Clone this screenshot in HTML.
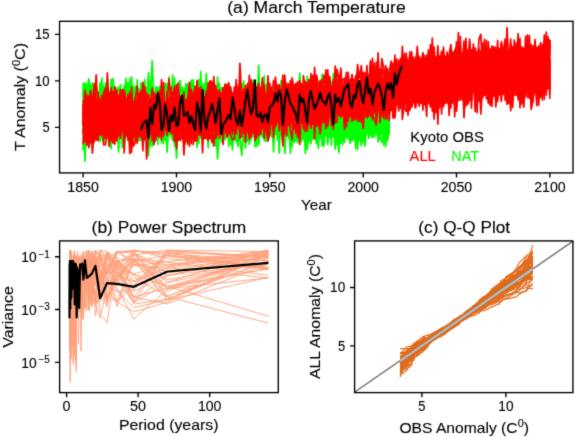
<!DOCTYPE html>
<html><head><meta charset="utf-8"><title>March Temperature</title><style>html,body{margin:0;padding:0;background:#fff;}svg{display:block;font-family:"Liberation Sans",sans-serif;}</style></head><body>
<svg width="575" height="437" viewBox="0 0 575 437">
<defs>
<filter id="bl" x="0" y="0" width="575" height="437" filterUnits="userSpaceOnUse" color-interpolation-filters="sRGB"><feConvolveMatrix order="3" kernelMatrix="0.01440 0.09120 0.01440 0.09120 0.57760 0.09120 0.01440 0.09120 0.01440" divisor="1" edgeMode="duplicate"/></filter>
<clipPath id="ca"><rect x="59.55" y="21.3" width="513.45" height="151.6"/></clipPath>
<clipPath id="cb"><rect x="59.6" y="240.9" width="218.70000000000002" height="151.70000000000002"/></clipPath>
<clipPath id="cc"><rect x="354.6" y="240.9" width="218.29999999999995" height="151.70000000000002"/></clipPath>
</defs>
<rect width="575" height="437" fill="#fff"/>
<g filter="url(#bl)">
<g clip-path="url(#ca)" fill="none" stroke-linejoin="round" stroke-linecap="butt">
<g stroke="#00ff00" stroke-width="1.7">
<polyline points="83.1,113.4 85,109.5 86.8,117 88.7,125 90.6,119.4 92.4,126.4 94.3,112.7 96.2,96 98,119.8 99.9,121.5 101.8,107.1 103.6,108.8 105.5,112.1 107.4,125.5 109.2,113.8 111.1,104.4 113,130.9 114.8,119.4 116.7,138.1 118.6,130.2 120.4,137.4 122.3,116.5 124.2,129.9 126,109.9 127.9,111.4 129.8,115.9 131.6,146.1 133.5,120.4 135.4,114.1 137.2,112 139.1,133.3 141,119.6 142.9,126.1 144.7,123.9 146.6,99.7 148.5,123.9 150.3,113.9 152.2,102 154.1,121 155.9,114.9 157.8,112 159.7,112.6 161.5,129.3 163.4,112.5 165.3,95.8 167.1,133.5 169,102.3 170.9,111.9 172.7,121.7 174.6,87.6 176.5,103.6 178.3,129 180.2,112.5 182.1,106 183.9,115.9 185.8,104.6 187.7,114.3 189.5,104.8 191.4,94.9 193.3,122.2 195.1,110.8 197,119.4 198.9,111.8 200.7,128.8 202.6,120.9 204.5,116 206.3,101.8 208.2,98.7 210.1,130.5 211.9,123.7 213.8,105.1 215.7,139.1 217.5,119.4 219.4,114.7 221.3,97.2 223.1,104.6 225,117.7 226.9,118.2 228.7,116.7 230.6,93.8 232.5,119 234.3,117.4 236.2,108.9 238.1,115 239.9,116 241.8,127.8 243.7,113.6 245.5,119.1 247.4,98.4 249.3,105 251.1,113.8 253,104.8 254.9,117.8 256.7,99.9 258.6,113.5 260.5,105.9 262.4,130 264.2,109 266.1,135.1 268,139.6 269.8,117.4 271.7,125 273.6,111.4 275.4,84.7 277.3,124.2 279.2,121.5 281,110.9 282.9,107.3 284.8,115.9 286.6,116.3 288.5,104.7 290.4,107 292.2,126.9 294.1,114.7 296,113.3 297.8,127.2 299.7,110.5 301.6,124.7 303.4,101.5 305.3,111.4 307.2,112.7 309,121.4 310.9,115.4 312.8,139.3 314.6,128.3 316.5,109.4 318.4,140.9 320.2,103.3 322.1,136.1 324,104.5 325.8,124.8 327.7,104.3 329.6,112.5 331.4,133.5 333.3,98.4 335.2,96.1 337,115.1 338.9,117.7 340.8,116.3 342.6,126.5 344.5,100.5 346.4,121.1 348.2,115 350.1,124.3 352,122.2 353.8,130.4 355.7,98.7 357.6,116.4 359.4,102.4 361.3,114.3 363.2,123.2 365,118.6 366.9,121.6 368.8,114.5 370.6,119.3 372.5,118.4 374.4,131.8 376.3,124.7 378.1,94.2 380,123.1 381.9,127.8 383.7,110.6 385.6,97.4 387.5,132.8 389.3,117.4"/>
<polyline points="83.1,121.7 85,136.4 86.8,103.9 88.7,113.7 90.6,112.5 92.4,123.2 94.3,107.5 96.2,120.5 98,115.3 99.9,127.9 101.8,129.3 103.6,96.1 105.5,120 107.4,109.6 109.2,113.9 111.1,119.2 113,120 114.8,105.3 116.7,117.4 118.6,115.4 120.4,113.2 122.3,98.2 124.2,104.6 126,108.5 127.9,120.8 129.8,131.4 131.6,101.1 133.5,100.9 135.4,115.3 137.2,106.4 139.1,103.3 141,102.7 142.9,101.5 144.7,119.3 146.6,93.8 148.5,129.6 150.3,102.3 152.2,107 154.1,102.1 155.9,89.1 157.8,94.2 159.7,128.3 161.5,135.3 163.4,102.9 165.3,126.6 167.1,113.6 169,102.6 170.9,134.7 172.7,140.7 174.6,110.1 176.5,112.9 178.3,116.6 180.2,112.9 182.1,124.6 183.9,133 185.8,115.6 187.7,126 189.5,134.7 191.4,106.9 193.3,114.2 195.1,108.2 197,126.2 198.9,121.9 200.7,126.3 202.6,124.9 204.5,110.9 206.3,123.5 208.2,108.8 210.1,109.1 211.9,87.3 213.8,131.4 215.7,102 217.5,114.6 219.4,113.6 221.3,132.1 223.1,119.4 225,103.9 226.9,114.5 228.7,112.4 230.6,117.2 232.5,98.6 234.3,113.7 236.2,141.8 238.1,122.4 239.9,138.8 241.8,155.3 243.7,120.3 245.5,96.3 247.4,112.8 249.3,128.5 251.1,125.5 253,98.9 254.9,111.4 256.7,112.8 258.6,114.1 260.5,112.9 262.4,103.1 264.2,106.3 266.1,110.7 268,126.8 269.8,106.9 271.7,122.2 273.6,99.5 275.4,129.8 277.3,115.3 279.2,113.6 281,130.5 282.9,91.6 284.8,94.9 286.6,119.6 288.5,103.8 290.4,108.8 292.2,147 294.1,110.5 296,114.5 297.8,112.7 299.7,127.5 301.6,117.2 303.4,116.1 305.3,98.8 307.2,109.6 309,114 310.9,94.5 312.8,121 314.6,118.9 316.5,137 318.4,94.2 320.2,101.8 322.1,102.5 324,105.6 325.8,112.7 327.7,111.4 329.6,117.3 331.4,116.7 333.3,113.5 335.2,95.2 337,107.2 338.9,115 340.8,121.6 342.6,122.3 344.5,94.2 346.4,108 348.2,113.5 350.1,118.7 352,128.3 353.8,115.3 355.7,103.5 357.6,119.4 359.4,117.3 361.3,117.3 363.2,113.2 365,134.4 366.9,117.5 368.8,125.2 370.6,103.6 372.5,124.2 374.4,107.5 376.3,95.7 378.1,118.6 380,122.2 381.9,112.4 383.7,114.8 385.6,127.1 387.5,109.1 389.3,89.9"/>
<polyline points="83.1,116.8 85,116.1 86.8,127.1 88.7,109.3 90.6,129.7 92.4,127.9 94.3,96.8 96.2,125.2 98,99.4 99.9,93.6 101.8,110.1 103.6,106.2 105.5,88 107.4,116 109.2,121.2 111.1,131 113,112.9 114.8,94.2 116.7,101 118.6,125.7 120.4,124.6 122.3,120 124.2,109.6 126,116.1 127.9,110.7 129.8,109.6 131.6,117.3 133.5,114 135.4,110.8 137.2,114.5 139.1,106.9 141,89.2 142.9,105.8 144.7,112.7 146.6,135.3 148.5,108.4 150.3,138.7 152.2,131.7 154.1,102.4 155.9,104.3 157.8,115.4 159.7,135.6 161.5,118.3 163.4,122.2 165.3,105.2 167.1,84.2 169,110.6 170.9,123.5 172.7,128.6 174.6,114.2 176.5,115.7 178.3,128.3 180.2,111.9 182.1,128.3 183.9,99.1 185.8,99.7 187.7,99.4 189.5,119.6 191.4,106.8 193.3,115.1 195.1,118.5 197,117.8 198.9,130.2 200.7,132.1 202.6,103.2 204.5,115.9 206.3,110.6 208.2,100.5 210.1,135.8 211.9,123.6 213.8,111.2 215.7,108.4 217.5,118.3 219.4,100.2 221.3,110.7 223.1,129.1 225,125.4 226.9,103.1 228.7,107.5 230.6,137.9 232.5,96.1 234.3,105.7 236.2,96.1 238.1,118.4 239.9,117.2 241.8,127.9 243.7,80.8 245.5,115.7 247.4,93 249.3,121.8 251.1,111.3 253,134.9 254.9,118.4 256.7,100.8 258.6,129.5 260.5,99.7 262.4,109.1 264.2,126.9 266.1,119.9 268,119.3 269.8,114.1 271.7,120.3 273.6,124.1 275.4,117.4 277.3,126.7 279.2,130.1 281,114.2 282.9,102.3 284.8,133.2 286.6,113.6 288.5,122 290.4,126.2 292.2,102.8 294.1,120.3 296,94.7 297.8,123.7 299.7,108.9 301.6,116.7 303.4,123.4 305.3,106.4 307.2,115.8 309,106.2 310.9,114.5 312.8,127.7 314.6,115.3 316.5,113.3 318.4,101.9 320.2,125.5 322.1,114.5 324,135.8 325.8,105.9 327.7,127.8 329.6,136.9 331.4,114.9 333.3,100.3 335.2,133.4 337,127.9 338.9,123.6 340.8,128.5 342.6,109.5 344.5,124.4 346.4,123.4 348.2,107 350.1,123.8 352,109 353.8,126.6 355.7,129.6 357.6,137.4 359.4,91.2 361.3,118.5 363.2,111.5 365,114.9 366.9,112.6 368.8,114 370.6,90.9 372.5,127.6 374.4,134 376.3,127.3 378.1,131.3 380,105.5 381.9,104.6 383.7,126.7 385.6,132 387.5,119.2 389.3,97.6"/>
<polyline points="83.1,150.2 85,106.6 86.8,127.5 88.7,99.9 90.6,127.5 92.4,117.2 94.3,133 96.2,126.2 98,95.4 99.9,102.8 101.8,118.7 103.6,124.8 105.5,138.1 107.4,118.6 109.2,113.8 111.1,114.5 113,114.7 114.8,128 116.7,114.3 118.6,113.9 120.4,96.7 122.3,89.2 124.2,115.2 126,123.4 127.9,114.3 129.8,121.3 131.6,123.1 133.5,114.2 135.4,127 137.2,105.6 139.1,114.8 141,110.2 142.9,115.8 144.7,122.9 146.6,125.7 148.5,116.5 150.3,120.6 152.2,110.4 154.1,113.5 155.9,131.1 157.8,112.6 159.7,130.8 161.5,121.4 163.4,117.3 165.3,140.3 167.1,112.3 169,111.5 170.9,115.5 172.7,118.9 174.6,118.3 176.5,126.1 178.3,116.9 180.2,120.6 182.1,112.3 183.9,129 185.8,110.4 187.7,111.6 189.5,115.3 191.4,119.1 193.3,106.3 195.1,134.9 197,107.5 198.9,110.3 200.7,109.8 202.6,108.5 204.5,121.9 206.3,116.8 208.2,105.2 210.1,107.9 211.9,110.8 213.8,133 215.7,106.5 217.5,98.4 219.4,100.4 221.3,110.4 223.1,133.5 225,101.3 226.9,115.3 228.7,146.1 230.6,108.6 232.5,132.7 234.3,130.1 236.2,121.6 238.1,97.1 239.9,118.2 241.8,110 243.7,90.9 245.5,92.9 247.4,114.8 249.3,116.5 251.1,129.7 253,122.4 254.9,108 256.7,108.4 258.6,112 260.5,100.7 262.4,123.4 264.2,114.2 266.1,104 268,105.9 269.8,99.7 271.7,108.4 273.6,117.5 275.4,108.9 277.3,126.4 279.2,134.5 281,106.1 282.9,114.3 284.8,109.7 286.6,135.3 288.5,118.3 290.4,121.3 292.2,124.7 294.1,142.5 296,118 297.8,102.3 299.7,108.9 301.6,121.5 303.4,114 305.3,104.2 307.2,148.9 309,115.5 310.9,107 312.8,105.3 314.6,92.4 316.5,99.6 318.4,110.1 320.2,110.2 322.1,104.1 324,120.9 325.8,114.6 327.7,102.7 329.6,89.5 331.4,116.2 333.3,114.8 335.2,111.7 337,97.3 338.9,114.6 340.8,95.8 342.6,126.4 344.5,116.6 346.4,116.8 348.2,104.5 350.1,101.3 352,133.3 353.8,125.9 355.7,110.2 357.6,122.7 359.4,133.5 361.3,101.5 363.2,108.4 365,108.4 366.9,120.5 368.8,101.8 370.6,117.6 372.5,101 374.4,126 376.3,125.3 378.1,112.2 380,123.4 381.9,106.4 383.7,111.5 385.6,126.2 387.5,113.9 389.3,119.2"/>
<polyline points="83.1,101.5 85,121.7 86.8,119.2 88.7,97.7 90.6,84.3 92.4,87.4 94.3,112.6 96.2,110.6 98,93.5 99.9,115.1 101.8,126.1 103.6,111.9 105.5,107.6 107.4,124.2 109.2,134.8 111.1,132.1 113,104.8 114.8,123.3 116.7,115.3 118.6,110.7 120.4,105.4 122.3,117.8 124.2,107 126,125 127.9,118.1 129.8,126.7 131.6,98.8 133.5,113.8 135.4,123 137.2,118 139.1,116.3 141,104.4 142.9,134.1 144.7,126.9 146.6,118.3 148.5,80.6 150.3,101.1 152.2,114.9 154.1,104.2 155.9,86.8 157.8,116.5 159.7,118.2 161.5,97.7 163.4,107 165.3,104.7 167.1,120 169,88.5 170.9,91.3 172.7,106.1 174.6,104.6 176.5,139.7 178.3,105.2 180.2,116 182.1,107.8 183.9,104.6 185.8,117.9 187.7,135.3 189.5,108.7 191.4,123 193.3,117.7 195.1,121.2 197,117.9 198.9,143.3 200.7,97.7 202.6,110.2 204.5,99.1 206.3,87.9 208.2,113.1 210.1,136.7 211.9,125 213.8,129 215.7,119.9 217.5,112.4 219.4,139.3 221.3,109 223.1,132.9 225,109.6 226.9,114.9 228.7,117.5 230.6,114.4 232.5,120.4 234.3,121.3 236.2,135.1 238.1,113.8 239.9,89.7 241.8,88 243.7,96.4 245.5,104.4 247.4,122.1 249.3,94.9 251.1,114.2 253,114.3 254.9,117.2 256.7,112.3 258.6,119 260.5,114.5 262.4,127.4 264.2,118.2 266.1,84.1 268,114.3 269.8,116.5 271.7,106.6 273.6,104.4 275.4,127.8 277.3,116.2 279.2,101.8 281,110.1 282.9,112 284.8,93.7 286.6,122.3 288.5,112.6 290.4,120.3 292.2,94.7 294.1,138.6 296,122.3 297.8,120.5 299.7,105.3 301.6,106.1 303.4,96.1 305.3,133.9 307.2,104.3 309,117.6 310.9,122.4 312.8,107.1 314.6,125.6 316.5,140.3 318.4,118.7 320.2,133 322.1,122.3 324,109.4 325.8,110.2 327.7,94.1 329.6,116.7 331.4,133.5 333.3,123.7 335.2,125.8 337,129.5 338.9,108.8 340.8,122.4 342.6,139.1 344.5,105.6 346.4,115.7 348.2,109.9 350.1,113.1 352,106.5 353.8,113.9 355.7,99 357.6,109.2 359.4,109.6 361.3,109.4 363.2,132.7 365,116.6 366.9,117.8 368.8,112 370.6,131.5 372.5,94.3 374.4,113.4 376.3,129.7 378.1,135.9 380,118.2 381.9,115.9 383.7,123.7 385.6,113.7 387.5,122.8 389.3,108"/>
<polyline points="83.1,122.9 85,113.9 86.8,100.7 88.7,80 90.6,126.6 92.4,119.5 94.3,124.4 96.2,103.2 98,128.4 99.9,119.7 101.8,113.8 103.6,126.2 105.5,125.9 107.4,119.6 109.2,140.8 111.1,132.2 113,118.8 114.8,111.5 116.7,115.9 118.6,136.5 120.4,119.5 122.3,103.1 124.2,106.2 126,114.5 127.9,125 129.8,105.2 131.6,121 133.5,128.6 135.4,123.9 137.2,94.6 139.1,110.6 141,98.4 142.9,119.7 144.7,101.3 146.6,121.2 148.5,115.5 150.3,81.2 152.2,103.5 154.1,119.9 155.9,114.5 157.8,109.2 159.7,97.8 161.5,119.8 163.4,136 165.3,117.1 167.1,113.2 169,112 170.9,96.4 172.7,109.3 174.6,102.9 176.5,127.7 178.3,102.2 180.2,86.3 182.1,103.4 183.9,110.2 185.8,111.5 187.7,90.3 189.5,125.4 191.4,114.9 193.3,107.5 195.1,103.8 197,119.1 198.9,109.5 200.7,117 202.6,111.9 204.5,115.1 206.3,128.2 208.2,113.7 210.1,102.1 211.9,125.9 213.8,116.6 215.7,104.9 217.5,127.2 219.4,111.1 221.3,127.1 223.1,98.8 225,83.6 226.9,87.4 228.7,116.3 230.6,103.9 232.5,111.9 234.3,112.1 236.2,93.5 238.1,130.4 239.9,99.9 241.8,114.1 243.7,95.3 245.5,111 247.4,122.1 249.3,109.9 251.1,104 253,113 254.9,107.2 256.7,120.1 258.6,140.9 260.5,101.9 262.4,104.5 264.2,111.5 266.1,112.6 268,100.1 269.8,119.3 271.7,122.5 273.6,115.9 275.4,98.3 277.3,131.3 279.2,98.3 281,121.8 282.9,127.7 284.8,97.5 286.6,114.9 288.5,130.3 290.4,118.3 292.2,101.8 294.1,98.5 296,119.2 297.8,108.6 299.7,104.7 301.6,122 303.4,109.3 305.3,114.3 307.2,120.7 309,120.1 310.9,113.1 312.8,113.6 314.6,121.1 316.5,119.4 318.4,99.9 320.2,111.3 322.1,102.9 324,98.9 325.8,106.7 327.7,85.5 329.6,124.5 331.4,104 333.3,118.2 335.2,90.8 337,92.8 338.9,138.8 340.8,126.4 342.6,105.9 344.5,104.4 346.4,105.1 348.2,115.2 350.1,108.7 352,106.2 353.8,115.4 355.7,101.6 357.6,142.7 359.4,106.6 361.3,127.4 363.2,102.6 365,117.4 366.9,125.7 368.8,109.9 370.6,126 372.5,126 374.4,134.2 376.3,115 378.1,108.5 380,102 381.9,116.5 383.7,101.8 385.6,114.6 387.5,116 389.3,107.7"/>
<polyline points="83.1,99.7 85,117.9 86.8,116.6 88.7,115.5 90.6,112.4 92.4,125.2 94.3,100.1 96.2,118.7 98,107.4 99.9,124.2 101.8,108.8 103.6,108.3 105.5,118.9 107.4,87.2 109.2,108.6 111.1,90.3 113,101 114.8,122 116.7,118.4 118.6,107.8 120.4,112.6 122.3,112.8 124.2,117.2 126,136.9 127.9,116.4 129.8,142.2 131.6,108.6 133.5,122.9 135.4,122.7 137.2,116.3 139.1,109.9 141,132 142.9,136.1 144.7,127.3 146.6,139.9 148.5,126 150.3,92.8 152.2,127.1 154.1,105 155.9,131.2 157.8,109.6 159.7,117.6 161.5,114.2 163.4,106.1 165.3,90.7 167.1,110.9 169,111.8 170.9,126 172.7,105.9 174.6,116.6 176.5,102.7 178.3,114 180.2,90.9 182.1,139.1 183.9,117.3 185.8,102 187.7,118 189.5,123.7 191.4,116.9 193.3,131.3 195.1,111.9 197,81.9 198.9,98.7 200.7,127.8 202.6,124.7 204.5,118.7 206.3,100.5 208.2,124 210.1,122.3 211.9,102 213.8,102.3 215.7,118.3 217.5,127.9 219.4,133.4 221.3,122.5 223.1,142.2 225,103.8 226.9,121.6 228.7,107.2 230.6,89.4 232.5,98.3 234.3,128.3 236.2,102.2 238.1,98.5 239.9,123 241.8,125.7 243.7,114.9 245.5,134 247.4,94.5 249.3,144.4 251.1,127.7 253,116.9 254.9,116.4 256.7,111.3 258.6,110 260.5,116.2 262.4,98.8 264.2,140.9 266.1,113.4 268,122.6 269.8,111.7 271.7,110.6 273.6,125.2 275.4,121.7 277.3,103.4 279.2,109.1 281,122.3 282.9,87.5 284.8,84.1 286.6,132.3 288.5,109.8 290.4,81.7 292.2,103.7 294.1,110.9 296,116.4 297.8,120.7 299.7,116.5 301.6,120.8 303.4,104.4 305.3,118.9 307.2,119.5 309,129.2 310.9,114.5 312.8,125.3 314.6,116.3 316.5,100.8 318.4,109.4 320.2,107.6 322.1,109.6 324,113.3 325.8,115.7 327.7,118 329.6,104.6 331.4,127.8 333.3,97.3 335.2,113.8 337,123.6 338.9,120.4 340.8,122.8 342.6,112.3 344.5,123.3 346.4,100 348.2,124.2 350.1,142.9 352,123.6 353.8,139.6 355.7,114.9 357.6,101.2 359.4,106.4 361.3,131.2 363.2,124 365,92.4 366.9,110.6 368.8,114.5 370.6,101.5 372.5,84.1 374.4,98.5 376.3,113 378.1,110.3 380,107.1 381.9,122.4 383.7,127.9 385.6,114.1 387.5,126.5 389.3,115.6"/>
<polyline points="83.1,112.2 85,82.9 86.8,124.5 88.7,115 90.6,115.6 92.4,107.7 94.3,99.8 96.2,119.8 98,124.1 99.9,134.8 101.8,125.5 103.6,106.5 105.5,112.8 107.4,126.6 109.2,118.3 111.1,113 113,106.9 114.8,121.2 116.7,116.7 118.6,137.1 120.4,128.4 122.3,92.4 124.2,141.9 126,117.8 127.9,110.6 129.8,118.3 131.6,123.9 133.5,114.2 135.4,113.5 137.2,114.5 139.1,137.8 141,115.4 142.9,124.5 144.7,120.5 146.6,110.5 148.5,105.1 150.3,101.8 152.2,119.9 154.1,101.5 155.9,98.2 157.8,98.7 159.7,95.4 161.5,115.3 163.4,115.7 165.3,102.8 167.1,131.1 169,110.7 170.9,120.3 172.7,118.2 174.6,136 176.5,125 178.3,113.7 180.2,102 182.1,100.6 183.9,114.5 185.8,115.9 187.7,124.2 189.5,108.2 191.4,116.6 193.3,105.6 195.1,90.8 197,113.9 198.9,132.8 200.7,124.6 202.6,132.3 204.5,128.9 206.3,96.6 208.2,110.5 210.1,133.1 211.9,105 213.8,97.2 215.7,118.1 217.5,122.2 219.4,117.8 221.3,109.8 223.1,105.2 225,98.2 226.9,97.8 228.7,98.2 230.6,95.9 232.5,104.9 234.3,133.2 236.2,115.1 238.1,109.4 239.9,118.4 241.8,101.7 243.7,118.1 245.5,125.4 247.4,94.9 249.3,104.9 251.1,110.6 253,101.5 254.9,99.8 256.7,109.1 258.6,145 260.5,122.1 262.4,119.3 264.2,126.1 266.1,110.9 268,98.1 269.8,119.7 271.7,128 273.6,87.5 275.4,119.3 277.3,129.3 279.2,110.5 281,108.1 282.9,122.6 284.8,103.5 286.6,119.9 288.5,125.4 290.4,111.4 292.2,103.9 294.1,121.8 296,109.5 297.8,115 299.7,77.8 301.6,122.8 303.4,96.2 305.3,114.5 307.2,115.5 309,104.7 310.9,102.6 312.8,97.9 314.6,109.8 316.5,121.6 318.4,120.8 320.2,107.6 322.1,106.7 324,96.4 325.8,108.8 327.7,100.7 329.6,95 331.4,112.1 333.3,132.9 335.2,129 337,132.3 338.9,94.2 340.8,124.9 342.6,98.8 344.5,107 346.4,92.8 348.2,101.8 350.1,115.7 352,116.9 353.8,113.4 355.7,112.3 357.6,121.1 359.4,114.9 361.3,94.4 363.2,135.8 365,111.3 366.9,125.9 368.8,112.3 370.6,104.2 372.5,115.4 374.4,105.1 376.3,134.4 378.1,101 380,122.2 381.9,107 383.7,112.5 385.6,146.8 387.5,124.2 389.3,112.1"/>
<polyline points="83.1,93.2 85,109.7 86.8,110.1 88.7,131.8 90.6,94.8 92.4,89.9 94.3,113.1 96.2,116.3 98,134.5 99.9,101.9 101.8,78.3 103.6,104.1 105.5,97 107.4,106.4 109.2,126.2 111.1,96.1 113,129.5 114.8,116.2 116.7,109.8 118.6,102 120.4,108 122.3,108.4 124.2,123.3 126,130.2 127.9,112.6 129.8,122.7 131.6,130.4 133.5,129.9 135.4,119.8 137.2,137.5 139.1,130.9 141,134.6 142.9,111.1 144.7,108.2 146.6,87.4 148.5,132.9 150.3,122.2 152.2,101.6 154.1,116.2 155.9,117.7 157.8,91.3 159.7,117.8 161.5,128.4 163.4,130.5 165.3,109.1 167.1,109.5 169,131.2 170.9,126.2 172.7,106.5 174.6,106 176.5,121.8 178.3,105.4 180.2,106 182.1,136.5 183.9,117.5 185.8,108.1 187.7,120.8 189.5,141.1 191.4,117.1 193.3,103.7 195.1,93 197,141.7 198.9,79.7 200.7,128 202.6,101.1 204.5,97.5 206.3,100.8 208.2,111.5 210.1,128.4 211.9,105.4 213.8,122.7 215.7,146 217.5,77 219.4,104.3 221.3,90 223.1,125.2 225,94.5 226.9,93 228.7,93.4 230.6,113.7 232.5,128.9 234.3,115.7 236.2,141.8 238.1,135.4 239.9,112.3 241.8,126.2 243.7,115.6 245.5,114.8 247.4,88.6 249.3,96.7 251.1,114 253,97.9 254.9,123.5 256.7,117.8 258.6,101.7 260.5,129.4 262.4,117 264.2,130.4 266.1,111.9 268,92.5 269.8,123.1 271.7,110.6 273.6,125 275.4,128.2 277.3,129.4 279.2,94.9 281,83.3 282.9,107.4 284.8,122.8 286.6,104.6 288.5,117.9 290.4,103.5 292.2,110 294.1,110.2 296,106 297.8,121.1 299.7,118.9 301.6,135.7 303.4,119.5 305.3,131.9 307.2,115.7 309,126.1 310.9,112.6 312.8,108.2 314.6,132 316.5,124.3 318.4,125.9 320.2,104.6 322.1,92.5 324,103.3 325.8,118.5 327.7,95.6 329.6,133.2 331.4,95.3 333.3,122.4 335.2,149.2 337,80.9 338.9,94.4 340.8,127.2 342.6,112.2 344.5,117 346.4,113.1 348.2,133 350.1,122.9 352,108.5 353.8,111.6 355.7,99.4 357.6,113.5 359.4,85.1 361.3,123.4 363.2,111.3 365,138.5 366.9,130.2 368.8,98 370.6,126.4 372.5,108 374.4,115.4 376.3,127.7 378.1,119 380,121.1 381.9,120.8 383.7,105.4 385.6,106.7 387.5,122 389.3,126.1"/>
<polyline points="83.1,109.8 85,114.7 86.8,100 88.7,78.9 90.6,102.5 92.4,113.9 94.3,115.7 96.2,124.6 98,125.2 99.9,126.5 101.8,118.6 103.6,119 105.5,103.8 107.4,118.6 109.2,116 111.1,129.3 113,92.1 114.8,106.9 116.7,90.2 118.6,103.1 120.4,94.1 122.3,116.7 124.2,104.1 126,78.3 127.9,129.3 129.8,98.2 131.6,91.4 133.5,108 135.4,103.5 137.2,96.8 139.1,122.1 141,108 142.9,125 144.7,122.4 146.6,121.6 148.5,115.3 150.3,111.5 152.2,107.4 154.1,132.2 155.9,87.2 157.8,98.1 159.7,103.8 161.5,118.2 163.4,114.6 165.3,106.2 167.1,108 169,135.7 170.9,103.6 172.7,74.8 174.6,137.9 176.5,100.3 178.3,108.5 180.2,114.9 182.1,95.2 183.9,129.1 185.8,111.3 187.7,94 189.5,116.1 191.4,119 193.3,111.9 195.1,119.3 197,92.9 198.9,125.5 200.7,101.9 202.6,130.1 204.5,104.6 206.3,114.8 208.2,147.7 210.1,113.5 211.9,127.6 213.8,119.3 215.7,93 217.5,128.3 219.4,127.5 221.3,94.4 223.1,111.9 225,93 226.9,109.2 228.7,125.1 230.6,114.3 232.5,97.2 234.3,101 236.2,113.4 238.1,112.8 239.9,114.9 241.8,121.1 243.7,87.9 245.5,113.3 247.4,128.4 249.3,119.7 251.1,103.8 253,105 254.9,115.3 256.7,122.3 258.6,113.1 260.5,135.6 262.4,130.6 264.2,102.9 266.1,119.8 268,108.5 269.8,97.4 271.7,104.9 273.6,113.2 275.4,85.5 277.3,104.7 279.2,118.2 281,103.9 282.9,108.2 284.8,124.9 286.6,112.7 288.5,115.8 290.4,139.5 292.2,116 294.1,117.4 296,119.5 297.8,135.3 299.7,118.4 301.6,114.3 303.4,112.5 305.3,128.7 307.2,105.6 309,129.8 310.9,116.8 312.8,96.9 314.6,123 316.5,120.6 318.4,100 320.2,119 322.1,117.9 324,111.2 325.8,100.5 327.7,142.7 329.6,124.9 331.4,127.2 333.3,128.2 335.2,125.3 337,125.1 338.9,110.4 340.8,125.7 342.6,112.7 344.5,109.1 346.4,123.7 348.2,112.7 350.1,93.4 352,110.3 353.8,122.6 355.7,115.3 357.6,126.2 359.4,111 361.3,103.5 363.2,125 365,117.2 366.9,100.4 368.8,120.9 370.6,112.2 372.5,127.7 374.4,125.1 376.3,121.2 378.1,87.7 380,119.8 381.9,121.3 383.7,121.8 385.6,116.8 387.5,106.7 389.3,112.5"/>
<polyline points="83.1,86.6 85,110.7 86.8,94.6 88.7,109.8 90.6,105.6 92.4,132.2 94.3,115.1 96.2,114.3 98,116.6 99.9,141.5 101.8,102 103.6,118.5 105.5,119.1 107.4,116.8 109.2,116.4 111.1,108.1 113,130 114.8,125.5 116.7,109.7 118.6,111.5 120.4,118.3 122.3,120.9 124.2,124.3 126,114.2 127.9,98.1 129.8,127.2 131.6,93.7 133.5,102.5 135.4,119.3 137.2,103.3 139.1,132.5 141,135.9 142.9,130.2 144.7,118.8 146.6,117.7 148.5,120.1 150.3,112.2 152.2,141.1 154.1,107 155.9,131.8 157.8,122 159.7,118.8 161.5,128.4 163.4,131.2 165.3,126.5 167.1,113.6 169,105.8 170.9,106.1 172.7,126.3 174.6,123.7 176.5,125.3 178.3,107.6 180.2,139.8 182.1,97.4 183.9,119.7 185.8,123.6 187.7,109.1 189.5,100.1 191.4,109 193.3,99.8 195.1,111.7 197,97.6 198.9,97.4 200.7,114.7 202.6,94.9 204.5,111.3 206.3,112.3 208.2,125.3 210.1,117.2 211.9,103.4 213.8,130.4 215.7,105.1 217.5,108.9 219.4,109.9 221.3,141.9 223.1,114.8 225,105.1 226.9,123.3 228.7,112.3 230.6,144.1 232.5,104.8 234.3,122 236.2,102.2 238.1,137.2 239.9,104.5 241.8,116.5 243.7,103 245.5,125.4 247.4,121.4 249.3,84.6 251.1,124.1 253,122.5 254.9,117 256.7,126.6 258.6,98.1 260.5,91.3 262.4,122.5 264.2,135.6 266.1,98.4 268,99.2 269.8,102.9 271.7,98.6 273.6,124.6 275.4,115.7 277.3,131.3 279.2,131.7 281,101 282.9,122.2 284.8,84.5 286.6,112.7 288.5,121.8 290.4,103.5 292.2,90.7 294.1,107.5 296,129.3 297.8,109 299.7,96.3 301.6,120.1 303.4,123.7 305.3,100.9 307.2,112.1 309,127.9 310.9,118.7 312.8,123.5 314.6,110.2 316.5,112.6 318.4,99.5 320.2,105.1 322.1,133.8 324,108.9 325.8,102.8 327.7,108.4 329.6,101.2 331.4,121.1 333.3,126.2 335.2,102.5 337,127.6 338.9,141.4 340.8,101.4 342.6,123.4 344.5,118.2 346.4,131.9 348.2,131 350.1,128.9 352,118.9 353.8,109.8 355.7,143.2 357.6,105.1 359.4,129.3 361.3,127.8 363.2,106.1 365,115.5 366.9,133.7 368.8,91.6 370.6,125.3 372.5,111.6 374.4,112.2 376.3,97.1 378.1,120.4 380,102.2 381.9,124 383.7,100.9 385.6,124.2 387.5,119.3 389.3,91.4"/>
<polyline points="83.1,109.3 85,112 86.8,84.2 88.7,108.7 90.6,124.1 92.4,103.9 94.3,128.8 96.2,98.8 98,97.7 99.9,120.9 101.8,121.6 103.6,111.1 105.5,113.3 107.4,126.2 109.2,106.1 111.1,140 113,119.1 114.8,118.7 116.7,117 118.6,109.4 120.4,129.4 122.3,105.8 124.2,115.8 126,121.9 127.9,131.2 129.8,128.8 131.6,108.8 133.5,125.9 135.4,112.6 137.2,99.7 139.1,100 141,93.2 142.9,117.3 144.7,127.5 146.6,100.2 148.5,109.4 150.3,98.9 152.2,113.3 154.1,97.9 155.9,102.5 157.8,104.2 159.7,106.9 161.5,108.3 163.4,110.4 165.3,110.5 167.1,100.6 169,120.1 170.9,91 172.7,114.8 174.6,100.7 176.5,114.6 178.3,116.6 180.2,87.2 182.1,117.4 183.9,130 185.8,122.7 187.7,117.5 189.5,85.6 191.4,110.8 193.3,101.4 195.1,126.4 197,108.9 198.9,104.8 200.7,90.2 202.6,122.4 204.5,105.7 206.3,109.5 208.2,126.6 210.1,113.7 211.9,116.8 213.8,143.4 215.7,105.7 217.5,106.5 219.4,119.1 221.3,130.7 223.1,94.4 225,110 226.9,100.3 228.7,95.3 230.6,120.2 232.5,103 234.3,116.5 236.2,114.2 238.1,114.5 239.9,113.5 241.8,99.1 243.7,111.8 245.5,115.4 247.4,117 249.3,109.1 251.1,124.9 253,119.9 254.9,114.1 256.7,120.7 258.6,115 260.5,121.3 262.4,87.7 264.2,96.4 266.1,107.7 268,114.1 269.8,85.3 271.7,109.3 273.6,114.6 275.4,109.6 277.3,109.6 279.2,95.5 281,113.8 282.9,86.7 284.8,124.9 286.6,104.8 288.5,126.5 290.4,90.5 292.2,117.9 294.1,114.5 296,102 297.8,97.8 299.7,127.9 301.6,118.2 303.4,131.6 305.3,112.1 307.2,115.2 309,118.3 310.9,122.6 312.8,118.8 314.6,123.4 316.5,107.3 318.4,94.8 320.2,138.4 322.1,115.5 324,119.4 325.8,107.9 327.7,126.1 329.6,116 331.4,127.3 333.3,105.4 335.2,113 337,116.3 338.9,109.6 340.8,117.4 342.6,133.8 344.5,106.8 346.4,110.7 348.2,116.3 350.1,102 352,99.1 353.8,128.1 355.7,124.2 357.6,95.1 359.4,96.8 361.3,123.7 363.2,129.3 365,122.5 366.9,120.8 368.8,134.3 370.6,114.2 372.5,130.6 374.4,129.7 376.3,103.3 378.1,123.2 380,115.6 381.9,106.9 383.7,104.7 385.6,119 387.5,114.3 389.3,125.1"/>
<polyline points="83.1,90.7 85,105 86.8,127.8 88.7,113.4 90.6,104.1 92.4,107.2 94.3,89.6 96.2,95.6 98,120.5 99.9,114.6 101.8,130.1 103.6,110.2 105.5,111.5 107.4,78.3 109.2,112.2 111.1,140.7 113,122.2 114.8,112 116.7,129.8 118.6,124.7 120.4,118.2 122.3,109 124.2,115.6 126,125 127.9,103.2 129.8,120.4 131.6,119.9 133.5,131.3 135.4,123.6 137.2,105 139.1,134.4 141,114.4 142.9,104.1 144.7,118.3 146.6,110.3 148.5,127.9 150.3,96.5 152.2,99.2 154.1,110.4 155.9,136.2 157.8,127 159.7,100.8 161.5,91.3 163.4,109.6 165.3,97.3 167.1,121.3 169,115.9 170.9,113.4 172.7,108 174.6,133.2 176.5,101.3 178.3,96.3 180.2,128.3 182.1,131 183.9,108.9 185.8,121.9 187.7,144.1 189.5,103 191.4,111.4 193.3,119.6 195.1,86.1 197,111.6 198.9,123.2 200.7,112.1 202.6,126.9 204.5,123.3 206.3,108.5 208.2,120.6 210.1,119.3 211.9,91.9 213.8,102.4 215.7,103.1 217.5,106.6 219.4,107.2 221.3,94.7 223.1,113.7 225,89.5 226.9,125.7 228.7,116.7 230.6,131.2 232.5,117.9 234.3,106.8 236.2,94.8 238.1,122 239.9,113.4 241.8,118.1 243.7,122.9 245.5,128.7 247.4,112.7 249.3,135.7 251.1,112 253,113.2 254.9,121.9 256.7,126.4 258.6,131.2 260.5,89.4 262.4,130.7 264.2,93.4 266.1,105.7 268,118.1 269.8,128.3 271.7,100.1 273.6,91.3 275.4,125.5 277.3,117.4 279.2,100.1 281,109.3 282.9,88 284.8,120.9 286.6,106.7 288.5,129.6 290.4,86.9 292.2,123 294.1,141.9 296,115.3 297.8,115.5 299.7,89.4 301.6,118.1 303.4,114 305.3,106.3 307.2,93.7 309,114.7 310.9,100.7 312.8,107.4 314.6,117.7 316.5,113 318.4,113.6 320.2,125.6 322.1,98.7 324,131.6 325.8,99.3 327.7,102.1 329.6,115.3 331.4,123.8 333.3,117 335.2,108.3 337,104.9 338.9,110.6 340.8,101.8 342.6,121.3 344.5,111.4 346.4,134 348.2,104.8 350.1,112.5 352,119.6 353.8,99.9 355.7,105.8 357.6,149.7 359.4,114 361.3,132.7 363.2,101.2 365,83.5 366.9,121 368.8,113.7 370.6,117.7 372.5,110.3 374.4,106.6 376.3,98.7 378.1,127 380,95.2 381.9,126.3 383.7,111.3 385.6,100.4 387.5,106 389.3,126.5"/>
<polyline points="83.1,122.6 85,119.5 86.8,114.1 88.7,98.5 90.6,130.3 92.4,107.4 94.3,105.5 96.2,106.2 98,107.4 99.9,93.7 101.8,107.1 103.6,102.3 105.5,106.1 107.4,90.1 109.2,138.1 111.1,96.8 113,116.8 114.8,117.1 116.7,126 118.6,137.7 120.4,118.4 122.3,122.4 124.2,107 126,132.6 127.9,94.9 129.8,109.9 131.6,116.7 133.5,122.6 135.4,123.7 137.2,128.1 139.1,120.5 141,113.4 142.9,115.7 144.7,131.8 146.6,116.9 148.5,125 150.3,111.4 152.2,89.3 154.1,105.3 155.9,117.5 157.8,134.5 159.7,131.8 161.5,135.3 163.4,104 165.3,123.3 167.1,112.6 169,121.5 170.9,112.3 172.7,95.3 174.6,122.3 176.5,117.9 178.3,123.9 180.2,102.1 182.1,126.7 183.9,128.1 185.8,131.4 187.7,131.6 189.5,107.4 191.4,80.2 193.3,126.3 195.1,101.2 197,110.2 198.9,127.7 200.7,117 202.6,116.4 204.5,122.4 206.3,88.5 208.2,138 210.1,108.5 211.9,109.2 213.8,120.9 215.7,111.5 217.5,102.1 219.4,111.5 221.3,108.1 223.1,104.5 225,139.6 226.9,94.4 228.7,84.1 230.6,100.8 232.5,100.4 234.3,131.6 236.2,115 238.1,123.9 239.9,121 241.8,101 243.7,123.8 245.5,115.1 247.4,138 249.3,115.5 251.1,112.3 253,122.5 254.9,122.7 256.7,89.2 258.6,129 260.5,126.9 262.4,123.8 264.2,98 266.1,86.4 268,109.2 269.8,122.7 271.7,119 273.6,99.8 275.4,125.2 277.3,94.9 279.2,95.4 281,112.7 282.9,105.3 284.8,104 286.6,93.8 288.5,127.1 290.4,98.6 292.2,118.5 294.1,123.5 296,112.4 297.8,116.5 299.7,126.4 301.6,134.1 303.4,125.8 305.3,95.4 307.2,89 309,105.6 310.9,98.9 312.8,120.5 314.6,114.9 316.5,110.4 318.4,127.7 320.2,126.5 322.1,112.8 324,118.1 325.8,127.5 327.7,109.2 329.6,117.5 331.4,101.3 333.3,114.2 335.2,118 337,112.6 338.9,116.4 340.8,122.7 342.6,119.3 344.5,104.9 346.4,106.2 348.2,98.2 350.1,135.6 352,119.3 353.8,119.6 355.7,112.3 357.6,120.1 359.4,120.9 361.3,104.7 363.2,112.3 365,129.1 366.9,97.9 368.8,102.2 370.6,121.8 372.5,104.3 374.4,123.8 376.3,100.7 378.1,117.4 380,124.7 381.9,119.4 383.7,124.3 385.6,112.4 387.5,112.6 389.3,114.4"/>
<polyline points="83.1,120.7 85,161.1 86.8,112.2 88.7,138.1 90.6,110.3 92.4,98.7 94.3,109.9 96.2,118.5 98,115.8 99.9,115.2 101.8,120.6 103.6,121 105.5,125.5 107.4,98 109.2,113.6 111.1,101 113,116.7 114.8,112.5 116.7,115.7 118.6,107.4 120.4,102.7 122.3,110.3 124.2,122.2 126,123.6 127.9,91.9 129.8,117.1 131.6,117.2 133.5,94.4 135.4,99.3 137.2,106.5 139.1,118.6 141,82.9 142.9,108.3 144.7,106.3 146.6,115.7 148.5,131.8 150.3,130.7 152.2,108.2 154.1,108.4 155.9,116.6 157.8,128.6 159.7,132.1 161.5,117.7 163.4,132.3 165.3,101.8 167.1,98.5 169,76.8 170.9,102.1 172.7,121.1 174.6,124.7 176.5,158.1 178.3,121.1 180.2,115.7 182.1,100.9 183.9,105.5 185.8,105.8 187.7,110.7 189.5,104.9 191.4,94.7 193.3,127.2 195.1,119.3 197,131.4 198.9,92.5 200.7,96.7 202.6,103.7 204.5,128.9 206.3,111.2 208.2,116.5 210.1,112.4 211.9,115.9 213.8,106.7 215.7,118.5 217.5,102.4 219.4,110.3 221.3,117.2 223.1,114.9 225,119.1 226.9,103 228.7,116.9 230.6,109.6 232.5,118.5 234.3,132.6 236.2,101.8 238.1,127.1 239.9,104.7 241.8,108 243.7,134.8 245.5,125.6 247.4,120.1 249.3,124 251.1,128.6 253,103.9 254.9,116.5 256.7,108.5 258.6,119 260.5,109.5 262.4,123.1 264.2,113.8 266.1,106 268,112.9 269.8,119.3 271.7,127.4 273.6,111.3 275.4,109.1 277.3,116.8 279.2,123.4 281,106.6 282.9,81.8 284.8,117.5 286.6,109.3 288.5,108.8 290.4,146.4 292.2,112.1 294.1,122.7 296,96.1 297.8,117 299.7,123.7 301.6,116.6 303.4,111.7 305.3,121 307.2,114.5 309,131.1 310.9,116.8 312.8,104.1 314.6,89 316.5,105 318.4,110.6 320.2,99.1 322.1,101.2 324,93.1 325.8,100.4 327.7,115.6 329.6,110.9 331.4,111.9 333.3,110.4 335.2,111.7 337,124.1 338.9,140.7 340.8,122.7 342.6,139.7 344.5,113.5 346.4,114.3 348.2,135.4 350.1,105.8 352,103.5 353.8,113.2 355.7,93.6 357.6,91.1 359.4,129.6 361.3,101.6 363.2,109 365,109.3 366.9,102.9 368.8,123.6 370.6,122 372.5,124.9 374.4,124 376.3,115.9 378.1,132.7 380,127.7 381.9,107.6 383.7,115.7 385.6,110 387.5,138.2 389.3,124.5"/>
<polyline points="83.1,120.7 85,113 86.8,121.1 88.7,101.3 90.6,114.2 92.4,113.2 94.3,113.3 96.2,104.2 98,119.6 99.9,98.8 101.8,107.5 103.6,111.4 105.5,112.9 107.4,106.7 109.2,100.2 111.1,101.1 113,108.6 114.8,102 116.7,111.9 118.6,97.2 120.4,113.8 122.3,140.4 124.2,96.1 126,112 127.9,128.6 129.8,116 131.6,124.9 133.5,86.2 135.4,107 137.2,133.8 139.1,106.4 141,118.6 142.9,88.6 144.7,127.1 146.6,142.6 148.5,112.6 150.3,118 152.2,118.8 154.1,141.2 155.9,107.9 157.8,91.8 159.7,138.2 161.5,98.3 163.4,120.8 165.3,83 167.1,107.8 169,115.9 170.9,99.1 172.7,106.6 174.6,121.1 176.5,104.3 178.3,120 180.2,136.6 182.1,87.2 183.9,118 185.8,121.3 187.7,109.1 189.5,133.6 191.4,130.9 193.3,119.9 195.1,120.2 197,112.5 198.9,98.9 200.7,119.6 202.6,107.1 204.5,105.7 206.3,127.4 208.2,110.5 210.1,125.6 211.9,99.7 213.8,107.6 215.7,113.2 217.5,130.7 219.4,111.9 221.3,123.3 223.1,104.3 225,115 226.9,123.9 228.7,101.5 230.6,104.1 232.5,121.1 234.3,98.5 236.2,117.3 238.1,117.4 239.9,111.8 241.8,123.1 243.7,119.1 245.5,115.5 247.4,93.8 249.3,94.2 251.1,116.8 253,92.7 254.9,114 256.7,108.5 258.6,102.1 260.5,109.7 262.4,82.4 264.2,110.3 266.1,128.8 268,96.7 269.8,118.7 271.7,117.4 273.6,151.9 275.4,100.7 277.3,103 279.2,103.3 281,101 282.9,92 284.8,114.2 286.6,101.7 288.5,123.2 290.4,118.2 292.2,100.2 294.1,108.7 296,130.7 297.8,109.2 299.7,116.1 301.6,124.2 303.4,108.3 305.3,119 307.2,133.8 309,128 310.9,91.5 312.8,133.1 314.6,111.1 316.5,106.3 318.4,105.9 320.2,129.5 322.1,118.1 324,112.3 325.8,104 327.7,122.3 329.6,128.8 331.4,101.5 333.3,100.3 335.2,109.5 337,121.9 338.9,109.1 340.8,112.9 342.6,103.8 344.5,130 346.4,112.9 348.2,116.4 350.1,128.3 352,111.7 353.8,114 355.7,119.6 357.6,109.5 359.4,132.2 361.3,115.2 363.2,109.1 365,111 366.9,101.2 368.8,129.6 370.6,133.4 372.5,111.7 374.4,109 376.3,88.3 378.1,107 380,125.6 381.9,104.8 383.7,125.3 385.6,133.2 387.5,82.5 389.3,110.8"/>
<polyline points="83.1,104.1 85,106.1 86.8,89.8 88.7,109.7 90.6,97.6 92.4,126.8 94.3,131.6 96.2,94.9 98,94.2 99.9,106.8 101.8,110.5 103.6,111.3 105.5,122.4 107.4,93.4 109.2,104.9 111.1,106.9 113,108.6 114.8,99.8 116.7,106.9 118.6,103.8 120.4,128.6 122.3,106.8 124.2,85 126,120.2 127.9,115.1 129.8,101.9 131.6,101 133.5,105.3 135.4,134.4 137.2,106.9 139.1,128.8 141,124.1 142.9,106.3 144.7,117.3 146.6,102.9 148.5,72.6 150.3,103.4 152.2,104.1 154.1,125 155.9,121.8 157.8,127.2 159.7,120.3 161.5,127.6 163.4,122 165.3,116.1 167.1,126.4 169,131.8 170.9,131.1 172.7,107.6 174.6,112.7 176.5,100.2 178.3,99.9 180.2,117.8 182.1,104.8 183.9,132.1 185.8,83.9 187.7,98 189.5,116.2 191.4,128.5 193.3,108.5 195.1,137.6 197,123.5 198.9,103.8 200.7,112.5 202.6,119.8 204.5,101.2 206.3,126.8 208.2,109.8 210.1,119.9 211.9,124.4 213.8,107.5 215.7,126.2 217.5,88.9 219.4,121 221.3,87.8 223.1,127.5 225,105.6 226.9,128.9 228.7,130.7 230.6,111.4 232.5,104.7 234.3,129.9 236.2,98.2 238.1,123.7 239.9,111.8 241.8,108.6 243.7,105.8 245.5,136.6 247.4,92.6 249.3,106.2 251.1,118.9 253,126.6 254.9,135.2 256.7,130.9 258.6,106.4 260.5,117.8 262.4,128 264.2,120.2 266.1,93.3 268,117.7 269.8,120.9 271.7,96.1 273.6,107.6 275.4,112.9 277.3,121.3 279.2,133.4 281,128.6 282.9,119.7 284.8,116.4 286.6,109.1 288.5,106.6 290.4,110.8 292.2,110.9 294.1,126.6 296,141.2 297.8,120.4 299.7,125.9 301.6,122.1 303.4,117.3 305.3,129.7 307.2,128 309,115.2 310.9,112.5 312.8,122.3 314.6,107.7 316.5,116.8 318.4,126.9 320.2,113.5 322.1,90.3 324,122.6 325.8,99.4 327.7,96.7 329.6,95.2 331.4,124.5 333.3,88.8 335.2,112.7 337,117.4 338.9,117.1 340.8,106.7 342.6,113.6 344.5,116.5 346.4,98.2 348.2,123.4 350.1,127.4 352,104.5 353.8,105.6 355.7,100.8 357.6,127.9 359.4,101 361.3,108.5 363.2,92.5 365,130.1 366.9,111.9 368.8,118.1 370.6,134.4 372.5,123.5 374.4,100.6 376.3,120.5 378.1,123.7 380,103.9 381.9,102.5 383.7,102.5 385.6,124.6 387.5,115.5 389.3,102.1"/>
<polyline points="83.1,122 85,123.2 86.8,102.7 88.7,93.1 90.6,128.4 92.4,147.3 94.3,132.3 96.2,126.6 98,115.2 99.9,105.4 101.8,115.3 103.6,122.6 105.5,111.4 107.4,125.9 109.2,114.1 111.1,121.8 113,78.6 114.8,102.8 116.7,124.3 118.6,126.4 120.4,119.1 122.3,134.8 124.2,122.9 126,123 127.9,102 129.8,119 131.6,123.7 133.5,130.8 135.4,128.7 137.2,114.3 139.1,116.2 141,98.7 142.9,121.6 144.7,99.7 146.6,110.1 148.5,113.5 150.3,139.5 152.2,130.2 154.1,103.8 155.9,95.3 157.8,110.8 159.7,103.6 161.5,118.7 163.4,118.2 165.3,122 167.1,100.8 169,109 170.9,116.5 172.7,117.7 174.6,106.2 176.5,109.3 178.3,124.2 180.2,91.3 182.1,110.1 183.9,113.3 185.8,94.3 187.7,100.2 189.5,114.6 191.4,106.5 193.3,127.3 195.1,121.7 197,142.6 198.9,97.7 200.7,138 202.6,104.6 204.5,124.2 206.3,126.1 208.2,116 210.1,110 211.9,105.5 213.8,90.6 215.7,108.8 217.5,102.1 219.4,121.2 221.3,104.2 223.1,111.5 225,119.4 226.9,114.7 228.7,114.2 230.6,111 232.5,108.3 234.3,120 236.2,123 238.1,103.8 239.9,135.3 241.8,121.4 243.7,93.5 245.5,148.3 247.4,122.4 249.3,104.6 251.1,134.7 253,80 254.9,146.7 256.7,95 258.6,93.4 260.5,101.7 262.4,116.3 264.2,108.9 266.1,125 268,103 269.8,127.8 271.7,117 273.6,100.7 275.4,127.8 277.3,118.2 279.2,111.4 281,130.7 282.9,98.7 284.8,109.3 286.6,133 288.5,114.3 290.4,123.6 292.2,122.1 294.1,112.7 296,122.8 297.8,101.5 299.7,122.8 301.6,101.3 303.4,114.4 305.3,103 307.2,120.8 309,120.3 310.9,128.5 312.8,106.6 314.6,102.1 316.5,87.2 318.4,97.7 320.2,110.9 322.1,116.7 324,109.2 325.8,114.4 327.7,95.7 329.6,102.2 331.4,124.7 333.3,122.8 335.2,97 337,110.4 338.9,117.2 340.8,99.4 342.6,119.2 344.5,117.8 346.4,120.1 348.2,139 350.1,103.6 352,129.5 353.8,121.5 355.7,123.7 357.6,105.4 359.4,115.3 361.3,114.3 363.2,135.5 365,115.6 366.9,133 368.8,110.8 370.6,110.1 372.5,114.9 374.4,89.3 376.3,108.1 378.1,107.3 380,113 381.9,117.1 383.7,102.8 385.6,101.1 387.5,130.9 389.3,101.8"/>
<polyline points="83.1,106.7 85,100.9 86.8,107.4 88.7,129.6 90.6,128.7 92.4,89.7 94.3,110.2 96.2,131.9 98,108.9 99.9,118.2 101.8,137.4 103.6,143.2 105.5,134.3 107.4,109.9 109.2,114.1 111.1,116.7 113,109.7 114.8,105.6 116.7,140.8 118.6,117.4 120.4,124.2 122.3,129.5 124.2,120.5 126,115 127.9,116.9 129.8,132.3 131.6,119.7 133.5,87.3 135.4,127.1 137.2,135.3 139.1,109.9 141,105.7 142.9,107.4 144.7,128 146.6,100.5 148.5,123.6 150.3,128.2 152.2,121.3 154.1,114.8 155.9,104.2 157.8,105.4 159.7,113.7 161.5,101.4 163.4,112.4 165.3,101.8 167.1,131.6 169,133.8 170.9,103.4 172.7,131.4 174.6,117.3 176.5,114.7 178.3,119.8 180.2,119.3 182.1,95.4 183.9,146.1 185.8,102 187.7,83.8 189.5,113.1 191.4,113.7 193.3,104.1 195.1,89.8 197,128.8 198.9,112.3 200.7,115.8 202.6,106.2 204.5,111.4 206.3,104.9 208.2,118.9 210.1,112.8 211.9,122.1 213.8,122 215.7,115.3 217.5,115.3 219.4,128.6 221.3,93.2 223.1,115.2 225,131.3 226.9,99.2 228.7,123.1 230.6,106.9 232.5,113.7 234.3,110.2 236.2,111.2 238.1,120.8 239.9,112.9 241.8,87.3 243.7,142.2 245.5,112.6 247.4,107.8 249.3,127 251.1,131.1 253,85.7 254.9,118.2 256.7,86.7 258.6,106.6 260.5,112.5 262.4,107.3 264.2,105.3 266.1,98.3 268,107.8 269.8,111.6 271.7,111.2 273.6,96.1 275.4,103 277.3,126.4 279.2,121.7 281,109.3 282.9,121.6 284.8,118.4 286.6,125.9 288.5,117 290.4,108.3 292.2,101 294.1,113.6 296,87.3 297.8,114.7 299.7,73.2 301.6,101.1 303.4,107.5 305.3,120.2 307.2,149.7 309,115.9 310.9,111.7 312.8,89.6 314.6,131.4 316.5,89.9 318.4,117.2 320.2,104.9 322.1,146.2 324,112.3 325.8,118.4 327.7,105.5 329.6,113 331.4,128.6 333.3,102.3 335.2,105.5 337,106.7 338.9,101.6 340.8,100.4 342.6,114.6 344.5,131.4 346.4,131.7 348.2,97.4 350.1,105.5 352,113.1 353.8,119.9 355.7,114 357.6,114.2 359.4,118.7 361.3,123.2 363.2,87.5 365,111.7 366.9,122.1 368.8,130.8 370.6,123.7 372.5,105.7 374.4,105.2 376.3,117.4 378.1,114.1 380,118.5 381.9,128.5 383.7,98.6 385.6,110.2 387.5,84.1 389.3,124.2"/>
<polyline points="83.1,115.2 85,101.9 86.8,116.6 88.7,131.5 90.6,125.8 92.4,112.1 94.3,109 96.2,114.7 98,100.4 99.9,100.5 101.8,109.2 103.6,113.1 105.5,116.7 107.4,106.3 109.2,101.5 111.1,112.7 113,107.6 114.8,117.7 116.7,131.8 118.6,126.4 120.4,103.5 122.3,107.6 124.2,92.8 126,112.7 127.9,102.2 129.8,96.3 131.6,100.5 133.5,121.3 135.4,115.8 137.2,111.8 139.1,126.2 141,107.3 142.9,100.2 144.7,119.7 146.6,87.9 148.5,117.2 150.3,116.1 152.2,116.5 154.1,122.6 155.9,108 157.8,113.2 159.7,91.9 161.5,105.6 163.4,106.5 165.3,116.3 167.1,131.7 169,114.6 170.9,124.4 172.7,101.1 174.6,113.8 176.5,91.9 178.3,103.9 180.2,102.6 182.1,110.5 183.9,110.7 185.8,105 187.7,101.5 189.5,122.6 191.4,107.1 193.3,79.6 195.1,114.6 197,116.7 198.9,122.4 200.7,132.1 202.6,98.1 204.5,112.7 206.3,109.6 208.2,89.6 210.1,81.1 211.9,124.9 213.8,99.8 215.7,105.4 217.5,108.3 219.4,107.3 221.3,113.7 223.1,92.9 225,105.5 226.9,109 228.7,97.3 230.6,101.9 232.5,107.5 234.3,109.2 236.2,90.8 238.1,106.8 239.9,114.6 241.8,124.4 243.7,117.8 245.5,126.9 247.4,112 249.3,110.1 251.1,139.8 253,113.2 254.9,105.1 256.7,111.3 258.6,125.7 260.5,97.1 262.4,122.4 264.2,129.2 266.1,127.3 268,113.6 269.8,100.8 271.7,98.5 273.6,110.8 275.4,128.8 277.3,121.9 279.2,125 281,115.8 282.9,136.3 284.8,112.2 286.6,105.4 288.5,115.5 290.4,107.8 292.2,125.7 294.1,132.3 296,121.8 297.8,99 299.7,100.7 301.6,119.6 303.4,98.5 305.3,118 307.2,94.7 309,107.8 310.9,119.6 312.8,103.9 314.6,123.8 316.5,125.8 318.4,132.4 320.2,110.8 322.1,114.7 324,115 325.8,119.3 327.7,96 329.6,119.5 331.4,123.3 333.3,98.5 335.2,96.3 337,110 338.9,136.1 340.8,121.8 342.6,106.6 344.5,114.1 346.4,94.8 348.2,131.5 350.1,105.9 352,122.3 353.8,97.9 355.7,115.4 357.6,101.6 359.4,122.6 361.3,132.1 363.2,128.4 365,122.1 366.9,127.3 368.8,99.6 370.6,97.9 372.5,111.2 374.4,127.5 376.3,116.2 378.1,123.2 380,96.7 381.9,110.8 383.7,108.7 385.6,119.7 387.5,139.7 389.3,124.4"/>
<polyline points="83.1,128 85,108.6 86.8,112.2 88.7,123.9 90.6,118.5 92.4,93 94.3,125.9 96.2,125.4 98,116.4 99.9,122.5 101.8,119 103.6,106.5 105.5,90.9 107.4,136.6 109.2,113.7 111.1,112.9 113,114.5 114.8,115.9 116.7,117.9 118.6,100.4 120.4,119.5 122.3,115.1 124.2,113.4 126,112 127.9,115.7 129.8,100.5 131.6,113.6 133.5,111.2 135.4,114.1 137.2,126.5 139.1,124.2 141,127.1 142.9,110.9 144.7,122.7 146.6,127.2 148.5,110.4 150.3,106.6 152.2,136.3 154.1,91.5 155.9,113 157.8,114.8 159.7,99.6 161.5,112.5 163.4,121.3 165.3,85 167.1,127.3 169,114.7 170.9,102.5 172.7,127.3 174.6,114.8 176.5,108.4 178.3,82.4 180.2,125 182.1,114.1 183.9,104.9 185.8,112.4 187.7,129 189.5,108.2 191.4,112.1 193.3,107.7 195.1,98.8 197,100.4 198.9,108.2 200.7,109.4 202.6,127.6 204.5,115.2 206.3,110.6 208.2,118.6 210.1,112.2 211.9,124.1 213.8,93.7 215.7,85.7 217.5,118.5 219.4,108.3 221.3,116.5 223.1,97.2 225,107.8 226.9,112.4 228.7,116.3 230.6,111.8 232.5,126.3 234.3,104.7 236.2,122.6 238.1,106.6 239.9,111.8 241.8,99.3 243.7,113.7 245.5,100.3 247.4,125.3 249.3,105.6 251.1,116.3 253,110.9 254.9,112.5 256.7,101.4 258.6,139.4 260.5,109.3 262.4,132.6 264.2,97.9 266.1,138.8 268,126.3 269.8,134.9 271.7,92.4 273.6,130 275.4,112 277.3,120.4 279.2,136.6 281,117.9 282.9,105.1 284.8,116 286.6,101.6 288.5,118.3 290.4,113.6 292.2,118.6 294.1,109.3 296,89.6 297.8,109.2 299.7,111.3 301.6,121.7 303.4,123.4 305.3,95.3 307.2,128 309,125.5 310.9,115.2 312.8,119.3 314.6,89.2 316.5,143.9 318.4,109.4 320.2,105 322.1,128.2 324,122.2 325.8,108.6 327.7,93.6 329.6,125.7 331.4,134.1 333.3,101.9 335.2,95 337,118.4 338.9,142.1 340.8,96 342.6,116.8 344.5,100.2 346.4,114.9 348.2,119.1 350.1,120 352,95.9 353.8,96.5 355.7,141.2 357.6,126.2 359.4,92.3 361.3,119.1 363.2,131.5 365,114.5 366.9,115.9 368.8,115.8 370.6,120.6 372.5,118.5 374.4,120.3 376.3,110.5 378.1,124.8 380,118.3 381.9,116.5 383.7,98.6 385.6,110.2 387.5,116.2 389.3,108.2"/>
<polyline points="83.1,108.1 85,99.3 86.8,106.8 88.7,90.1 90.6,95.9 92.4,114 94.3,118.8 96.2,102 98,106.7 99.9,114.7 101.8,132.7 103.6,137.3 105.5,108.9 107.4,103.4 109.2,103 111.1,130.2 113,100 114.8,120.4 116.7,108.4 118.6,108 120.4,123.9 122.3,121.1 124.2,140.4 126,125.3 127.9,136.8 129.8,107.8 131.6,112.6 133.5,101.6 135.4,108.8 137.2,121.7 139.1,108.9 141,118.5 142.9,105.5 144.7,109.4 146.6,126.3 148.5,113.4 150.3,112.7 152.2,117.4 154.1,101.8 155.9,91.2 157.8,118.2 159.7,118 161.5,142.6 163.4,115.1 165.3,119.1 167.1,141.4 169,109.7 170.9,105.8 172.7,122.9 174.6,118.3 176.5,125.9 178.3,103.6 180.2,133.1 182.1,117.5 183.9,88.2 185.8,112.8 187.7,107.4 189.5,115.3 191.4,128.6 193.3,113.9 195.1,108.2 197,126.6 198.9,109 200.7,97.4 202.6,99.6 204.5,133.9 206.3,126 208.2,134.3 210.1,99.6 211.9,105.6 213.8,104.4 215.7,124.8 217.5,128.5 219.4,112.4 221.3,112.1 223.1,124.5 225,111.6 226.9,105.1 228.7,110.5 230.6,126.8 232.5,140.7 234.3,116.8 236.2,111.3 238.1,116.8 239.9,119 241.8,122.3 243.7,104.2 245.5,114.1 247.4,111.9 249.3,125.9 251.1,121.4 253,111.3 254.9,126.4 256.7,129.6 258.6,117.7 260.5,98 262.4,111 264.2,94.7 266.1,115.1 268,117.4 269.8,131.3 271.7,120.9 273.6,95.1 275.4,109.3 277.3,104.1 279.2,104.5 281,113.7 282.9,116.2 284.8,112.1 286.6,105.1 288.5,107.8 290.4,107.4 292.2,111.7 294.1,123.5 296,117.1 297.8,125.8 299.7,101 301.6,140.5 303.4,116.6 305.3,83.5 307.2,118.2 309,128.3 310.9,114.1 312.8,97.6 314.6,116 316.5,106.2 318.4,112.7 320.2,118.7 322.1,74.2 324,113.2 325.8,120.9 327.7,120.3 329.6,109.3 331.4,109 333.3,104.5 335.2,112.4 337,132.2 338.9,107.6 340.8,118.2 342.6,117.9 344.5,132.9 346.4,121.5 348.2,123.5 350.1,114.8 352,132.6 353.8,113.8 355.7,112.9 357.6,128.5 359.4,122.3 361.3,125.2 363.2,103.2 365,146.1 366.9,118.9 368.8,135.3 370.6,120 372.5,104.1 374.4,122.5 376.3,113 378.1,125.2 380,90.7 381.9,103.4 383.7,100.8 385.6,131.3 387.5,128.5 389.3,101.5"/>
<polyline points="83.1,116 85,116.8 86.8,109.1 88.7,129.8 90.6,103.4 92.4,113.2 94.3,107.2 96.2,122.2 98,106.8 99.9,122.6 101.8,101 103.6,98.7 105.5,101.6 107.4,106.7 109.2,105.2 111.1,148.6 113,102.6 114.8,117 116.7,112.2 118.6,117.1 120.4,131.5 122.3,120.4 124.2,104.9 126,95 127.9,121.5 129.8,125.2 131.6,94.6 133.5,124.9 135.4,86.5 137.2,112.8 139.1,124.9 141,100.7 142.9,91.5 144.7,132 146.6,93.2 148.5,117.1 150.3,94.2 152.2,118.4 154.1,133.9 155.9,106.9 157.8,101.4 159.7,86.3 161.5,91.1 163.4,104.4 165.3,116.5 167.1,120.2 169,117.3 170.9,124.2 172.7,117 174.6,146.4 176.5,111.1 178.3,113.8 180.2,80.3 182.1,103.6 183.9,119.6 185.8,106.1 187.7,129.3 189.5,121.2 191.4,137.6 193.3,94.9 195.1,105.8 197,128.6 198.9,114.2 200.7,101.2 202.6,107 204.5,108.5 206.3,124.5 208.2,121.7 210.1,112.2 211.9,101.6 213.8,124.1 215.7,127.9 217.5,98.7 219.4,125.4 221.3,99.6 223.1,110.3 225,102.1 226.9,91 228.7,104.6 230.6,103.4 232.5,125.3 234.3,122.4 236.2,105.1 238.1,93.7 239.9,95.5 241.8,83.6 243.7,109.4 245.5,110.8 247.4,100.5 249.3,113.2 251.1,114.2 253,126.9 254.9,100.7 256.7,127.2 258.6,106.9 260.5,131.7 262.4,99.4 264.2,126.7 266.1,102.6 268,133.9 269.8,119.1 271.7,98.3 273.6,123.8 275.4,112.6 277.3,119.7 279.2,143.1 281,109.6 282.9,108.1 284.8,127.8 286.6,106.3 288.5,123.8 290.4,126.5 292.2,113.6 294.1,122.4 296,84.5 297.8,133.6 299.7,104.4 301.6,101.2 303.4,139 305.3,135.9 307.2,106.7 309,120 310.9,109.1 312.8,99.5 314.6,118.7 316.5,127.5 318.4,148.5 320.2,111.4 322.1,125.8 324,110.1 325.8,111.2 327.7,131.6 329.6,92.4 331.4,100.5 333.3,103.5 335.2,129.1 337,119.4 338.9,121.1 340.8,119.5 342.6,128.4 344.5,108.9 346.4,111.5 348.2,109.8 350.1,120.7 352,98.2 353.8,112.1 355.7,148.7 357.6,122.5 359.4,115.2 361.3,102.5 363.2,118.3 365,117.7 366.9,122.8 368.8,106.3 370.6,120.2 372.5,122.1 374.4,123.9 376.3,107.8 378.1,121.3 380,135.5 381.9,107 383.7,123.5 385.6,110.4 387.5,110.2 389.3,99.9"/>
<polyline points="83.1,99.8 85,120.9 86.8,115.6 88.7,130.2 90.6,91.6 92.4,107.7 94.3,95.3 96.2,117.6 98,140.1 99.9,93.5 101.8,112.2 103.6,111.7 105.5,112.7 107.4,105.1 109.2,106.5 111.1,134.1 113,99.3 114.8,120.3 116.7,119.5 118.6,91 120.4,101.5 122.3,117.8 124.2,137.6 126,111.3 127.9,106.4 129.8,114.5 131.6,129.6 133.5,123.7 135.4,129.7 137.2,110.6 139.1,102.8 141,100.1 142.9,122.9 144.7,110.4 146.6,106.3 148.5,120.1 150.3,115.4 152.2,85.9 154.1,110.8 155.9,102 157.8,119.1 159.7,112.9 161.5,135.6 163.4,113.8 165.3,98 167.1,86.3 169,98 170.9,104.6 172.7,112.8 174.6,121.2 176.5,115.5 178.3,105.5 180.2,123.6 182.1,101.4 183.9,126.2 185.8,136.4 187.7,126.5 189.5,135 191.4,131.2 193.3,98.8 195.1,116 197,110.6 198.9,98.5 200.7,97.2 202.6,120 204.5,96.3 206.3,108.5 208.2,113.4 210.1,107.7 211.9,131.8 213.8,123.6 215.7,114.8 217.5,105.6 219.4,118.2 221.3,115.1 223.1,100.9 225,95.2 226.9,103.6 228.7,97.1 230.6,118.6 232.5,117.4 234.3,109.3 236.2,117.3 238.1,120 239.9,92.2 241.8,116 243.7,125.9 245.5,107.2 247.4,89.8 249.3,112.4 251.1,97.6 253,119.1 254.9,119.8 256.7,122.3 258.6,115.3 260.5,89.8 262.4,128.3 264.2,92.4 266.1,126.4 268,116.4 269.8,102.7 271.7,105.4 273.6,109.9 275.4,134.7 277.3,108.9 279.2,126.6 281,80.7 282.9,116.3 284.8,111.2 286.6,128.3 288.5,119.8 290.4,130.2 292.2,101.2 294.1,117.1 296,106.6 297.8,122.5 299.7,120.2 301.6,97.4 303.4,126.2 305.3,136.7 307.2,108.7 309,128.4 310.9,119.5 312.8,102.4 314.6,124.3 316.5,102.9 318.4,122.6 320.2,95.2 322.1,97.3 324,120 325.8,116.8 327.7,124.6 329.6,111.6 331.4,99.7 333.3,132.4 335.2,102.7 337,130.9 338.9,125.1 340.8,136.7 342.6,87.9 344.5,113.6 346.4,111.3 348.2,122.8 350.1,101 352,140.7 353.8,114.1 355.7,86.8 357.6,119.2 359.4,114.3 361.3,106.1 363.2,124.7 365,114.3 366.9,102.6 368.8,112.2 370.6,110 372.5,119 374.4,110.7 376.3,114 378.1,96.6 380,105.7 381.9,117.8 383.7,145.1 385.6,105.9 387.5,105.5 389.3,126.2"/>
<polyline points="83.1,139.5 85,128.3 86.8,101.4 88.7,127.3 90.6,119.4 92.4,110.6 94.3,97.5 96.2,113.7 98,114.7 99.9,120.6 101.8,92.2 103.6,99.6 105.5,114.7 107.4,131.6 109.2,123.7 111.1,105.9 113,122.8 114.8,101.8 116.7,108.7 118.6,109.6 120.4,105 122.3,107 124.2,124.5 126,117.7 127.9,83.1 129.8,129.1 131.6,119.6 133.5,99.6 135.4,115.5 137.2,124 139.1,130.6 141,106.5 142.9,100.2 144.7,95.3 146.6,112.7 148.5,99.9 150.3,126.8 152.2,111.3 154.1,122.2 155.9,111.2 157.8,103.7 159.7,99.6 161.5,126.3 163.4,97 165.3,119.6 167.1,126.7 169,115.6 170.9,132.4 172.7,113.4 174.6,109.7 176.5,116 178.3,106.5 180.2,117.5 182.1,113.4 183.9,132.1 185.8,112.9 187.7,124.4 189.5,119.3 191.4,114.7 193.3,111 195.1,134.7 197,133.6 198.9,117.3 200.7,107.3 202.6,108.8 204.5,101.9 206.3,96.6 208.2,107 210.1,113.7 211.9,126.7 213.8,125.6 215.7,119.5 217.5,110 219.4,110.6 221.3,113.4 223.1,115.4 225,105.3 226.9,110.8 228.7,109.6 230.6,109.5 232.5,120.5 234.3,126.7 236.2,107.1 238.1,108.1 239.9,116.3 241.8,118.8 243.7,84.1 245.5,123.2 247.4,116.2 249.3,110 251.1,128.3 253,111.9 254.9,90.3 256.7,101.4 258.6,105.3 260.5,105.8 262.4,112 264.2,101.1 266.1,115.4 268,118.9 269.8,112.1 271.7,101.8 273.6,109.2 275.4,104.9 277.3,139.5 279.2,98.3 281,83.6 282.9,96.5 284.8,117.7 286.6,124.5 288.5,110.1 290.4,126.3 292.2,104.4 294.1,120.4 296,101.5 297.8,96.4 299.7,139.7 301.6,110.1 303.4,122.7 305.3,131.8 307.2,121.7 309,116.7 310.9,100.8 312.8,133.2 314.6,100.7 316.5,88.4 318.4,106.4 320.2,107.1 322.1,114.2 324,128.9 325.8,107.3 327.7,109.3 329.6,104.9 331.4,81.8 333.3,105 335.2,108.8 337,94.6 338.9,131.2 340.8,128.6 342.6,119 344.5,122.5 346.4,105.6 348.2,118.3 350.1,92.6 352,95.4 353.8,104.8 355.7,119.3 357.6,106.8 359.4,104.4 361.3,127.8 363.2,110.2 365,105.7 366.9,111.9 368.8,95 370.6,99.5 372.5,124.9 374.4,113.1 376.3,125.1 378.1,107.5 380,125.5 381.9,103.3 383.7,110 385.6,102.8 387.5,116.6 389.3,132.9"/>
<polyline points="83.1,90.4 85,115.7 86.8,95.5 88.7,107.8 90.6,104.7 92.4,89.6 94.3,109 96.2,95.2 98,132.8 99.9,102.1 101.8,116.6 103.6,115.2 105.5,113.3 107.4,108.9 109.2,91.9 111.1,137.5 113,112.9 114.8,122.8 116.7,98.3 118.6,118.9 120.4,107.5 122.3,118.6 124.2,104.8 126,100.3 127.9,118.6 129.8,112.8 131.6,131.9 133.5,109.5 135.4,102.3 137.2,120.6 139.1,98.9 141,140.3 142.9,137.5 144.7,131.4 146.6,119.7 148.5,113.2 150.3,114.5 152.2,114.3 154.1,104.1 155.9,119.6 157.8,129.8 159.7,129.6 161.5,86.1 163.4,143.9 165.3,115.7 167.1,94.6 169,107.2 170.9,124.2 172.7,113.4 174.6,102.3 176.5,97.8 178.3,125.1 180.2,103.6 182.1,110.2 183.9,99.2 185.8,95.5 187.7,117.9 189.5,132.2 191.4,108.3 193.3,90.5 195.1,104.6 197,110.5 198.9,82.4 200.7,126.9 202.6,101.8 204.5,120.8 206.3,112.8 208.2,112.3 210.1,93.9 211.9,125.5 213.8,120.3 215.7,134 217.5,107.2 219.4,119.3 221.3,108 223.1,127.3 225,118.1 226.9,100.1 228.7,115.7 230.6,105.4 232.5,106.6 234.3,118 236.2,133.5 238.1,100.8 239.9,111.2 241.8,100.8 243.7,139.3 245.5,134.7 247.4,141 249.3,124.7 251.1,100 253,106.2 254.9,113.9 256.7,111.8 258.6,103.7 260.5,117.3 262.4,108.4 264.2,111.6 266.1,141.5 268,118.4 269.8,96 271.7,118.5 273.6,115.3 275.4,121.3 277.3,119.7 279.2,99.2 281,117 282.9,126.7 284.8,153.4 286.6,121 288.5,138.8 290.4,137 292.2,103.6 294.1,104.7 296,138.2 297.8,102.9 299.7,107.9 301.6,123.8 303.4,104.5 305.3,134.5 307.2,129.2 309,132.2 310.9,128 312.8,102.8 314.6,130.9 316.5,128.6 318.4,126.1 320.2,111.6 322.1,118.3 324,103.2 325.8,123.1 327.7,130.4 329.6,120.5 331.4,113.7 333.3,125.9 335.2,110.8 337,91.4 338.9,121.6 340.8,113.8 342.6,97.4 344.5,122.6 346.4,125.1 348.2,128.2 350.1,109.6 352,108.1 353.8,116.5 355.7,114.1 357.6,98.8 359.4,103.9 361.3,132.2 363.2,114.9 365,113.5 366.9,105.9 368.8,117.7 370.6,123 372.5,120.7 374.4,137.1 376.3,115.3 378.1,122.5 380,109.3 381.9,127.8 383.7,120.5 385.6,127.3 387.5,128.4 389.3,106.6"/>
<polyline points="83.1,119.9 85,108.1 86.8,128.5 88.7,112.6 90.6,135.9 92.4,120.2 94.3,120.5 96.2,106.4 98,111.6 99.9,116.2 101.8,103.1 103.6,111.5 105.5,107 107.4,104 109.2,114.9 111.1,117.8 113,109.8 114.8,119.4 116.7,109 118.6,99.6 120.4,102.9 122.3,119 124.2,130.7 126,114.8 127.9,115.7 129.8,99.7 131.6,119 133.5,116.7 135.4,104.5 137.2,120.2 139.1,116.1 141,91.9 142.9,94.8 144.7,105.9 146.6,110.6 148.5,126.6 150.3,106.8 152.2,113.3 154.1,111.2 155.9,120.8 157.8,114.2 159.7,116.4 161.5,110 163.4,95.6 165.3,109.4 167.1,135.5 169,126.6 170.9,134.5 172.7,124.3 174.6,106.8 176.5,108.9 178.3,121.8 180.2,110.6 182.1,123.8 183.9,132.4 185.8,132.2 187.7,125.1 189.5,95.7 191.4,131.4 193.3,98 195.1,97 197,116.4 198.9,114.7 200.7,122 202.6,114.4 204.5,105.6 206.3,114 208.2,101.2 210.1,98.8 211.9,109.7 213.8,109.9 215.7,114.9 217.5,109.6 219.4,128.4 221.3,108.9 223.1,111.5 225,125.2 226.9,86.4 228.7,126.6 230.6,125.3 232.5,110.5 234.3,139 236.2,124.3 238.1,133.7 239.9,126.5 241.8,115.8 243.7,110 245.5,99.9 247.4,103.8 249.3,98.9 251.1,106.6 253,120.1 254.9,99.8 256.7,120.4 258.6,122 260.5,94.5 262.4,104 264.2,111.3 266.1,104.5 268,102.9 269.8,131.6 271.7,115.4 273.6,129.3 275.4,112.6 277.3,122.8 279.2,96.9 281,107.6 282.9,124.7 284.8,114.6 286.6,129.8 288.5,113.8 290.4,107.4 292.2,111.1 294.1,139 296,118.7 297.8,108 299.7,110.6 301.6,99.8 303.4,130.9 305.3,107.9 307.2,122.9 309,112.1 310.9,109.5 312.8,106 314.6,122 316.5,112.4 318.4,129.5 320.2,132.6 322.1,107.8 324,115.5 325.8,135.2 327.7,125.6 329.6,114.6 331.4,95.3 333.3,101.8 335.2,104.9 337,137.4 338.9,116.2 340.8,109 342.6,110.1 344.5,109.8 346.4,118 348.2,93.1 350.1,96.6 352,116.3 353.8,127.4 355.7,89.5 357.6,122.1 359.4,100.3 361.3,91.4 363.2,127 365,111.7 366.9,119.6 368.8,108.9 370.6,111.4 372.5,91.2 374.4,108.1 376.3,115.5 378.1,101.5 380,118.8 381.9,120 383.7,87.7 385.6,125.7 387.5,121.6 389.3,115"/>
<polyline points="83.1,128 85,141.7 86.8,100.5 88.7,124.4 90.6,121.3 92.4,119.1 94.3,127 96.2,128.2 98,112.1 99.9,83 101.8,104.6 103.6,104.5 105.5,133.8 107.4,114.5 109.2,129.6 111.1,104.2 113,117.2 114.8,113.7 116.7,115.4 118.6,121.8 120.4,134 122.3,106.7 124.2,132.2 126,129.5 127.9,118.1 129.8,123.4 131.6,110.8 133.5,101.1 135.4,111 137.2,111.6 139.1,113.9 141,103.1 142.9,138.1 144.7,109.4 146.6,126.3 148.5,130.2 150.3,114.1 152.2,119.2 154.1,106.6 155.9,99.9 157.8,144.3 159.7,115.1 161.5,88.8 163.4,103 165.3,95.5 167.1,112.9 169,132.8 170.9,128.8 172.7,105 174.6,101.8 176.5,123.7 178.3,117.7 180.2,110.8 182.1,136.8 183.9,118.7 185.8,93.3 187.7,86 189.5,115.6 191.4,90.5 193.3,121 195.1,124.7 197,143.1 198.9,101.8 200.7,119 202.6,84 204.5,109.9 206.3,111.8 208.2,137.5 210.1,94.8 211.9,118.9 213.8,116.3 215.7,142.6 217.5,102.2 219.4,101.4 221.3,122 223.1,113 225,109.1 226.9,101.8 228.7,112.8 230.6,92 232.5,117.3 234.3,122 236.2,120.2 238.1,146.8 239.9,124.6 241.8,101.2 243.7,110.8 245.5,124.7 247.4,109.7 249.3,140.1 251.1,117.8 253,107.4 254.9,105.2 256.7,124.1 258.6,102.4 260.5,90.1 262.4,119.6 264.2,104.6 266.1,134.1 268,139.3 269.8,106.3 271.7,113.6 273.6,111.6 275.4,121.7 277.3,118 279.2,103.8 281,92.3 282.9,117 284.8,135.4 286.6,98 288.5,106.6 290.4,105.6 292.2,112 294.1,84.8 296,113.4 297.8,107.9 299.7,138 301.6,121.8 303.4,123.2 305.3,114.9 307.2,110.1 309,124.1 310.9,92.6 312.8,128.1 314.6,120.3 316.5,111.6 318.4,130.5 320.2,107.5 322.1,106.7 324,118.4 325.8,90.6 327.7,113.7 329.6,111.2 331.4,126.9 333.3,135.9 335.2,122.8 337,118.9 338.9,120.6 340.8,105.2 342.6,144.9 344.5,129.2 346.4,137.9 348.2,98.2 350.1,122.1 352,121.5 353.8,128.9 355.7,103.8 357.6,120.3 359.4,112.3 361.3,140.6 363.2,100.5 365,110.3 366.9,108.3 368.8,99.8 370.6,117.7 372.5,117.3 374.4,106.3 376.3,110 378.1,118.4 380,114.8 381.9,121.6 383.7,106.5 385.6,103.8 387.5,115.4 389.3,92.2"/>
<polyline points="83.1,134.1 85,117.1 86.8,91.8 88.7,119.6 90.6,134.9 92.4,95.9 94.3,107 96.2,129.6 98,104 99.9,127.4 101.8,131.5 103.6,116 105.5,120.3 107.4,128.4 109.2,118.8 111.1,127.2 113,113.3 114.8,114.4 116.7,104.4 118.6,120 120.4,131.4 122.3,131.2 124.2,117.3 126,94.1 127.9,103 129.8,122.4 131.6,101.8 133.5,129.1 135.4,100.9 137.2,119 139.1,104.1 141,106 142.9,117.7 144.7,109.8 146.6,127.9 148.5,115 150.3,100 152.2,60.8 154.1,104.9 155.9,112.9 157.8,127.2 159.7,100.3 161.5,135.6 163.4,124.5 165.3,109.4 167.1,129.7 169,94 170.9,99.9 172.7,121.4 174.6,121.2 176.5,131.1 178.3,132.2 180.2,108.3 182.1,106 183.9,109.5 185.8,110.6 187.7,121.3 189.5,109.4 191.4,133.1 193.3,113.9 195.1,94.9 197,96.9 198.9,120 200.7,118.4 202.6,96.2 204.5,90.9 206.3,133.4 208.2,119.6 210.1,111 211.9,98.3 213.8,124.9 215.7,105.7 217.5,117.9 219.4,83.3 221.3,108.5 223.1,115.8 225,118.4 226.9,100.4 228.7,105.2 230.6,128 232.5,111.2 234.3,131.3 236.2,123.8 238.1,130.8 239.9,131.2 241.8,122.9 243.7,126.7 245.5,107.2 247.4,103.7 249.3,117.1 251.1,128.5 253,103.6 254.9,140.1 256.7,138.9 258.6,104.6 260.5,105.6 262.4,101.4 264.2,116.8 266.1,130.3 268,120.6 269.8,106.7 271.7,123.9 273.6,123.1 275.4,132 277.3,129.1 279.2,103.3 281,108.3 282.9,129.1 284.8,128.1 286.6,121.4 288.5,107.2 290.4,129.2 292.2,116.4 294.1,141.8 296,130.4 297.8,109 299.7,102.9 301.6,129.2 303.4,124.3 305.3,104.2 307.2,119.4 309,121.4 310.9,107.9 312.8,112 314.6,100.4 316.5,104.5 318.4,121.9 320.2,116.1 322.1,115.4 324,131.8 325.8,127 327.7,102.4 329.6,134.8 331.4,102.1 333.3,111.1 335.2,116.5 337,108 338.9,108.8 340.8,99.6 342.6,119.9 344.5,117.7 346.4,118 348.2,91.2 350.1,103 352,126.5 353.8,119.1 355.7,123.8 357.6,114.8 359.4,112.3 361.3,86.3 363.2,137.9 365,102.2 366.9,109.6 368.8,123.9 370.6,117 372.5,121.3 374.4,114.5 376.3,102.6 378.1,134.1 380,98.9 381.9,119.9 383.7,96.6 385.6,110.1 387.5,100 389.3,108.3"/>
<polyline points="83.1,99.7 85,113.2 86.8,124.8 88.7,105.1 90.6,104.6 92.4,86.5 94.3,140.1 96.2,116.5 98,100 99.9,130.2 101.8,116.9 103.6,86.3 105.5,95.4 107.4,125.3 109.2,95.3 111.1,98.4 113,103.7 114.8,108.9 116.7,110.8 118.6,125.2 120.4,120.6 122.3,104.3 124.2,112 126,89.8 127.9,118.2 129.8,145.1 131.6,118.2 133.5,110.2 135.4,108.9 137.2,112.9 139.1,124.5 141,94.4 142.9,122.4 144.7,104.6 146.6,117.5 148.5,129.3 150.3,95.5 152.2,146.4 154.1,124.8 155.9,108.2 157.8,118.4 159.7,104 161.5,115.1 163.4,119.6 165.3,85.8 167.1,116.6 169,115.8 170.9,127.8 172.7,123.4 174.6,105.3 176.5,106.4 178.3,113.7 180.2,122.8 182.1,104.8 183.9,135.7 185.8,118.1 187.7,117 189.5,124.6 191.4,111.7 193.3,122.3 195.1,124.1 197,90.4 198.9,104.1 200.7,98.2 202.6,113 204.5,101.2 206.3,103.5 208.2,98 210.1,83 211.9,116.5 213.8,110.3 215.7,114.2 217.5,158.9 219.4,131.6 221.3,113.3 223.1,105.4 225,121 226.9,98.9 228.7,97 230.6,118.9 232.5,95.2 234.3,91 236.2,107.5 238.1,126.1 239.9,94.6 241.8,115.6 243.7,118.3 245.5,112 247.4,120.4 249.3,99.7 251.1,103.5 253,97.8 254.9,106 256.7,123.7 258.6,115.5 260.5,102.2 262.4,118.7 264.2,75.9 266.1,116.6 268,121 269.8,98.7 271.7,103.9 273.6,113.8 275.4,116.5 277.3,108.1 279.2,102.9 281,103.8 282.9,117.5 284.8,108.1 286.6,102.9 288.5,103.9 290.4,153.1 292.2,125.1 294.1,123.6 296,116.7 297.8,111.5 299.7,102.1 301.6,106 303.4,115.4 305.3,113.6 307.2,91.5 309,121.7 310.9,110.1 312.8,94.1 314.6,109.6 316.5,139.9 318.4,109.3 320.2,118.9 322.1,115.5 324,100.8 325.8,108.2 327.7,117.4 329.6,102.9 331.4,108.7 333.3,112.9 335.2,110.4 337,111 338.9,118.5 340.8,120 342.6,114 344.5,126.3 346.4,130.1 348.2,98 350.1,117.4 352,114.7 353.8,116.1 355.7,114.2 357.6,114.2 359.4,113.7 361.3,124.6 363.2,102.9 365,123.2 366.9,101.7 368.8,138.5 370.6,127.8 372.5,102.3 374.4,116.5 376.3,123 378.1,110 380,127.7 381.9,113.8 383.7,142.2 385.6,120.4 387.5,122.9 389.3,108.2"/>
<polyline points="83.1,102 85,124.6 86.8,92.5 88.7,121.2 90.6,140.2 92.4,144.4 94.3,93.4 96.2,114.6 98,121.9 99.9,123.2 101.8,127.7 103.6,95.9 105.5,114.5 107.4,90.2 109.2,116 111.1,144 113,102.5 114.8,118.2 116.7,116.5 118.6,93.1 120.4,116.9 122.3,98.3 124.2,113.5 126,123.2 127.9,106.9 129.8,121.2 131.6,97.5 133.5,101 135.4,112.6 137.2,105.5 139.1,106.1 141,117 142.9,101.8 144.7,116.4 146.6,105.5 148.5,125.8 150.3,112.1 152.2,108 154.1,123.7 155.9,118.8 157.8,120.3 159.7,104 161.5,122.7 163.4,107.7 165.3,93.6 167.1,108.8 169,134.2 170.9,111.7 172.7,99.9 174.6,117.1 176.5,99 178.3,105.4 180.2,107.9 182.1,116.7 183.9,120 185.8,116.6 187.7,112.5 189.5,106.6 191.4,107.9 193.3,117.2 195.1,112.5 197,108.3 198.9,134.3 200.7,123.2 202.6,123.6 204.5,115.9 206.3,116.8 208.2,116.6 210.1,124.5 211.9,104.6 213.8,109.7 215.7,134.4 217.5,113.1 219.4,127.8 221.3,91.3 223.1,119.1 225,118.3 226.9,112.2 228.7,115.8 230.6,114 232.5,93.3 234.3,110.3 236.2,102.5 238.1,98.7 239.9,125.8 241.8,91.5 243.7,104.4 245.5,100.9 247.4,124.3 249.3,102.7 251.1,107.9 253,120.1 254.9,83.9 256.7,105.9 258.6,116.3 260.5,110.7 262.4,101.5 264.2,98.7 266.1,105.7 268,97.6 269.8,94.3 271.7,129.1 273.6,119.5 275.4,125.3 277.3,112 279.2,94.8 281,105 282.9,126.7 284.8,117.1 286.6,100.2 288.5,120.2 290.4,114.7 292.2,109.6 294.1,136.7 296,103.6 297.8,109.2 299.7,106.3 301.6,126 303.4,123.3 305.3,121.2 307.2,110.4 309,112.8 310.9,112 312.8,91 314.6,97.2 316.5,122.8 318.4,122 320.2,92.1 322.1,117.8 324,96.4 325.8,93.7 327.7,120.7 329.6,117.3 331.4,112.9 333.3,124.8 335.2,126.3 337,119 338.9,103.3 340.8,119.6 342.6,116.6 344.5,119.9 346.4,131.2 348.2,95.5 350.1,143.5 352,122.3 353.8,107.2 355.7,131.7 357.6,106.7 359.4,98.6 361.3,125 363.2,111.7 365,128.2 366.9,108 368.8,113.3 370.6,111.7 372.5,97.4 374.4,108.6 376.3,97.7 378.1,106.6 380,129.4 381.9,111.3 383.7,108.5 385.6,132.5 387.5,98.1 389.3,113.8"/>
<polyline points="83.1,108.4 85,124.9 86.8,112.2 88.7,109.3 90.6,117.4 92.4,112.1 94.3,140.8 96.2,95.5 98,127.7 99.9,141.6 101.8,125.7 103.6,124.1 105.5,106.1 107.4,125.1 109.2,109.5 111.1,125.7 113,84.5 114.8,106.1 116.7,87.8 118.6,126.4 120.4,104.6 122.3,125.6 124.2,105.7 126,104.4 127.9,133.9 129.8,128 131.6,128.4 133.5,132.7 135.4,122.7 137.2,125.7 139.1,132 141,112 142.9,106.2 144.7,130.3 146.6,120.5 148.5,113.2 150.3,116.3 152.2,122.3 154.1,102.8 155.9,102.3 157.8,104.5 159.7,116 161.5,87.6 163.4,90.7 165.3,118.5 167.1,114.8 169,97.9 170.9,123.6 172.7,108.1 174.6,112.7 176.5,122.4 178.3,116.3 180.2,133.6 182.1,120.3 183.9,139.1 185.8,83.8 187.7,93.9 189.5,97.4 191.4,109.4 193.3,100.4 195.1,96.9 197,100.2 198.9,101.5 200.7,125.1 202.6,107.8 204.5,120.3 206.3,128.6 208.2,128.1 210.1,107.8 211.9,99.8 213.8,131 215.7,90.9 217.5,94.4 219.4,118.3 221.3,119.4 223.1,114.3 225,100.7 226.9,118.3 228.7,127.7 230.6,109 232.5,140 234.3,111.6 236.2,98.5 238.1,109.5 239.9,103.4 241.8,107.1 243.7,104.1 245.5,111.6 247.4,124.1 249.3,116.3 251.1,114.4 253,97.3 254.9,92.5 256.7,108 258.6,123.1 260.5,122.8 262.4,115.9 264.2,95.6 266.1,109.1 268,114.2 269.8,123.3 271.7,102.1 273.6,109.8 275.4,114.2 277.3,112.2 279.2,92 281,115.6 282.9,92 284.8,97.7 286.6,113 288.5,102.4 290.4,115.3 292.2,124.3 294.1,117.1 296,125.3 297.8,107.3 299.7,113.6 301.6,106.6 303.4,103.3 305.3,153.5 307.2,109.9 309,136.8 310.9,111.8 312.8,125.1 314.6,112.6 316.5,96.7 318.4,135.6 320.2,111.6 322.1,115 324,138 325.8,105.9 327.7,113.7 329.6,120.6 331.4,123.3 333.3,73.7 335.2,119.2 337,136.9 338.9,126 340.8,118.9 342.6,119.1 344.5,115.3 346.4,127.5 348.2,107.6 350.1,120.4 352,131.4 353.8,124.6 355.7,119.3 357.6,103.9 359.4,108.4 361.3,118.7 363.2,114.3 365,111.9 366.9,89.2 368.8,122.3 370.6,108.8 372.5,105.6 374.4,126.5 376.3,112.3 378.1,112.7 380,120.6 381.9,107.7 383.7,102 385.6,100.8 387.5,117.2 389.3,112.5"/>
<polyline points="83.1,82.8 85,127.8 86.8,110.6 88.7,101.9 90.6,111.5 92.4,104.9 94.3,111.2 96.2,103.6 98,96.8 99.9,116.3 101.8,110.9 103.6,114.2 105.5,118.7 107.4,113.7 109.2,128.2 111.1,103.8 113,91.3 114.8,91.3 116.7,96.9 118.6,126 120.4,93.7 122.3,122.7 124.2,114.1 126,89.5 127.9,127.4 129.8,102.5 131.6,109.8 133.5,115.4 135.4,124.8 137.2,108 139.1,119.5 141,99.9 142.9,97.6 144.7,131.3 146.6,120 148.5,117.6 150.3,128.8 152.2,127.9 154.1,112.3 155.9,116.1 157.8,134.8 159.7,120.4 161.5,106.7 163.4,129.1 165.3,125.4 167.1,92.9 169,96.4 170.9,134.4 172.7,130.9 174.6,108.6 176.5,128.9 178.3,116.7 180.2,119.3 182.1,106.2 183.9,146.1 185.8,141.9 187.7,129.3 189.5,100.3 191.4,115.4 193.3,135.5 195.1,107.1 197,104.3 198.9,116.6 200.7,117.7 202.6,107.8 204.5,97.8 206.3,111.5 208.2,106.6 210.1,114.1 211.9,118.4 213.8,125.3 215.7,110.1 217.5,117.3 219.4,116.6 221.3,101.5 223.1,107.2 225,102.2 226.9,133.7 228.7,106.2 230.6,121 232.5,123.9 234.3,124.4 236.2,97.8 238.1,102.8 239.9,122.7 241.8,128.1 243.7,113.3 245.5,119.4 247.4,92.1 249.3,132.2 251.1,137 253,116.7 254.9,113.3 256.7,111.7 258.6,103.8 260.5,86.8 262.4,117.8 264.2,120.4 266.1,136 268,110.3 269.8,102.5 271.7,116.8 273.6,98.3 275.4,113.1 277.3,94.1 279.2,109.3 281,127.1 282.9,121.7 284.8,133.2 286.6,135.8 288.5,110.3 290.4,102.6 292.2,88.8 294.1,114.4 296,116.8 297.8,127.9 299.7,101.2 301.6,108.9 303.4,121.4 305.3,105.1 307.2,106.7 309,137.6 310.9,104.5 312.8,112.2 314.6,118.9 316.5,119.3 318.4,91.9 320.2,94.6 322.1,91 324,128.6 325.8,122.4 327.7,102.7 329.6,129.4 331.4,123.2 333.3,136.9 335.2,90.9 337,100.9 338.9,108.5 340.8,111.5 342.6,119.5 344.5,119.3 346.4,106.6 348.2,123.3 350.1,99 352,120.6 353.8,125.4 355.7,98.2 357.6,116.3 359.4,107.6 361.3,119.7 363.2,142.6 365,107.7 366.9,131.4 368.8,101.1 370.6,133.9 372.5,137.8 374.4,110.8 376.3,109.4 378.1,113.4 380,129.8 381.9,103.7 383.7,132.9 385.6,120.5 387.5,124.6 389.3,119.5"/>
<polyline points="83.1,102.3 85,121.7 86.8,106.1 88.7,104.4 90.6,135.7 92.4,128.6 94.3,118.4 96.2,121.1 98,109.4 99.9,138.6 101.8,104.1 103.6,103.8 105.5,115.6 107.4,131.4 109.2,113.4 111.1,120.4 113,106.1 114.8,114.6 116.7,104 118.6,119.1 120.4,94.7 122.3,143.4 124.2,126.6 126,107.1 127.9,133.1 129.8,103.9 131.6,129.2 133.5,112.2 135.4,125.3 137.2,119.2 139.1,111.2 141,114.8 142.9,118.4 144.7,85.5 146.6,113.3 148.5,126 150.3,101.4 152.2,102.8 154.1,97.6 155.9,90.3 157.8,125.6 159.7,99.7 161.5,98.7 163.4,113.4 165.3,110.3 167.1,152.3 169,120.9 170.9,90.3 172.7,136.6 174.6,120.4 176.5,109.7 178.3,106 180.2,92.3 182.1,136.2 183.9,112.9 185.8,102.3 187.7,130.4 189.5,114 191.4,89.1 193.3,96.4 195.1,106.5 197,147.2 198.9,115.1 200.7,108.5 202.6,117.4 204.5,114.3 206.3,73.6 208.2,116.2 210.1,126 211.9,110.3 213.8,117.5 215.7,117.4 217.5,114.6 219.4,103.5 221.3,110.4 223.1,128.9 225,115.2 226.9,107.3 228.7,119.5 230.6,98.6 232.5,103.4 234.3,126.2 236.2,109.3 238.1,87.9 239.9,93.4 241.8,114.2 243.7,101.9 245.5,122.1 247.4,132.1 249.3,106.3 251.1,110.3 253,106.8 254.9,113.8 256.7,109.3 258.6,120 260.5,107.4 262.4,102.7 264.2,114.2 266.1,103 268,136.2 269.8,123.5 271.7,94.9 273.6,90.9 275.4,110.3 277.3,114.9 279.2,129.8 281,108.9 282.9,103.6 284.8,132.6 286.6,106.5 288.5,107.4 290.4,108.1 292.2,128.1 294.1,106.8 296,132.8 297.8,94.8 299.7,112.1 301.6,128.6 303.4,96.7 305.3,99.2 307.2,122.1 309,85.9 310.9,126.7 312.8,110 314.6,99 316.5,142.7 318.4,101.3 320.2,114.8 322.1,114.3 324,127.7 325.8,109.9 327.7,128.1 329.6,126.4 331.4,119.8 333.3,129.6 335.2,94.4 337,130.9 338.9,123.7 340.8,118.2 342.6,114.2 344.5,104.4 346.4,104.1 348.2,118.2 350.1,119.2 352,114 353.8,104.1 355.7,105.7 357.6,120.9 359.4,140.2 361.3,87.8 363.2,102.7 365,111.3 366.9,110.3 368.8,121.1 370.6,127.1 372.5,118.8 374.4,117.4 376.3,122.5 378.1,132.8 380,118.6 381.9,107.6 383.7,120.9 385.6,114.5 387.5,140.5 389.3,117.4"/>
<polyline points="83.1,115 85,129.4 86.8,136 88.7,108.1 90.6,124 92.4,107.1 94.3,118.9 96.2,105.3 98,117.8 99.9,133 101.8,114.6 103.6,117.7 105.5,104.9 107.4,119.3 109.2,118.6 111.1,102.3 113,98.3 114.8,103.6 116.7,100 118.6,107.5 120.4,103.4 122.3,102 124.2,108.2 126,112.6 127.9,111.6 129.8,82.2 131.6,113.3 133.5,116.5 135.4,118.2 137.2,113.9 139.1,110.3 141,128.1 142.9,139.1 144.7,109.6 146.6,134.3 148.5,110.1 150.3,111.6 152.2,98.5 154.1,91.8 155.9,108.7 157.8,120.6 159.7,128.7 161.5,123.7 163.4,112.9 165.3,140.2 167.1,112.5 169,113.6 170.9,105.1 172.7,117.8 174.6,112.1 176.5,123 178.3,119.4 180.2,136.4 182.1,111.8 183.9,93.4 185.8,111.3 187.7,108.7 189.5,126.1 191.4,94.9 193.3,123.3 195.1,103.1 197,112.1 198.9,125.8 200.7,100.2 202.6,113.2 204.5,111.1 206.3,107.6 208.2,113.7 210.1,118.3 211.9,107.4 213.8,118.7 215.7,112.6 217.5,122.1 219.4,132.7 221.3,122.1 223.1,119.8 225,113.3 226.9,98.2 228.7,135.2 230.6,111.8 232.5,141.9 234.3,126.9 236.2,120 238.1,142.4 239.9,137.4 241.8,111.5 243.7,112.4 245.5,114.9 247.4,123.8 249.3,85.7 251.1,115.5 253,124.5 254.9,91.9 256.7,105.5 258.6,118.2 260.5,98.1 262.4,111.4 264.2,105.2 266.1,110.4 268,126.7 269.8,101 271.7,111.4 273.6,126.4 275.4,123.3 277.3,101.3 279.2,118.3 281,113 282.9,105.2 284.8,112 286.6,133.1 288.5,105.5 290.4,101.7 292.2,102.6 294.1,93.1 296,109.1 297.8,103.9 299.7,93.6 301.6,117.5 303.4,91.8 305.3,91.8 307.2,103.9 309,90.6 310.9,103.1 312.8,125.1 314.6,99.6 316.5,109.9 318.4,108.8 320.2,112.1 322.1,96.9 324,107.1 325.8,122.9 327.7,108 329.6,104.9 331.4,123.3 333.3,119.7 335.2,119 337,121.9 338.9,109.9 340.8,101.5 342.6,90.5 344.5,99.3 346.4,101.5 348.2,100 350.1,97.6 352,119.1 353.8,105.7 355.7,110.4 357.6,116.1 359.4,120.2 361.3,120.8 363.2,117.9 365,130 366.9,108.1 368.8,114.9 370.6,113.3 372.5,110.4 374.4,105.6 376.3,122 378.1,116 380,134.7 381.9,142.3 383.7,138.8 385.6,95.7 387.5,137.4 389.3,109"/>
<polyline points="83.1,94.2 85,119.4 86.8,92.2 88.7,89.4 90.6,101.1 92.4,82.6 94.3,105.3 96.2,122.9 98,106.6 99.9,119.2 101.8,130.4 103.6,130 105.5,83.3 107.4,120.4 109.2,113.7 111.1,122 113,111.6 114.8,116.4 116.7,118.7 118.6,129.1 120.4,131.7 122.3,123 124.2,109.5 126,86.3 127.9,99.6 129.8,89.6 131.6,107 133.5,114.4 135.4,130.4 137.2,113.2 139.1,141 141,117.1 142.9,92.1 144.7,108.9 146.6,98.6 148.5,118.1 150.3,131 152.2,119.4 154.1,118.3 155.9,97.6 157.8,87.6 159.7,122.8 161.5,117.8 163.4,115 165.3,117.7 167.1,129.2 169,111.9 170.9,108.4 172.7,108.1 174.6,128.7 176.5,114.6 178.3,135.6 180.2,101.3 182.1,126.3 183.9,116.6 185.8,118.9 187.7,120.6 189.5,126.8 191.4,135.9 193.3,90.7 195.1,109.8 197,109.6 198.9,86 200.7,114.4 202.6,105.9 204.5,112.8 206.3,97.7 208.2,106.6 210.1,109 211.9,116.3 213.8,109.4 215.7,98 217.5,139.8 219.4,114.7 221.3,118.4 223.1,116.9 225,138.5 226.9,103.6 228.7,123.9 230.6,115.9 232.5,119.5 234.3,134.5 236.2,118.8 238.1,136.7 239.9,125.2 241.8,117.1 243.7,113.1 245.5,112.3 247.4,114.8 249.3,85.5 251.1,107.4 253,128.7 254.9,120.9 256.7,121.5 258.6,115.3 260.5,120.8 262.4,124 264.2,91.8 266.1,112.4 268,117.3 269.8,116.3 271.7,115.8 273.6,95.2 275.4,106.9 277.3,98.7 279.2,153 281,109 282.9,99.6 284.8,87.9 286.6,112.8 288.5,135.1 290.4,105.7 292.2,120.9 294.1,136.1 296,121.2 297.8,99.9 299.7,98 301.6,104.2 303.4,126.7 305.3,81.4 307.2,128.3 309,114.4 310.9,131.8 312.8,96.8 314.6,107.8 316.5,102.3 318.4,112.4 320.2,114.4 322.1,111.4 324,137.4 325.8,101.1 327.7,102.1 329.6,118.6 331.4,113.8 333.3,109.9 335.2,93.9 337,108.3 338.9,113.2 340.8,120.1 342.6,132.7 344.5,121.3 346.4,112.9 348.2,117 350.1,112.9 352,104.5 353.8,108.4 355.7,110.4 357.6,105.7 359.4,111.6 361.3,114.3 363.2,108.1 365,135.5 366.9,98.4 368.8,130.1 370.6,103.6 372.5,113.9 374.4,100.3 376.3,113.7 378.1,125.8 380,100.8 381.9,111.9 383.7,112.7 385.6,113.2 387.5,101.8 389.3,104.1"/>
<polyline points="83.1,109.8 85,133 86.8,118 88.7,111.4 90.6,89.4 92.4,107.8 94.3,114 96.2,97.2 98,114.2 99.9,113.1 101.8,110.7 103.6,132.2 105.5,100.3 107.4,107.2 109.2,116.4 111.1,127.6 113,110 114.8,94.5 116.7,121.1 118.6,126.5 120.4,107.3 122.3,133.5 124.2,141.6 126,118.5 127.9,121.7 129.8,116.3 131.6,119.9 133.5,108.4 135.4,115.6 137.2,120.5 139.1,118.6 141,104.5 142.9,100.3 144.7,101 146.6,103.7 148.5,155.4 150.3,125.7 152.2,116.8 154.1,110 155.9,133.6 157.8,94.3 159.7,108.7 161.5,120.7 163.4,110.6 165.3,117.2 167.1,122.5 169,106.1 170.9,118.5 172.7,130.9 174.6,120.9 176.5,114.1 178.3,126.6 180.2,96.3 182.1,126.7 183.9,89.9 185.8,101.1 187.7,124.8 189.5,111 191.4,97.4 193.3,115.1 195.1,128 197,111.2 198.9,86.9 200.7,131.9 202.6,105.5 204.5,112.5 206.3,114.1 208.2,117.6 210.1,116.7 211.9,99.2 213.8,104.9 215.7,125.4 217.5,92.5 219.4,129.3 221.3,104 223.1,110.2 225,97.1 226.9,108 228.7,98.9 230.6,112.9 232.5,100 234.3,108.1 236.2,84.9 238.1,121.5 239.9,97.2 241.8,106.5 243.7,110.2 245.5,119.8 247.4,106.8 249.3,131.5 251.1,130.1 253,103.4 254.9,132.5 256.7,94 258.6,116 260.5,109.3 262.4,111.5 264.2,107.1 266.1,116.1 268,117.2 269.8,114.1 271.7,99 273.6,98 275.4,96.2 277.3,107.9 279.2,115.2 281,134.1 282.9,104.4 284.8,101.9 286.6,117.8 288.5,102.4 290.4,96.3 292.2,111.5 294.1,99.3 296,108.9 297.8,134.9 299.7,118.8 301.6,118.1 303.4,106.1 305.3,123.9 307.2,118.5 309,125.1 310.9,113.4 312.8,112.1 314.6,100.6 316.5,102.9 318.4,111 320.2,110 322.1,111.7 324,111.7 325.8,93.6 327.7,144.5 329.6,115.4 331.4,109.2 333.3,99 335.2,127 337,108.9 338.9,102.4 340.8,118.9 342.6,137.3 344.5,117.9 346.4,128.4 348.2,105.2 350.1,124.1 352,91.1 353.8,111.7 355.7,123.6 357.6,119.8 359.4,127.2 361.3,108.7 363.2,95 365,116.3 366.9,102.1 368.8,125.4 370.6,109.8 372.5,85 374.4,131.2 376.3,98.4 378.1,99.2 380,137.1 381.9,131.6 383.7,125.9 385.6,101.8 387.5,119.2 389.3,116"/>
<polyline points="83.1,103.2 85,110.9 86.8,109.5 88.7,116.6 90.6,97.8 92.4,122.6 94.3,90.6 96.2,116.8 98,122.8 99.9,104 101.8,106.6 103.6,138.2 105.5,109.6 107.4,130 109.2,123.3 111.1,102.2 113,123.7 114.8,107.9 116.7,117.4 118.6,87.4 120.4,113.7 122.3,127.8 124.2,126.8 126,124.3 127.9,110.9 129.8,112.6 131.6,99.9 133.5,110.4 135.4,110.9 137.2,108.3 139.1,114.2 141,108.8 142.9,102.4 144.7,102.4 146.6,119.6 148.5,135.5 150.3,123.1 152.2,108.9 154.1,144.8 155.9,118.8 157.8,106.8 159.7,119.9 161.5,127.1 163.4,89.9 165.3,94.7 167.1,116 169,95.5 170.9,95.8 172.7,127.3 174.6,78 176.5,124.8 178.3,116.1 180.2,126.8 182.1,111.7 183.9,129.7 185.8,112.8 187.7,98.7 189.5,110 191.4,116.1 193.3,92.8 195.1,124.3 197,100.2 198.9,116.6 200.7,110 202.6,112.4 204.5,111.1 206.3,113.5 208.2,122.9 210.1,120.1 211.9,107.1 213.8,114.2 215.7,127.8 217.5,121.9 219.4,121.8 221.3,113.5 223.1,110.6 225,111.7 226.9,121.3 228.7,112.7 230.6,130.5 232.5,150 234.3,113.6 236.2,134.2 238.1,125.1 239.9,128.5 241.8,104.9 243.7,128.5 245.5,109.4 247.4,119.3 249.3,128.9 251.1,133.3 253,107.1 254.9,108.1 256.7,103.1 258.6,89.6 260.5,109.6 262.4,109.5 264.2,114.7 266.1,111.8 268,117.7 269.8,124.7 271.7,87.6 273.6,137.1 275.4,110 277.3,107.6 279.2,111.4 281,125.7 282.9,115.9 284.8,119.3 286.6,127.2 288.5,114.1 290.4,118.8 292.2,120.6 294.1,104.9 296,127.2 297.8,108.1 299.7,121.5 301.6,108.3 303.4,112.9 305.3,110.8 307.2,126.3 309,123.7 310.9,124.8 312.8,111.8 314.6,104.5 316.5,100.4 318.4,120.4 320.2,113 322.1,134.5 324,142.1 325.8,125.1 327.7,122.6 329.6,133.8 331.4,136.6 333.3,107.6 335.2,124.4 337,135.5 338.9,85.3 340.8,112.3 342.6,118.4 344.5,106 346.4,124 348.2,94.7 350.1,133.8 352,131 353.8,116.4 355.7,124.2 357.6,97.1 359.4,134.7 361.3,123.9 363.2,111.9 365,107.9 366.9,102.4 368.8,110.7 370.6,87.6 372.5,120.9 374.4,112.9 376.3,104.4 378.1,119 380,118.7 381.9,120.9 383.7,123.1 385.6,129.2 387.5,122.1 389.3,134.4"/>
<polyline points="83.1,109 85,134.6 86.8,87.1 88.7,91.9 90.6,99.6 92.4,116.7 94.3,121.6 96.2,98.1 98,111.6 99.9,106.7 101.8,123.3 103.6,100.2 105.5,124.4 107.4,112.6 109.2,136.5 111.1,122.5 113,107.6 114.8,119.9 116.7,119.8 118.6,103.9 120.4,115 122.3,98 124.2,145.3 126,106.7 127.9,107.5 129.8,134.1 131.6,130.9 133.5,102.7 135.4,127.9 137.2,122.3 139.1,106.4 141,118.4 142.9,108 144.7,125.3 146.6,110.3 148.5,100.1 150.3,109.9 152.2,142.4 154.1,105.7 155.9,113.4 157.8,125.8 159.7,96.2 161.5,136.6 163.4,90 165.3,122.3 167.1,93.8 169,114.7 170.9,131.3 172.7,112.9 174.6,109.9 176.5,107.2 178.3,100.5 180.2,125.7 182.1,107.8 183.9,104.7 185.8,117.6 187.7,126.2 189.5,126.4 191.4,104.5 193.3,103.9 195.1,124.8 197,131.4 198.9,98.2 200.7,134.1 202.6,112.1 204.5,124.5 206.3,136.7 208.2,112.6 210.1,116.6 211.9,95.7 213.8,85 215.7,116.6 217.5,101 219.4,100.7 221.3,120.9 223.1,125.3 225,93.5 226.9,118.8 228.7,114.5 230.6,117.9 232.5,115.9 234.3,121.9 236.2,104.6 238.1,98.1 239.9,118.9 241.8,131.8 243.7,113.5 245.5,133.2 247.4,122.3 249.3,98.4 251.1,84.5 253,109.3 254.9,127.8 256.7,104.2 258.6,142.9 260.5,123 262.4,94.7 264.2,104.6 266.1,131.8 268,135.4 269.8,103.2 271.7,114.8 273.6,121.8 275.4,109 277.3,121.6 279.2,138.8 281,104 282.9,122.6 284.8,127.1 286.6,131.3 288.5,111.2 290.4,124.6 292.2,106.5 294.1,117.8 296,100.8 297.8,119.4 299.7,122.8 301.6,139.4 303.4,128.4 305.3,105.5 307.2,76 309,130.4 310.9,127.7 312.8,110.4 314.6,108.7 316.5,123.2 318.4,113.7 320.2,135 322.1,118.5 324,103.5 325.8,94.3 327.7,116.9 329.6,118.1 331.4,109.2 333.3,101 335.2,108.8 337,124.3 338.9,110.5 340.8,102.9 342.6,123.9 344.5,131.7 346.4,108.7 348.2,110.5 350.1,103 352,114 353.8,123.1 355.7,120.6 357.6,127.9 359.4,126.9 361.3,122.1 363.2,121.2 365,101.4 366.9,130.4 368.8,115.8 370.6,122.6 372.5,96.9 374.4,112.1 376.3,119.9 378.1,105.3 380,114.5 381.9,121.2 383.7,96.5 385.6,106.6 387.5,94.1 389.3,101.2"/>
<polyline points="83.1,104 85,112.4 86.8,128.1 88.7,104.9 90.6,113.1 92.4,105.3 94.3,114.1 96.2,123 98,127.1 99.9,105 101.8,97.3 103.6,117.7 105.5,108.1 107.4,96.1 109.2,124.8 111.1,118.4 113,128.5 114.8,98.8 116.7,110.6 118.6,120 120.4,135.4 122.3,116.3 124.2,101.1 126,117.8 127.9,119.5 129.8,105.7 131.6,129.9 133.5,113.3 135.4,106.3 137.2,124 139.1,124.6 141,110.8 142.9,115.2 144.7,117 146.6,111.3 148.5,111.1 150.3,125.9 152.2,122.5 154.1,108.2 155.9,99.5 157.8,96.5 159.7,124.8 161.5,99.9 163.4,104.2 165.3,114.3 167.1,107.6 169,103.3 170.9,90.9 172.7,127.4 174.6,106.2 176.5,115.7 178.3,116.5 180.2,99.2 182.1,103.4 183.9,126.9 185.8,117.5 187.7,111 189.5,132 191.4,102.8 193.3,114.8 195.1,111.8 197,109.6 198.9,90.7 200.7,113.4 202.6,118.4 204.5,91.6 206.3,120.3 208.2,120.6 210.1,131.6 211.9,100 213.8,110.4 215.7,107.8 217.5,111.7 219.4,115.6 221.3,123.8 223.1,123.8 225,108.3 226.9,112.2 228.7,93 230.6,123.5 232.5,120 234.3,126.8 236.2,96.3 238.1,129.5 239.9,104 241.8,95.5 243.7,115.6 245.5,104.6 247.4,140.9 249.3,118.7 251.1,134.9 253,111.6 254.9,113.7 256.7,123.6 258.6,101.8 260.5,109.3 262.4,120.4 264.2,120.3 266.1,132.5 268,116.1 269.8,86.9 271.7,122.8 273.6,108.5 275.4,120.8 277.3,103.7 279.2,108.3 281,116.9 282.9,136.5 284.8,120.4 286.6,98.8 288.5,117.1 290.4,106.1 292.2,120.1 294.1,137.6 296,108.7 297.8,110.1 299.7,121.4 301.6,118.8 303.4,110.5 305.3,121.6 307.2,109.8 309,116.8 310.9,143.8 312.8,116.1 314.6,121.7 316.5,124.8 318.4,109.3 320.2,120.4 322.1,107.6 324,100.7 325.8,112.6 327.7,133.7 329.6,123.5 331.4,103.1 333.3,117.7 335.2,124.5 337,115.6 338.9,108.3 340.8,111.3 342.6,106.5 344.5,124.8 346.4,118 348.2,117.7 350.1,114.9 352,140.6 353.8,117.6 355.7,131.3 357.6,97.5 359.4,95.5 361.3,94 363.2,104.8 365,120.8 366.9,103 368.8,117.3 370.6,107.3 372.5,126 374.4,122.1 376.3,109.2 378.1,93.2 380,115.3 381.9,87.3 383.7,81.2 385.6,130.7 387.5,115.4 389.3,126.7"/>
<polyline points="83.1,115.5 85,120.5 86.8,114.5 88.7,101.2 90.6,101.6 92.4,110.3 94.3,113.6 96.2,112.1 98,112 99.9,106.3 101.8,113.6 103.6,107.2 105.5,130.5 107.4,103.4 109.2,91.2 111.1,111.3 113,131.8 114.8,96.3 116.7,117.9 118.6,152 120.4,116.4 122.3,105.8 124.2,108.7 126,97.7 127.9,105.6 129.8,112 131.6,139 133.5,127.9 135.4,111.3 137.2,104.9 139.1,126.8 141,121.5 142.9,107.6 144.7,138.1 146.6,138.6 148.5,116.6 150.3,110.4 152.2,119.7 154.1,143 155.9,113.3 157.8,130.6 159.7,105.2 161.5,114.9 163.4,110.2 165.3,105.4 167.1,120.3 169,103 170.9,97.7 172.7,108.5 174.6,96.6 176.5,121.6 178.3,101.9 180.2,110.2 182.1,126.2 183.9,114.6 185.8,120.4 187.7,120.7 189.5,112.5 191.4,100 193.3,117.7 195.1,112 197,132.4 198.9,112.2 200.7,98.8 202.6,103.2 204.5,107.5 206.3,120.3 208.2,126 210.1,114.8 211.9,130.7 213.8,129.3 215.7,101.6 217.5,125.3 219.4,90.7 221.3,131.8 223.1,108.1 225,128.5 226.9,111.4 228.7,126.9 230.6,113.1 232.5,115.6 234.3,119.3 236.2,107.1 238.1,94.3 239.9,121.1 241.8,102.3 243.7,112.5 245.5,114 247.4,85.6 249.3,141.2 251.1,122.3 253,136.6 254.9,117.6 256.7,116.5 258.6,65.1 260.5,109.2 262.4,90.7 264.2,97.1 266.1,119.2 268,107.5 269.8,92.4 271.7,111.4 273.6,111 275.4,107.3 277.3,132.8 279.2,124 281,109.5 282.9,106.8 284.8,125.4 286.6,117.9 288.5,115.4 290.4,115.8 292.2,105.1 294.1,112.5 296,111.8 297.8,131.8 299.7,127.2 301.6,109.9 303.4,134.1 305.3,110.6 307.2,122.4 309,124.3 310.9,106 312.8,122.6 314.6,124.9 316.5,122.7 318.4,113.5 320.2,79.8 322.1,140.8 324,114.5 325.8,117.3 327.7,102.4 329.6,119 331.4,145.3 333.3,97.8 335.2,128.1 337,115.2 338.9,131.6 340.8,128.2 342.6,120.7 344.5,103.9 346.4,104.1 348.2,122.1 350.1,108.4 352,119.3 353.8,113.3 355.7,112.8 357.6,107.1 359.4,122.4 361.3,116.5 363.2,112.1 365,113.8 366.9,124.8 368.8,93.6 370.6,120.6 372.5,105.6 374.4,112.5 376.3,99.9 378.1,142 380,89.8 381.9,117.7 383.7,130.3 385.6,113.6 387.5,87.4 389.3,109"/>
<polyline points="83.1,129.8 85,119.8 86.8,96.5 88.7,132 90.6,116.2 92.4,117.6 94.3,85.8 96.2,117.6 98,96.8 99.9,122.6 101.8,124.2 103.6,100.9 105.5,105.8 107.4,136.2 109.2,105.6 111.1,105.5 113,121.8 114.8,111 116.7,110.4 118.6,120.1 120.4,121.4 122.3,122.5 124.2,117.4 126,131 127.9,114.4 129.8,133.1 131.6,112.9 133.5,115 135.4,127.2 137.2,102.9 139.1,88.9 141,96.8 142.9,131.5 144.7,97.5 146.6,111.1 148.5,114.5 150.3,121.5 152.2,114 154.1,96 155.9,106.9 157.8,119.2 159.7,122.5 161.5,119.2 163.4,106.3 165.3,89.9 167.1,127.5 169,113.9 170.9,118.8 172.7,123.5 174.6,108.8 176.5,106.8 178.3,132.1 180.2,127.2 182.1,98.6 183.9,109.8 185.8,107.2 187.7,120.3 189.5,118.8 191.4,108 193.3,120.3 195.1,128.1 197,113.9 198.9,102.3 200.7,127.1 202.6,100.4 204.5,104.9 206.3,124.9 208.2,113.8 210.1,114.4 211.9,105.8 213.8,105.4 215.7,130.5 217.5,131.1 219.4,100.7 221.3,112.4 223.1,108.6 225,109.6 226.9,94.3 228.7,129.3 230.6,100 232.5,124.3 234.3,104.6 236.2,96.8 238.1,131.5 239.9,108.7 241.8,117.4 243.7,117.6 245.5,113.3 247.4,127.3 249.3,126.1 251.1,105.5 253,103.1 254.9,121.1 256.7,132.4 258.6,84.4 260.5,99.9 262.4,109.3 264.2,127 266.1,121.3 268,110.8 269.8,126.1 271.7,93.6 273.6,112.2 275.4,109 277.3,127 279.2,125.5 281,124 282.9,110.5 284.8,117.4 286.6,117.7 288.5,110.1 290.4,111.3 292.2,95.5 294.1,116.6 296,126.9 297.8,114.3 299.7,95.9 301.6,121.2 303.4,113.7 305.3,118.8 307.2,109.2 309,111.1 310.9,124.5 312.8,117.2 314.6,102.6 316.5,100.8 318.4,102.9 320.2,103.7 322.1,118.6 324,119 325.8,103 327.7,129.1 329.6,115.3 331.4,137.6 333.3,119.3 335.2,123.4 337,129.5 338.9,107.5 340.8,123.8 342.6,119.2 344.5,117.9 346.4,123.8 348.2,97.2 350.1,120.9 352,112.4 353.8,130.9 355.7,120.7 357.6,118.8 359.4,118.7 361.3,122.1 363.2,113.2 365,95.9 366.9,116.6 368.8,116.7 370.6,119.8 372.5,84 374.4,95.4 376.3,108.3 378.1,106.5 380,123.8 381.9,117 383.7,112.6 385.6,113.7 387.5,125.6 389.3,124.7"/>
<polyline points="83.1,107.3 85,109.9 86.8,140.8 88.7,112.7 90.6,97.6 92.4,122.1 94.3,110.8 96.2,132.4 98,103.2 99.9,128.1 101.8,129.8 103.6,117.9 105.5,83.6 107.4,121.6 109.2,129.9 111.1,108 113,110.9 114.8,92.7 116.7,130 118.6,134.1 120.4,117.9 122.3,109 124.2,109.3 126,100 127.9,132.9 129.8,124.3 131.6,115.5 133.5,103.2 135.4,107.8 137.2,119.2 139.1,126.8 141,102.6 142.9,101.8 144.7,79.3 146.6,116.1 148.5,93.2 150.3,129.2 152.2,120.7 154.1,122.4 155.9,119.7 157.8,125 159.7,120.7 161.5,114.5 163.4,119.5 165.3,105.5 167.1,114.9 169,113.8 170.9,95.1 172.7,109.8 174.6,111.9 176.5,114.1 178.3,113 180.2,106.6 182.1,124 183.9,99.3 185.8,93.9 187.7,99.2 189.5,120 191.4,134 193.3,119.4 195.1,111.9 197,103.3 198.9,116.1 200.7,117.7 202.6,94.6 204.5,122.3 206.3,100.3 208.2,102.4 210.1,130.6 211.9,110.3 213.8,120.9 215.7,125.8 217.5,137.2 219.4,133.6 221.3,108.6 223.1,118.7 225,110.4 226.9,127.2 228.7,117.9 230.6,117.2 232.5,133.3 234.3,134.8 236.2,108.3 238.1,112 239.9,125.6 241.8,115.1 243.7,105.5 245.5,90.7 247.4,125 249.3,106 251.1,87.1 253,113 254.9,95.3 256.7,146.4 258.6,95.6 260.5,113.9 262.4,137.4 264.2,104 266.1,100.6 268,98.6 269.8,98.7 271.7,114.2 273.6,123.3 275.4,119.7 277.3,114.3 279.2,108.8 281,120 282.9,113.4 284.8,103 286.6,109.9 288.5,85.3 290.4,87.1 292.2,128.4 294.1,121.2 296,130.5 297.8,128.7 299.7,107.3 301.6,126.6 303.4,127.3 305.3,117.6 307.2,104.3 309,118.7 310.9,118.7 312.8,102.9 314.6,108.5 316.5,108.7 318.4,102.6 320.2,127 322.1,111.7 324,122.3 325.8,101.7 327.7,104.4 329.6,127.4 331.4,98 333.3,129 335.2,100.1 337,112.1 338.9,125.4 340.8,128.5 342.6,118.4 344.5,115 346.4,123.5 348.2,107.8 350.1,132 352,114.9 353.8,114.8 355.7,137.8 357.6,111 359.4,130.4 361.3,145.6 363.2,122.4 365,117.7 366.9,103.9 368.8,120.9 370.6,96.9 372.5,97.4 374.4,101.7 376.3,98.9 378.1,110.8 380,121.9 381.9,107.2 383.7,103.3 385.6,112.2 387.5,118.2 389.3,134.3"/>
<polyline points="83.1,105.2 85,109.3 86.8,130.5 88.7,112.6 90.6,104.6 92.4,115.2 94.3,103.8 96.2,104.2 98,132.8 99.9,117.7 101.8,107.6 103.6,102.1 105.5,95.7 107.4,138.4 109.2,114.7 111.1,104.7 113,98.1 114.8,92.2 116.7,125.8 118.6,118.6 120.4,127.3 122.3,103.3 124.2,130.8 126,98.7 127.9,101.8 129.8,107.6 131.6,141.7 133.5,122.5 135.4,104.2 137.2,132 139.1,116.9 141,115.2 142.9,102.4 144.7,110.2 146.6,110.3 148.5,119.5 150.3,113.8 152.2,115.6 154.1,104.5 155.9,116.1 157.8,100.6 159.7,135.6 161.5,98.5 163.4,116 165.3,99.4 167.1,112.8 169,102.9 170.9,94.7 172.7,120.9 174.6,112.8 176.5,116 178.3,111.2 180.2,134.5 182.1,116 183.9,117 185.8,123.9 187.7,116.3 189.5,133.5 191.4,96 193.3,108.2 195.1,89.8 197,125 198.9,128.7 200.7,110.3 202.6,135.1 204.5,111 206.3,122.8 208.2,118.1 210.1,110.6 211.9,113.3 213.8,90.1 215.7,105.8 217.5,130.3 219.4,101.4 221.3,130.9 223.1,112.8 225,129.8 226.9,124.4 228.7,97.2 230.6,121 232.5,122.1 234.3,121.1 236.2,117.9 238.1,95.6 239.9,128.9 241.8,129.6 243.7,106.5 245.5,134.2 247.4,118.6 249.3,99.5 251.1,113.9 253,120 254.9,123 256.7,125.6 258.6,121.5 260.5,112.2 262.4,98.2 264.2,101.7 266.1,121.2 268,123.3 269.8,105.2 271.7,137 273.6,119.6 275.4,118.2 277.3,128.2 279.2,126.7 281,109.8 282.9,135.1 284.8,125.8 286.6,122.5 288.5,113.3 290.4,131.6 292.2,100.7 294.1,118.3 296,117.7 297.8,119 299.7,123 301.6,126.9 303.4,100.2 305.3,112.1 307.2,116 309,102.2 310.9,123.6 312.8,106.9 314.6,114.5 316.5,125.9 318.4,105.3 320.2,133.5 322.1,106.8 324,125.9 325.8,109.9 327.7,97.8 329.6,107.9 331.4,122.5 333.3,115.4 335.2,119.7 337,129.7 338.9,128.9 340.8,114.7 342.6,108.6 344.5,137.1 346.4,116.2 348.2,109.1 350.1,114 352,127.7 353.8,102.7 355.7,130.4 357.6,107.5 359.4,95.8 361.3,140.6 363.2,112.4 365,111.8 366.9,112.9 368.8,125.1 370.6,119.5 372.5,132.8 374.4,114.1 376.3,109.2 378.1,123.9 380,127.1 381.9,121.6 383.7,116 385.6,115.2 387.5,117.2 389.3,115.1"/>
<polyline points="83.1,131.4 85,149.6 86.8,106.8 88.7,96.5 90.6,132.8 92.4,123.2 94.3,110.8 96.2,102.5 98,106.4 99.9,98.4 101.8,115.4 103.6,109.4 105.5,109.4 107.4,120.2 109.2,99.4 111.1,106.7 113,102.2 114.8,119.7 116.7,101.6 118.6,128.1 120.4,109.7 122.3,148 124.2,127.6 126,105.3 127.9,120.4 129.8,112.5 131.6,135.3 133.5,95 135.4,107.1 137.2,115.1 139.1,109.4 141,110.6 142.9,96.8 144.7,112 146.6,133.4 148.5,118 150.3,98.4 152.2,107.5 154.1,120.1 155.9,107 157.8,113.3 159.7,107 161.5,134.8 163.4,126.1 165.3,106.3 167.1,117.6 169,110.3 170.9,89.9 172.7,118.7 174.6,111.7 176.5,121.8 178.3,122.6 180.2,115.7 182.1,133.1 183.9,141.3 185.8,97.5 187.7,116 189.5,100.5 191.4,113.2 193.3,112.8 195.1,106.3 197,105.7 198.9,129.9 200.7,99.5 202.6,127 204.5,112.2 206.3,82.5 208.2,113.7 210.1,93.7 211.9,119.1 213.8,107 215.7,114.1 217.5,109.5 219.4,125.5 221.3,126.3 223.1,110.5 225,134.4 226.9,125.3 228.7,106.6 230.6,122.5 232.5,125.9 234.3,128.6 236.2,112.9 238.1,119.3 239.9,112.8 241.8,117.1 243.7,91.4 245.5,120.2 247.4,139.3 249.3,113.2 251.1,114.7 253,112.7 254.9,134.8 256.7,100.5 258.6,115.1 260.5,115.2 262.4,134.5 264.2,108.8 266.1,115.5 268,97.8 269.8,119.9 271.7,130.2 273.6,113.1 275.4,126.2 277.3,109.6 279.2,128.3 281,116.4 282.9,117.7 284.8,115.3 286.6,121.3 288.5,125 290.4,115.7 292.2,122.1 294.1,113.1 296,118.4 297.8,142.8 299.7,115.8 301.6,97.9 303.4,111.3 305.3,107.7 307.2,109.5 309,120.9 310.9,131.6 312.8,105.2 314.6,102.2 316.5,108.3 318.4,110 320.2,110.4 322.1,115.6 324,112 325.8,115.2 327.7,111.4 329.6,126.9 331.4,123.1 333.3,108.5 335.2,119.6 337,144.9 338.9,114 340.8,143.2 342.6,92.3 344.5,106.8 346.4,107.4 348.2,123.6 350.1,129.2 352,118.2 353.8,115.4 355.7,124.9 357.6,113.7 359.4,107.4 361.3,108.5 363.2,128.2 365,141.7 366.9,115.7 368.8,123.6 370.6,110.4 372.5,96.2 374.4,96.2 376.3,112.4 378.1,102.6 380,96.3 381.9,115.3 383.7,112.6 385.6,105.8 387.5,116.3 389.3,121.8"/>
<polyline points="83.1,123.9 85,114.5 86.8,122.3 88.7,104.6 90.6,118.7 92.4,96.3 94.3,99.4 96.2,130 98,101.1 99.9,119.5 101.8,97.5 103.6,108.1 105.5,115.1 107.4,106.1 109.2,121.4 111.1,110.4 113,109.7 114.8,116.3 116.7,109.6 118.6,126.8 120.4,107.5 122.3,129.4 124.2,106.7 126,108.5 127.9,105.6 129.8,121.3 131.6,76.8 133.5,117.1 135.4,112.5 137.2,123.6 139.1,96.6 141,120.1 142.9,102 144.7,125.9 146.6,110.4 148.5,118.8 150.3,102.8 152.2,117.8 154.1,124.8 155.9,108.6 157.8,128.9 159.7,126 161.5,104.7 163.4,137.2 165.3,104.8 167.1,119.1 169,125.4 170.9,111.1 172.7,106.4 174.6,121.3 176.5,116.2 178.3,104.3 180.2,104.8 182.1,114.7 183.9,123.5 185.8,125.6 187.7,121.3 189.5,105.7 191.4,106.9 193.3,110.3 195.1,97 197,117.6 198.9,118.6 200.7,118.6 202.6,90.6 204.5,139 206.3,110.4 208.2,108.5 210.1,113.1 211.9,85.4 213.8,99.6 215.7,104.5 217.5,124.8 219.4,107.8 221.3,118.4 223.1,113.3 225,111.4 226.9,119.7 228.7,106.1 230.6,94 232.5,101.2 234.3,111.1 236.2,137.2 238.1,100.5 239.9,100.7 241.8,116.1 243.7,119.5 245.5,105.7 247.4,123.5 249.3,104 251.1,126.7 253,124.8 254.9,113.5 256.7,131.3 258.6,113.6 260.5,107.2 262.4,129.5 264.2,102.4 266.1,120.4 268,107 269.8,111 271.7,119.1 273.6,119.9 275.4,134.2 277.3,122 279.2,123 281,93.9 282.9,101.5 284.8,130.2 286.6,104.1 288.5,111.1 290.4,118.3 292.2,108.3 294.1,104.4 296,120.6 297.8,117.1 299.7,111.9 301.6,125.6 303.4,111.7 305.3,114.9 307.2,122 309,124 310.9,110.4 312.8,103.6 314.6,110.1 316.5,124.2 318.4,105.2 320.2,112.1 322.1,107.1 324,100.4 325.8,124.8 327.7,115.8 329.6,121.2 331.4,124.5 333.3,90.6 335.2,103.2 337,135.1 338.9,109.3 340.8,120.8 342.6,100.8 344.5,113.4 346.4,116.4 348.2,112.7 350.1,109.9 352,114.1 353.8,117 355.7,116.1 357.6,108.5 359.4,127.7 361.3,114.6 363.2,115.9 365,120.2 366.9,106 368.8,129.6 370.6,118.9 372.5,124.6 374.4,108.3 376.3,120.1 378.1,114.2 380,110.3 381.9,133.3 383.7,109.5 385.6,123.5 387.5,117.8 389.3,116.1"/>
<polyline points="83.1,103.6 85,104.5 86.8,92 88.7,111.3 90.6,119.2 92.4,119.6 94.3,105.5 96.2,94 98,109.3 99.9,120.4 101.8,110.1 103.6,110.3 105.5,113 107.4,122.5 109.2,144.3 111.1,120 113,100.7 114.8,110.9 116.7,140.2 118.6,113.4 120.4,135.9 122.3,89.3 124.2,111.1 126,128 127.9,103.8 129.8,122.9 131.6,106.6 133.5,113.2 135.4,127.7 137.2,105.4 139.1,129.7 141,97.2 142.9,112.7 144.7,125.9 146.6,135.4 148.5,93.9 150.3,95.9 152.2,128.7 154.1,93.5 155.9,111.4 157.8,116.1 159.7,114.5 161.5,116.7 163.4,96.1 165.3,111.6 167.1,135.7 169,88.1 170.9,102.8 172.7,126.6 174.6,117.7 176.5,124.4 178.3,112.9 180.2,108.7 182.1,110.6 183.9,120.7 185.8,123.1 187.7,103.2 189.5,114.7 191.4,86.3 193.3,123.2 195.1,103.9 197,112.9 198.9,122.6 200.7,97 202.6,112 204.5,124.2 206.3,117.3 208.2,101.2 210.1,128.2 211.9,96.8 213.8,105.2 215.7,116.8 217.5,97.1 219.4,92.4 221.3,106.2 223.1,111.4 225,91.2 226.9,95.4 228.7,124.6 230.6,115.9 232.5,116 234.3,118.4 236.2,131.5 238.1,102.6 239.9,112.4 241.8,112.3 243.7,96.5 245.5,120.3 247.4,114.1 249.3,110.1 251.1,118.7 253,114.8 254.9,104.2 256.7,113.5 258.6,97.4 260.5,122.5 262.4,111 264.2,130.6 266.1,114.9 268,121.9 269.8,97 271.7,104.5 273.6,107.4 275.4,91.3 277.3,96.2 279.2,104.9 281,121.9 282.9,131 284.8,114 286.6,117.9 288.5,121.4 290.4,117.2 292.2,133.6 294.1,95.8 296,127.4 297.8,121.8 299.7,107 301.6,133.3 303.4,102.8 305.3,102.6 307.2,117.6 309,126.8 310.9,119.6 312.8,136.1 314.6,97.4 316.5,113.3 318.4,122.8 320.2,124.9 322.1,107.2 324,96.1 325.8,129.3 327.7,121 329.6,135.1 331.4,106.1 333.3,112.3 335.2,87.3 337,115.7 338.9,119.4 340.8,122.7 342.6,104.2 344.5,133.6 346.4,105.4 348.2,111.4 350.1,120.4 352,125.1 353.8,101.9 355.7,92.4 357.6,119.7 359.4,108.2 361.3,93.9 363.2,121.9 365,117.5 366.9,129 368.8,116.3 370.6,115.6 372.5,119.6 374.4,123.4 376.3,133.3 378.1,130.6 380,126.2 381.9,107.2 383.7,120.8 385.6,124.8 387.5,107.1 389.3,108.2"/>
<polyline points="83.1,122.8 85,121.2 86.8,105.3 88.7,108.9 90.6,123.8 92.4,110.5 94.3,113.8 96.2,99.6 98,124.2 99.9,102.5 101.8,108.1 103.6,125.9 105.5,100.4 107.4,102.2 109.2,129.8 111.1,88.9 113,127.6 114.8,124.8 116.7,117.4 118.6,103.9 120.4,106.2 122.3,114.6 124.2,96.5 126,108.4 127.9,96.1 129.8,78.5 131.6,111 133.5,145.4 135.4,119.1 137.2,126.8 139.1,112.3 141,112.2 142.9,128.7 144.7,127.8 146.6,116.7 148.5,115.9 150.3,145.9 152.2,101.3 154.1,113.1 155.9,113.6 157.8,109.7 159.7,126.2 161.5,114.1 163.4,100.5 165.3,100 167.1,107.7 169,116.9 170.9,123.7 172.7,96.9 174.6,106.9 176.5,118.7 178.3,140.6 180.2,124.3 182.1,137.6 183.9,97.8 185.8,111.1 187.7,122.8 189.5,116.9 191.4,80.8 193.3,98.2 195.1,130.3 197,115.1 198.9,128.9 200.7,135.2 202.6,111.2 204.5,83 206.3,93.8 208.2,112.9 210.1,118.2 211.9,110.9 213.8,100.4 215.7,131.9 217.5,137.1 219.4,89.7 221.3,109.9 223.1,93.1 225,110.4 226.9,94.7 228.7,121.2 230.6,107.1 232.5,93.8 234.3,100.5 236.2,119.3 238.1,102.1 239.9,121.9 241.8,131.5 243.7,106.8 245.5,95.7 247.4,102.7 249.3,129.4 251.1,102.4 253,104.8 254.9,119.3 256.7,145 258.6,100.5 260.5,102.2 262.4,107.1 264.2,135.5 266.1,132.4 268,100.6 269.8,103.2 271.7,107.2 273.6,116.6 275.4,108.5 277.3,120.4 279.2,117.5 281,124.6 282.9,110.3 284.8,118.9 286.6,101.6 288.5,104.5 290.4,124 292.2,90.4 294.1,128 296,108 297.8,100 299.7,97.6 301.6,141.8 303.4,101.2 305.3,98.4 307.2,95.7 309,142 310.9,122.5 312.8,115.2 314.6,119.6 316.5,97.1 318.4,122.6 320.2,98.5 322.1,107 324,132.4 325.8,126.6 327.7,120 329.6,112.9 331.4,101.7 333.3,116.5 335.2,102.8 337,134 338.9,152.6 340.8,118.5 342.6,108.5 344.5,118.8 346.4,127 348.2,109.1 350.1,90.2 352,115.7 353.8,123.5 355.7,125 357.6,89.9 359.4,115 361.3,106.9 363.2,99.3 365,101.1 366.9,126.1 368.8,102.7 370.6,104.1 372.5,108.6 374.4,102.1 376.3,121.7 378.1,115.6 380,121.2 381.9,105.3 383.7,122.9 385.6,109.9 387.5,128.4 389.3,116.3"/>
<polyline points="83.1,118.2 85,114.9 86.8,111.7 88.7,115.8 90.6,116.3 92.4,140.4 94.3,99.1 96.2,121.6 98,116.6 99.9,124.2 101.8,100.4 103.6,125.2 105.5,106.9 107.4,98.1 109.2,92 111.1,98 113,105.4 114.8,129 116.7,96.7 118.6,98 120.4,102.5 122.3,103 124.2,112.4 126,120.1 127.9,99.4 129.8,96.9 131.6,126.8 133.5,101.5 135.4,110.2 137.2,101.9 139.1,109.8 141,99 142.9,100.1 144.7,101.8 146.6,131.1 148.5,102.7 150.3,112.6 152.2,127.8 154.1,104.1 155.9,130.9 157.8,101.7 159.7,91.4 161.5,119.7 163.4,101.4 165.3,107.4 167.1,104.8 169,130.6 170.9,105.4 172.7,111.5 174.6,103.7 176.5,113.1 178.3,99.1 180.2,109.6 182.1,104.4 183.9,95.6 185.8,110.8 187.7,100.4 189.5,110.2 191.4,106.4 193.3,119.8 195.1,103.2 197,97.4 198.9,114.1 200.7,102.9 202.6,107.6 204.5,127.2 206.3,108.6 208.2,96.2 210.1,119.2 211.9,135.7 213.8,110.4 215.7,121.2 217.5,88.9 219.4,113.5 221.3,113.1 223.1,121 225,109.8 226.9,120.2 228.7,124.5 230.6,113.8 232.5,123.3 234.3,96.3 236.2,127.8 238.1,113.9 239.9,121.7 241.8,130.5 243.7,92 245.5,139.6 247.4,94.6 249.3,130.8 251.1,111.9 253,84.4 254.9,139.8 256.7,130.3 258.6,96.4 260.5,110.8 262.4,119.9 264.2,113.4 266.1,125.1 268,111.4 269.8,94.2 271.7,117.8 273.6,111.3 275.4,97.9 277.3,88.1 279.2,120.5 281,109.3 282.9,120.2 284.8,121.2 286.6,118.2 288.5,121.1 290.4,134.9 292.2,138.1 294.1,122.4 296,111.6 297.8,98.2 299.7,120 301.6,115.4 303.4,105.2 305.3,104.2 307.2,114.9 309,114.1 310.9,90.2 312.8,117.6 314.6,119.6 316.5,133.7 318.4,108.2 320.2,116.8 322.1,90 324,117.8 325.8,103.6 327.7,102.1 329.6,93.3 331.4,129.9 333.3,94.4 335.2,113.6 337,115.1 338.9,117.6 340.8,118.7 342.6,118.1 344.5,142.5 346.4,107.6 348.2,113.1 350.1,125.6 352,114.7 353.8,85.8 355.7,109.4 357.6,118.8 359.4,93.2 361.3,123.8 363.2,116 365,120.9 366.9,117 368.8,105.3 370.6,107.1 372.5,123.1 374.4,115.8 376.3,113.2 378.1,119.2 380,114.7 381.9,123.1 383.7,123.3 385.6,113.8 387.5,126.9 389.3,109.4"/>
<polyline points="83.1,115.5 85,124.7 86.8,120.8 88.7,119.1 90.6,115.1 92.4,111.6 94.3,115.7 96.2,124 98,94.9 99.9,101.6 101.8,111.6 103.6,101 105.5,108.9 107.4,116.3 109.2,112 111.1,79.4 113,100.5 114.8,99.9 116.7,118 118.6,105.5 120.4,84.5 122.3,107.7 124.2,99.5 126,97.2 127.9,104.9 129.8,93.2 131.6,110.2 133.5,106.8 135.4,121 137.2,79.8 139.1,109.2 141,111.7 142.9,95.6 144.7,119.2 146.6,113.1 148.5,122.9 150.3,112.8 152.2,117.9 154.1,106.3 155.9,114.7 157.8,120.6 159.7,116.8 161.5,114.6 163.4,119.5 165.3,101.3 167.1,104.7 169,111.3 170.9,128 172.7,106.6 174.6,129.1 176.5,110.8 178.3,112.5 180.2,120.5 182.1,123.5 183.9,121.8 185.8,87.4 187.7,116.4 189.5,115.7 191.4,101.1 193.3,107.9 195.1,99.9 197,128.4 198.9,126.7 200.7,71.6 202.6,113.6 204.5,116.7 206.3,111.1 208.2,100.7 210.1,127.9 211.9,109.6 213.8,113.5 215.7,104.7 217.5,110.9 219.4,119.7 221.3,123.9 223.1,143.4 225,100.9 226.9,131.4 228.7,118.1 230.6,92.5 232.5,118.3 234.3,105.5 236.2,115.7 238.1,104.4 239.9,112.7 241.8,119.4 243.7,96.4 245.5,116.4 247.4,129.7 249.3,117.2 251.1,106.4 253,126.9 254.9,103.4 256.7,103.6 258.6,86.9 260.5,121 262.4,104.9 264.2,133.7 266.1,118.3 268,111.8 269.8,108.1 271.7,113.8 273.6,114.3 275.4,120.7 277.3,118.7 279.2,109.5 281,106.4 282.9,105.4 284.8,101.1 286.6,98.7 288.5,135.4 290.4,119.8 292.2,115.4 294.1,121.3 296,100.6 297.8,104.3 299.7,114.8 301.6,112 303.4,98.1 305.3,117.8 307.2,117.4 309,102.5 310.9,107.9 312.8,96.4 314.6,109.1 316.5,104.6 318.4,120.3 320.2,125.1 322.1,113.8 324,145.9 325.8,108.8 327.7,102.1 329.6,112.9 331.4,116.5 333.3,100.7 335.2,114.4 337,102.1 338.9,87.5 340.8,105.2 342.6,102.7 344.5,108.1 346.4,111 348.2,110.7 350.1,113.2 352,101.1 353.8,133.4 355.7,117.3 357.6,106.3 359.4,124.2 361.3,115.4 363.2,122.5 365,109 366.9,103.9 368.8,96.9 370.6,108.3 372.5,122.9 374.4,111.3 376.3,107.6 378.1,97.6 380,139.9 381.9,110 383.7,136.1 385.6,106 387.5,109.2 389.3,108.6"/>
</g><g stroke="#ff0000" stroke-width="1.7">
<polyline points="83.1,107.3 85,113.2 86.8,125.3 88.7,113.5 90.6,103.4 92.4,118.9 94.3,117.2 96.2,131.8 98,103.7 99.9,123.3 101.8,126.1 103.6,122.5 105.5,127.4 107.4,120.1 109.2,102.1 111.1,107.7 113,100.2 114.8,99.5 116.7,127.5 118.6,111.2 120.4,99.2 122.3,89.8 124.2,133.4 126,133.4 127.9,111.2 129.8,120.6 131.6,128.2 133.5,112 135.4,125.7 137.2,143.1 139.1,116.7 141,114.8 142.9,108.7 144.7,105 146.6,113.8 148.5,118.6 150.3,123.5 152.2,134.9 154.1,120.6 155.9,103.7 157.8,107.6 159.7,91.1 161.5,116.8 163.4,135.8 165.3,105.1 167.1,102.5 169,128.2 170.9,133.3 172.7,112.6 174.6,105.9 176.5,127.2 178.3,118 180.2,123 182.1,127.6 183.9,129 185.8,111.9 187.7,117.8 189.5,121.2 191.4,143.7 193.3,92.8 195.1,124 197,114.5 198.9,126.1 200.7,108.3 202.6,130.2 204.5,111.4 206.3,114.6 208.2,101.6 210.1,124.9 211.9,119.6 213.8,114.7 215.7,87.5 217.5,128.9 219.4,108.2 221.3,119.1 223.1,107.8 225,103.7 226.9,109.6 228.7,108 230.6,107.7 232.5,117.7 234.3,113.3 236.2,129.9 238.1,114.7 239.9,119.4 241.8,113.3 243.7,101.7 245.5,105.7 247.4,104.6 249.3,97.1 251.1,137.4 253,104.7 254.9,109.9 256.7,110.6 258.6,124.5 260.5,102.9 262.4,95.9 264.2,97.2 266.1,109.9 268,101.4 269.8,98.1 271.7,87.4 273.6,94 275.4,106.2 277.3,106.5 279.2,105.4 281,104.4 282.9,112.4 284.8,97.6 286.6,114 288.5,115 290.4,101.5 292.2,111.8 294.1,107.8 296,128.2 297.8,95.4 299.7,104.2 301.6,105.3 303.4,98.4 305.3,100.9 307.2,110.8 309,80.3 310.9,107.5 312.8,91.3 314.6,81.5 316.5,108.6 318.4,100.4 320.2,110.2 322.1,89.3 324,104.3 325.8,112.5 327.7,85.6 329.6,89.7 331.4,109.4 333.3,86.3 335.2,96.9 337,69.1 338.9,79.8 340.8,104.4 342.6,101 344.5,107.3 346.4,96.1 348.2,96.8 350.1,89 352,95.8 353.8,112.4 355.7,105 357.6,80.8 359.4,83.3 361.3,97.2 363.2,96.7 365,96.7 366.9,94.4 368.8,112.3 370.6,84.6 372.5,100.9 374.4,92.1 376.3,120.2 378.1,90.6 380,78.7 381.9,116.2 383.7,76.3 385.6,87.1 387.5,99.5 389.3,108.2"/>
<polyline points="83.1,104.4 85,115 86.8,111 88.7,121.2 90.6,127.3 92.4,107.6 94.3,129.1 96.2,107.1 98,137.4 99.9,128.6 101.8,134.8 103.6,102.1 105.5,138.2 107.4,130.9 109.2,109.7 111.1,114.7 113,91.5 114.8,95.6 116.7,110 118.6,109.1 120.4,138.7 122.3,127.5 124.2,120.9 126,119.1 127.9,133.2 129.8,127.9 131.6,126.9 133.5,104.3 135.4,111.8 137.2,120.7 139.1,119.9 141,113.2 142.9,124.7 144.7,119.4 146.6,136.5 148.5,108.3 150.3,104.7 152.2,111.6 154.1,110.2 155.9,111.4 157.8,91.6 159.7,113 161.5,130.8 163.4,127.5 165.3,106.7 167.1,102.5 169,105.8 170.9,104.9 172.7,112.4 174.6,131.9 176.5,122.7 178.3,135.5 180.2,118.7 182.1,130 183.9,112.8 185.8,115.8 187.7,136.5 189.5,105 191.4,104.6 193.3,129.7 195.1,111.6 197,104.8 198.9,116.5 200.7,103 202.6,110.7 204.5,100.2 206.3,110.5 208.2,114.5 210.1,106.5 211.9,103.2 213.8,109.3 215.7,117.4 217.5,121.3 219.4,116.3 221.3,118.5 223.1,109.3 225,109.6 226.9,112.5 228.7,111.4 230.6,109.3 232.5,92.9 234.3,97 236.2,117.7 238.1,105.9 239.9,114.6 241.8,111.8 243.7,113.4 245.5,117.7 247.4,126.2 249.3,138.9 251.1,107.7 253,96.2 254.9,120.4 256.7,103.9 258.6,114.2 260.5,106.3 262.4,118.8 264.2,112 266.1,110.5 268,136.9 269.8,106.5 271.7,110.3 273.6,137.3 275.4,100.6 277.3,108.3 279.2,105.2 281,103.1 282.9,111.8 284.8,119.1 286.6,111.6 288.5,111.1 290.4,80.3 292.2,84.4 294.1,110.9 296,109.8 297.8,101.1 299.7,98 301.6,112.1 303.4,115.3 305.3,81.6 307.2,91.3 309,120.7 310.9,122.8 312.8,111.9 314.6,99.8 316.5,95.8 318.4,105.6 320.2,119.7 322.1,98.8 324,94.2 325.8,100.7 327.7,106 329.6,93.8 331.4,100.6 333.3,112.2 335.2,98.4 337,113.6 338.9,88.2 340.8,93.5 342.6,109.4 344.5,95.8 346.4,84 348.2,121.3 350.1,98.9 352,79 353.8,113.9 355.7,98.4 357.6,112 359.4,96.8 361.3,122.1 363.2,113.3 365,101.2 366.9,93.5 368.8,90.6 370.6,89.9 372.5,81.8 374.4,86.4 376.3,85.7 378.1,104.1 380,94.9 381.9,58.6 383.7,68.2 385.6,83.5 387.5,84.2 389.3,81.3"/>
<polyline points="83.1,123.4 85,94.7 86.8,122.9 88.7,119.3 90.6,91.9 92.4,143.4 94.3,113.8 96.2,139 98,126 99.9,119.2 101.8,122.3 103.6,115.8 105.5,127.2 107.4,119.1 109.2,132.2 111.1,122.5 113,134.5 114.8,109.7 116.7,133.3 118.6,109.2 120.4,122.6 122.3,121.2 124.2,103.1 126,116.1 127.9,140.3 129.8,111.2 131.6,152.4 133.5,114 135.4,122 137.2,134.1 139.1,116.1 141,120.7 142.9,92.5 144.7,122 146.6,93 148.5,99.7 150.3,123.8 152.2,126.2 154.1,100.1 155.9,117.7 157.8,114 159.7,118.9 161.5,130.4 163.4,120.1 165.3,127.1 167.1,133.9 169,118.8 170.9,93.4 172.7,95.3 174.6,115.6 176.5,113.1 178.3,108.4 180.2,98 182.1,110.5 183.9,120.1 185.8,118.9 187.7,100.3 189.5,82.4 191.4,121.4 193.3,138.6 195.1,103.8 197,114.4 198.9,111.7 200.7,98.3 202.6,112.3 204.5,129.1 206.3,136.8 208.2,113.4 210.1,126.8 211.9,109.1 213.8,127.9 215.7,116.7 217.5,130.1 219.4,116.6 221.3,117.5 223.1,104.7 225,95.5 226.9,113.9 228.7,122 230.6,87.8 232.5,107 234.3,103.8 236.2,103.8 238.1,93.4 239.9,98.7 241.8,102.6 243.7,101.4 245.5,121 247.4,117.8 249.3,111.6 251.1,109.1 253,109.9 254.9,106.3 256.7,109.6 258.6,114.9 260.5,129.3 262.4,99.5 264.2,102.3 266.1,119.9 268,103.2 269.8,104.3 271.7,107.9 273.6,130.7 275.4,122.7 277.3,115.2 279.2,88.3 281,117.6 282.9,111.2 284.8,120 286.6,112.4 288.5,102.1 290.4,130.6 292.2,139.3 294.1,97.5 296,104.6 297.8,111.9 299.7,93.1 301.6,92.8 303.4,128.6 305.3,105.6 307.2,90.3 309,110.9 310.9,106.5 312.8,91.4 314.6,105.4 316.5,115.9 318.4,109.7 320.2,116.9 322.1,94.8 324,120.9 325.8,89.1 327.7,119.4 329.6,99.7 331.4,116.8 333.3,103.3 335.2,87.7 337,86.3 338.9,84 340.8,99.6 342.6,97.1 344.5,95.5 346.4,90.8 348.2,102.1 350.1,84.8 352,93.4 353.8,83.9 355.7,91.2 357.6,88.6 359.4,104.2 361.3,100.4 363.2,110 365,98.6 366.9,97 368.8,85.4 370.6,108.5 372.5,58.2 374.4,95.3 376.3,79.7 378.1,81.9 380,121.1 381.9,95.8 383.7,76.4 385.6,119.1 387.5,83.7 389.3,101.9"/>
<polyline points="83.1,124.2 85,115.6 86.8,141.4 88.7,115.9 90.6,126.2 92.4,127.5 94.3,109.5 96.2,74.8 98,113.8 99.9,111.2 101.8,118.6 103.6,126.9 105.5,114.7 107.4,99.1 109.2,115.5 111.1,106.8 113,120.5 114.8,86.6 116.7,137.9 118.6,110.4 120.4,110.8 122.3,114.2 124.2,131.2 126,131.4 127.9,120.3 129.8,116.1 131.6,132.2 133.5,130.3 135.4,110.3 137.2,104.5 139.1,124 141,125.6 142.9,125.8 144.7,86.3 146.6,110.6 148.5,117.3 150.3,104.1 152.2,88.1 154.1,101.8 155.9,133.6 157.8,117 159.7,120.8 161.5,120 163.4,130.6 165.3,120.3 167.1,128.7 169,111.1 170.9,114.6 172.7,132.4 174.6,135.9 176.5,120.7 178.3,106.8 180.2,108.6 182.1,115.3 183.9,154.9 185.8,120.4 187.7,123.2 189.5,118.2 191.4,128.9 193.3,119.1 195.1,121.9 197,80.4 198.9,104.9 200.7,115.8 202.6,113.9 204.5,114.6 206.3,110.8 208.2,117.9 210.1,113.1 211.9,100.2 213.8,102.5 215.7,108.7 217.5,96.1 219.4,109.6 221.3,124.2 223.1,133.4 225,120.4 226.9,112.6 228.7,106.9 230.6,98.5 232.5,118.5 234.3,121.2 236.2,101.9 238.1,96.8 239.9,116.9 241.8,106.8 243.7,94.1 245.5,106.8 247.4,111.3 249.3,135.8 251.1,94.3 253,102.4 254.9,108.6 256.7,115.7 258.6,125.1 260.5,111 262.4,111 264.2,96.3 266.1,124.2 268,91.9 269.8,108.8 271.7,94.6 273.6,120.4 275.4,104.2 277.3,93.4 279.2,106.4 281,125.2 282.9,111.2 284.8,100.5 286.6,123.4 288.5,123.7 290.4,103.3 292.2,117.1 294.1,97.4 296,119.2 297.8,126.7 299.7,113.8 301.6,86.7 303.4,114.3 305.3,103.8 307.2,100.6 309,114.4 310.9,90.1 312.8,100.6 314.6,97.2 316.5,121.8 318.4,122.3 320.2,133.7 322.1,103.6 324,103.8 325.8,92.5 327.7,83.4 329.6,103.3 331.4,103.2 333.3,94.6 335.2,81.9 337,108.7 338.9,91.8 340.8,101.6 342.6,102.3 344.5,88.9 346.4,107 348.2,109.9 350.1,89.9 352,97.5 353.8,99.9 355.7,98.2 357.6,90.8 359.4,100.3 361.3,87.3 363.2,91 365,78.7 366.9,80.9 368.8,85.2 370.6,96.8 372.5,93 374.4,100.6 376.3,62.1 378.1,96 380,87.1 381.9,78 383.7,107.8 385.6,101.6 387.5,96.6 389.3,102.9"/>
<polyline points="83.1,134.2 85,124.9 86.8,102.4 88.7,109.4 90.6,117.9 92.4,117.9 94.3,138.8 96.2,109.6 98,112.9 99.9,131.4 101.8,115.5 103.6,120.4 105.5,124.3 107.4,130.1 109.2,126.2 111.1,129.4 113,112 114.8,113.2 116.7,113.7 118.6,119.8 120.4,122.6 122.3,92.3 124.2,140.4 126,102.7 127.9,113 129.8,116.5 131.6,123.5 133.5,119.9 135.4,131.8 137.2,134.2 139.1,118.4 141,137.3 142.9,106.5 144.7,103 146.6,158.9 148.5,135.5 150.3,113 152.2,113.6 154.1,114.8 155.9,110.8 157.8,106.7 159.7,105.1 161.5,93.7 163.4,115.2 165.3,104.8 167.1,135.2 169,116.8 170.9,130 172.7,97.9 174.6,86.2 176.5,108.1 178.3,130.5 180.2,115.8 182.1,114 183.9,111.8 185.8,100.8 187.7,102.4 189.5,146.3 191.4,97.1 193.3,119.7 195.1,120.4 197,96.1 198.9,116.6 200.7,129.9 202.6,129.3 204.5,112.3 206.3,101.8 208.2,94.5 210.1,114.7 211.9,118.2 213.8,92.7 215.7,117.9 217.5,94.4 219.4,109.2 221.3,109.1 223.1,114.7 225,108.1 226.9,117.3 228.7,119.8 230.6,113.1 232.5,119.2 234.3,107.5 236.2,110 238.1,114.1 239.9,113.3 241.8,113.5 243.7,89.5 245.5,110.6 247.4,117.6 249.3,113.9 251.1,102.2 253,112.5 254.9,111.8 256.7,113 258.6,107.7 260.5,104.9 262.4,104.1 264.2,129.2 266.1,122.2 268,141 269.8,99.4 271.7,95.4 273.6,92.8 275.4,106.5 277.3,94.1 279.2,108.1 281,108.8 282.9,125.5 284.8,116.1 286.6,113.5 288.5,95.3 290.4,86.2 292.2,111.2 294.1,100.9 296,101.8 297.8,113.9 299.7,124.8 301.6,113.1 303.4,120.8 305.3,107.3 307.2,105 309,105.2 310.9,104.7 312.8,96.9 314.6,113.1 316.5,91.7 318.4,121.2 320.2,100.8 322.1,96.7 324,110.1 325.8,119.1 327.7,93.1 329.6,108 331.4,90.9 333.3,90.8 335.2,99.5 337,99.2 338.9,87.6 340.8,94.3 342.6,109 344.5,96.2 346.4,91.6 348.2,95.3 350.1,95.2 352,98.7 353.8,98.2 355.7,107.1 357.6,112.4 359.4,83.4 361.3,102.9 363.2,93 365,112 366.9,93.2 368.8,103.9 370.6,61.5 372.5,105.5 374.4,104.6 376.3,83.3 378.1,80.9 380,116.4 381.9,90.1 383.7,83 385.6,105.8 387.5,84.7 389.3,97.6"/>
<polyline points="83.1,130.7 85,122.7 86.8,124 88.7,135.4 90.6,90.7 92.4,123.8 94.3,127.3 96.2,107.6 98,119 99.9,101.7 101.8,121.3 103.6,113.6 105.5,116.7 107.4,115.8 109.2,120.4 111.1,119 113,97.2 114.8,126 116.7,124.3 118.6,121.8 120.4,110.5 122.3,112.6 124.2,106 126,133.8 127.9,114.2 129.8,119.4 131.6,120.7 133.5,115.2 135.4,141.2 137.2,113.8 139.1,115.3 141,134.4 142.9,118 144.7,97.8 146.6,121.3 148.5,109.3 150.3,119.1 152.2,126.1 154.1,127.3 155.9,120.8 157.8,100.1 159.7,105.9 161.5,124.2 163.4,103.4 165.3,117 167.1,123.7 169,110 170.9,126.1 172.7,134 174.6,99.1 176.5,136.9 178.3,108 180.2,133 182.1,114.7 183.9,116.7 185.8,119.5 187.7,140.5 189.5,115.2 191.4,114.3 193.3,124.6 195.1,114.4 197,101.5 198.9,122 200.7,110.1 202.6,127 204.5,108.4 206.3,105.2 208.2,82.9 210.1,101.8 211.9,107.4 213.8,95.5 215.7,124.3 217.5,99.3 219.4,118.7 221.3,119.4 223.1,98.7 225,109 226.9,95.7 228.7,128.9 230.6,108.2 232.5,117.6 234.3,114.4 236.2,133.9 238.1,99.7 239.9,108.3 241.8,122.5 243.7,126.7 245.5,120.9 247.4,93.7 249.3,111.5 251.1,114.1 253,104.1 254.9,109.8 256.7,107 258.6,100.8 260.5,105.6 262.4,99 264.2,123.5 266.1,108.5 268,113.3 269.8,107.7 271.7,109.1 273.6,115.9 275.4,112.2 277.3,96.6 279.2,114 281,121.9 282.9,99.9 284.8,95.2 286.6,109.5 288.5,104.5 290.4,115.5 292.2,107.8 294.1,92.2 296,95.5 297.8,102.8 299.7,107.4 301.6,122.8 303.4,100 305.3,98.1 307.2,90.9 309,79.6 310.9,98.2 312.8,91.3 314.6,114.8 316.5,88 318.4,91.6 320.2,85.7 322.1,93.3 324,95.5 325.8,83.7 327.7,107.6 329.6,92.6 331.4,87.4 333.3,108.2 335.2,112 337,93.9 338.9,97.2 340.8,91.5 342.6,90.8 344.5,106.3 346.4,93.7 348.2,84.7 350.1,100.9 352,99.8 353.8,108.9 355.7,87.1 357.6,74.4 359.4,110.7 361.3,87 363.2,85.2 365,100.9 366.9,98.6 368.8,105.7 370.6,102.5 372.5,92 374.4,86.4 376.3,92 378.1,83.7 380,90.5 381.9,105 383.7,76.6 385.6,79.2 387.5,99.3 389.3,72.4"/>
<polyline points="83.1,112.2 85,116.2 86.8,94.7 88.7,147.8 90.6,137 92.4,109.1 94.3,120.5 96.2,128.9 98,99.3 99.9,111.5 101.8,132.7 103.6,125.3 105.5,107.1 107.4,95.7 109.2,141.2 111.1,114.1 113,121.6 114.8,138 116.7,118.9 118.6,136.1 120.4,123.3 122.3,97.3 124.2,110.6 126,107.3 127.9,109.4 129.8,112.3 131.6,104.9 133.5,130.5 135.4,120.7 137.2,106.1 139.1,125 141,121.4 142.9,101.6 144.7,97.6 146.6,123.1 148.5,125.5 150.3,108.6 152.2,112.2 154.1,123.4 155.9,108.1 157.8,108.5 159.7,114 161.5,79.7 163.4,98.5 165.3,104.9 167.1,102.2 169,79 170.9,101.1 172.7,122.7 174.6,110.2 176.5,113 178.3,120.6 180.2,110.6 182.1,110.5 183.9,114.1 185.8,119.1 187.7,103.3 189.5,132.1 191.4,103.1 193.3,112.7 195.1,109.5 197,141 198.9,92.5 200.7,133 202.6,122.6 204.5,104.5 206.3,119.3 208.2,116.8 210.1,138.5 211.9,116.9 213.8,109.1 215.7,103.4 217.5,114.8 219.4,108.7 221.3,105.9 223.1,119.1 225,119.9 226.9,87.5 228.7,120.8 230.6,95.9 232.5,109.6 234.3,92.9 236.2,117.9 238.1,104 239.9,106.1 241.8,112.6 243.7,106.1 245.5,118.8 247.4,110.5 249.3,114.2 251.1,100.3 253,110.3 254.9,125.7 256.7,113.4 258.6,110.1 260.5,119.5 262.4,92.9 264.2,103.8 266.1,98.5 268,117.4 269.8,113 271.7,96 273.6,124.6 275.4,103 277.3,106 279.2,112.7 281,105.5 282.9,118.9 284.8,103.3 286.6,119.9 288.5,120.3 290.4,88.7 292.2,113 294.1,129.1 296,92.9 297.8,112.9 299.7,144.5 301.6,104 303.4,92.3 305.3,98.7 307.2,82.7 309,103.6 310.9,95.1 312.8,113.3 314.6,99.6 316.5,83.6 318.4,95.1 320.2,98.8 322.1,122.9 324,104.4 325.8,114.5 327.7,90.8 329.6,107.7 331.4,95 333.3,110.2 335.2,77.3 337,111.5 338.9,96.5 340.8,68.2 342.6,95.1 344.5,107.1 346.4,90.1 348.2,85.7 350.1,86.8 352,118.2 353.8,93.6 355.7,119.4 357.6,74.4 359.4,94.4 361.3,100 363.2,87.2 365,89 366.9,107.2 368.8,76 370.6,96.3 372.5,112.7 374.4,77.8 376.3,76.1 378.1,78.9 380,86.3 381.9,101.8 383.7,81.6 385.6,71.3 387.5,82.4 389.3,73.7"/>
<polyline points="83.1,127 85,105 86.8,105.9 88.7,135.6 90.6,137.2 92.4,126 94.3,116.2 96.2,111.6 98,119.9 99.9,117.8 101.8,118.4 103.6,115.9 105.5,109.8 107.4,110.8 109.2,117.5 111.1,113.6 113,122.2 114.8,106.9 116.7,122.8 118.6,96.5 120.4,116.8 122.3,113.1 124.2,125.7 126,120.6 127.9,114.3 129.8,116 131.6,123.8 133.5,130.4 135.4,115.6 137.2,114.2 139.1,109.3 141,100.7 142.9,119.6 144.7,140 146.6,117.3 148.5,138 150.3,131 152.2,102.7 154.1,108.2 155.9,122.8 157.8,122.6 159.7,115.8 161.5,136 163.4,108.7 165.3,118.7 167.1,91.9 169,127.1 170.9,101.8 172.7,122.2 174.6,101.4 176.5,125.6 178.3,104.7 180.2,118.8 182.1,123.4 183.9,115.1 185.8,107.3 187.7,108.1 189.5,93.7 191.4,102.8 193.3,144.7 195.1,117.4 197,136.7 198.9,117 200.7,104.7 202.6,128.4 204.5,126.3 206.3,110.1 208.2,115.3 210.1,92.5 211.9,107.6 213.8,105 215.7,90.1 217.5,117.3 219.4,111.1 221.3,123 223.1,107.8 225,98.2 226.9,94.1 228.7,111 230.6,119 232.5,119.6 234.3,127.1 236.2,108.6 238.1,93.5 239.9,138.6 241.8,136.1 243.7,92.7 245.5,129 247.4,105.4 249.3,124.5 251.1,99.7 253,99.6 254.9,106.9 256.7,98.8 258.6,108.1 260.5,101.8 262.4,86.4 264.2,95.1 266.1,116.2 268,117.8 269.8,110.9 271.7,110.5 273.6,106.6 275.4,114.4 277.3,99 279.2,106.1 281,101.9 282.9,105.9 284.8,98.3 286.6,119.7 288.5,86.3 290.4,100.7 292.2,99.2 294.1,97 296,91.1 297.8,94.9 299.7,100.5 301.6,105.2 303.4,122.1 305.3,100 307.2,105.8 309,105.6 310.9,73.5 312.8,123.1 314.6,100.4 316.5,86.7 318.4,89.4 320.2,85.9 322.1,114.8 324,110.9 325.8,92.4 327.7,102.7 329.6,79.3 331.4,96.1 333.3,96.2 335.2,93.1 337,101.1 338.9,96.3 340.8,105.1 342.6,97.6 344.5,102.4 346.4,93.7 348.2,112.5 350.1,113 352,90.6 353.8,93 355.7,106.2 357.6,97.6 359.4,106.6 361.3,71.6 363.2,111.8 365,74.8 366.9,102.9 368.8,88.8 370.6,96.1 372.5,97.2 374.4,82.3 376.3,83.4 378.1,95.4 380,102 381.9,68.7 383.7,75.9 385.6,89.6 387.5,94.1 389.3,87.4"/>
<polyline points="83.1,116 85,102.2 86.8,128.8 88.7,116.6 90.6,126.5 92.4,100.6 94.3,94.4 96.2,117.8 98,110 99.9,99.2 101.8,120.2 103.6,128 105.5,103.6 107.4,110.1 109.2,118.9 111.1,98.3 113,113.3 114.8,138.1 116.7,111.9 118.6,116.8 120.4,92.9 122.3,116.2 124.2,118.5 126,110.5 127.9,112.8 129.8,133.1 131.6,114.3 133.5,119.7 135.4,98.4 137.2,86.1 139.1,129.3 141,127.3 142.9,125.7 144.7,123.3 146.6,123.6 148.5,114.3 150.3,101.5 152.2,130.7 154.1,133.5 155.9,137.1 157.8,100.8 159.7,98 161.5,133 163.4,134 165.3,112.3 167.1,100.4 169,101.3 170.9,111.2 172.7,105.1 174.6,109.3 176.5,120 178.3,89.8 180.2,113 182.1,126.5 183.9,118.5 185.8,131.5 187.7,112.3 189.5,99 191.4,127.8 193.3,98.4 195.1,86.5 197,107.4 198.9,126 200.7,122.2 202.6,115.7 204.5,127.2 206.3,126.7 208.2,114.5 210.1,113.4 211.9,103.7 213.8,125.6 215.7,88.1 217.5,97.8 219.4,99.8 221.3,118.5 223.1,89.3 225,114.5 226.9,88.1 228.7,97.1 230.6,120.9 232.5,115.4 234.3,87 236.2,97.5 238.1,111.4 239.9,106.9 241.8,106.9 243.7,118.6 245.5,111.5 247.4,117 249.3,114.1 251.1,103.1 253,120.3 254.9,99.7 256.7,107.1 258.6,99.1 260.5,97.4 262.4,93 264.2,100.4 266.1,99.3 268,109.9 269.8,100.7 271.7,118.2 273.6,110 275.4,97.7 277.3,107.1 279.2,100.8 281,118.6 282.9,89.2 284.8,112.3 286.6,100.3 288.5,105 290.4,93.4 292.2,108.8 294.1,115.8 296,126.2 297.8,107 299.7,117.2 301.6,96.4 303.4,85.5 305.3,128.4 307.2,117.1 309,98 310.9,86.9 312.8,97.5 314.6,97.1 316.5,94.7 318.4,93.6 320.2,80.9 322.1,92.7 324,114 325.8,104.8 327.7,96.6 329.6,108.2 331.4,101.5 333.3,104.3 335.2,106.1 337,89.8 338.9,102 340.8,109.8 342.6,105.2 344.5,96.3 346.4,72.3 348.2,93.3 350.1,79 352,90.1 353.8,119.9 355.7,90.9 357.6,104.6 359.4,110 361.3,106.6 363.2,74 365,111.7 366.9,100.6 368.8,80.4 370.6,85.7 372.5,112 374.4,93.9 376.3,98.1 378.1,94.3 380,83.5 381.9,98 383.7,94.9 385.6,74.9 387.5,111.2 389.3,94.7"/>
<polyline points="83.1,111.1 85,132.4 86.8,124.7 88.7,133.2 90.6,114.8 92.4,124.5 94.3,106.9 96.2,103.9 98,116 99.9,121.3 101.8,113.3 103.6,115.7 105.5,131.5 107.4,103 109.2,113.5 111.1,106.5 113,133.1 114.8,105.3 116.7,90 118.6,108.4 120.4,134.1 122.3,115.5 124.2,116.7 126,113.2 127.9,118.8 129.8,109.7 131.6,121.5 133.5,112.9 135.4,124.2 137.2,114.4 139.1,103.3 141,121.6 142.9,107.1 144.7,126.3 146.6,119.8 148.5,118 150.3,99.5 152.2,124.3 154.1,99.6 155.9,132.7 157.8,116.4 159.7,103.1 161.5,105.6 163.4,126.6 165.3,129.1 167.1,103 169,129.4 170.9,106.5 172.7,120 174.6,113.6 176.5,84.7 178.3,94.1 180.2,102.7 182.1,130 183.9,108.9 185.8,112.1 187.7,113.9 189.5,96.1 191.4,133.7 193.3,108.4 195.1,110.7 197,121.4 198.9,90.7 200.7,127.5 202.6,111.5 204.5,110.7 206.3,138.6 208.2,129.1 210.1,123.3 211.9,101.5 213.8,99.5 215.7,103.7 217.5,108 219.4,137.9 221.3,108 223.1,116.9 225,96.1 226.9,93.8 228.7,82.7 230.6,101.4 232.5,100 234.3,122.6 236.2,108.9 238.1,124.9 239.9,98.6 241.8,124.2 243.7,112 245.5,119.4 247.4,114.9 249.3,103.5 251.1,115.9 253,106.1 254.9,121.1 256.7,91.5 258.6,116.4 260.5,96 262.4,82.1 264.2,138.1 266.1,120.3 268,110.5 269.8,93.5 271.7,113.5 273.6,102.7 275.4,115.9 277.3,99.9 279.2,121.2 281,96 282.9,142.2 284.8,128.5 286.6,83.2 288.5,102.9 290.4,115.6 292.2,77.8 294.1,91.5 296,90.3 297.8,108.7 299.7,95.8 301.6,96.9 303.4,122.6 305.3,95.4 307.2,104.4 309,86.5 310.9,86.1 312.8,109 314.6,108.3 316.5,98.6 318.4,92.8 320.2,105.2 322.1,101.5 324,92.6 325.8,94.6 327.7,85.6 329.6,96.3 331.4,109.2 333.3,119.3 335.2,88.8 337,102 338.9,101.9 340.8,100.9 342.6,115.6 344.5,101.6 346.4,127 348.2,101.2 350.1,106.6 352,74.7 353.8,90.6 355.7,97.9 357.6,93.3 359.4,86.6 361.3,103.4 363.2,97.1 365,98.3 366.9,65.5 368.8,92.8 370.6,115.9 372.5,84.1 374.4,63.4 376.3,103.5 378.1,52.9 380,92.9 381.9,80.5 383.7,98 385.6,94.4 387.5,105 389.3,102.8"/>
<polyline points="83.1,144.5 85,102.7 86.8,131.8 88.7,112.5 90.6,112.9 92.4,125.3 94.3,116.4 96.2,118.2 98,123.2 99.9,116.3 101.8,116.2 103.6,129.8 105.5,133.2 107.4,127.5 109.2,115.1 111.1,99.1 113,97.9 114.8,112.6 116.7,104.5 118.6,114.9 120.4,102.4 122.3,114.7 124.2,111.3 126,119.9 127.9,116.3 129.8,92.1 131.6,131.4 133.5,116.1 135.4,123.6 137.2,103.8 139.1,92.9 141,119.8 142.9,150.9 144.7,107.8 146.6,107.7 148.5,136.8 150.3,118.4 152.2,116 154.1,144.4 155.9,106.4 157.8,109.3 159.7,111.7 161.5,128.1 163.4,123.5 165.3,122.4 167.1,108.2 169,126.6 170.9,95.5 172.7,109.1 174.6,141.4 176.5,92.4 178.3,111.6 180.2,120.5 182.1,112.1 183.9,136.4 185.8,110.8 187.7,144.2 189.5,125.9 191.4,95.7 193.3,96.8 195.1,117 197,124.8 198.9,100.6 200.7,113 202.6,109.5 204.5,104.2 206.3,125.6 208.2,101.8 210.1,138.6 211.9,93.1 213.8,131.4 215.7,119.4 217.5,119.8 219.4,102 221.3,101.7 223.1,106.5 225,104.1 226.9,104.9 228.7,111.6 230.6,134.8 232.5,139.7 234.3,139.5 236.2,110.9 238.1,113.1 239.9,111.8 241.8,107.1 243.7,112.8 245.5,122.4 247.4,128.6 249.3,133.5 251.1,94.1 253,97.9 254.9,126.3 256.7,112.6 258.6,103.4 260.5,88.8 262.4,116.4 264.2,106.5 266.1,94 268,130.4 269.8,117.6 271.7,108.6 273.6,116.9 275.4,80.9 277.3,96.3 279.2,104.5 281,118.7 282.9,95.5 284.8,98.2 286.6,112.2 288.5,110.9 290.4,123.4 292.2,105.9 294.1,93.9 296,92 297.8,96.9 299.7,93.6 301.6,110.8 303.4,109 305.3,88.2 307.2,97.1 309,112.1 310.9,96 312.8,91.7 314.6,93 316.5,100.1 318.4,107.4 320.2,96 322.1,80.1 324,98.6 325.8,108.2 327.7,95.7 329.6,114.4 331.4,96.6 333.3,102.6 335.2,87.3 337,97.3 338.9,85.7 340.8,70.6 342.6,100.4 344.5,107.4 346.4,91.8 348.2,98 350.1,95.1 352,103.6 353.8,89.7 355.7,95.2 357.6,121.1 359.4,98.2 361.3,91.3 363.2,81.2 365,101.4 366.9,103.8 368.8,80.8 370.6,101 372.5,92.4 374.4,87.9 376.3,84.6 378.1,92.8 380,105.4 381.9,80.7 383.7,97.1 385.6,97.8 387.5,68.6 389.3,81.3"/>
<polyline points="83.1,131.5 85,124 86.8,120.9 88.7,127.3 90.6,142.3 92.4,107.3 94.3,107.6 96.2,114.4 98,122.6 99.9,114.7 101.8,109.2 103.6,130.7 105.5,121.5 107.4,124.4 109.2,108.3 111.1,113.8 113,133.7 114.8,125 116.7,94.4 118.6,129.4 120.4,115 122.3,124.9 124.2,100.9 126,117.6 127.9,122.3 129.8,131.7 131.6,119.8 133.5,106.1 135.4,108 137.2,133.4 139.1,96.6 141,119.5 142.9,129.7 144.7,114.5 146.6,124 148.5,123.3 150.3,123.9 152.2,116.9 154.1,121.9 155.9,137.2 157.8,108.7 159.7,121.9 161.5,100 163.4,108.2 165.3,107.1 167.1,112.5 169,98.3 170.9,118.7 172.7,127 174.6,110 176.5,148.7 178.3,118.8 180.2,111.3 182.1,119.2 183.9,97.9 185.8,104.8 187.7,112.1 189.5,118.5 191.4,99.5 193.3,121.8 195.1,118.4 197,103.6 198.9,105.4 200.7,87.1 202.6,115.4 204.5,136.3 206.3,104.2 208.2,96.5 210.1,114.3 211.9,92.5 213.8,89.6 215.7,120.3 217.5,117.9 219.4,127.5 221.3,104.8 223.1,102.5 225,103.8 226.9,126.8 228.7,120.8 230.6,129 232.5,131.2 234.3,127.7 236.2,130.6 238.1,112.9 239.9,105.2 241.8,102.6 243.7,110.6 245.5,118.6 247.4,110.2 249.3,102.8 251.1,113.6 253,109.1 254.9,113.5 256.7,116.1 258.6,109 260.5,123.3 262.4,96.1 264.2,128.6 266.1,103.2 268,125.9 269.8,89.9 271.7,97.7 273.6,118.3 275.4,113.5 277.3,121.6 279.2,108.1 281,102 282.9,75.2 284.8,123.3 286.6,90.9 288.5,113.1 290.4,102.2 292.2,94.6 294.1,98.4 296,99.6 297.8,106.9 299.7,104.3 301.6,102 303.4,89.1 305.3,121.1 307.2,109 309,117.8 310.9,114.1 312.8,111.8 314.6,88.8 316.5,76 318.4,85.2 320.2,115.4 322.1,100 324,114.2 325.8,95.1 327.7,85 329.6,92.9 331.4,89.3 333.3,101.1 335.2,122.4 337,122.2 338.9,99.7 340.8,91.6 342.6,83.2 344.5,101.9 346.4,96.7 348.2,94.3 350.1,84.6 352,97.6 353.8,109.2 355.7,83.7 357.6,91.2 359.4,91.3 361.3,110.2 363.2,95.3 365,114.7 366.9,117.8 368.8,97.2 370.6,99.2 372.5,87.4 374.4,77.2 376.3,93.8 378.1,72.8 380,99.6 381.9,84 383.7,106.7 385.6,90.7 387.5,95.4 389.3,93.9"/>
<polyline points="83.1,110.6 85,142 86.8,116.5 88.7,128.3 90.6,116.4 92.4,112.9 94.3,122.5 96.2,122.5 98,132.3 99.9,110.7 101.8,126.2 103.6,112 105.5,135.6 107.4,100.2 109.2,130.4 111.1,102.8 113,123 114.8,110.4 116.7,119.1 118.6,108.6 120.4,117.1 122.3,101.1 124.2,108.6 126,108.4 127.9,95.9 129.8,125.7 131.6,100.5 133.5,115.9 135.4,135.5 137.2,110.7 139.1,119.3 141,95.3 142.9,122.7 144.7,115.7 146.6,113.3 148.5,140.1 150.3,109.6 152.2,128.4 154.1,98.1 155.9,94.7 157.8,115.6 159.7,135.4 161.5,113 163.4,113 165.3,106 167.1,118.7 169,129.8 170.9,116.5 172.7,126.2 174.6,92.2 176.5,123.2 178.3,122.4 180.2,114.7 182.1,129.6 183.9,119.5 185.8,115.5 187.7,119.8 189.5,116.7 191.4,97.9 193.3,107.9 195.1,130 197,118.5 198.9,103.7 200.7,121.1 202.6,111.8 204.5,113.1 206.3,106 208.2,114.7 210.1,114.1 211.9,123 213.8,107.6 215.7,123.6 217.5,90.3 219.4,112.1 221.3,114.5 223.1,101.8 225,112.5 226.9,110.3 228.7,111.9 230.6,120.2 232.5,122.5 234.3,119.6 236.2,96.7 238.1,118.5 239.9,115.6 241.8,116.1 243.7,101.7 245.5,85.6 247.4,121.6 249.3,103.2 251.1,108.4 253,113.6 254.9,103.4 256.7,125.3 258.6,99.1 260.5,106.6 262.4,121.6 264.2,89.4 266.1,98.5 268,94.5 269.8,126.8 271.7,111.9 273.6,114.7 275.4,100.2 277.3,91 279.2,130.8 281,106.8 282.9,108.3 284.8,94.3 286.6,106.7 288.5,121.4 290.4,108 292.2,117.9 294.1,114.5 296,104.2 297.8,110.3 299.7,100.8 301.6,122.2 303.4,75.6 305.3,88.1 307.2,94.4 309,118.3 310.9,128.3 312.8,112.5 314.6,104.7 316.5,75.1 318.4,85.9 320.2,107.4 322.1,86.6 324,86.2 325.8,100.2 327.7,85.8 329.6,96 331.4,107.3 333.3,113.2 335.2,100.5 337,87.1 338.9,114.5 340.8,117.2 342.6,91.6 344.5,129.5 346.4,76.3 348.2,102.4 350.1,88.5 352,75.2 353.8,113.3 355.7,108.4 357.6,70.1 359.4,99 361.3,96.9 363.2,92.6 365,82.8 366.9,79.5 368.8,93.2 370.6,98 372.5,94.3 374.4,90.2 376.3,78.5 378.1,91.6 380,72.3 381.9,102.3 383.7,86.4 385.6,72.3 387.5,77.3 389.3,87.8"/>
<polyline points="83.1,129.3 85,127.1 86.8,120 88.7,114 90.6,121.1 92.4,136.3 94.3,127.1 96.2,111.2 98,107.2 99.9,135.3 101.8,122.2 103.6,138.7 105.5,124.7 107.4,72.8 109.2,116.6 111.1,121.8 113,124.8 114.8,132.6 116.7,140.7 118.6,117.7 120.4,120.6 122.3,98.5 124.2,137.7 126,111.5 127.9,100.1 129.8,141.6 131.6,108.6 133.5,137.1 135.4,110.2 137.2,98.2 139.1,116.7 141,113 142.9,125.2 144.7,112.7 146.6,102 148.5,118.4 150.3,117.7 152.2,111 154.1,105.4 155.9,136.2 157.8,114.8 159.7,124 161.5,109.1 163.4,102.2 165.3,111.2 167.1,98.8 169,127.2 170.9,119.8 172.7,127 174.6,113.7 176.5,113.2 178.3,116.7 180.2,129.3 182.1,115 183.9,119.4 185.8,106.2 187.7,117.1 189.5,99 191.4,110.6 193.3,136.6 195.1,115.4 197,131 198.9,100.9 200.7,95 202.6,113.1 204.5,107.2 206.3,130.6 208.2,140.5 210.1,119.3 211.9,115.4 213.8,131 215.7,110.9 217.5,108 219.4,103.8 221.3,92.4 223.1,101.5 225,116 226.9,110 228.7,103.7 230.6,124.1 232.5,94.5 234.3,99.7 236.2,113.6 238.1,118.6 239.9,63.3 241.8,100 243.7,98.6 245.5,87.9 247.4,97.9 249.3,107.4 251.1,101.1 253,121.1 254.9,100.8 256.7,128.6 258.6,104.2 260.5,102.4 262.4,128.5 264.2,85.3 266.1,123.2 268,95.9 269.8,115.2 271.7,104.6 273.6,116.2 275.4,77.1 277.3,94.8 279.2,85 281,97.3 282.9,98.1 284.8,104.5 286.6,108.9 288.5,98.3 290.4,103.5 292.2,107 294.1,121.6 296,108.3 297.8,96.9 299.7,109.7 301.6,99.5 303.4,105.1 305.3,115.5 307.2,113.7 309,111.4 310.9,105.7 312.8,105.1 314.6,88.3 316.5,114.4 318.4,125.6 320.2,92.7 322.1,106.1 324,101.8 325.8,69.9 327.7,82.5 329.6,92.6 331.4,88.2 333.3,97.7 335.2,87.5 337,105.7 338.9,106.6 340.8,103.5 342.6,79.3 344.5,79.3 346.4,104.3 348.2,83.4 350.1,98.6 352,83.9 353.8,99.9 355.7,84.8 357.6,96.9 359.4,98.7 361.3,95.4 363.2,93 365,101.3 366.9,110 368.8,74.6 370.6,98.3 372.5,114.3 374.4,119.2 376.3,125 378.1,99.7 380,77 381.9,110.7 383.7,95.6 385.6,112.5 387.5,79 389.3,87.1"/>
<polyline points="83.1,113.5 85,100.4 86.8,96.6 88.7,104.4 90.6,124.8 92.4,134.2 94.3,130.6 96.2,139.6 98,94.3 99.9,119.6 101.8,115.5 103.6,114.6 105.5,91.4 107.4,124.1 109.2,101.9 111.1,113 113,118.8 114.8,141.1 116.7,105.1 118.6,126.1 120.4,122.5 122.3,113.7 124.2,115.4 126,102.3 127.9,125 129.8,114.3 131.6,112.8 133.5,116 135.4,107.7 137.2,119.4 139.1,100.9 141,125 142.9,134.1 144.7,116.3 146.6,100.8 148.5,122.1 150.3,123.4 152.2,119.7 154.1,113.2 155.9,117.3 157.8,111.1 159.7,136.6 161.5,95.9 163.4,107.3 165.3,125.4 167.1,97.1 169,108.6 170.9,95.6 172.7,128.9 174.6,93.1 176.5,113.3 178.3,139.6 180.2,104.1 182.1,117.3 183.9,126.2 185.8,116 187.7,137.6 189.5,105.7 191.4,115.7 193.3,116.2 195.1,95 197,112.2 198.9,120.8 200.7,124.3 202.6,113.1 204.5,98.8 206.3,119.4 208.2,125 210.1,100.3 211.9,111 213.8,111.9 215.7,85.4 217.5,126.6 219.4,108.8 221.3,133.4 223.1,114.8 225,103.6 226.9,96.7 228.7,126.6 230.6,100.2 232.5,100.7 234.3,111.9 236.2,79.5 238.1,110.2 239.9,121.1 241.8,104.6 243.7,133.1 245.5,90.2 247.4,97.3 249.3,114.5 251.1,101.7 253,102.6 254.9,85 256.7,116.7 258.6,125.1 260.5,134.2 262.4,112.4 264.2,128.2 266.1,110.7 268,103.3 269.8,113.8 271.7,119.7 273.6,92.9 275.4,109.9 277.3,104.3 279.2,95.1 281,122.7 282.9,117.6 284.8,75.2 286.6,107.6 288.5,118.2 290.4,108.3 292.2,111.9 294.1,119.6 296,109.3 297.8,104.2 299.7,103.9 301.6,96.9 303.4,124.1 305.3,121 307.2,93 309,107.6 310.9,87.3 312.8,98.1 314.6,118.4 316.5,94.8 318.4,113.1 320.2,97.6 322.1,85.8 324,75 325.8,100.8 327.7,91.4 329.6,95.8 331.4,89.8 333.3,129.1 335.2,103.2 337,94.9 338.9,92.6 340.8,106.7 342.6,87.9 344.5,84.4 346.4,96.3 348.2,99.5 350.1,100.7 352,94.7 353.8,82.3 355.7,78.4 357.6,101 359.4,106 361.3,104.2 363.2,83.4 365,91.9 366.9,90.8 368.8,88.4 370.6,89.4 372.5,94.8 374.4,105.1 376.3,100 378.1,91.3 380,87.9 381.9,96.3 383.7,96.6 385.6,76.2 387.5,96.6 389.3,88.6"/>
<polyline points="83.1,121.6 85,128.4 86.8,136.7 88.7,124.3 90.6,127.8 92.4,106.6 94.3,131.9 96.2,122.5 98,108.9 99.9,118.6 101.8,110.9 103.6,106.5 105.5,138 107.4,122.2 109.2,129.1 111.1,99.9 113,118.3 114.8,110.5 116.7,95.3 118.6,121.2 120.4,115.7 122.3,111.5 124.2,119.9 126,100.7 127.9,106.2 129.8,103.8 131.6,115.8 133.5,120.6 135.4,120.7 137.2,120.8 139.1,136.8 141,111.5 142.9,105.8 144.7,116 146.6,121.9 148.5,115.2 150.3,112.7 152.2,111.3 154.1,92.8 155.9,125.9 157.8,110.5 159.7,106.3 161.5,113.8 163.4,117.6 165.3,127.4 167.1,121.9 169,105.6 170.9,96.2 172.7,122.3 174.6,108.1 176.5,107.4 178.3,101.3 180.2,110.6 182.1,108.1 183.9,102.3 185.8,127.8 187.7,112.6 189.5,135 191.4,137.4 193.3,123.1 195.1,131.8 197,106.4 198.9,100.3 200.7,116.2 202.6,114.1 204.5,115.1 206.3,115.4 208.2,110.3 210.1,107.6 211.9,117.5 213.8,121.4 215.7,118 217.5,101.6 219.4,116.5 221.3,93.4 223.1,114.1 225,94.2 226.9,125.6 228.7,119.3 230.6,104.8 232.5,104.6 234.3,112.4 236.2,85.4 238.1,109.4 239.9,106.6 241.8,117 243.7,89.7 245.5,99.3 247.4,104.7 249.3,129.6 251.1,105 253,115.1 254.9,104.5 256.7,98 258.6,118.2 260.5,106.3 262.4,98.1 264.2,106.7 266.1,112.6 268,121.4 269.8,116.5 271.7,123.5 273.6,95.8 275.4,106.3 277.3,121.9 279.2,107 281,122.2 282.9,145.9 284.8,91.6 286.6,91.8 288.5,123.2 290.4,113.8 292.2,102.5 294.1,109.2 296,114.6 297.8,110.2 299.7,106.7 301.6,110.1 303.4,100.7 305.3,105.7 307.2,111.6 309,102.1 310.9,121.6 312.8,84.9 314.6,122 316.5,102.3 318.4,97.1 320.2,96 322.1,97.5 324,85.6 325.8,113.1 327.7,100.6 329.6,97.9 331.4,105 333.3,105.9 335.2,84 337,106.7 338.9,103.7 340.8,101.2 342.6,100.2 344.5,95.6 346.4,99.6 348.2,92.7 350.1,95.2 352,91 353.8,80.7 355.7,105.5 357.6,77.1 359.4,100.5 361.3,87.7 363.2,93.1 365,98 366.9,116.3 368.8,76.2 370.6,102.3 372.5,102.4 374.4,81.6 376.3,92.3 378.1,71.8 380,74 381.9,84.5 383.7,89.3 385.6,83.5 387.5,106 389.3,89.4"/>
<polyline points="83.1,116 85,123.6 86.8,114.6 88.7,135.7 90.6,106.5 92.4,101.7 94.3,133.5 96.2,115.7 98,98.4 99.9,112.2 101.8,130 103.6,129.5 105.5,106.8 107.4,94.7 109.2,130.5 111.1,116.7 113,126.6 114.8,120.5 116.7,113.2 118.6,117.5 120.4,125.3 122.3,91.1 124.2,118.8 126,119 127.9,103.2 129.8,116.5 131.6,119.1 133.5,105 135.4,129.2 137.2,107.4 139.1,103.9 141,108.3 142.9,118.4 144.7,116.2 146.6,136.9 148.5,117.5 150.3,112.2 152.2,105.1 154.1,113.8 155.9,120.1 157.8,125.5 159.7,115.7 161.5,113.4 163.4,100.3 165.3,114.7 167.1,120.8 169,115.9 170.9,120.3 172.7,117.2 174.6,141 176.5,133.4 178.3,128.5 180.2,108.3 182.1,114.8 183.9,111.9 185.8,99.5 187.7,126.1 189.5,99.5 191.4,108.6 193.3,121.8 195.1,95 197,130.1 198.9,126.4 200.7,115.2 202.6,107.7 204.5,114.8 206.3,138.1 208.2,115.9 210.1,113.2 211.9,81.4 213.8,95.4 215.7,110.3 217.5,124.8 219.4,107.5 221.3,125.5 223.1,108.9 225,106.9 226.9,116 228.7,108 230.6,114.9 232.5,117.7 234.3,92.3 236.2,103.6 238.1,114.2 239.9,119.6 241.8,108.1 243.7,103.4 245.5,99.8 247.4,92.3 249.3,104.3 251.1,123.1 253,85.3 254.9,95.6 256.7,99.4 258.6,93.3 260.5,127 262.4,113.5 264.2,115.1 266.1,94.6 268,122.8 269.8,112.5 271.7,90.2 273.6,100.3 275.4,112.3 277.3,85.1 279.2,122.9 281,101.5 282.9,109.3 284.8,100.3 286.6,109.3 288.5,115.6 290.4,103 292.2,120.6 294.1,98.7 296,108.3 297.8,93.5 299.7,109.2 301.6,111.6 303.4,98.8 305.3,88.8 307.2,126.9 309,101.2 310.9,95.1 312.8,118.5 314.6,112 316.5,94.2 318.4,110.8 320.2,108.4 322.1,81.1 324,111.3 325.8,110.1 327.7,126.4 329.6,112.2 331.4,113.5 333.3,79.8 335.2,85.2 337,113 338.9,76.3 340.8,89.5 342.6,100 344.5,88.6 346.4,93.2 348.2,105.7 350.1,116.6 352,106.8 353.8,96.5 355.7,100.1 357.6,104.1 359.4,84.8 361.3,107.2 363.2,85.2 365,100.2 366.9,93.4 368.8,106.7 370.6,94.2 372.5,102.4 374.4,112.7 376.3,93.5 378.1,93.6 380,83.7 381.9,89.4 383.7,103.3 385.6,98.7 387.5,118.7 389.3,103.6"/>
<polyline points="83.1,102.2 85,99.5 86.8,108.6 88.7,114.2 90.6,110.7 92.4,111.8 94.3,138.9 96.2,128.3 98,103.2 99.9,103.2 101.8,114.6 103.6,121.3 105.5,122.1 107.4,124 109.2,128.6 111.1,140.8 113,115.5 114.8,122.7 116.7,119.8 118.6,96.3 120.4,109.9 122.3,125.6 124.2,109.9 126,135.2 127.9,104.1 129.8,113.7 131.6,119.2 133.5,109.8 135.4,99 137.2,122.3 139.1,128.6 141,90.8 142.9,116.2 144.7,98.1 146.6,124.4 148.5,111.5 150.3,123.7 152.2,108.1 154.1,119.1 155.9,123.7 157.8,96.7 159.7,111.2 161.5,139.9 163.4,118 165.3,126.1 167.1,129.7 169,121.9 170.9,120.5 172.7,114.2 174.6,124.1 176.5,136.9 178.3,120.7 180.2,103.4 182.1,130.5 183.9,106.4 185.8,108.2 187.7,119.1 189.5,109.8 191.4,122.5 193.3,118.2 195.1,125.6 197,107.5 198.9,96.4 200.7,121.1 202.6,98.3 204.5,138.5 206.3,123.3 208.2,124.7 210.1,91.5 211.9,119.4 213.8,102.7 215.7,136.8 217.5,110.5 219.4,104.9 221.3,112.1 223.1,144.5 225,109.3 226.9,101.5 228.7,95.3 230.6,106.3 232.5,131.4 234.3,113.4 236.2,99.9 238.1,120.6 239.9,103.7 241.8,116.2 243.7,109.2 245.5,101.1 247.4,118.7 249.3,75.4 251.1,108.1 253,105.6 254.9,118.6 256.7,108.8 258.6,112.7 260.5,127 262.4,127.7 264.2,105.7 266.1,110.1 268,140.7 269.8,134.7 271.7,112.2 273.6,109 275.4,100.6 277.3,122.5 279.2,100.2 281,110.7 282.9,112.8 284.8,108.2 286.6,94.4 288.5,99.3 290.4,95 292.2,113.5 294.1,108.4 296,118.5 297.8,111 299.7,108.9 301.6,109.4 303.4,95.2 305.3,98.3 307.2,94.1 309,101.2 310.9,89.9 312.8,100.9 314.6,90.7 316.5,95.8 318.4,92.9 320.2,102 322.1,115.3 324,117.4 325.8,77.7 327.7,95.7 329.6,94.8 331.4,101.5 333.3,104.6 335.2,66.1 337,111.7 338.9,99.3 340.8,98.9 342.6,111 344.5,112.3 346.4,105.5 348.2,101.2 350.1,102.5 352,87.6 353.8,109.8 355.7,91.7 357.6,79.4 359.4,85.7 361.3,108.3 363.2,128.4 365,85.5 366.9,89.1 368.8,101 370.6,79.9 372.5,98.4 374.4,92.4 376.3,104.9 378.1,89.6 380,97.6 381.9,98.2 383.7,80.4 385.6,89.7 387.5,108.3 389.3,84"/>
<polyline points="83.1,107.7 85,128.3 86.8,122.9 88.7,117.3 90.6,121 92.4,116.3 94.3,109.8 96.2,123.8 98,92 99.9,126.5 101.8,124.3 103.6,93.3 105.5,88.1 107.4,117 109.2,119.8 111.1,130.6 113,103.3 114.8,115.2 116.7,127.7 118.6,112.2 120.4,100.3 122.3,108.7 124.2,89.9 126,102.7 127.9,111.6 129.8,117.3 131.6,110.1 133.5,101.9 135.4,106.2 137.2,103.8 139.1,114 141,107.2 142.9,101.5 144.7,118.4 146.6,132.2 148.5,94.9 150.3,108.8 152.2,121.3 154.1,112.9 155.9,118.7 157.8,136.4 159.7,117.7 161.5,132.8 163.4,112.7 165.3,116.4 167.1,101.1 169,116.3 170.9,110.1 172.7,118.3 174.6,119.1 176.5,131.5 178.3,102.1 180.2,112.1 182.1,121.2 183.9,111.4 185.8,118.9 187.7,122.6 189.5,110.5 191.4,98.6 193.3,116.7 195.1,130.6 197,120.6 198.9,91.1 200.7,122.8 202.6,98.3 204.5,115.6 206.3,103.6 208.2,113.8 210.1,131.6 211.9,117.3 213.8,86.4 215.7,113.6 217.5,105 219.4,115.9 221.3,113.3 223.1,107.7 225,105.7 226.9,84.4 228.7,111.4 230.6,113.3 232.5,119.1 234.3,126.9 236.2,130.3 238.1,102.6 239.9,133.2 241.8,93.4 243.7,99.9 245.5,113.8 247.4,124.1 249.3,109.7 251.1,109.6 253,96.1 254.9,118.6 256.7,114.1 258.6,110.1 260.5,112.7 262.4,116.8 264.2,129.8 266.1,128.8 268,117 269.8,111.5 271.7,96.4 273.6,80.3 275.4,87.2 277.3,102.8 279.2,84.7 281,108.4 282.9,113 284.8,78.8 286.6,118.9 288.5,110.8 290.4,108.7 292.2,87.9 294.1,112.1 296,95.5 297.8,109.2 299.7,118.6 301.6,101.1 303.4,101.6 305.3,116.9 307.2,113.1 309,112 310.9,91.1 312.8,96.8 314.6,99.1 316.5,95.9 318.4,106.9 320.2,95.6 322.1,107.9 324,116 325.8,108.5 327.7,97.6 329.6,98.8 331.4,87.4 333.3,118.7 335.2,101.6 337,94.3 338.9,109.5 340.8,95.4 342.6,102.7 344.5,110.6 346.4,84.7 348.2,113 350.1,85.6 352,101.4 353.8,107.1 355.7,106.2 357.6,104.2 359.4,105.2 361.3,92.4 363.2,116.1 365,81 366.9,85.3 368.8,78.8 370.6,105 372.5,119.6 374.4,100.5 376.3,95.2 378.1,89.7 380,98.5 381.9,93.4 383.7,90.6 385.6,109.1 387.5,71.9 389.3,103.8"/>
<polyline points="83.1,114.7 85,104.6 86.8,127.6 88.7,117.8 90.6,97.6 92.4,121.2 94.3,104.8 96.2,114 98,114.8 99.9,108.7 101.8,120.3 103.6,120 105.5,105.5 107.4,114.1 109.2,111.2 111.1,132 113,117 114.8,102.2 116.7,106 118.6,112.8 120.4,123.4 122.3,124.5 124.2,111.5 126,99.4 127.9,116.3 129.8,100.7 131.6,120.4 133.5,101.9 135.4,128.9 137.2,114.3 139.1,129.6 141,108.3 142.9,109.2 144.7,127.8 146.6,125.2 148.5,121.4 150.3,134.1 152.2,127.1 154.1,126.2 155.9,105.9 157.8,98.4 159.7,120.7 161.5,118.6 163.4,112.4 165.3,121.3 167.1,118.2 169,104.4 170.9,111.7 172.7,115.5 174.6,121.3 176.5,96.2 178.3,121.6 180.2,112.5 182.1,126.5 183.9,121 185.8,112.5 187.7,118.3 189.5,106.9 191.4,112.5 193.3,130.1 195.1,141.2 197,100.8 198.9,120 200.7,94.7 202.6,112.5 204.5,121.8 206.3,105.6 208.2,115.6 210.1,112 211.9,123.4 213.8,104.2 215.7,98.5 217.5,118.1 219.4,89.9 221.3,118.4 223.1,108.4 225,131.2 226.9,134.5 228.7,85.6 230.6,93.7 232.5,96.9 234.3,131.3 236.2,107.9 238.1,105.4 239.9,109.4 241.8,106.7 243.7,121.3 245.5,112 247.4,123.8 249.3,114.1 251.1,105.2 253,119.1 254.9,112.9 256.7,114.6 258.6,109.1 260.5,98.1 262.4,106.2 264.2,104.2 266.1,126.3 268,113.1 269.8,98.8 271.7,118.7 273.6,113.3 275.4,119.4 277.3,91.5 279.2,112.6 281,115.7 282.9,99.3 284.8,93.2 286.6,100.2 288.5,94.1 290.4,103 292.2,106.7 294.1,110.2 296,110.7 297.8,111.4 299.7,99.7 301.6,105.1 303.4,102.5 305.3,96.1 307.2,103.6 309,118.7 310.9,111.6 312.8,115.2 314.6,124.1 316.5,100.4 318.4,115.3 320.2,116 322.1,113.3 324,90.5 325.8,103.9 327.7,88.5 329.6,100.8 331.4,104.6 333.3,92.8 335.2,92.2 337,97.5 338.9,110.4 340.8,103.5 342.6,111.5 344.5,100.7 346.4,96.4 348.2,80.4 350.1,81 352,89 353.8,85.7 355.7,93.6 357.6,64.7 359.4,78.5 361.3,65.7 363.2,90.9 365,90.3 366.9,82.9 368.8,92.3 370.6,90.7 372.5,104.9 374.4,83.2 376.3,91.9 378.1,84.1 380,95.3 381.9,112.2 383.7,86.8 385.6,79.2 387.5,105.9 389.3,102.2"/>
<polyline points="83.1,121.8 85,121.1 86.8,139 88.7,96.2 90.6,105.4 92.4,125.5 94.3,140.2 96.2,113.3 98,93.2 99.9,107.4 101.8,103.4 103.6,129.2 105.5,114.7 107.4,136 109.2,93 111.1,110.4 113,143.3 114.8,140.1 116.7,111.3 118.6,115.5 120.4,121 122.3,109.5 124.2,92.4 126,112.5 127.9,139.2 129.8,118.9 131.6,133 133.5,126.7 135.4,112.8 137.2,118.9 139.1,129.8 141,117 142.9,126.5 144.7,109.9 146.6,119.3 148.5,111.4 150.3,119.4 152.2,106.8 154.1,117.5 155.9,115.9 157.8,122.6 159.7,113.8 161.5,137.1 163.4,82.6 165.3,123.5 167.1,113.9 169,120.8 170.9,120.8 172.7,109.8 174.6,120.9 176.5,119.7 178.3,131.3 180.2,125.6 182.1,128.5 183.9,92 185.8,130.3 187.7,127 189.5,111.4 191.4,96.2 193.3,134.2 195.1,132.3 197,111.8 198.9,109.1 200.7,130.4 202.6,135 204.5,124.6 206.3,103.7 208.2,113.2 210.1,103.5 211.9,113.8 213.8,112.7 215.7,104.8 217.5,113.6 219.4,109.1 221.3,123 223.1,119.1 225,106 226.9,114.5 228.7,120.6 230.6,103.4 232.5,104.6 234.3,111.2 236.2,120.3 238.1,100 239.9,80.5 241.8,120.7 243.7,129.3 245.5,120 247.4,121.7 249.3,125.6 251.1,124.5 253,99.8 254.9,99.5 256.7,91.9 258.6,100.7 260.5,115.4 262.4,96.4 264.2,116.8 266.1,113.5 268,123.4 269.8,94.2 271.7,96.6 273.6,114.1 275.4,112 277.3,107.5 279.2,105.2 281,97.2 282.9,106.3 284.8,102 286.6,124.4 288.5,109.8 290.4,127.3 292.2,84.5 294.1,88.8 296,96.6 297.8,91.6 299.7,80.8 301.6,93.1 303.4,122.7 305.3,106.1 307.2,131 309,112.6 310.9,117.4 312.8,102.7 314.6,97.8 316.5,112.9 318.4,105.1 320.2,98.3 322.1,103.1 324,103.1 325.8,128.6 327.7,105.6 329.6,91.1 331.4,97 333.3,116.8 335.2,102.6 337,96.2 338.9,110.1 340.8,91 342.6,107.6 344.5,102 346.4,99.2 348.2,72.4 350.1,101.1 352,103.6 353.8,88.8 355.7,102 357.6,94.2 359.4,121.5 361.3,92.5 363.2,95.8 365,109.8 366.9,79.9 368.8,97.5 370.6,96.8 372.5,109 374.4,112.1 376.3,100.1 378.1,110.4 380,87.9 381.9,83.4 383.7,99.8 385.6,110.2 387.5,96.6 389.3,103.6"/>
<polyline points="83.1,116.5 85,116.3 86.8,123.8 88.7,117.5 90.6,105.5 92.4,97.3 94.3,124.8 96.2,109.3 98,121.1 99.9,131.2 101.8,102.3 103.6,113.2 105.5,116.3 107.4,113.6 109.2,119.9 111.1,130.9 113,96 114.8,106.7 116.7,114.5 118.6,105.8 120.4,101.8 122.3,120.1 124.2,110.3 126,121.5 127.9,109.6 129.8,120.6 131.6,87.4 133.5,121.7 135.4,111 137.2,111.6 139.1,121.3 141,105.6 142.9,118 144.7,121.9 146.6,116.7 148.5,125.8 150.3,101.8 152.2,108.7 154.1,104.2 155.9,132.7 157.8,112.7 159.7,125.4 161.5,114.8 163.4,100.1 165.3,112.4 167.1,117.6 169,101.6 170.9,102.9 172.7,92.5 174.6,137.8 176.5,110.9 178.3,119.9 180.2,125.4 182.1,113.1 183.9,128.6 185.8,141.6 187.7,125.2 189.5,117.3 191.4,91.2 193.3,122.7 195.1,128 197,137.8 198.9,117.8 200.7,116.4 202.6,111.5 204.5,130.8 206.3,122.4 208.2,140.6 210.1,110.8 211.9,131.9 213.8,146.1 215.7,98.4 217.5,106.3 219.4,108 221.3,107.9 223.1,124.7 225,98.9 226.9,124.6 228.7,88.5 230.6,108.9 232.5,133.9 234.3,100.8 236.2,87.3 238.1,114.3 239.9,98.1 241.8,113.5 243.7,118.5 245.5,142.1 247.4,95.6 249.3,115.9 251.1,105.8 253,124 254.9,121.2 256.7,96.5 258.6,114.6 260.5,114.7 262.4,125 264.2,107.1 266.1,100.1 268,114.9 269.8,111.5 271.7,123.7 273.6,91.7 275.4,115.8 277.3,110 279.2,87.6 281,110.2 282.9,125.8 284.8,118 286.6,110.9 288.5,85 290.4,103.4 292.2,108.4 294.1,95.6 296,89.7 297.8,113.9 299.7,87.6 301.6,94.1 303.4,98.7 305.3,131.6 307.2,101.1 309,86.7 310.9,106.1 312.8,75.4 314.6,101.5 316.5,114 318.4,94.8 320.2,98.1 322.1,91.5 324,103.6 325.8,85.6 327.7,106.9 329.6,98.7 331.4,114.4 333.3,108.9 335.2,97.1 337,106.7 338.9,104.1 340.8,101 342.6,95.4 344.5,89.3 346.4,89 348.2,85.8 350.1,95 352,103.3 353.8,114.9 355.7,100.5 357.6,105.3 359.4,116.6 361.3,77 363.2,116.3 365,91.2 366.9,88.7 368.8,97.3 370.6,65.3 372.5,93.9 374.4,102.5 376.3,73.9 378.1,102.3 380,109.2 381.9,104.1 383.7,99.8 385.6,91.8 387.5,88.3 389.3,108.7"/>
<polyline points="83.1,114 85,90.3 86.8,127.2 88.7,119.9 90.6,109.5 92.4,103 94.3,126.5 96.2,130.1 98,130.6 99.9,104.2 101.8,106.6 103.6,145 105.5,144.6 107.4,133.2 109.2,136.5 111.1,112.6 113,114.9 114.8,93.1 116.7,107.6 118.6,116 120.4,102.7 122.3,128.5 124.2,134.8 126,116.9 127.9,105.5 129.8,137.4 131.6,106 133.5,106.4 135.4,123.3 137.2,114.9 139.1,120.4 141,115.8 142.9,106.7 144.7,126.6 146.6,103.5 148.5,105.5 150.3,105 152.2,140.7 154.1,139.2 155.9,107.3 157.8,123.1 159.7,124.3 161.5,125.1 163.4,132.2 165.3,118.9 167.1,124.2 169,123.3 170.9,109 172.7,129.6 174.6,100.8 176.5,142.3 178.3,83.4 180.2,131.3 182.1,107.1 183.9,102.9 185.8,114.1 187.7,104.7 189.5,115.2 191.4,135.6 193.3,109.4 195.1,99.3 197,120.3 198.9,134.4 200.7,120.7 202.6,109.1 204.5,109.2 206.3,99.2 208.2,105.8 210.1,106.4 211.9,137.4 213.8,84.8 215.7,111.7 217.5,101.5 219.4,116.4 221.3,113.8 223.1,111.1 225,92.2 226.9,92.8 228.7,103.8 230.6,86.8 232.5,116.2 234.3,104.7 236.2,116.7 238.1,94.9 239.9,110.4 241.8,98.6 243.7,89.2 245.5,136.1 247.4,83.5 249.3,106.3 251.1,114 253,133.7 254.9,113.6 256.7,138.2 258.6,108.6 260.5,111.6 262.4,86.9 264.2,113.3 266.1,95.9 268,94.6 269.8,83.4 271.7,111.7 273.6,99 275.4,126.8 277.3,121.4 279.2,110.8 281,107.5 282.9,121.8 284.8,111.7 286.6,97.8 288.5,111.6 290.4,107.6 292.2,116.3 294.1,88.4 296,83.3 297.8,102.1 299.7,105.7 301.6,83.9 303.4,97.9 305.3,111.5 307.2,119.4 309,109.9 310.9,76.2 312.8,109.4 314.6,67.4 316.5,101.8 318.4,104.1 320.2,85.5 322.1,103.9 324,96.2 325.8,112.8 327.7,115 329.6,108.7 331.4,97 333.3,107.3 335.2,122.3 337,93.3 338.9,100.6 340.8,101.7 342.6,105.3 344.5,124.2 346.4,79 348.2,102.9 350.1,90.9 352,80.6 353.8,83.4 355.7,93.9 357.6,95.9 359.4,92.2 361.3,85 363.2,88.6 365,100.1 366.9,89.5 368.8,90.1 370.6,86.2 372.5,91.6 374.4,78 376.3,91.1 378.1,83 380,92.4 381.9,99.1 383.7,103.1 385.6,93.9 387.5,85.8 389.3,77.3"/>
<polyline points="83.1,119.3 85,124.7 86.8,124.5 88.7,101.6 90.6,116.6 92.4,124.2 94.3,108.4 96.2,134.5 98,116.3 99.9,118.2 101.8,119.3 103.6,132.2 105.5,105.1 107.4,96.2 109.2,134.2 111.1,115.9 113,109.2 114.8,88.8 116.7,122.5 118.6,129.2 120.4,117.2 122.3,91.7 124.2,116.2 126,113.7 127.9,94.6 129.8,143.9 131.6,144.2 133.5,105.4 135.4,107 137.2,134.2 139.1,110.2 141,116.1 142.9,113.7 144.7,126.5 146.6,121.9 148.5,127.2 150.3,115.4 152.2,118.8 154.1,94.6 155.9,107.8 157.8,135.3 159.7,110.2 161.5,97.3 163.4,111.6 165.3,101.4 167.1,115.4 169,106 170.9,126.5 172.7,104.7 174.6,131.8 176.5,98.2 178.3,133.2 180.2,140.7 182.1,107.4 183.9,116.1 185.8,112.4 187.7,108.3 189.5,113.9 191.4,124.6 193.3,110.7 195.1,108.9 197,107 198.9,88.2 200.7,122.1 202.6,112 204.5,105.7 206.3,118.2 208.2,127.5 210.1,119.5 211.9,99 213.8,115.5 215.7,104.4 217.5,121.1 219.4,106.2 221.3,120.1 223.1,122.1 225,110.1 226.9,110.7 228.7,92.9 230.6,131.4 232.5,104.7 234.3,90.8 236.2,93.8 238.1,115.5 239.9,119.1 241.8,116.6 243.7,106.6 245.5,107.9 247.4,105.8 249.3,102.6 251.1,123.2 253,123.8 254.9,124.9 256.7,126.3 258.6,110.7 260.5,105.5 262.4,77.8 264.2,102.5 266.1,108.8 268,91.3 269.8,117.9 271.7,104.3 273.6,96.2 275.4,98.2 277.3,102.7 279.2,111.6 281,122.3 282.9,108.7 284.8,113.8 286.6,97.8 288.5,107.6 290.4,98.8 292.2,125 294.1,93.2 296,115.1 297.8,123.4 299.7,120.9 301.6,111.5 303.4,90 305.3,94.7 307.2,117.2 309,101.7 310.9,103.7 312.8,121 314.6,113.8 316.5,126.1 318.4,111.8 320.2,132.8 322.1,110.4 324,111.8 325.8,109.9 327.7,109.9 329.6,86.2 331.4,103.7 333.3,96.5 335.2,90.2 337,88.3 338.9,90.6 340.8,104.8 342.6,110.9 344.5,106.9 346.4,103.1 348.2,97.2 350.1,98 352,84 353.8,97.7 355.7,75.5 357.6,84.1 359.4,101.3 361.3,85.6 363.2,128.2 365,79.1 366.9,90 368.8,89.9 370.6,113.4 372.5,65.2 374.4,96.5 376.3,95 378.1,80.4 380,95.1 381.9,102.2 383.7,84.9 385.6,103.5 387.5,83.5 389.3,90"/>
<polyline points="83.1,103.8 85,133.4 86.8,102.2 88.7,114.2 90.6,92.9 92.4,126.1 94.3,94.3 96.2,108.9 98,107.8 99.9,126.9 101.8,110.6 103.6,109.1 105.5,128 107.4,132.1 109.2,127.2 111.1,98.9 113,115.4 114.8,105.5 116.7,113.6 118.6,115.7 120.4,114.4 122.3,122.3 124.2,101.7 126,114.8 127.9,114.1 129.8,134.4 131.6,113 133.5,125.3 135.4,123.1 137.2,103.7 139.1,130.4 141,119.1 142.9,108.6 144.7,101.9 146.6,122.7 148.5,112.1 150.3,112.4 152.2,130.1 154.1,142.6 155.9,139.8 157.8,108 159.7,114.1 161.5,132.1 163.4,123.2 165.3,120.1 167.1,119.4 169,115.2 170.9,87.1 172.7,124.4 174.6,112.7 176.5,124 178.3,122.1 180.2,125.2 182.1,116.9 183.9,120.8 185.8,109.5 187.7,111.1 189.5,124.8 191.4,89.6 193.3,128 195.1,108.8 197,86.1 198.9,121.9 200.7,96.4 202.6,95.1 204.5,108.5 206.3,135.6 208.2,94.8 210.1,111.2 211.9,119.1 213.8,96.3 215.7,121.1 217.5,98.7 219.4,118.6 221.3,105 223.1,125 225,116.4 226.9,122.7 228.7,120.1 230.6,108.8 232.5,113.2 234.3,108.6 236.2,94.9 238.1,112.1 239.9,133.7 241.8,114 243.7,109.4 245.5,97.6 247.4,97.3 249.3,98.3 251.1,112.7 253,101.8 254.9,127.5 256.7,93.6 258.6,104 260.5,103.1 262.4,113.9 264.2,108.4 266.1,117.3 268,101.9 269.8,125.2 271.7,96.5 273.6,101.5 275.4,83 277.3,108.1 279.2,108.5 281,104.7 282.9,106.3 284.8,107.8 286.6,119.7 288.5,119.4 290.4,112.5 292.2,108.9 294.1,119.4 296,118.8 297.8,107.9 299.7,95.2 301.6,106.2 303.4,95.4 305.3,91.6 307.2,93.8 309,107.8 310.9,107.3 312.8,124.5 314.6,110.1 316.5,96.1 318.4,114.4 320.2,85.1 322.1,83.9 324,105 325.8,89.5 327.7,116.9 329.6,112.2 331.4,104 333.3,99.3 335.2,101.3 337,108.9 338.9,75.6 340.8,94.9 342.6,94.7 344.5,89.9 346.4,95.5 348.2,100 350.1,103.5 352,115.7 353.8,79.2 355.7,106.9 357.6,115.1 359.4,105 361.3,113.9 363.2,72.4 365,90.8 366.9,78.6 368.8,77.8 370.6,87.7 372.5,87.4 374.4,101.9 376.3,94.3 378.1,100 380,92.4 381.9,100.5 383.7,78.1 385.6,83.5 387.5,93 389.3,110.3"/>
<polyline points="83.1,109.4 85,106.9 86.8,118.9 88.7,133.9 90.6,112.4 92.4,104.6 94.3,142 96.2,110.6 98,140.6 99.9,116.7 101.8,95.6 103.6,116.4 105.5,111.5 107.4,121.5 109.2,117.5 111.1,87.8 113,100.6 114.8,121.3 116.7,122 118.6,117 120.4,89.6 122.3,114.5 124.2,103.1 126,121.6 127.9,133 129.8,100.3 131.6,117.8 133.5,126.7 135.4,125.5 137.2,125.2 139.1,124.3 141,135.9 142.9,101.4 144.7,111.6 146.6,104 148.5,120.4 150.3,111.7 152.2,113.8 154.1,101.1 155.9,105.5 157.8,111.1 159.7,123.5 161.5,130.3 163.4,125.2 165.3,123 167.1,121.7 169,130.3 170.9,94 172.7,111.2 174.6,139.6 176.5,128 178.3,130.9 180.2,111.2 182.1,100.8 183.9,126.2 185.8,106.1 187.7,117.1 189.5,99.3 191.4,96.5 193.3,109.5 195.1,104.3 197,113.2 198.9,117.7 200.7,127.3 202.6,108.8 204.5,113.6 206.3,117.3 208.2,113.4 210.1,114.7 211.9,125.1 213.8,118.7 215.7,97.9 217.5,114.8 219.4,94.6 221.3,125.9 223.1,128.3 225,109.9 226.9,101.8 228.7,119.3 230.6,103.4 232.5,99.5 234.3,97.7 236.2,112.2 238.1,111.3 239.9,130.9 241.8,110.2 243.7,106.9 245.5,92.9 247.4,125.8 249.3,120.4 251.1,122.2 253,98.8 254.9,140.7 256.7,122.9 258.6,84.2 260.5,101.3 262.4,125.5 264.2,109.9 266.1,98.6 268,102.2 269.8,111.5 271.7,118.2 273.6,98.1 275.4,108 277.3,97.8 279.2,102.5 281,112.7 282.9,89.3 284.8,112.5 286.6,101 288.5,113.5 290.4,108.4 292.2,108.3 294.1,113 296,101.9 297.8,88.8 299.7,82 301.6,86.8 303.4,105.7 305.3,86 307.2,98.1 309,81.5 310.9,117.4 312.8,84.7 314.6,109 316.5,88.1 318.4,106.9 320.2,90.5 322.1,104.2 324,122.6 325.8,111.7 327.7,102.9 329.6,99.6 331.4,125.6 333.3,113.3 335.2,107.6 337,101.3 338.9,96 340.8,107.8 342.6,115.5 344.5,94.3 346.4,101.4 348.2,87.1 350.1,103 352,89.4 353.8,106.7 355.7,93.2 357.6,95 359.4,90.6 361.3,106 363.2,96.6 365,104.5 366.9,96.5 368.8,87.4 370.6,60.6 372.5,93.5 374.4,85.6 376.3,92.1 378.1,80.5 380,87.7 381.9,81 383.7,88.4 385.6,65.5 387.5,76.6 389.3,110.4"/>
<polyline points="83.1,114.3 85,117.1 86.8,145.4 88.7,128.6 90.6,123.6 92.4,127 94.3,116.2 96.2,140 98,108.4 99.9,108 101.8,113.2 103.6,121.6 105.5,117.4 107.4,123.2 109.2,103.2 111.1,111.1 113,92.6 114.8,121.8 116.7,99.2 118.6,124.3 120.4,119.2 122.3,130 124.2,110.5 126,117.7 127.9,109.2 129.8,98.4 131.6,117.5 133.5,112.1 135.4,105.6 137.2,117.4 139.1,123.4 141,112.1 142.9,110.2 144.7,106.7 146.6,105.9 148.5,124.3 150.3,110.4 152.2,100.6 154.1,121.4 155.9,111.1 157.8,123.1 159.7,113.3 161.5,93.9 163.4,113 165.3,126.9 167.1,110.6 169,112.1 170.9,100.9 172.7,131.4 174.6,125.6 176.5,115.2 178.3,133.2 180.2,100.1 182.1,138.8 183.9,124 185.8,131.8 187.7,121.6 189.5,103.7 191.4,106 193.3,101.9 195.1,105.8 197,137.9 198.9,109.2 200.7,135.4 202.6,118.9 204.5,117.4 206.3,119.1 208.2,106.4 210.1,122.2 211.9,91 213.8,104.7 215.7,97.5 217.5,102.6 219.4,100.8 221.3,112.1 223.1,87.5 225,124.2 226.9,105.6 228.7,111.1 230.6,113.8 232.5,107 234.3,119.9 236.2,100.1 238.1,101 239.9,109.3 241.8,101.4 243.7,122.9 245.5,132.1 247.4,117.1 249.3,112.8 251.1,79.5 253,112.5 254.9,97 256.7,99.2 258.6,83.7 260.5,107.8 262.4,101.2 264.2,111.4 266.1,119.4 268,121 269.8,118.2 271.7,91.1 273.6,104.7 275.4,109.7 277.3,107.3 279.2,114 281,107.4 282.9,107.1 284.8,98.6 286.6,95.2 288.5,125.3 290.4,102.7 292.2,88.8 294.1,117.1 296,107.6 297.8,102.4 299.7,91 301.6,96.7 303.4,106.1 305.3,97.3 307.2,90.7 309,98 310.9,80.6 312.8,97.1 314.6,114.1 316.5,110.7 318.4,102.9 320.2,103.5 322.1,93.6 324,96.4 325.8,80.4 327.7,90.6 329.6,82.6 331.4,108.3 333.3,104.1 335.2,91.1 337,97.6 338.9,91.2 340.8,95.3 342.6,105 344.5,78.2 346.4,84.4 348.2,114.8 350.1,103.9 352,96.3 353.8,88.6 355.7,96.9 357.6,111.2 359.4,86.2 361.3,97.6 363.2,81.5 365,91.4 366.9,83.3 368.8,84.9 370.6,84.1 372.5,99.4 374.4,82 376.3,90.9 378.1,106.8 380,97 381.9,96.1 383.7,87 385.6,84.3 387.5,103.9 389.3,83.4"/>
<polyline points="83.1,118.6 85,130.8 86.8,107.4 88.7,127.1 90.6,132.4 92.4,108.2 94.3,106.4 96.2,125.6 98,104.4 99.9,105 101.8,123.7 103.6,92.7 105.5,118 107.4,114.4 109.2,146.5 111.1,109.3 113,124.7 114.8,111.6 116.7,138 118.6,102.7 120.4,98.9 122.3,93.6 124.2,153 126,109.5 127.9,112.4 129.8,153.7 131.6,125.5 133.5,117.5 135.4,99 137.2,126.6 139.1,113.8 141,116.9 142.9,111.6 144.7,120.8 146.6,104.9 148.5,103.8 150.3,132.2 152.2,101.7 154.1,124.5 155.9,118.6 157.8,101.3 159.7,113.7 161.5,107.8 163.4,105 165.3,107.2 167.1,121 169,126 170.9,105.9 172.7,104.8 174.6,109.6 176.5,116.1 178.3,103.2 180.2,113.9 182.1,130.2 183.9,109.9 185.8,107.1 187.7,103.7 189.5,123.9 191.4,122 193.3,108.7 195.1,118.1 197,113.3 198.9,101 200.7,107.5 202.6,89.9 204.5,108.5 206.3,91.1 208.2,98.8 210.1,80.7 211.9,111.3 213.8,112.4 215.7,95.4 217.5,117.4 219.4,116.6 221.3,107.8 223.1,106.2 225,127.6 226.9,107.4 228.7,114.1 230.6,110.5 232.5,107.9 234.3,112.3 236.2,96.9 238.1,103.8 239.9,111.8 241.8,108.5 243.7,96.8 245.5,99.7 247.4,93.8 249.3,110.6 251.1,107.1 253,84.4 254.9,109 256.7,88.2 258.6,98.1 260.5,113.3 262.4,124.9 264.2,100.3 266.1,116.3 268,116.2 269.8,128.4 271.7,93.1 273.6,105.8 275.4,106.4 277.3,101.7 279.2,103.2 281,104.7 282.9,99.4 284.8,108.5 286.6,135.6 288.5,95.9 290.4,99.4 292.2,103.8 294.1,85.1 296,120 297.8,137.3 299.7,85.5 301.6,97.8 303.4,121.6 305.3,106.8 307.2,94.6 309,115.6 310.9,94.8 312.8,76.4 314.6,84.6 316.5,100.8 318.4,96.5 320.2,110.9 322.1,98.2 324,103.3 325.8,110.6 327.7,114.3 329.6,76.6 331.4,97.4 333.3,109.8 335.2,102.7 337,80.7 338.9,79 340.8,104.1 342.6,94.7 344.5,86.5 346.4,100.3 348.2,109.4 350.1,106.8 352,95.5 353.8,104 355.7,109.6 357.6,97.5 359.4,84.1 361.3,86.7 363.2,96.6 365,72.6 366.9,102.3 368.8,94.1 370.6,108.1 372.5,84.2 374.4,93.9 376.3,110.8 378.1,101.1 380,72 381.9,83.6 383.7,90 385.6,81.5 387.5,108.2 389.3,99.5"/>
<polyline points="83.1,133.2 85,127 86.8,121.5 88.7,110.2 90.6,104.3 92.4,104.6 94.3,83.7 96.2,122.6 98,116.8 99.9,110.2 101.8,126.6 103.6,119.9 105.5,111.3 107.4,127.1 109.2,110.5 111.1,101.2 113,129.8 114.8,144.1 116.7,115.1 118.6,128.8 120.4,113.9 122.3,121.5 124.2,112.2 126,102.1 127.9,105.9 129.8,120.2 131.6,130.1 133.5,146.1 135.4,142.2 137.2,125.4 139.1,114.5 141,123.8 142.9,122.8 144.7,134.9 146.6,135.4 148.5,136.2 150.3,107.6 152.2,139.2 154.1,106.8 155.9,125.9 157.8,108.3 159.7,111.9 161.5,105.5 163.4,100.2 165.3,124.1 167.1,126.3 169,119.7 170.9,123.7 172.7,106.2 174.6,115.5 176.5,114 178.3,108.9 180.2,119.7 182.1,100.5 183.9,136.1 185.8,110.8 187.7,107.5 189.5,122.8 191.4,121.8 193.3,102.3 195.1,117 197,136.4 198.9,129.3 200.7,100.6 202.6,123.4 204.5,96.8 206.3,95.9 208.2,114.9 210.1,105.7 211.9,122.2 213.8,117 215.7,120.5 217.5,104.8 219.4,127.3 221.3,113.3 223.1,111 225,105.2 226.9,137.1 228.7,132.9 230.6,121.8 232.5,113.8 234.3,109.3 236.2,108.5 238.1,86.4 239.9,102.8 241.8,103.5 243.7,116.3 245.5,100.9 247.4,101.9 249.3,102 251.1,111.4 253,102.4 254.9,91.4 256.7,119.3 258.6,135.6 260.5,99.6 262.4,100.6 264.2,112.1 266.1,114.5 268,75.9 269.8,114.5 271.7,123.3 273.6,114.1 275.4,102.1 277.3,115.1 279.2,112.2 281,103.6 282.9,112.1 284.8,105.2 286.6,106.9 288.5,118.7 290.4,105 292.2,119.2 294.1,94.2 296,115.9 297.8,107.5 299.7,125.7 301.6,109.3 303.4,118.4 305.3,86.1 307.2,104.7 309,96.9 310.9,123 312.8,116.8 314.6,104.2 316.5,117.6 318.4,88.5 320.2,106.1 322.1,99.4 324,97.4 325.8,102.4 327.7,91.5 329.6,107.8 331.4,95.7 333.3,86 335.2,96.9 337,97.7 338.9,102.6 340.8,97.9 342.6,90.7 344.5,100.8 346.4,116.7 348.2,95.7 350.1,99 352,91.8 353.8,96.3 355.7,79 357.6,109.7 359.4,106.8 361.3,88.5 363.2,106.9 365,91.6 366.9,95.2 368.8,116.4 370.6,87.1 372.5,79.2 374.4,91.7 376.3,109 378.1,84.8 380,104.5 381.9,94.2 383.7,88.2 385.6,100.8 387.5,110.5 389.3,93.4"/>
<polyline points="83.1,119 85,128.8 86.8,127.8 88.7,109.3 90.6,119.4 92.4,123.9 94.3,125.4 96.2,116.1 98,117 99.9,120.1 101.8,134.8 103.6,122.5 105.5,125.5 107.4,117.1 109.2,103.9 111.1,106.3 113,110 114.8,116.4 116.7,121.6 118.6,113.6 120.4,123.3 122.3,121.6 124.2,127.6 126,118.1 127.9,118.3 129.8,95.2 131.6,110.7 133.5,121.8 135.4,107.9 137.2,122.8 139.1,105 141,107.7 142.9,82.3 144.7,129.7 146.6,117.5 148.5,117.9 150.3,112.9 152.2,107.8 154.1,127.8 155.9,124.7 157.8,112.4 159.7,104.3 161.5,129.1 163.4,134.1 165.3,101.9 167.1,105.4 169,102.4 170.9,126.7 172.7,117.4 174.6,112.2 176.5,109.6 178.3,116.1 180.2,115.2 182.1,102.5 183.9,119.5 185.8,120.7 187.7,119.2 189.5,120 191.4,112.3 193.3,116.2 195.1,118.8 197,96.8 198.9,109.9 200.7,117.3 202.6,98.4 204.5,119.6 206.3,113 208.2,114 210.1,119.5 211.9,117.2 213.8,111.6 215.7,129.2 217.5,116.9 219.4,109.3 221.3,108.9 223.1,108.5 225,84.6 226.9,104 228.7,113.3 230.6,113 232.5,111.5 234.3,106.3 236.2,114.7 238.1,93.6 239.9,123.8 241.8,103.6 243.7,104.9 245.5,123.9 247.4,103.3 249.3,104 251.1,117.7 253,83.4 254.9,101.9 256.7,113.8 258.6,115.4 260.5,118.4 262.4,106.7 264.2,108.8 266.1,125.7 268,121.3 269.8,117.5 271.7,113.6 273.6,112.8 275.4,116 277.3,100.7 279.2,96.9 281,106.7 282.9,132.2 284.8,108.7 286.6,100.3 288.5,107.3 290.4,103 292.2,104.6 294.1,122.3 296,133.7 297.8,97.9 299.7,110.5 301.6,99.7 303.4,107.5 305.3,105.7 307.2,88.2 309,116.5 310.9,103 312.8,114.8 314.6,101.6 316.5,96.9 318.4,94.7 320.2,100 322.1,116.6 324,98.4 325.8,91 327.7,89.7 329.6,76.9 331.4,93.9 333.3,110.9 335.2,105.2 337,98.4 338.9,87.6 340.8,111.2 342.6,88.6 344.5,91.2 346.4,107.4 348.2,91.2 350.1,105.7 352,97.2 353.8,100.2 355.7,94.1 357.6,109.1 359.4,90.5 361.3,119.1 363.2,100 365,101.4 366.9,78.4 368.8,89.2 370.6,99.8 372.5,103.8 374.4,93.7 376.3,100.4 378.1,70 380,122.4 381.9,92.4 383.7,118.5 385.6,81.7 387.5,100.6 389.3,75.3"/>
<polyline points="83.1,125 85,105.8 86.8,116.1 88.7,104.5 90.6,118.1 92.4,153.2 94.3,126.8 96.2,136.5 98,107.1 99.9,111.8 101.8,118 103.6,112.7 105.5,115.7 107.4,124.6 109.2,95 111.1,115.1 113,120.1 114.8,134.9 116.7,125 118.6,117.5 120.4,119.7 122.3,123.2 124.2,118.1 126,130.6 127.9,117.3 129.8,135.5 131.6,127.4 133.5,125.9 135.4,107.1 137.2,111.5 139.1,116.3 141,130.5 142.9,121.6 144.7,107.5 146.6,102.1 148.5,133.8 150.3,121.5 152.2,115.1 154.1,112.1 155.9,116 157.8,108.2 159.7,132.7 161.5,97.6 163.4,129 165.3,114.8 167.1,109.3 169,101.7 170.9,104.6 172.7,104.9 174.6,100 176.5,116.5 178.3,105.9 180.2,96.6 182.1,123.2 183.9,130.6 185.8,125.9 187.7,97.6 189.5,99.5 191.4,118 193.3,110.9 195.1,108.1 197,101.3 198.9,135.2 200.7,119.7 202.6,116.2 204.5,109.3 206.3,112 208.2,116.5 210.1,109.3 211.9,142.4 213.8,76.7 215.7,102.8 217.5,101.9 219.4,119.7 221.3,107.1 223.1,88 225,90.6 226.9,110.7 228.7,125.9 230.6,109.5 232.5,114.7 234.3,101.3 236.2,125.9 238.1,113.1 239.9,107.7 241.8,116.1 243.7,98.3 245.5,123.6 247.4,124.7 249.3,114.3 251.1,100.5 253,113.5 254.9,116.8 256.7,100.4 258.6,107.1 260.5,115.7 262.4,108 264.2,112.1 266.1,102.2 268,107.5 269.8,118.2 271.7,114.2 273.6,113.2 275.4,103.9 277.3,103.5 279.2,117.1 281,109.4 282.9,103.4 284.8,94.1 286.6,103.5 288.5,83.8 290.4,105.5 292.2,97.2 294.1,109 296,116.3 297.8,103.5 299.7,98.9 301.6,100.4 303.4,102.2 305.3,107.3 307.2,112.5 309,106.3 310.9,97.4 312.8,91.7 314.6,139 316.5,95.1 318.4,89.6 320.2,87.3 322.1,96.9 324,93.4 325.8,105.5 327.7,101.3 329.6,94.3 331.4,111.9 333.3,108.3 335.2,97.1 337,113.7 338.9,98.2 340.8,114.8 342.6,96.1 344.5,97.7 346.4,103.9 348.2,107.8 350.1,102.8 352,121.3 353.8,101 355.7,95.2 357.6,83.2 359.4,101.4 361.3,97.6 363.2,80.5 365,76.5 366.9,100.1 368.8,83.4 370.6,81.8 372.5,88.6 374.4,104.4 376.3,103.6 378.1,87.2 380,68.3 381.9,94.7 383.7,76 385.6,72.3 387.5,105.2 389.3,98.1"/>
<polyline points="83.1,100.4 85,106.7 86.8,111.7 88.7,118.3 90.6,110.7 92.4,125.6 94.3,88.4 96.2,131.7 98,139.3 99.9,116.1 101.8,100.7 103.6,123.6 105.5,118.4 107.4,129.8 109.2,118.6 111.1,129.7 113,129.5 114.8,135 116.7,124 118.6,95.4 120.4,118.1 122.3,115.1 124.2,90.9 126,124.8 127.9,129 129.8,111 131.6,131.7 133.5,113.1 135.4,103.4 137.2,129.7 139.1,123.1 141,96.8 142.9,129.2 144.7,124.6 146.6,113.7 148.5,120.1 150.3,126.3 152.2,97.2 154.1,122.9 155.9,112 157.8,120.6 159.7,118.4 161.5,131.7 163.4,104.5 165.3,120.4 167.1,100.2 169,128.8 170.9,120.7 172.7,109.2 174.6,113.4 176.5,122.3 178.3,116.1 180.2,129.7 182.1,113.6 183.9,145.3 185.8,112 187.7,98 189.5,103.3 191.4,103.7 193.3,118.5 195.1,107.7 197,118.1 198.9,114.3 200.7,114.3 202.6,152.6 204.5,102.1 206.3,107.5 208.2,102.8 210.1,123.8 211.9,104.4 213.8,106.7 215.7,138.4 217.5,132.8 219.4,111.4 221.3,119.7 223.1,112 225,119.2 226.9,94.1 228.7,133.7 230.6,127.3 232.5,122.7 234.3,127.1 236.2,117.8 238.1,111.3 239.9,126.5 241.8,106.4 243.7,95.2 245.5,97.7 247.4,86.9 249.3,97 251.1,110.5 253,89.2 254.9,101.7 256.7,87.9 258.6,111.9 260.5,134.1 262.4,123 264.2,107.2 266.1,102.8 268,111.5 269.8,97.3 271.7,122 273.6,116.5 275.4,96.6 277.3,107.2 279.2,106.4 281,90.9 282.9,94.3 284.8,115.7 286.6,104 288.5,125.6 290.4,105.9 292.2,100.9 294.1,124.9 296,87 297.8,81.8 299.7,98.6 301.6,93.4 303.4,86.6 305.3,105.3 307.2,91.3 309,98.4 310.9,119.8 312.8,112.4 314.6,108.3 316.5,89.7 318.4,100.3 320.2,90.1 322.1,106.2 324,114.9 325.8,77.4 327.7,69.8 329.6,95.6 331.4,101.8 333.3,86.2 335.2,111.3 337,101.1 338.9,114.4 340.8,93 342.6,95.3 344.5,102.2 346.4,104.7 348.2,113.9 350.1,106 352,83.3 353.8,100.3 355.7,82.5 357.6,105.4 359.4,96.6 361.3,100.4 363.2,98 365,86.6 366.9,116.8 368.8,86.4 370.6,86.7 372.5,93.9 374.4,92.8 376.3,95.7 378.1,85.7 380,92.2 381.9,101.6 383.7,90.7 385.6,82 387.5,87.9 389.3,91.2"/>
<polyline points="389.3,89.7 391.2,91.7 393.1,91 394.9,107.4 396.8,87.2 398.7,73.2 400.5,89 402.4,94.9 404.3,73.2 406.1,81.6 408,81.5 409.9,77.3 411.7,74.2 413.6,82.8 415.5,92.1 417.3,60.6 419.2,80.7 421.1,90.5 422.9,78.6 424.8,65.9 426.7,97.6 428.5,63.8 430.4,81.3 432.3,54.7 434.1,70.9 436,80.2 437.9,63 439.7,62.5 441.6,82.5 443.5,75 445.3,84.1 447.2,66 449.1,94.7 450.9,79.1 452.8,103.3 454.7,69.1 456.5,104 458.4,89.2 460.3,72.4 462.1,79.9 464,80.8 465.9,87.2 467.7,80.7 469.6,96.6 471.5,70.5 473.3,64.2 475.2,64.5 477.1,74.3 478.9,58.4 480.8,67.7 482.7,61.3 484.5,68.1 486.4,72.4 488.3,82.1 490.1,105.4 492,64.2 493.9,73.5 495.8,47.1 497.6,96.6 499.5,61.1 501.4,83.3 503.2,71.3 505.1,82.2 507,66.6 508.8,71.2 510.7,59.6 512.6,68.6 514.4,64.3 516.3,54.1 518.2,63.5 520,71.5 521.9,54.1 523.8,71 525.6,64.3 527.5,73.4 529.4,77.6 531.2,106.8 533.1,60.3 535,83.5 536.8,59.7 538.7,46.1 540.6,85.2 542.4,57.6 544.3,69.7 546.2,62.7 548,83.3 549.9,67.8"/>
<polyline points="389.3,71 391.2,61.2 393.1,82 394.9,89.5 396.8,59.2 398.7,85.9 400.5,85 402.4,82.9 404.3,78.3 406.1,75.1 408,89.9 409.9,84.1 411.7,60.2 413.6,63.1 415.5,76.6 417.3,78.3 419.2,84.1 421.1,68.6 422.9,86.9 424.8,78.9 426.7,85.6 428.5,87.4 430.4,79 432.3,79.2 434.1,86.1 436,79.6 437.9,77.7 439.7,84.1 441.6,86.1 443.5,79.5 445.3,68.8 447.2,63.5 449.1,74.7 450.9,80.1 452.8,76.9 454.7,52.6 456.5,64.7 458.4,87.6 460.3,76.2 462.1,81.9 464,79.7 465.9,95.9 467.7,74.4 469.6,91.4 471.5,81.6 473.3,55.2 475.2,61.5 477.1,84.5 478.9,86.4 480.8,84.6 482.7,96.6 484.5,85.1 486.4,76 488.3,85.5 490.1,62.8 492,72.7 493.9,78.6 495.8,49.9 497.6,62.8 499.5,70.6 501.4,48.2 503.2,54.7 505.1,79.8 507,66.7 508.8,76.1 510.7,88.4 512.6,46.5 514.4,51.3 516.3,85.9 518.2,63.6 520,90.2 521.9,56 523.8,70 525.6,72.9 527.5,53.4 529.4,69 531.2,72.3 533.1,57.4 535,72.6 536.8,57.7 538.7,68.6 540.6,58.1 542.4,60.5 544.3,58.4 546.2,81 548,44.4 549.9,70.1"/>
<polyline points="389.3,78.1 391.2,88.9 393.1,88.5 394.9,71.7 396.8,89.8 398.7,79.7 400.5,102.7 402.4,89.6 404.3,81 406.1,84.6 408,105.4 409.9,76.7 411.7,94 413.6,58.8 415.5,84.1 417.3,54.1 419.2,73.1 421.1,75.3 422.9,86.5 424.8,81.7 426.7,74.4 428.5,103.7 430.4,67.1 432.3,93.7 434.1,82.2 436,112.9 437.9,72.8 439.7,68.8 441.6,74.4 443.5,73.7 445.3,82.1 447.2,75.3 449.1,61.8 450.9,82.1 452.8,70.2 454.7,67.1 456.5,79 458.4,72.8 460.3,72.8 462.1,81.5 464,44.4 465.9,80.4 467.7,53.1 469.6,61 471.5,100 473.3,70.9 475.2,60.8 477.1,63.4 478.9,84.9 480.8,70 482.7,88.3 484.5,86 486.4,75.7 488.3,70.1 490.1,51.9 492,67.6 493.9,58.5 495.8,87 497.6,86.3 499.5,77.6 501.4,49 503.2,88.2 505.1,91.1 507,71.8 508.8,55.5 510.7,91.2 512.6,73.5 514.4,87.5 516.3,51.5 518.2,61 520,66.2 521.9,70.1 523.8,72.4 525.6,67.6 527.5,77.5 529.4,80.4 531.2,83.3 533.1,68.8 535,79.1 536.8,57.6 538.7,95.6 540.6,61.3 542.4,61.7 544.3,52.8 546.2,71.6 548,87.5 549.9,80"/>
<polyline points="389.3,76.5 391.2,90.7 393.1,92.4 394.9,86 396.8,87.6 398.7,103.2 400.5,91.5 402.4,72 404.3,66.3 406.1,84.9 408,89.4 409.9,66.4 411.7,84.7 413.6,96.6 415.5,83.5 417.3,73.1 419.2,62.1 421.1,87 422.9,74 424.8,84.5 426.7,65.9 428.5,76.6 430.4,76.3 432.3,91.7 434.1,83.1 436,82.9 437.9,124.2 439.7,67.5 441.6,78.2 443.5,80.5 445.3,82.2 447.2,77 449.1,74 450.9,93.5 452.8,75 454.7,74.9 456.5,75.8 458.4,94.8 460.3,77.4 462.1,91.7 464,70.8 465.9,58.3 467.7,63.7 469.6,78.9 471.5,81.3 473.3,81.4 475.2,69.6 477.1,82.3 478.9,80.4 480.8,105.4 482.7,84 484.5,83 486.4,79.7 488.3,57.1 490.1,89.7 492,89.2 493.9,64.4 495.8,84.4 497.6,73.8 499.5,69.4 501.4,71.2 503.2,81.2 505.1,59.4 507,51.8 508.8,83.6 510.7,74.1 512.6,58.4 514.4,72.9 516.3,82.9 518.2,75.5 520,59.1 521.9,82.4 523.8,66.3 525.6,64.5 527.5,77.7 529.4,62 531.2,60.6 533.1,56.3 535,57 536.8,88 538.7,57.3 540.6,61.2 542.4,56.1 544.3,79.4 546.2,56.8 548,63.5 549.9,83.1"/>
<polyline points="389.3,100.5 391.2,97.8 393.1,80.9 394.9,92.4 396.8,80.7 398.7,87.6 400.5,81 402.4,74.3 404.3,84.2 406.1,73 408,72.9 409.9,93 411.7,72.2 413.6,74.7 415.5,80.3 417.3,68 419.2,61 421.1,71.7 422.9,98.9 424.8,74.9 426.7,81.8 428.5,83.2 430.4,75.3 432.3,83.4 434.1,58.6 436,75.3 437.9,78.3 439.7,68.4 441.6,67.9 443.5,62.9 445.3,69.5 447.2,77.8 449.1,75.3 450.9,104.1 452.8,95.1 454.7,63.2 456.5,80.2 458.4,52.9 460.3,52.7 462.1,91.2 464,71.2 465.9,38.4 467.7,84.7 469.6,69.5 471.5,77.2 473.3,77.2 475.2,77.5 477.1,73.9 478.9,63.8 480.8,83.5 482.7,66.7 484.5,81.9 486.4,66 488.3,68.5 490.1,82.2 492,70.3 493.9,81.3 495.8,82.5 497.6,56.7 499.5,94.6 501.4,64.2 503.2,62.1 505.1,78.5 507,56.9 508.8,59 510.7,87 512.6,63.6 514.4,64.2 516.3,79.4 518.2,62.5 520,60.1 521.9,78.7 523.8,94.9 525.6,64.2 527.5,78.7 529.4,91.1 531.2,73.9 533.1,99.4 535,73.2 536.8,49.5 538.7,105.1 540.6,62.7 542.4,80.3 544.3,73.6 546.2,80 548,60 549.9,68.2"/>
<polyline points="389.3,109.1 391.2,90.8 393.1,71.9 394.9,99.5 396.8,79.9 398.7,80.5 400.5,108.1 402.4,70.7 404.3,84.1 406.1,56.5 408,62 409.9,85.8 411.7,84.3 413.6,94.4 415.5,98.7 417.3,71.8 419.2,84.3 421.1,85.9 422.9,82.7 424.8,71.9 426.7,68.3 428.5,79.7 430.4,81.9 432.3,77.9 434.1,52.8 436,105 437.9,93.2 439.7,72.2 441.6,76.1 443.5,62.1 445.3,60.8 447.2,52 449.1,87.2 450.9,68.9 452.8,79.5 454.7,63.8 456.5,73.6 458.4,64.4 460.3,85 462.1,73.2 464,81.6 465.9,78.2 467.7,80.5 469.6,87.6 471.5,59.9 473.3,70.2 475.2,59.8 477.1,86.4 478.9,98.5 480.8,81.5 482.7,74.9 484.5,62.7 486.4,59 488.3,56.7 490.1,52.4 492,62.6 493.9,70.4 495.8,81.5 497.6,62.7 499.5,77.8 501.4,81.5 503.2,63.5 505.1,68 507,59.7 508.8,79.8 510.7,55.3 512.6,65.6 514.4,72.2 516.3,79.6 518.2,83.6 520,87.2 521.9,51.3 523.8,87.6 525.6,61 527.5,72.3 529.4,76.4 531.2,75 533.1,70.1 535,57 536.8,61.3 538.7,68.5 540.6,86.2 542.4,91.4 544.3,44 546.2,81.2 548,88.4 549.9,53.4"/>
<polyline points="389.3,96.3 391.2,74.6 393.1,82.4 394.9,73.6 396.8,101.5 398.7,99.2 400.5,86.5 402.4,83.9 404.3,84.6 406.1,77.6 408,92 409.9,108.8 411.7,77.4 413.6,84.9 415.5,71.7 417.3,55.7 419.2,80.2 421.1,73.6 422.9,91.7 424.8,68.9 426.7,75.7 428.5,76.5 430.4,67.8 432.3,93.5 434.1,71.7 436,72.8 437.9,58.1 439.7,101.3 441.6,79.1 443.5,49.6 445.3,82.7 447.2,82.8 449.1,54.1 450.9,44.6 452.8,75 454.7,85.4 456.5,83.6 458.4,80.8 460.3,86.3 462.1,85.6 464,72.8 465.9,74.4 467.7,68.5 469.6,74.1 471.5,89.8 473.3,64.6 475.2,70.7 477.1,81.1 478.9,76.9 480.8,69.1 482.7,72 484.5,74.5 486.4,62.8 488.3,58.7 490.1,76.3 492,72.3 493.9,86.2 495.8,73.9 497.6,65.4 499.5,60.3 501.4,69.1 503.2,72.2 505.1,80.2 507,68 508.8,84.7 510.7,68.8 512.6,70 514.4,81.8 516.3,65.7 518.2,72.5 520,61.9 521.9,75.7 523.8,63.1 525.6,49.1 527.5,66.9 529.4,58.9 531.2,77.3 533.1,73.5 535,93.2 536.8,70.7 538.7,83.2 540.6,67.1 542.4,95.1 544.3,79.5 546.2,67.2 548,63.1 549.9,89.5"/>
<polyline points="389.3,96.2 391.2,76.4 393.1,83.6 394.9,118 396.8,95.9 398.7,78.3 400.5,81.5 402.4,78.5 404.3,72.1 406.1,82.2 408,72.7 409.9,104.7 411.7,51.8 413.6,85.8 415.5,89.8 417.3,63 419.2,73.8 421.1,68.9 422.9,88.4 424.8,76.8 426.7,71.2 428.5,94.1 430.4,82.3 432.3,82.4 434.1,82.7 436,87.7 437.9,94.6 439.7,72.8 441.6,74.9 443.5,63.1 445.3,78.4 447.2,85.9 449.1,95.6 450.9,75.7 452.8,80.6 454.7,50.6 456.5,46.8 458.4,55.7 460.3,87.2 462.1,93.3 464,78.2 465.9,86.4 467.7,56.6 469.6,73.1 471.5,79.6 473.3,74.4 475.2,57.9 477.1,85.9 478.9,67.3 480.8,90.3 482.7,75.8 484.5,81.5 486.4,68.7 488.3,70.6 490.1,57 492,63.4 493.9,79.8 495.8,88.9 497.6,82.2 499.5,77.1 501.4,74.3 503.2,81 505.1,57.2 507,58.9 508.8,74.2 510.7,77 512.6,73.5 514.4,70.8 516.3,70.4 518.2,90.8 520,75.3 521.9,93.8 523.8,69.1 525.6,60.7 527.5,83 529.4,67.1 531.2,77.1 533.1,78 535,43.6 536.8,57.4 538.7,62.5 540.6,74.3 542.4,63.3 544.3,71 546.2,62.5 548,79.9 549.9,69.2"/>
<polyline points="389.3,94.8 391.2,65.9 393.1,75.9 394.9,94.7 396.8,102.6 398.7,93.4 400.5,94.5 402.4,91.5 404.3,102.1 406.1,93.6 408,82.4 409.9,77.9 411.7,106.9 413.6,82.3 415.5,94.2 417.3,94.6 419.2,85.4 421.1,89.6 422.9,72.1 424.8,71.7 426.7,84 428.5,88 430.4,57 432.3,55.7 434.1,74.2 436,80.9 437.9,65.8 439.7,59.9 441.6,84.9 443.5,54.8 445.3,79.7 447.2,63.4 449.1,83.8 450.9,76.1 452.8,82.5 454.7,76.1 456.5,63.1 458.4,87.5 460.3,79.6 462.1,68.5 464,81.3 465.9,48.9 467.7,93.8 469.6,42 471.5,83 473.3,61.7 475.2,53.2 477.1,67 478.9,91.9 480.8,77.8 482.7,72.4 484.5,65.7 486.4,60.1 488.3,58.1 490.1,53.4 492,84.6 493.9,59.3 495.8,94.6 497.6,69.9 499.5,85.5 501.4,94.6 503.2,59.4 505.1,71.5 507,58.1 508.8,91.4 510.7,86.5 512.6,71.8 514.4,79 516.3,69.2 518.2,78.1 520,74.3 521.9,84.6 523.8,52.8 525.6,73.7 527.5,84.8 529.4,60.4 531.2,62.9 533.1,66.3 535,66.1 536.8,74.1 538.7,70.6 540.6,97.7 542.4,89.1 544.3,84.7 546.2,64.7 548,52.4 549.9,70.4"/>
<polyline points="389.3,72.7 391.2,90.3 393.1,77.8 394.9,80.2 396.8,101.2 398.7,80.9 400.5,82 402.4,98.2 404.3,96.6 406.1,99.2 408,66.3 409.9,56.8 411.7,73.9 413.6,62.8 415.5,98.9 417.3,64.1 419.2,56.6 421.1,60.7 422.9,92.7 424.8,66.7 426.7,81.7 428.5,66.2 430.4,87.9 432.3,79.3 434.1,86.5 436,72.8 437.9,80 439.7,64 441.6,67.5 443.5,72.5 445.3,78.2 447.2,81.4 449.1,77.1 450.9,67.2 452.8,75 454.7,72.7 456.5,76.7 458.4,76.9 460.3,84.4 462.1,99.9 464,67.9 465.9,67.8 467.7,87.5 469.6,49.8 471.5,89.7 473.3,61.3 475.2,70.8 477.1,69.8 478.9,58.8 480.8,61.4 482.7,72.9 484.5,86.9 486.4,88.8 488.3,70.2 490.1,51.8 492,60.8 493.9,72.5 495.8,67.6 497.6,62.8 499.5,49.1 501.4,81.4 503.2,61.8 505.1,67.5 507,80.9 508.8,84.1 510.7,54 512.6,66.1 514.4,73.1 516.3,68.8 518.2,57.1 520,68.6 521.9,48.6 523.8,73 525.6,79.8 527.5,70.8 529.4,81.6 531.2,73.8 533.1,53 535,46.5 536.8,60.6 538.7,66.2 540.6,80.7 542.4,81.8 544.3,63.6 546.2,66.2 548,76 549.9,74.1"/>
<polyline points="389.3,91.2 391.2,85.3 393.1,82.9 394.9,69.8 396.8,80.6 398.7,81.8 400.5,103.7 402.4,104.9 404.3,107.4 406.1,111.4 408,83.4 409.9,78.8 411.7,93.5 413.6,76.8 415.5,76.4 417.3,82.7 419.2,100 421.1,62.8 422.9,63.3 424.8,87.8 426.7,55.4 428.5,79.3 430.4,89.7 432.3,84.7 434.1,103.1 436,83.4 437.9,99.5 439.7,63.7 441.6,74 443.5,96 445.3,70.2 447.2,99.8 449.1,75.1 450.9,70.7 452.8,75.8 454.7,91.1 456.5,77.6 458.4,78.3 460.3,74.9 462.1,56.1 464,53.2 465.9,54.4 467.7,83.2 469.6,84.5 471.5,74.2 473.3,68.6 475.2,101 477.1,81.9 478.9,50.2 480.8,89.7 482.7,82.9 484.5,82.3 486.4,66.5 488.3,73.5 490.1,76.7 492,92.2 493.9,64.1 495.8,71.9 497.6,80.5 499.5,71.3 501.4,61.1 503.2,90.7 505.1,91.5 507,84.4 508.8,82.3 510.7,110.8 512.6,78.4 514.4,55.7 516.3,74.5 518.2,56.6 520,107.7 521.9,71.2 523.8,51.3 525.6,48.8 527.5,76 529.4,80.2 531.2,64.2 533.1,85.2 535,73.9 536.8,91 538.7,67.8 540.6,68.7 542.4,47.2 544.3,63.9 546.2,77.2 548,69.6 549.9,85.4"/>
<polyline points="389.3,81.7 391.2,80.9 393.1,74.3 394.9,109.8 396.8,81.1 398.7,75.7 400.5,99.2 402.4,60.7 404.3,92.8 406.1,53 408,73.5 409.9,70.9 411.7,79.3 413.6,69.7 415.5,95.1 417.3,91.9 419.2,106.3 421.1,74.2 422.9,89.9 424.8,70.9 426.7,72.6 428.5,97.2 430.4,70.6 432.3,76.1 434.1,76.6 436,73 437.9,79.1 439.7,78.3 441.6,64.4 443.5,91 445.3,93.4 447.2,87.4 449.1,63.7 450.9,81.2 452.8,51.7 454.7,116.8 456.5,85.6 458.4,81.8 460.3,72.2 462.1,58 464,77.8 465.9,88.5 467.7,64 469.6,54.4 471.5,108.1 473.3,66.7 475.2,70.2 477.1,84.9 478.9,80 480.8,69.7 482.7,72.9 484.5,76.4 486.4,88.2 488.3,69 490.1,81.2 492,71.2 493.9,79.9 495.8,69.4 497.6,62 499.5,68.6 501.4,62.9 503.2,89.6 505.1,65.1 507,67.2 508.8,79.1 510.7,72.9 512.6,107.4 514.4,69.3 516.3,75.6 518.2,100 520,63.2 521.9,78.2 523.8,66 525.6,72.7 527.5,63.1 529.4,68.2 531.2,73.1 533.1,62.7 535,58.1 536.8,99 538.7,68.6 540.6,76.7 542.4,83.4 544.3,51.4 546.2,55.9 548,82.2 549.9,83.2"/>
<polyline points="389.3,113.1 391.2,90 393.1,109.7 394.9,87.1 396.8,71.3 398.7,90.5 400.5,86 402.4,62.7 404.3,73.1 406.1,66 408,75.5 409.9,68.1 411.7,103.6 413.6,92.7 415.5,103 417.3,53.8 419.2,79.2 421.1,82.8 422.9,90.6 424.8,93.6 426.7,116.3 428.5,51.2 430.4,80.9 432.3,78.7 434.1,97.5 436,79.8 437.9,73.9 439.7,79.6 441.6,70.3 443.5,89 445.3,73.6 447.2,65.9 449.1,70 450.9,72.1 452.8,78.2 454.7,89.5 456.5,69.1 458.4,81.2 460.3,88.2 462.1,65.6 464,96.5 465.9,82.5 467.7,64.9 469.6,62.4 471.5,79.5 473.3,73.6 475.2,67.1 477.1,74.9 478.9,83.9 480.8,67.9 482.7,71.3 484.5,71.8 486.4,58.4 488.3,68.8 490.1,78.6 492,70.3 493.9,46.8 495.8,81.5 497.6,75.4 499.5,82.3 501.4,67 503.2,88 505.1,65.4 507,61.1 508.8,81.1 510.7,82 512.6,90.2 514.4,69.9 516.3,85 518.2,78.4 520,75.5 521.9,78.9 523.8,58.7 525.6,48.6 527.5,97.6 529.4,80.1 531.2,66 533.1,83.1 535,76.2 536.8,66.3 538.7,50.6 540.6,53.4 542.4,72.6 544.3,67 546.2,73.4 548,70.8 549.9,83.9"/>
<polyline points="389.3,93.2 391.2,74.2 393.1,76.5 394.9,108.2 396.8,87.5 398.7,92.5 400.5,81 402.4,97.8 404.3,72.7 406.1,86.2 408,76.2 409.9,72.1 411.7,107 413.6,85.2 415.5,63.1 417.3,81.6 419.2,68.3 421.1,75.9 422.9,87.3 424.8,77 426.7,66.8 428.5,63.4 430.4,61.1 432.3,93.8 434.1,68.5 436,96.9 437.9,80.5 439.7,81.2 441.6,70.1 443.5,73.9 445.3,61.5 447.2,85.5 449.1,66.3 450.9,71.9 452.8,76.8 454.7,92.2 456.5,68.9 458.4,71.9 460.3,65.5 462.1,76.1 464,78.7 465.9,70.1 467.7,68.9 469.6,65.8 471.5,49.8 473.3,82.4 475.2,48 477.1,112.7 478.9,61.2 480.8,84.3 482.7,47.1 484.5,84.8 486.4,59.1 488.3,85.7 490.1,87.4 492,61.9 493.9,60.8 495.8,81.2 497.6,40.4 499.5,75.9 501.4,51.1 503.2,84.7 505.1,83.8 507,69.9 508.8,84.2 510.7,64.7 512.6,98.7 514.4,68.1 516.3,77.6 518.2,82.7 520,67.1 521.9,72.7 523.8,75.6 525.6,58.9 527.5,65.6 529.4,64.4 531.2,51.8 533.1,70.1 535,58.1 536.8,74.5 538.7,60.9 540.6,61.9 542.4,75.9 544.3,88.6 546.2,85.4 548,80.8 549.9,61"/>
<polyline points="389.3,94.6 391.2,80.3 393.1,76.9 394.9,68.5 396.8,92.4 398.7,78.1 400.5,75.9 402.4,95.9 404.3,82.4 406.1,94.9 408,86.1 409.9,77.8 411.7,103.9 413.6,93.3 415.5,92.2 417.3,80.6 419.2,90.8 421.1,76.5 422.9,91.7 424.8,87.1 426.7,72.6 428.5,75.9 430.4,77.8 432.3,80 434.1,66.3 436,61.2 437.9,83.5 439.7,87.9 441.6,91.7 443.5,55.5 445.3,89.4 447.2,94.7 449.1,73.8 450.9,63.4 452.8,92.8 454.7,78.1 456.5,94.9 458.4,85.1 460.3,54.6 462.1,73.4 464,78.8 465.9,74.2 467.7,71.3 469.6,76.1 471.5,90 473.3,89.7 475.2,48 477.1,83.9 478.9,58.2 480.8,82.9 482.7,56.4 484.5,64.1 486.4,75.7 488.3,46.5 490.1,84.7 492,75.4 493.9,83.4 495.8,82.2 497.6,76.6 499.5,84.2 501.4,75.8 503.2,50.7 505.1,93.9 507,87.4 508.8,83.3 510.7,76.8 512.6,57.3 514.4,61 516.3,64 518.2,67.4 520,38.6 521.9,84.5 523.8,84.7 525.6,69.9 527.5,66.8 529.4,72.5 531.2,80.3 533.1,86.3 535,72.7 536.8,78.3 538.7,75.2 540.6,83 542.4,51.1 544.3,62.7 546.2,44.2 548,75.2 549.9,67.6"/>
<polyline points="389.3,96.6 391.2,89.1 393.1,87.7 394.9,109.2 396.8,88.4 398.7,76.4 400.5,108.3 402.4,88.5 404.3,76.9 406.1,68 408,84.3 409.9,77.3 411.7,60.9 413.6,66.2 415.5,87.7 417.3,89.3 419.2,68.7 421.1,78.4 422.9,87.7 424.8,83.5 426.7,76.2 428.5,82.5 430.4,83 432.3,82.5 434.1,98.4 436,56.6 437.9,62.9 439.7,58.9 441.6,80 443.5,76.4 445.3,70.3 447.2,66.9 449.1,100.9 450.9,72.4 452.8,89.7 454.7,77.4 456.5,84.8 458.4,53.9 460.3,68.8 462.1,75.9 464,57.3 465.9,76.1 467.7,84.4 469.6,77.2 471.5,79.3 473.3,73.7 475.2,63.2 477.1,75.5 478.9,74.6 480.8,60.4 482.7,69.6 484.5,60.8 486.4,71.2 488.3,89.7 490.1,87.1 492,93.9 493.9,57.4 495.8,66.6 497.6,78 499.5,84.6 501.4,66.8 503.2,73.1 505.1,67 507,82 508.8,85.3 510.7,50.2 512.6,83 514.4,70.7 516.3,52.8 518.2,94 520,60.7 521.9,68.8 523.8,71.5 525.6,66 527.5,84.9 529.4,98.4 531.2,44.6 533.1,72.9 535,57.4 536.8,54.5 538.7,65.1 540.6,62.8 542.4,59.4 544.3,48 546.2,62.1 548,51.9 549.9,72.1"/>
<polyline points="389.3,101.4 391.2,81.2 393.1,79.2 394.9,61.9 396.8,74.9 398.7,84 400.5,60.3 402.4,80.1 404.3,79.5 406.1,77.5 408,87.3 409.9,96.4 411.7,81 413.6,86.2 415.5,92.8 417.3,80.2 419.2,83.9 421.1,88.6 422.9,103.2 424.8,82.6 426.7,57.9 428.5,68.6 430.4,65.9 432.3,79.7 434.1,65.6 436,87.6 437.9,84.6 439.7,71.7 441.6,96.6 443.5,77.2 445.3,73.8 447.2,55.7 449.1,86.2 450.9,71.5 452.8,85.1 454.7,83.5 456.5,111.1 458.4,88.1 460.3,60.8 462.1,68.8 464,73.3 465.9,43.2 467.7,67.9 469.6,90.7 471.5,77.1 473.3,75 475.2,53.3 477.1,85.5 478.9,68.2 480.8,60.8 482.7,83.7 484.5,71.9 486.4,98.9 488.3,71.4 490.1,101 492,77.3 493.9,49.8 495.8,66.6 497.6,71.1 499.5,69.6 501.4,43.4 503.2,64.1 505.1,57.6 507,76.6 508.8,76.4 510.7,84.2 512.6,72.7 514.4,79.4 516.3,57.3 518.2,61.6 520,71.3 521.9,76.7 523.8,107.2 525.6,77.2 527.5,65.4 529.4,60.7 531.2,109.4 533.1,100.4 535,66.9 536.8,82.4 538.7,71.6 540.6,74.9 542.4,60.9 544.3,92.8 546.2,75.9 548,56 549.9,65.5"/>
<polyline points="389.3,102.8 391.2,82.5 393.1,96.3 394.9,77 396.8,76.9 398.7,86.3 400.5,73 402.4,98.4 404.3,74.5 406.1,85.9 408,94.7 409.9,90.2 411.7,68.2 413.6,89.2 415.5,86.3 417.3,89.9 419.2,91.3 421.1,69 422.9,52.9 424.8,63.6 426.7,73.8 428.5,70.3 430.4,84 432.3,85.7 434.1,94.2 436,60.4 437.9,83 439.7,87.6 441.6,86.3 443.5,75.4 445.3,84.7 447.2,77.2 449.1,75 450.9,59.6 452.8,92.7 454.7,72.6 456.5,85.1 458.4,81.4 460.3,54.8 462.1,67.4 464,80.3 465.9,68.7 467.7,75.1 469.6,60.3 471.5,80.7 473.3,67.9 475.2,76.7 477.1,73.7 478.9,75.6 480.8,81.4 482.7,71.8 484.5,60.3 486.4,80.6 488.3,77.6 490.1,67.6 492,82 493.9,60.8 495.8,62.7 497.6,101.5 499.5,80 501.4,85.4 503.2,60.5 505.1,58.9 507,86.4 508.8,79.6 510.7,71.6 512.6,75.2 514.4,60.9 516.3,57.4 518.2,62.2 520,55.6 521.9,57.4 523.8,70.4 525.6,75 527.5,78.9 529.4,58.5 531.2,57.5 533.1,55.8 535,73.2 536.8,73.9 538.7,65.3 540.6,52.3 542.4,63.9 544.3,65.5 546.2,79.1 548,62.5 549.9,61.1"/>
<polyline points="389.3,113.6 391.2,96.8 393.1,74.4 394.9,87.7 396.8,83 398.7,94.1 400.5,91.1 402.4,75.5 404.3,86.1 406.1,87.6 408,72.2 409.9,74 411.7,80.5 413.6,79.3 415.5,60.5 417.3,83.7 419.2,76.4 421.1,75.6 422.9,98.2 424.8,104.7 426.7,78.5 428.5,68.8 430.4,76.9 432.3,86 434.1,87.4 436,68.4 437.9,82.3 439.7,98.9 441.6,69.3 443.5,74.7 445.3,72.6 447.2,63.9 449.1,60 450.9,69.6 452.8,78.8 454.7,103.5 456.5,72.3 458.4,77.7 460.3,58.6 462.1,58.9 464,69 465.9,57.3 467.7,75.7 469.6,75.1 471.5,85.2 473.3,78.2 475.2,71.2 477.1,60.1 478.9,83 480.8,63 482.7,42.9 484.5,90.3 486.4,76.1 488.3,72.3 490.1,59.3 492,46.5 493.9,56.1 495.8,72.3 497.6,82.6 499.5,72.2 501.4,71.8 503.2,68 505.1,82.6 507,51.1 508.8,80 510.7,61.7 512.6,67.6 514.4,84.4 516.3,69.2 518.2,69.6 520,72.1 521.9,59.1 523.8,75.6 525.6,36.3 527.5,54.6 529.4,81.1 531.2,101.4 533.1,52.7 535,65.6 536.8,67.8 538.7,81.4 540.6,87.4 542.4,92.8 544.3,35 546.2,47.5 548,75.5 549.9,43.7"/>
<polyline points="389.3,101.4 391.2,77.4 393.1,95.9 394.9,90.8 396.8,97.6 398.7,84.2 400.5,68.4 402.4,72 404.3,78.7 406.1,69.8 408,105.1 409.9,57.9 411.7,83.2 413.6,98.6 415.5,86.7 417.3,89.8 419.2,80.2 421.1,77.1 422.9,110.2 424.8,64.5 426.7,58.2 428.5,93.1 430.4,60.8 432.3,63.3 434.1,66.1 436,57.9 437.9,96.6 439.7,69 441.6,91.3 443.5,47.2 445.3,90.3 447.2,93.3 449.1,62.6 450.9,68.9 452.8,76.3 454.7,74.7 456.5,68.2 458.4,53.5 460.3,85 462.1,82.8 464,82.8 465.9,76.1 467.7,74.7 469.6,91.5 471.5,70.5 473.3,90.8 475.2,78.1 477.1,77.1 478.9,76.9 480.8,54.1 482.7,51.9 484.5,59 486.4,52.2 488.3,76.4 490.1,54 492,73 493.9,69.2 495.8,68.4 497.6,89.3 499.5,79.6 501.4,73.6 503.2,66.5 505.1,72.8 507,82.2 508.8,86 510.7,70.5 512.6,86 514.4,85.8 516.3,71.5 518.2,67.7 520,80.8 521.9,93.1 523.8,65.8 525.6,58.7 527.5,74.8 529.4,74.3 531.2,99.8 533.1,57.2 535,83.5 536.8,59.5 538.7,76.6 540.6,70.6 542.4,71.2 544.3,92.3 546.2,32.2 548,89 549.9,66.9"/>
<polyline points="389.3,86 391.2,69.3 393.1,108.3 394.9,87.1 396.8,79.1 398.7,83.3 400.5,79.6 402.4,93.4 404.3,104.1 406.1,99.8 408,88.4 409.9,73.7 411.7,81.7 413.6,62.2 415.5,80.8 417.3,79.3 419.2,78.9 421.1,103.1 422.9,73.5 424.8,94.7 426.7,85.1 428.5,49.8 430.4,95.6 432.3,77.9 434.1,75.4 436,77.3 437.9,78.7 439.7,85.7 441.6,52.2 443.5,104.1 445.3,91.1 447.2,58.1 449.1,70.1 450.9,87 452.8,88.5 454.7,79.7 456.5,41.8 458.4,69.6 460.3,89.2 462.1,72.4 464,83.5 465.9,55.5 467.7,71.1 469.6,58.2 471.5,72.4 473.3,47.6 475.2,68.7 477.1,70.2 478.9,87.1 480.8,79 482.7,68.2 484.5,79.6 486.4,40.3 488.3,72.8 490.1,82.5 492,59.4 493.9,79.1 495.8,66.7 497.6,73.1 499.5,81.1 501.4,53.3 503.2,70.1 505.1,56.9 507,75.5 508.8,89.6 510.7,87 512.6,77.3 514.4,72.8 516.3,69.5 518.2,63.3 520,86.2 521.9,66.7 523.8,85.7 525.6,78.5 527.5,35.6 529.4,52.5 531.2,74 533.1,45.5 535,50.3 536.8,57.2 538.7,49.5 540.6,72 542.4,70.3 544.3,79.9 546.2,60.8 548,85 549.9,75"/>
<polyline points="389.3,72.2 391.2,81.8 393.1,63.5 394.9,97.4 396.8,67.9 398.7,93.1 400.5,96 402.4,81.4 404.3,71.2 406.1,92.4 408,92.3 409.9,88.4 411.7,91.7 413.6,80 415.5,91 417.3,85 419.2,77 421.1,86.4 422.9,66.2 424.8,89.2 426.7,90.1 428.5,53.8 430.4,60.3 432.3,78.5 434.1,68.4 436,74.5 437.9,85.4 439.7,69.7 441.6,74.2 443.5,61.3 445.3,101.8 447.2,67 449.1,75.1 450.9,85.9 452.8,82.3 454.7,81.8 456.5,93.5 458.4,83.5 460.3,65.5 462.1,95.4 464,80.3 465.9,106.1 467.7,82.5 469.6,69.6 471.5,75.2 473.3,73.7 475.2,88.8 477.1,66.5 478.9,85.5 480.8,61.6 482.7,70.5 484.5,78.1 486.4,53.4 488.3,77.9 490.1,59.1 492,71 493.9,72.2 495.8,58.9 497.6,66.1 499.5,71.8 501.4,73.1 503.2,68.6 505.1,70 507,75.3 508.8,84.5 510.7,104.7 512.6,72 514.4,73.5 516.3,54.2 518.2,64.1 520,54.8 521.9,46.8 523.8,71 525.6,80.6 527.5,58.6 529.4,77.2 531.2,72.6 533.1,50.2 535,61.7 536.8,54.5 538.7,86.6 540.6,68.3 542.4,53.9 544.3,85.5 546.2,65.8 548,63 549.9,98.7"/>
<polyline points="389.3,76.1 391.2,87.6 393.1,65.3 394.9,107.1 396.8,79.4 398.7,90.2 400.5,83.9 402.4,94.2 404.3,67 406.1,97.4 408,78.7 409.9,76.2 411.7,83.8 413.6,85.8 415.5,85.4 417.3,68.8 419.2,75.7 421.1,82.1 422.9,94.7 424.8,78.5 426.7,73.4 428.5,80.3 430.4,61.1 432.3,104.1 434.1,46.8 436,81.3 437.9,93.5 439.7,101.2 441.6,66.9 443.5,70.5 445.3,80.5 447.2,78.1 449.1,75 450.9,82.5 452.8,61.6 454.7,68.3 456.5,77.8 458.4,97.4 460.3,57.8 462.1,81.7 464,88.8 465.9,58.2 467.7,68.4 469.6,101 471.5,96.2 473.3,79.5 475.2,90.5 477.1,75.9 478.9,39.4 480.8,34.4 482.7,73.8 484.5,62.5 486.4,61.1 488.3,74.2 490.1,91.8 492,58.1 493.9,74.4 495.8,65.9 497.6,62.4 499.5,82.2 501.4,49.2 503.2,70.2 505.1,68.1 507,76.6 508.8,61.4 510.7,57.3 512.6,77.7 514.4,62.5 516.3,75.8 518.2,86.1 520,74.1 521.9,61.5 523.8,62.2 525.6,55.1 527.5,78.2 529.4,73.2 531.2,68.1 533.1,60.8 535,70.5 536.8,81.4 538.7,89.2 540.6,53 542.4,54.4 544.3,77.2 546.2,48.8 548,69.1 549.9,62.1"/>
<polyline points="389.3,87.9 391.2,95.2 393.1,106.7 394.9,81.5 396.8,79.4 398.7,74 400.5,76.9 402.4,82.7 404.3,69.5 406.1,96.1 408,78.2 409.9,76.4 411.7,84 413.6,60.4 415.5,76.3 417.3,64.5 419.2,69.9 421.1,83.2 422.9,55.9 424.8,66.1 426.7,79.8 428.5,81.3 430.4,92.9 432.3,81.2 434.1,82.1 436,76 437.9,84 439.7,70.8 441.6,79.1 443.5,98.4 445.3,84.1 447.2,89 449.1,93.7 450.9,80.1 452.8,64.5 454.7,90.9 456.5,102.3 458.4,77.9 460.3,36.3 462.1,83.1 464,71.5 465.9,80.3 467.7,63.4 469.6,55.6 471.5,76.4 473.3,58.5 475.2,88.1 477.1,70.9 478.9,90.2 480.8,70.8 482.7,81.1 484.5,69.7 486.4,87.4 488.3,69.4 490.1,70.7 492,79.6 493.9,82.5 495.8,87.4 497.6,76.8 499.5,66.1 501.4,73 503.2,69 505.1,54.2 507,75 508.8,66.7 510.7,59.4 512.6,63.4 514.4,64.9 516.3,68.8 518.2,44.2 520,70.6 521.9,74.5 523.8,61.5 525.6,47.6 527.5,50.4 529.4,68.6 531.2,57.9 533.1,62.2 535,67.7 536.8,60 538.7,60.3 540.6,66.6 542.4,45.5 544.3,73.2 546.2,49.7 548,40.2 549.9,39.9"/>
<polyline points="389.3,83.3 391.2,105.1 393.1,86.1 394.9,55.2 396.8,104 398.7,103.5 400.5,73.8 402.4,76.2 404.3,106.2 406.1,84 408,78.7 409.9,101.6 411.7,70.3 413.6,98.7 415.5,67.4 417.3,78.9 419.2,90 421.1,101.3 422.9,84.9 424.8,81.4 426.7,81.6 428.5,87.3 430.4,82.1 432.3,67.8 434.1,90.7 436,81.4 437.9,72.4 439.7,78.4 441.6,66.6 443.5,57.3 445.3,82 447.2,74.3 449.1,115.4 450.9,81.2 452.8,67.7 454.7,90.9 456.5,58.5 458.4,100.4 460.3,57.8 462.1,82 464,88.5 465.9,81.2 467.7,78.2 469.6,87.8 471.5,92.4 473.3,80.9 475.2,61.4 477.1,68.3 478.9,55.8 480.8,81.3 482.7,77.7 484.5,77.3 486.4,70.8 488.3,66.4 490.1,49.1 492,62.8 493.9,69.8 495.8,53.9 497.6,81.9 499.5,88.8 501.4,62.5 503.2,68.9 505.1,69.4 507,58.5 508.8,75.1 510.7,72 512.6,65.3 514.4,61.6 516.3,57 518.2,68.3 520,66.2 521.9,101.5 523.8,53.3 525.6,90.1 527.5,69.8 529.4,35.6 531.2,73.4 533.1,89.9 535,47.6 536.8,76.1 538.7,70.9 540.6,70.8 542.4,58.8 544.3,58.1 546.2,70 548,53.5 549.9,80.1"/>
<polyline points="389.3,84.1 391.2,77.4 393.1,93.7 394.9,90.6 396.8,66.9 398.7,98.4 400.5,98.8 402.4,77 404.3,87.1 406.1,88.8 408,84.9 409.9,56.4 411.7,95.5 413.6,85.7 415.5,79.9 417.3,93.5 419.2,81.8 421.1,74.9 422.9,92.4 424.8,66.2 426.7,94.8 428.5,81.7 430.4,75.3 432.3,38.2 434.1,101.8 436,75.2 437.9,45.8 439.7,86.2 441.6,63.9 443.5,75.1 445.3,96.3 447.2,72.3 449.1,88.8 450.9,75.8 452.8,96.3 454.7,66.9 456.5,107.8 458.4,78.2 460.3,58.9 462.1,68.8 464,79.9 465.9,78.2 467.7,80.5 469.6,39.1 471.5,75.2 473.3,74.5 475.2,83.7 477.1,80.1 478.9,65.7 480.8,81.5 482.7,83.9 484.5,80.3 486.4,77.5 488.3,70.4 490.1,78.8 492,74.8 493.9,82 495.8,55.8 497.6,70.6 499.5,75.8 501.4,67.7 503.2,71.9 505.1,91.8 507,73.4 508.8,49.1 510.7,64 512.6,55 514.4,79.2 516.3,89.8 518.2,79.2 520,52.1 521.9,82.9 523.8,80.1 525.6,55 527.5,72.7 529.4,71.9 531.2,64.2 533.1,68 535,73.1 536.8,65.6 538.7,78.3 540.6,69.3 542.4,60 544.3,82.6 546.2,71.3 548,83.5 549.9,58.5"/>
<polyline points="389.3,121.1 391.2,73.5 393.1,73.3 394.9,76.7 396.8,94.6 398.7,73.3 400.5,95.7 402.4,55.4 404.3,80.3 406.1,76.2 408,98.6 409.9,69.6 411.7,68 413.6,102.1 415.5,89.1 417.3,87.7 419.2,89.7 421.1,63.6 422.9,53.3 424.8,94.2 426.7,66.8 428.5,83.3 430.4,62 432.3,111.1 434.1,84.8 436,63.2 437.9,88.6 439.7,63 441.6,84.9 443.5,63.1 445.3,70.1 447.2,83 449.1,87.2 450.9,79.2 452.8,61.6 454.7,76.6 456.5,85 458.4,32.6 460.3,96.4 462.1,78.5 464,68.3 465.9,88.9 467.7,75.1 469.6,80.3 471.5,94 473.3,68.4 475.2,89.1 477.1,83.8 478.9,57.6 480.8,88.2 482.7,65.4 484.5,57.6 486.4,59.9 488.3,66.6 490.1,75.6 492,90.8 493.9,70.3 495.8,66.2 497.6,78.6 499.5,84.7 501.4,60.2 503.2,85.3 505.1,65.5 507,77.4 508.8,93.1 510.7,49.6 512.6,62.6 514.4,63.3 516.3,89 518.2,71.9 520,66.3 521.9,79.7 523.8,48 525.6,96.4 527.5,60.3 529.4,94.5 531.2,90.2 533.1,86.3 535,61.8 536.8,78.7 538.7,78.1 540.6,81.1 542.4,88.6 544.3,80.9 546.2,82 548,73.1 549.9,73.8"/>
<polyline points="389.3,108.8 391.2,71.8 393.1,92 394.9,86.9 396.8,94.6 398.7,93.9 400.5,86.1 402.4,101.6 404.3,86.8 406.1,105.1 408,80 409.9,103.5 411.7,75.4 413.6,70.6 415.5,103.5 417.3,74.2 419.2,87.7 421.1,67.5 422.9,88.7 424.8,85.3 426.7,85.1 428.5,64.9 430.4,105.8 432.3,70.8 434.1,79.2 436,86.6 437.9,83.1 439.7,67.6 441.6,68.7 443.5,57.1 445.3,87.4 447.2,103.5 449.1,85.8 450.9,80.8 452.8,83.8 454.7,61.9 456.5,47.8 458.4,72.4 460.3,100.4 462.1,63.3 464,85.1 465.9,75.9 467.7,65.3 469.6,71.3 471.5,76.8 473.3,71.9 475.2,65.6 477.1,67.1 478.9,48 480.8,114.1 482.7,85 484.5,82.2 486.4,63.5 488.3,71.2 490.1,62.7 492,92.5 493.9,76.4 495.8,64.9 497.6,73.9 499.5,78.3 501.4,69.3 503.2,51.1 505.1,100.3 507,51.6 508.8,68.6 510.7,83.4 512.6,63.3 514.4,71.2 516.3,55.7 518.2,82.1 520,58.6 521.9,83.1 523.8,66.8 525.6,61.8 527.5,71.9 529.4,62.3 531.2,78.5 533.1,56.6 535,77.1 536.8,79.7 538.7,71.8 540.6,70.9 542.4,81.2 544.3,59.5 546.2,71.5 548,61.8 549.9,89.5"/>
<polyline points="389.3,90.5 391.2,99.3 393.1,88.6 394.9,79.9 396.8,72.8 398.7,68.1 400.5,76.1 402.4,94.2 404.3,78.4 406.1,91.4 408,77.8 409.9,97.4 411.7,67.2 413.6,78.5 415.5,87 417.3,100.2 419.2,79.2 421.1,89.2 422.9,79 424.8,91 426.7,88.5 428.5,73.3 430.4,62 432.3,97.1 434.1,83.1 436,75.2 437.9,82.1 439.7,85.5 441.6,51.3 443.5,90.3 445.3,74.4 447.2,85.2 449.1,79.8 450.9,108.1 452.8,66.5 454.7,80.6 456.5,90.2 458.4,55.6 460.3,80.7 462.1,84.9 464,87.7 465.9,62.5 467.7,75.9 469.6,80.1 471.5,93.2 473.3,87.5 475.2,70.9 477.1,75.5 478.9,101.4 480.8,86.3 482.7,71.7 484.5,39.3 486.4,84.1 488.3,103.2 490.1,63.8 492,79.9 493.9,90.8 495.8,65.9 497.6,76.2 499.5,85.7 501.4,90.1 503.2,74.3 505.1,71.4 507,95.7 508.8,59.2 510.7,88.7 512.6,53.4 514.4,67.3 516.3,74 518.2,66.9 520,79 521.9,71.9 523.8,49.2 525.6,78.4 527.5,60 529.4,82.5 531.2,70.8 533.1,57.8 535,86.2 536.8,65.9 538.7,98.6 540.6,85.2 542.4,75.5 544.3,58.3 546.2,60.4 548,81.8 549.9,71.4"/>
<polyline points="389.3,109.1 391.2,82.1 393.1,70.5 394.9,71.5 396.8,93.5 398.7,91 400.5,97.2 402.4,91.5 404.3,88.2 406.1,76.4 408,83.5 409.9,95.8 411.7,73.7 413.6,72.6 415.5,91 417.3,86.1 419.2,84 421.1,103.3 422.9,80.4 424.8,73.2 426.7,56.6 428.5,78.8 430.4,84.6 432.3,82.6 434.1,72.6 436,69.9 437.9,91.2 439.7,77.2 441.6,71 443.5,105.4 445.3,61.1 447.2,81.5 449.1,67.1 450.9,78.9 452.8,81.2 454.7,78.7 456.5,73.7 458.4,65.9 460.3,80.5 462.1,91.4 464,85.7 465.9,89.1 467.7,66.2 469.6,88.5 471.5,55.9 473.3,73.8 475.2,76.5 477.1,58 478.9,79.7 480.8,78.6 482.7,64.3 484.5,64.6 486.4,87.2 488.3,41.6 490.1,66.2 492,90 493.9,75.6 495.8,61 497.6,70.1 499.5,61.6 501.4,41.6 503.2,60.2 505.1,45.9 507,63.2 508.8,80.7 510.7,51.9 512.6,80.8 514.4,58.8 516.3,62.6 518.2,82.2 520,80.1 521.9,73 523.8,65.3 525.6,52.9 527.5,69.3 529.4,45.1 531.2,58.6 533.1,78.4 535,78 536.8,68.6 538.7,76.5 540.6,70.7 542.4,59.1 544.3,65.8 546.2,56.3 548,78.1 549.9,80.3"/>
<polyline points="389.3,98.5 391.2,91.9 393.1,85.4 394.9,88.3 396.8,85.5 398.7,60.2 400.5,98.3 402.4,88 404.3,90.4 406.1,95.3 408,66.9 409.9,83.8 411.7,67.4 413.6,96.9 415.5,58.9 417.3,53.6 419.2,92.9 421.1,81.7 422.9,82.9 424.8,73.8 426.7,97.3 428.5,74.3 430.4,70.7 432.3,87.5 434.1,108.9 436,88.1 437.9,84.2 439.7,68.8 441.6,86.6 443.5,93.3 445.3,70 447.2,72.9 449.1,68 450.9,76.7 452.8,63.2 454.7,70.1 456.5,99.8 458.4,73.7 460.3,65.9 462.1,75.3 464,56.5 465.9,81.4 467.7,66.1 469.6,91.1 471.5,74.8 473.3,81.8 475.2,87.5 477.1,91.3 478.9,71 480.8,68.1 482.7,81.9 484.5,89.6 486.4,84.6 488.3,63 490.1,88.5 492,57.6 493.9,94.3 495.8,68.6 497.6,63.3 499.5,55.9 501.4,77.4 503.2,81.6 505.1,90.1 507,59.3 508.8,72.7 510.7,76.9 512.6,76.2 514.4,67.2 516.3,70 518.2,54.7 520,98.4 521.9,58.8 523.8,76.8 525.6,70.7 527.5,73.7 529.4,70.6 531.2,59.4 533.1,66.4 535,88.2 536.8,70 538.7,70.3 540.6,64 542.4,68.3 544.3,69.8 546.2,55.1 548,82.9 549.9,39.6"/>
<polyline points="389.3,71.1 391.2,76.6 393.1,72.7 394.9,70.2 396.8,67.4 398.7,79 400.5,83.8 402.4,79.6 404.3,84 406.1,90.4 408,63.4 409.9,60.4 411.7,82.6 413.6,85.3 415.5,88.3 417.3,103 419.2,90.1 421.1,87.7 422.9,81.1 424.8,93.3 426.7,104.6 428.5,71.6 430.4,57.5 432.3,106.9 434.1,81 436,67.8 437.9,93.9 439.7,97.2 441.6,77.8 443.5,81 445.3,86 447.2,56 449.1,57.6 450.9,68.4 452.8,77.5 454.7,80.7 456.5,64.6 458.4,78.9 460.3,56.2 462.1,59.1 464,83.1 465.9,65 467.7,54.2 469.6,65.9 471.5,86.6 473.3,77.6 475.2,78.3 477.1,72 478.9,73 480.8,77.8 482.7,61.7 484.5,55 486.4,79.9 488.3,91.6 490.1,67.1 492,71.7 493.9,66.1 495.8,80.4 497.6,67.4 499.5,83 501.4,56.6 503.2,48.6 505.1,82.7 507,104.5 508.8,76.6 510.7,76.9 512.6,67.2 514.4,69.3 516.3,62.9 518.2,33.5 520,76.4 521.9,73.8 523.8,63.1 525.6,93 527.5,58.2 529.4,76.6 531.2,87.3 533.1,79.4 535,61.5 536.8,56.9 538.7,51.4 540.6,62 542.4,77.2 544.3,60.2 546.2,68.5 548,36.5 549.9,94.5"/>
<polyline points="389.3,84.6 391.2,80.1 393.1,85.8 394.9,91.2 396.8,95.8 398.7,102.8 400.5,58.4 402.4,71.5 404.3,74.4 406.1,77.9 408,106 409.9,85.3 411.7,80 413.6,66.6 415.5,93.5 417.3,77.1 419.2,83.2 421.1,79.5 422.9,89.5 424.8,74.7 426.7,77.9 428.5,102.6 430.4,62.7 432.3,49.7 434.1,89.2 436,62.6 437.9,90.1 439.7,84 441.6,53.9 443.5,73.9 445.3,56.5 447.2,72.2 449.1,62.6 450.9,77.7 452.8,56.5 454.7,51.6 456.5,65.8 458.4,81.8 460.3,79 462.1,86.3 464,65.8 465.9,66.7 467.7,82.5 469.6,61.1 471.5,80.5 473.3,48.9 475.2,61.7 477.1,51.4 478.9,81.4 480.8,84.9 482.7,95.5 484.5,62.9 486.4,85.9 488.3,53.3 490.1,68.9 492,60.6 493.9,87.2 495.8,78 497.6,67.6 499.5,60.2 501.4,86.6 503.2,65 505.1,80.2 507,58.5 508.8,72 510.7,72.8 512.6,63 514.4,53.3 516.3,71.5 518.2,52.1 520,81.1 521.9,64.1 523.8,82.5 525.6,64.9 527.5,79.6 529.4,67 531.2,59.2 533.1,80 535,90.3 536.8,69.4 538.7,60.2 540.6,63.9 542.4,78.8 544.3,55.8 546.2,70.5 548,56.5 549.9,78.1"/>
<polyline points="389.3,105.5 391.2,92.3 393.1,87.6 394.9,76.2 396.8,77.1 398.7,78.8 400.5,84.4 402.4,101.7 404.3,82.3 406.1,97.9 408,80.6 409.9,110.4 411.7,63.2 413.6,57 415.5,74.9 417.3,90.8 419.2,83.7 421.1,68.4 422.9,70.9 424.8,87.8 426.7,63.4 428.5,69.1 430.4,71.2 432.3,82.4 434.1,77.6 436,86.5 437.9,74.7 439.7,85.4 441.6,61.5 443.5,75.9 445.3,73.4 447.2,71.6 449.1,71.5 450.9,93.8 452.8,58.6 454.7,73.7 456.5,81.8 458.4,87 460.3,83 462.1,81.9 464,73.6 465.9,84.7 467.7,72 469.6,71.3 471.5,82 473.3,44.1 475.2,74.1 477.1,68.1 478.9,70.8 480.8,74.1 482.7,63.1 484.5,53.7 486.4,72.4 488.3,82.4 490.1,64 492,98.9 493.9,68.7 495.8,73.1 497.6,66.2 499.5,89.9 501.4,75.8 503.2,83.4 505.1,76.9 507,62.1 508.8,72.2 510.7,77.2 512.6,53.9 514.4,69 516.3,95.4 518.2,82.5 520,63.4 521.9,62.9 523.8,65.7 525.6,65.1 527.5,80.1 529.4,69.6 531.2,83.8 533.1,79.1 535,80.1 536.8,79.1 538.7,72.5 540.6,71 542.4,78.4 544.3,53.8 546.2,73.7 548,47.7 549.9,54.6"/>
<polyline points="389.3,113.6 391.2,102.2 393.1,67.9 394.9,81 396.8,96.6 398.7,110.9 400.5,89 402.4,100.3 404.3,70.2 406.1,98.5 408,85.9 409.9,76.7 411.7,82.3 413.6,79 415.5,85 417.3,72.6 419.2,93 421.1,73.9 422.9,95.9 424.8,78.2 426.7,94.6 428.5,82.5 430.4,72.2 432.3,63.7 434.1,102.2 436,88.8 437.9,91.2 439.7,62.9 441.6,89.4 443.5,69 445.3,84.4 447.2,96.1 449.1,75.9 450.9,91.7 452.8,67.4 454.7,65.9 456.5,59.2 458.4,89.2 460.3,55.6 462.1,63.2 464,98.6 465.9,46.7 467.7,53.3 469.6,88.3 471.5,70.4 473.3,91.8 475.2,76 477.1,71.7 478.9,65.9 480.8,84.3 482.7,73.8 484.5,85.3 486.4,68.1 488.3,64.3 490.1,71.7 492,57.6 493.9,62.5 495.8,67.3 497.6,56.9 499.5,87.9 501.4,72.1 503.2,94.5 505.1,71.6 507,77.3 508.8,60.3 510.7,76.6 512.6,79 514.4,71.8 516.3,72.1 518.2,63.5 520,81.4 521.9,89.4 523.8,90.5 525.6,54.7 527.5,86 529.4,75.5 531.2,83.8 533.1,57.8 535,76.6 536.8,53.1 538.7,78.2 540.6,65 542.4,58.9 544.3,56.1 546.2,84.2 548,73.3 549.9,69.5"/>
<polyline points="389.3,93.6 391.2,81.4 393.1,79.7 394.9,102.3 396.8,83 398.7,79.6 400.5,72.1 402.4,90.6 404.3,75.7 406.1,59.6 408,88.7 409.9,88.1 411.7,86.8 413.6,101 415.5,86.7 417.3,61.5 419.2,93.2 421.1,83.6 422.9,65.8 424.8,73.5 426.7,77.4 428.5,84.2 430.4,81.2 432.3,79.3 434.1,70.4 436,78 437.9,66.6 439.7,102.5 441.6,67.7 443.5,84.8 445.3,77.6 447.2,83 449.1,69 450.9,78.5 452.8,68.7 454.7,86.9 456.5,73.8 458.4,60.2 460.3,61.4 462.1,80.2 464,73.5 465.9,79.9 467.7,76.5 469.6,74.5 471.5,58.9 473.3,66.8 475.2,55.2 477.1,54 478.9,90.1 480.8,69.5 482.7,79 484.5,94 486.4,86.8 488.3,79.2 490.1,50.8 492,71.2 493.9,74.5 495.8,72.3 497.6,81.5 499.5,69.4 501.4,72.6 503.2,92.4 505.1,78 507,27.5 508.8,62.6 510.7,71.9 512.6,61.8 514.4,82.9 516.3,69 518.2,58.6 520,90.6 521.9,79.1 523.8,74.7 525.6,73.1 527.5,76 529.4,65.7 531.2,56 533.1,64.6 535,55.7 536.8,55.3 538.7,76.5 540.6,65.2 542.4,73.4 544.3,60 546.2,72.9 548,70.7 549.9,46.2"/>
<polyline points="389.3,97.8 391.2,84.5 393.1,82.1 394.9,91.3 396.8,84.1 398.7,72.4 400.5,90.6 402.4,86.3 404.3,92.3 406.1,79.4 408,84.7 409.9,94.1 411.7,84.4 413.6,59.8 415.5,102.9 417.3,98.7 419.2,77.1 421.1,98.2 422.9,56.4 424.8,99 426.7,96.4 428.5,86.2 430.4,65.9 432.3,69.2 434.1,71.8 436,75 437.9,62 439.7,101.4 441.6,74.5 443.5,59.6 445.3,91.2 447.2,73.2 449.1,61.5 450.9,60.9 452.8,78.3 454.7,52.6 456.5,69.6 458.4,62.2 460.3,89.2 462.1,85 464,84.9 465.9,52.4 467.7,104.5 469.6,98 471.5,64.2 473.3,72.3 475.2,111.7 477.1,78.8 478.9,77.4 480.8,57.9 482.7,97.6 484.5,79.7 486.4,59.1 488.3,62.8 490.1,84 492,75.8 493.9,90.8 495.8,54.4 497.6,77.1 499.5,55.2 501.4,61.1 503.2,82.4 505.1,72.8 507,62.5 508.8,65 510.7,50.9 512.6,56 514.4,65.9 516.3,61.1 518.2,78.8 520,77.2 521.9,61.7 523.8,65 525.6,83.4 527.5,70.1 529.4,79.3 531.2,76 533.1,52.3 535,80.8 536.8,77 538.7,61.3 540.6,67.5 542.4,66.2 544.3,86.7 546.2,68.5 548,72.8 549.9,78.3"/>
<polyline points="389.3,83.5 391.2,75.8 393.1,63.2 394.9,83.7 396.8,67.2 398.7,83.1 400.5,101.8 402.4,83.1 404.3,68.1 406.1,66.4 408,93.5 409.9,55.6 411.7,91.2 413.6,90.8 415.5,88 417.3,63.6 419.2,76.1 421.1,69.5 422.9,107.8 424.8,80.7 426.7,81.2 428.5,70.8 430.4,85 432.3,64 434.1,87.3 436,96 437.9,98.9 439.7,62 441.6,68.1 443.5,87.3 445.3,63.3 447.2,79.1 449.1,78.2 450.9,94.9 452.8,83.1 454.7,74.6 456.5,73.1 458.4,82.5 460.3,62.6 462.1,56.8 464,85 465.9,69.5 467.7,93.6 469.6,68.9 471.5,86.1 473.3,75.7 475.2,71.3 477.1,76.4 478.9,59.9 480.8,82.7 482.7,78.6 484.5,68.4 486.4,72.7 488.3,68.8 490.1,74.5 492,81.9 493.9,63.1 495.8,70.4 497.6,59.8 499.5,54.1 501.4,75.3 503.2,80.1 505.1,76.3 507,78.6 508.8,95.4 510.7,49.2 512.6,64.6 514.4,40.1 516.3,76.6 518.2,61.8 520,65.7 521.9,69.9 523.8,56.4 525.6,68.8 527.5,69.7 529.4,66.6 531.2,96.9 533.1,77.5 535,77.7 536.8,47.3 538.7,60.7 540.6,58.1 542.4,59.9 544.3,70.3 546.2,46.7 548,70.3 549.9,85.6"/>
<polyline points="389.3,84.4 391.2,84.1 393.1,80.7 394.9,73.4 396.8,66.4 398.7,77.2 400.5,63.9 402.4,80 404.3,58.2 406.1,99.3 408,71.2 409.9,78.8 411.7,80.5 413.6,97.1 415.5,68.3 417.3,83.4 419.2,92.8 421.1,88.1 422.9,82.9 424.8,78.5 426.7,90.6 428.5,90.5 430.4,73.8 432.3,79.5 434.1,53.9 436,83.4 437.9,68.6 439.7,55.8 441.6,79.9 443.5,64.8 445.3,73.1 447.2,76 449.1,56.3 450.9,88.6 452.8,83.5 454.7,97.9 456.5,77 458.4,62.8 460.3,78.1 462.1,64.4 464,84.1 465.9,60 467.7,75.6 469.6,79.9 471.5,53.1 473.3,73.7 475.2,66.1 477.1,71.6 478.9,64.1 480.8,71.2 482.7,87.6 484.5,68.8 486.4,66.1 488.3,67 490.1,74.6 492,48.7 493.9,80.6 495.8,69.7 497.6,68.4 499.5,84.5 501.4,85.7 503.2,62.2 505.1,61.9 507,68.5 508.8,90.3 510.7,73.6 512.6,66.7 514.4,61.7 516.3,54.4 518.2,63.5 520,56.9 521.9,47.9 523.8,98.4 525.6,56.2 527.5,74.2 529.4,62.5 531.2,65.8 533.1,81.3 535,79.7 536.8,62.7 538.7,70.4 540.6,58.7 542.4,72.8 544.3,40.6 546.2,71 548,41.4 549.9,77.2"/>
<polyline points="389.3,83.2 391.2,100.5 393.1,96.3 394.9,80 396.8,71 398.7,68.1 400.5,77.3 402.4,71.1 404.3,97 406.1,87.9 408,65.4 409.9,88.9 411.7,84.9 413.6,102.6 415.5,83.7 417.3,100.3 419.2,76.4 421.1,62.6 422.9,76.4 424.8,77.8 426.7,84.5 428.5,72.5 430.4,92.7 432.3,84.5 434.1,51.7 436,94.5 437.9,85.1 439.7,95.2 441.6,62.2 443.5,80.3 445.3,93 447.2,92.5 449.1,62.8 450.9,68 452.8,66.2 454.7,76.7 456.5,64.4 458.4,59 460.3,66.9 462.1,95.1 464,99.5 465.9,92.9 467.7,71.1 469.6,93 471.5,87.6 473.3,73.4 475.2,84.7 477.1,89.6 478.9,61.3 480.8,66.9 482.7,63 484.5,61.2 486.4,54.4 488.3,72.9 490.1,74.5 492,94.2 493.9,75 495.8,79.3 497.6,58.4 499.5,63 501.4,52.7 503.2,57.4 505.1,56 507,64.2 508.8,68.9 510.7,75.4 512.6,70.6 514.4,82.3 516.3,65.1 518.2,71 520,95.4 521.9,103.8 523.8,78.7 525.6,75.4 527.5,73.2 529.4,52.9 531.2,77.2 533.1,85.2 535,64.2 536.8,56.3 538.7,48 540.6,81.6 542.4,71.9 544.3,74 546.2,49.4 548,59.6 549.9,68"/>
<polyline points="389.3,85.9 391.2,88.4 393.1,86.1 394.9,91.3 396.8,88.1 398.7,80.7 400.5,81.7 402.4,66.8 404.3,73.7 406.1,84.5 408,109.5 409.9,100.8 411.7,88.8 413.6,87.1 415.5,98 417.3,86.5 419.2,80.3 421.1,89 422.9,82.8 424.8,81.9 426.7,89.1 428.5,90.8 430.4,81.5 432.3,76.4 434.1,92.4 436,104.6 437.9,90.9 439.7,72.5 441.6,98.6 443.5,66.8 445.3,85.3 447.2,76.2 449.1,87.2 450.9,70.1 452.8,76.5 454.7,72.2 456.5,100.9 458.4,67.4 460.3,97.1 462.1,80.1 464,69.3 465.9,77.9 467.7,69.1 469.6,73.1 471.5,73.8 473.3,84.8 475.2,62 477.1,60.3 478.9,80.8 480.8,85.1 482.7,71.2 484.5,83 486.4,71.6 488.3,63 490.1,64.7 492,54.4 493.9,66.9 495.8,85.4 497.6,82.9 499.5,65.5 501.4,48.2 503.2,76.2 505.1,83 507,54.1 508.8,72.9 510.7,62.5 512.6,57.5 514.4,83.1 516.3,75.1 518.2,77.4 520,63.7 521.9,62 523.8,76.3 525.6,63 527.5,92.1 529.4,65.5 531.2,65.4 533.1,69.6 535,87.6 536.8,70.7 538.7,82.7 540.6,51.2 542.4,72.8 544.3,71.7 546.2,70.4 548,62.2 549.9,67.8"/>
<polyline points="389.3,83.9 391.2,73.9 393.1,91.8 394.9,77.2 396.8,82.8 398.7,72.9 400.5,85.8 402.4,101.7 404.3,97.7 406.1,86.7 408,67.5 409.9,88.4 411.7,82.5 413.6,68 415.5,89.2 417.3,78.6 419.2,78.6 421.1,88.8 422.9,78.6 424.8,68.5 426.7,68.1 428.5,84.5 430.4,44.9 432.3,75.7 434.1,83.1 436,88.3 437.9,91.2 439.7,68.9 441.6,114 443.5,80.3 445.3,95 447.2,80.1 449.1,78.1 450.9,93.5 452.8,89.3 454.7,61.4 456.5,83.5 458.4,76.6 460.3,80.1 462.1,65.9 464,60.9 465.9,64.4 467.7,68.7 469.6,68.3 471.5,89.6 473.3,58.7 475.2,81.5 477.1,85.3 478.9,78.8 480.8,83.8 482.7,68.7 484.5,64.7 486.4,57.6 488.3,74.4 490.1,80.3 492,76.3 493.9,87.1 495.8,81.6 497.6,47.7 499.5,81.7 501.4,77.7 503.2,64.1 505.1,68.5 507,62.1 508.8,82.1 510.7,84.4 512.6,54.7 514.4,79.2 516.3,71.9 518.2,67.9 520,93.2 521.9,72.6 523.8,78.2 525.6,63.5 527.5,73.8 529.4,97.7 531.2,60 533.1,101.3 535,74.6 536.8,78.1 538.7,77 540.6,69.4 542.4,57.4 544.3,79.9 546.2,76.6 548,59.7 549.9,62.5"/>
<polyline points="389.3,111.8 391.2,89.2 393.1,91.7 394.9,91.3 396.8,75.2 398.7,68.1 400.5,62.1 402.4,96.7 404.3,87.1 406.1,84 408,85.7 409.9,96.7 411.7,57.5 413.6,65 415.5,84.5 417.3,87.6 419.2,82 421.1,96.1 422.9,85.4 424.8,71.7 426.7,60.8 428.5,69.7 430.4,64.4 432.3,92.8 434.1,119.2 436,62.6 437.9,76.9 439.7,79.9 441.6,58.2 443.5,90.3 445.3,90 447.2,87.1 449.1,57.8 450.9,65.8 452.8,99.2 454.7,56.5 456.5,76.5 458.4,71.2 460.3,85.8 462.1,52.8 464,70.4 465.9,59.3 467.7,87.8 469.6,66.6 471.5,73.9 473.3,77.6 475.2,84.7 477.1,83.1 478.9,88.7 480.8,82.2 482.7,74.1 484.5,66.3 486.4,92.8 488.3,86.1 490.1,80.6 492,93.2 493.9,76.2 495.8,75.8 497.6,74.7 499.5,67 501.4,60.2 503.2,61.8 505.1,68.2 507,64.1 508.8,81.3 510.7,82.9 512.6,62.9 514.4,63.8 516.3,43.2 518.2,73.3 520,82.7 521.9,66.5 523.8,75.7 525.6,81.2 527.5,52.8 529.4,45.7 531.2,65.1 533.1,77.8 535,66.3 536.8,70.1 538.7,86.8 540.6,58.8 542.4,64.8 544.3,53.3 546.2,75.9 548,69.1 549.9,70.2"/>
<polyline points="389.3,100.9 391.2,110.5 393.1,99.3 394.9,89.9 396.8,103.7 398.7,80.3 400.5,90.3 402.4,83.7 404.3,81.5 406.1,83.1 408,82.5 409.9,85.1 411.7,77.9 413.6,73 415.5,85.5 417.3,87.5 419.2,86.6 421.1,77.7 422.9,85.6 424.8,85.5 426.7,99 428.5,56.6 430.4,95.1 432.3,59 434.1,69.6 436,66.5 437.9,75.7 439.7,72.5 441.6,74.8 443.5,70.8 445.3,67.4 447.2,58.6 449.1,89.8 450.9,71 452.8,56.7 454.7,59.1 456.5,89.2 458.4,72.2 460.3,72.3 462.1,72.5 464,103.7 465.9,64.3 467.7,95.2 469.6,47.2 471.5,66.3 473.3,75.6 475.2,66.1 477.1,72.1 478.9,80.4 480.8,74.6 482.7,68.9 484.5,83.2 486.4,63.8 488.3,58.5 490.1,58.8 492,57.3 493.9,55.6 495.8,62.9 497.6,55.1 499.5,70.7 501.4,66.2 503.2,53.2 505.1,46.4 507,75.3 508.8,89.1 510.7,43.2 512.6,55.6 514.4,46.9 516.3,58.5 518.2,66.7 520,77.7 521.9,81.7 523.8,50.8 525.6,56.7 527.5,65.1 529.4,83.3 531.2,75.7 533.1,76.8 535,72.7 536.8,105.6 538.7,65.7 540.6,48.5 542.4,75.4 544.3,68 546.2,64.7 548,80.9 549.9,62.5"/>
<polyline points="389.3,96.8 391.2,82.8 393.1,86.1 394.9,84 396.8,95.8 398.7,75.9 400.5,97.2 402.4,73.8 404.3,89.4 406.1,97.6 408,84.1 409.9,95.5 411.7,88.9 413.6,83.9 415.5,72.2 417.3,71.7 419.2,75.3 421.1,84.4 422.9,99.5 424.8,83.1 426.7,84 428.5,81.3 430.4,86 432.3,85.8 434.1,68.8 436,95.6 437.9,78.3 439.7,62.2 441.6,87.7 443.5,90.2 445.3,80.3 447.2,81.6 449.1,73.6 450.9,59.5 452.8,78.1 454.7,69.1 456.5,83.4 458.4,82 460.3,71.7 462.1,83.8 464,59.8 465.9,80 467.7,76.7 469.6,87.8 471.5,79.8 473.3,86.9 475.2,80.1 477.1,96.4 478.9,73.6 480.8,50.9 482.7,97.1 484.5,50.6 486.4,74.2 488.3,61.1 490.1,85.2 492,46 493.9,85.8 495.8,72.8 497.6,51.6 499.5,87.9 501.4,101.4 503.2,72.1 505.1,80.9 507,83.4 508.8,82.4 510.7,89.4 512.6,52.2 514.4,54.4 516.3,87.6 518.2,71.2 520,75.6 521.9,55.2 523.8,80.3 525.6,48.3 527.5,69.2 529.4,79.4 531.2,70.2 533.1,76.6 535,39.5 536.8,66.9 538.7,75 540.6,67.4 542.4,49.3 544.3,81 546.2,90.3 548,51.1 549.9,60.1"/>
<polyline points="389.3,89.1 391.2,72.6 393.1,118.3 394.9,69.9 396.8,87.1 398.7,76.4 400.5,85 402.4,46.3 404.3,91.4 406.1,69.9 408,115.3 409.9,82.4 411.7,72.8 413.6,101.5 415.5,107.3 417.3,80.5 419.2,68.6 421.1,66.1 422.9,89.4 424.8,76.1 426.7,98.2 428.5,57.5 430.4,87 432.3,63 434.1,82.6 436,83.2 437.9,57.6 439.7,89.7 441.6,61.3 443.5,82.5 445.3,89.1 447.2,88.3 449.1,62.5 450.9,78 452.8,81.3 454.7,96.1 456.5,60.9 458.4,62.3 460.3,71.5 462.1,65.4 464,117.7 465.9,82.1 467.7,72.8 469.6,73.3 471.5,81.9 473.3,71.2 475.2,83.7 477.1,82.5 478.9,90 480.8,71.7 482.7,82.8 484.5,79.7 486.4,54.7 488.3,73.3 490.1,73 492,92.5 493.9,79 495.8,59.1 497.6,64.6 499.5,71 501.4,73.8 503.2,70.5 505.1,66 507,75.3 508.8,103.5 510.7,44.8 512.6,55.6 514.4,72.4 516.3,51.6 518.2,87.2 520,52.9 521.9,67.2 523.8,57.9 525.6,74.1 527.5,67.4 529.4,61.6 531.2,55.4 533.1,62.4 535,63.2 536.8,76.8 538.7,46.2 540.6,66 542.4,71.7 544.3,72.9 546.2,84.4 548,78.2 549.9,88.4"/>
<polyline points="389.3,83.5 391.2,83.3 393.1,100.9 394.9,90.5 396.8,92.9 398.7,72.6 400.5,102.8 402.4,102.9 404.3,68 406.1,79.1 408,102.8 409.9,66.2 411.7,64 413.6,68.1 415.5,108 417.3,80.3 419.2,92.4 421.1,84.5 422.9,101 424.8,58.4 426.7,89.1 428.5,76.4 430.4,69.4 432.3,71.5 434.1,73.9 436,84.1 437.9,75.9 439.7,81.4 441.6,107.9 443.5,65 445.3,85.9 447.2,84.3 449.1,82.6 450.9,95.1 452.8,92.6 454.7,100.1 456.5,70.2 458.4,60.6 460.3,74.8 462.1,90.6 464,58.3 465.9,79.4 467.7,95.8 469.6,99.4 471.5,72.2 473.3,55.5 475.2,79.2 477.1,82.3 478.9,77.4 480.8,84.7 482.7,80.5 484.5,69.9 486.4,82.5 488.3,60.5 490.1,85.4 492,63.1 493.9,67.7 495.8,77.1 497.6,75.8 499.5,76 501.4,49.5 503.2,82.1 505.1,55.6 507,57.8 508.8,75.4 510.7,49.5 512.6,101.9 514.4,67.2 516.3,68.6 518.2,69.9 520,58.9 521.9,75.1 523.8,72.1 525.6,54.5 527.5,71 529.4,83 531.2,61.8 533.1,70.3 535,76.6 536.8,61.8 538.7,79.1 540.6,81.8 542.4,72.2 544.3,71.2 546.2,67.9 548,84.4 549.9,45.7"/>
<polyline points="389.3,105.7 391.2,83.3 393.1,116.1 394.9,74.2 396.8,97.7 398.7,78.7 400.5,99.2 402.4,72.1 404.3,90.6 406.1,86.3 408,64.3 409.9,70.7 411.7,100 413.6,91.2 415.5,79.7 417.3,84.8 419.2,71.3 421.1,89.9 422.9,104.8 424.8,92.3 426.7,82.7 428.5,73 430.4,70.2 432.3,63.4 434.1,76.2 436,81.7 437.9,69.3 439.7,79.9 441.6,84.4 443.5,84.2 445.3,65.7 447.2,58.2 449.1,60.1 450.9,97.9 452.8,62.6 454.7,91.2 456.5,80.8 458.4,68.4 460.3,93.3 462.1,91.7 464,85.2 465.9,53.2 467.7,60.9 469.6,86.6 471.5,72.8 473.3,72.6 475.2,70.1 477.1,83.3 478.9,54.9 480.8,78.6 482.7,62.7 484.5,95.3 486.4,67.8 488.3,70.9 490.1,54.8 492,106.5 493.9,65 495.8,61.4 497.6,75.4 499.5,54.5 501.4,44 503.2,59.8 505.1,60.6 507,53.4 508.8,65.1 510.7,54.6 512.6,62.7 514.4,79.4 516.3,84.1 518.2,54.6 520,62 521.9,78.6 523.8,69.3 525.6,50.3 527.5,92.1 529.4,81.3 531.2,60.1 533.1,58.3 535,84.6 536.8,82.2 538.7,66.7 540.6,50.3 542.4,68.6 544.3,99.3 546.2,54.9 548,68.7 549.9,74.4"/>
<polyline points="389.3,93.3 391.2,82.8 393.1,80.8 394.9,81.2 396.8,79.8 398.7,74.6 400.5,63.5 402.4,97.3 404.3,84.9 406.1,89.2 408,62.4 409.9,86.6 411.7,102.9 413.6,82.8 415.5,91.3 417.3,91.2 419.2,87.2 421.1,97.8 422.9,105.5 424.8,55.7 426.7,81.9 428.5,92 430.4,71.7 432.3,62.3 434.1,101.9 436,84.8 437.9,75.1 439.7,89.5 441.6,72.4 443.5,94.2 445.3,86.5 447.2,79.1 449.1,71.7 450.9,76.5 452.8,85.7 454.7,81.4 456.5,104 458.4,48.2 460.3,81.2 462.1,79.5 464,71.9 465.9,67.7 467.7,70.5 469.6,83.7 471.5,96.3 473.3,76.7 475.2,84.7 477.1,81.3 478.9,73.8 480.8,70.4 482.7,56.4 484.5,75.1 486.4,95.7 488.3,65.1 490.1,60.4 492,94 493.9,64.3 495.8,69.6 497.6,79.1 499.5,69.5 501.4,66.5 503.2,63.7 505.1,56.2 507,71.3 508.8,71 510.7,39 512.6,84.7 514.4,74.1 516.3,75 518.2,60 520,55.4 521.9,87.2 523.8,53.5 525.6,85.3 527.5,35.1 529.4,78.3 531.2,54.8 533.1,72.8 535,59.8 536.8,79 538.7,67.2 540.6,68.6 542.4,67.6 544.3,58.2 546.2,74.4 548,72.8 549.9,85.8"/>
<polyline points="389.3,77.2 391.2,75.4 393.1,77.6 394.9,94.3 396.8,79.8 398.7,68.7 400.5,87.1 402.4,98.7 404.3,53.5 406.1,76.8 408,74.6 409.9,51.8 411.7,92.7 413.6,78.6 415.5,106 417.3,75.6 419.2,76.5 421.1,91.2 422.9,91.8 424.8,82.9 426.7,83.3 428.5,59.7 430.4,82.9 432.3,81.6 434.1,81.6 436,99.8 437.9,85.2 439.7,96.2 441.6,76.6 443.5,106.7 445.3,92.5 447.2,74.2 449.1,104.8 450.9,97.4 452.8,63.8 454.7,94 456.5,76.5 458.4,72.1 460.3,89.7 462.1,97.8 464,55.5 465.9,82.6 467.7,68.3 469.6,84.8 471.5,69.9 473.3,91.6 475.2,92.3 477.1,87.7 478.9,82.1 480.8,81.9 482.7,77.8 484.5,67.5 486.4,80.1 488.3,60.5 490.1,81.3 492,63.7 493.9,55.1 495.8,49.2 497.6,98.1 499.5,49.1 501.4,94.8 503.2,52.8 505.1,71.5 507,66.5 508.8,83.4 510.7,58.5 512.6,61.6 514.4,77.8 516.3,78.4 518.2,58.8 520,56.4 521.9,59.7 523.8,74.7 525.6,69.6 527.5,57.1 529.4,58.4 531.2,54.4 533.1,67.4 535,78.4 536.8,65.2 538.7,63 540.6,75.9 542.4,62.8 544.3,79.7 546.2,65.2 548,76.5 549.9,40.4"/>
<polyline points="389.3,81.8 391.2,102 393.1,100.7 394.9,77 396.8,87 398.7,81.1 400.5,103.9 402.4,102.8 404.3,82.5 406.1,86.2 408,99.9 409.9,93 411.7,72.9 413.6,87.9 415.5,74.9 417.3,61 419.2,77.3 421.1,79.6 422.9,88.5 424.8,65.1 426.7,98.8 428.5,94.1 430.4,80 432.3,98.6 434.1,66.6 436,87.2 437.9,71.9 439.7,82.6 441.6,81.6 443.5,77.9 445.3,103.4 447.2,91.8 449.1,83.5 450.9,48.1 452.8,66.2 454.7,67.1 456.5,89.9 458.4,64.4 460.3,59.6 462.1,65.8 464,41.1 465.9,92.9 467.7,89.1 469.6,78.3 471.5,87.4 473.3,73.7 475.2,67.4 477.1,74.2 478.9,72.5 480.8,68.3 482.7,63.3 484.5,81.9 486.4,81.8 488.3,57.2 490.1,77.1 492,83.4 493.9,68.6 495.8,76.7 497.6,70.4 499.5,72.6 501.4,63.3 503.2,59.5 505.1,82.2 507,87.1 508.8,50 510.7,79.8 512.6,91.1 514.4,95.5 516.3,70.8 518.2,78.7 520,94.1 521.9,82.3 523.8,83.7 525.6,56.6 527.5,66.5 529.4,69.7 531.2,86.2 533.1,71.7 535,60.5 536.8,67 538.7,55.1 540.6,67.9 542.4,59.7 544.3,62.7 546.2,76.2 548,50.9 549.9,63.7"/>
<polyline points="389.3,78.2 391.2,99.3 393.1,88.1 394.9,95.4 396.8,77.7 398.7,80 400.5,69.6 402.4,77.1 404.3,98 406.1,72 408,91.5 409.9,92.3 411.7,82.1 413.6,82.7 415.5,69.2 417.3,46.3 419.2,76.3 421.1,62.9 422.9,83.7 424.8,76.4 426.7,87.1 428.5,85.6 430.4,62.6 432.3,73.8 434.1,73.6 436,89.6 437.9,56.7 439.7,81 441.6,86.9 443.5,78.4 445.3,69.1 447.2,67.9 449.1,58.3 450.9,91 452.8,82.5 454.7,56.3 456.5,46.8 458.4,84.4 460.3,77.2 462.1,95.9 464,86.3 465.9,86.9 467.7,76.5 469.6,90.5 471.5,62.6 473.3,75.3 475.2,77.6 477.1,62.1 478.9,77.4 480.8,89.9 482.7,73.1 484.5,44.9 486.4,71.8 488.3,66 490.1,75.2 492,75.4 493.9,65.7 495.8,106.8 497.6,88.2 499.5,79.6 501.4,75.2 503.2,52.5 505.1,39.2 507,62.9 508.8,65.8 510.7,61.9 512.6,50.9 514.4,83.4 516.3,76.8 518.2,68.2 520,66.1 521.9,94.8 523.8,64.1 525.6,90.6 527.5,59.5 529.4,58.4 531.2,99.1 533.1,62.7 535,66.6 536.8,77.3 538.7,56.5 540.6,42.6 542.4,62.3 544.3,83.2 546.2,87.7 548,84 549.9,81.9"/>
<polyline points="389.3,83.6 391.2,86.5 393.1,75.3 394.9,85.3 396.8,84.8 398.7,95.2 400.5,92.3 402.4,84 404.3,98.5 406.1,63.2 408,81.9 409.9,90 411.7,70.7 413.6,95.8 415.5,69 417.3,80.9 419.2,57.9 421.1,88.3 422.9,86.1 424.8,91.5 426.7,96.4 428.5,76.9 430.4,93.5 432.3,75.5 434.1,87.7 436,65.5 437.9,112.1 439.7,73.3 441.6,77.8 443.5,78.2 445.3,86.2 447.2,55 449.1,82.8 450.9,71.7 452.8,80.4 454.7,81.4 456.5,75.3 458.4,67.4 460.3,90.5 462.1,81.9 464,93.9 465.9,70.2 467.7,86.3 469.6,84.7 471.5,66.3 473.3,74.7 475.2,69.1 477.1,76 478.9,68.6 480.8,72.6 482.7,88.1 484.5,70.6 486.4,77.7 488.3,76.1 490.1,69.1 492,79.8 493.9,86.3 495.8,56.8 497.6,48 499.5,76.5 501.4,56.8 503.2,66.6 505.1,79.9 507,82.2 508.8,74.8 510.7,76.6 512.6,75.2 514.4,72.3 516.3,85.3 518.2,59 520,85 521.9,84 523.8,57.7 525.6,59.8 527.5,50.6 529.4,67.8 531.2,78 533.1,54.4 535,70.6 536.8,70.9 538.7,80.3 540.6,63.7 542.4,100.1 544.3,61.9 546.2,95.1 548,57.2 549.9,89.1"/>
<polyline points="389.3,92.8 391.2,89.6 393.1,100.1 394.9,62 396.8,90.7 398.7,98.6 400.5,69.3 402.4,119.4 404.3,102.4 406.1,100.1 408,92.1 409.9,108.4 411.7,72.6 413.6,69.8 415.5,83 417.3,87.2 419.2,101.5 421.1,75.5 422.9,90 424.8,73 426.7,67.5 428.5,79.6 430.4,107.2 432.3,91.8 434.1,61.8 436,75.6 437.9,60.5 439.7,107.8 441.6,79.9 443.5,80.5 445.3,99.2 447.2,86.1 449.1,64.7 450.9,70.2 452.8,84 454.7,72.5 456.5,60.9 458.4,90.3 460.3,72.2 462.1,62.1 464,84.6 465.9,58.4 467.7,76.3 469.6,60.4 471.5,62.7 473.3,71.1 475.2,78.2 477.1,82.7 478.9,71.7 480.8,71 482.7,55.1 484.5,74.4 486.4,68.5 488.3,50.8 490.1,68.5 492,66.5 493.9,51.3 495.8,71 497.6,66.8 499.5,61.9 501.4,73.2 503.2,86.2 505.1,90.6 507,73.9 508.8,56.3 510.7,57.8 512.6,49.3 514.4,58.6 516.3,78.9 518.2,89.4 520,76.9 521.9,73.4 523.8,79.6 525.6,57.6 527.5,80.1 529.4,61.9 531.2,59.1 533.1,92.3 535,74.8 536.8,52.6 538.7,57.9 540.6,67.4 542.4,83.5 544.3,78.1 546.2,67.5 548,51.9 549.9,62"/>
<polyline points="389.3,76.8 391.2,76.8 393.1,107.1 394.9,97.6 396.8,84.9 398.7,70.2 400.5,71.4 402.4,94 404.3,83.8 406.1,93 408,88.3 409.9,81.4 411.7,87.4 413.6,89.6 415.5,96.9 417.3,102 419.2,84.1 421.1,78.9 422.9,73.2 424.8,91.2 426.7,89.7 428.5,64 430.4,74.6 432.3,68.3 434.1,86.8 436,88.5 437.9,93.9 439.7,65.8 441.6,93.3 443.5,100.8 445.3,87.7 447.2,61.2 449.1,77.1 450.9,74.2 452.8,75.5 454.7,77.3 456.5,78.7 458.4,94.5 460.3,54.3 462.1,77.8 464,59.8 465.9,95.8 467.7,68.1 469.6,90.4 471.5,91.7 473.3,71.1 475.2,60.9 477.1,56.3 478.9,56.6 480.8,77.3 482.7,63.3 484.5,81.2 486.4,80.2 488.3,69.8 490.1,74.3 492,61.5 493.9,96.4 495.8,57.4 497.6,79.7 499.5,52.6 501.4,56.8 503.2,86.7 505.1,72.1 507,62.4 508.8,81.5 510.7,80.7 512.6,74.8 514.4,60.8 516.3,58.5 518.2,75.8 520,59.2 521.9,50.6 523.8,57.8 525.6,79.4 527.5,80.7 529.4,65.8 531.2,58.7 533.1,63.7 535,74.3 536.8,81.4 538.7,52.4 540.6,70.9 542.4,44.4 544.3,83.8 546.2,73 548,77 549.9,44.2"/>
</g>
<polyline stroke="#000" stroke-width="2.2" points="141,130.1 142.9,124 144.7,121.9 146.6,120.5 148.5,137.7 150.3,107.5 152.2,124 154.1,104.7 155.9,108.8 157.8,93.7 159.7,102 161.5,130.1 163.4,125.3 165.3,104 167.1,114.3 169,130.8 170.9,115.7 172.7,121.2 174.6,107.5 176.5,125.8 178.3,124.5 180.2,102.5 182.1,95.6 183.9,115.5 185.8,114.8 187.7,112 189.5,123 191.4,116.2 193.3,124.5 195.1,130 197,102.5 198.9,110.7 200.7,131.3 202.6,90.1 204.5,120.3 206.3,128.6 208.2,116.2 210.1,112 211.9,103.8 213.8,111.4 215.7,123 217.5,109.3 219.4,98.4 221.3,134 223.1,124.5 225,122.4 226.9,119 228.7,114.8 230.6,119 232.5,97.7 234.3,108 236.2,120.3 238.1,124.5 239.9,110.7 241.8,125.8 243.7,113.5 245.5,99.7 247.4,90.1 249.3,104.3 251.1,114 253,108.5 254.9,80.3 256.7,115.3 258.6,116.7 260.5,112.6 262.4,122.2 264.2,115.3 266.1,114 268,122.2 269.8,107.1 271.7,105.7 273.6,103 275.4,93.4 277.3,101.6 279.2,90.6 281,96.1 282.9,124.9 284.8,101 286.6,89.7 288.5,95.2 290.4,103.5 292.2,106.2 294.1,110.3 296,114.5 297.8,122.7 299.7,94.5 301.6,102.1 303.4,98.7 305.3,110.3 307.2,122.7 309,99.3 310.9,91.1 312.8,100.7 314.6,109 316.5,104.8 318.4,99.3 320.2,92.5 322.1,100.7 324,102.1 325.8,104.8 327.7,96.6 329.6,93.2 331.4,106.2 333.3,124.1 335.2,94.5 337,102.1 338.9,98 340.8,106.2 342.6,98 344.5,88.4 346.4,87 348.2,84.2 350.1,102.1 352,107.6 353.8,95.2 355.7,98 357.6,84.2 359.4,81.1 361.3,94.8 363.2,103.1 365,91.4 366.9,77.7 368.8,93.5 370.6,88.7 372.5,104.5 374.4,92.1 376.3,88 378.1,83.8 380,88 381.9,96.2 383.7,110 385.6,92.1 387.5,83.2 389.3,89.3 391.2,83.2 393.1,97.5 394.9,73.4 396.8,84.4 398.7,74.8 400.5,69.3 402.4,65.8"/>
</g>
<g clip-path="url(#cb)" fill="none" stroke-linejoin="round">
<g stroke="#ffa07a" stroke-width="0.9">
<polyline points="268.4,253.3 167.5,264.4 133.9,274 117,262.6 107,259.3 100.2,250.2 95.4,265.3 91.8,303.1 89,250.4 86.8,274.1 84.9,283.3 83.4,268.3 82.1,273.5 81,282 80.1,262.5 79.2,280.5 78.5,282.8 77.8,267.9 77.2,276.9 76.7,269.4 76.2,270.9 75.8,264.6 75.4,360.1 75,277.7 74.7,280.9 74.4,274.9 74.1,304.1 73.8,272.3 73.6,312.5 73.3,262.4 73.1,294.7 72.9,272.4 72.7,297.8 72.5,279.3 72.4,285.6 72.2,317.4 72.1,283.2 71.9,265.1 71.8,288.9 71.6,332.2 71.5,284.6 71.4,279.2 71.3,276.7 71.2,282.4 71.1,334.9 71,270.3 70.9,273.5 70.8,293 70.7,319.1 70.6,281.3 70.6,260.7 70.5,269.6 70.4,284.2 70.3,266.7 70.3,281.1 70.2,269.5 70.1,303.7 70.1,339.5 70,296.5 70,282.6 69.9,274.4 69.9,263.9 69.8,320.7 69.8,301.9 69.7,301 69.7,268.6 69.6,267.5 69.6,279.8 69.5,288.1 69.5,283.2"/>
<polyline points="268.4,275.3 167.5,262.2 133.9,259.2 117,260.9 107,280.5 100.2,294.5 95.4,278.3 91.8,254.3 89,263.1 86.8,268.1 84.9,275.9 83.4,264.7 82.1,272.9 81,264.5 80.1,281 79.2,282.9 78.5,274.3 77.8,304 77.2,287 76.7,279.2 76.2,279.3 75.8,265.9 75.4,268.8 75,277.3 74.7,268.1 74.4,287.7 74.1,290.5 73.8,274.4 73.6,265.3 73.3,271.4 73.1,310.9 72.9,269.3 72.7,275.7 72.5,288.2 72.4,276.9 72.2,268.5 72.1,295.6 71.9,275.8 71.8,313.8 71.6,273 71.5,254.7 71.4,288.3 71.3,276.7 71.2,280 71.1,283 71,278.8 70.9,276.5 70.8,260.5 70.7,274.5 70.6,277.4 70.6,323.7 70.5,265.2 70.4,273.2 70.3,286.5 70.3,273.4 70.2,291.4 70.1,274.8 70.1,322.8 70,278.3 70,292 69.9,296.7 69.9,264.8 69.8,271.4 69.8,298.2 69.7,270 69.7,319.5 69.6,339.4 69.6,258.5 69.5,299.3 69.5,277.5"/>
<polyline points="268.4,256.8 167.5,268.4 133.9,281 117,275.6 107,254.1 100.2,277.7 95.4,256.4 91.8,277 89,283.5 86.8,276.7 84.9,260.2 83.4,275.6 82.1,266.4 81,286.4 80.1,276.9 79.2,278.9 78.5,284.8 77.8,272.8 77.2,256.5 76.7,268.4 76.2,301.9 75.8,268.1 75.4,267 75,284.1 74.7,292.8 74.4,296.9 74.1,267.8 73.8,283.8 73.6,273.5 73.3,289 73.1,287.1 72.9,262 72.7,314.1 72.5,260 72.4,276.6 72.2,261.5 72.1,317.4 71.9,270.7 71.8,295.2 71.6,285.7 71.5,262 71.4,274.9 71.3,281.7 71.2,270.1 71.1,263 71,272.1 70.9,267.6 70.8,283.4 70.7,316.8 70.6,271.8 70.6,291.3 70.5,284.2 70.4,296.6 70.3,269.3 70.3,310.4 70.2,276 70.1,282.5 70.1,299.9 70,303.4 70,269.5 69.9,287.3 69.9,285.9 69.8,288.8 69.8,276.5 69.7,277.4 69.7,270 69.6,269.7 69.6,273.3 69.5,272.1 69.5,313.7"/>
<polyline points="268.4,253.9 167.5,266.9 133.9,282.4 117,260.8 107,274.8 100.2,259 95.4,275.3 91.8,268.2 89,265.2 86.8,253.9 84.9,296.6 83.4,275.4 82.1,284.4 81,351.3 80.1,278.9 79.2,276.9 78.5,289.3 77.8,274.3 77.2,268.3 76.7,283.4 76.2,269.7 75.8,275.8 75.4,276 75,273.1 74.7,272.9 74.4,313.6 74.1,272 73.8,271.5 73.6,278.4 73.3,285.4 73.1,266 72.9,278.9 72.7,261.4 72.5,268.6 72.4,276.8 72.2,283 72.1,274.3 71.9,297.6 71.8,318.4 71.6,261.9 71.5,269.4 71.4,309.7 71.3,282.7 71.2,269.5 71.1,300.6 71,271.5 70.9,282.2 70.8,270.5 70.7,263.4 70.6,278.1 70.6,272 70.5,349.6 70.4,263.2 70.3,289.2 70.3,292.6 70.2,286.8 70.1,267.3 70.1,271.1 70,280.3 70,310.3 69.9,298.9 69.9,283.4 69.8,281.7 69.8,329.4 69.7,267.9 69.7,269.3 69.6,293.5 69.6,276.3 69.5,304 69.5,277.7"/>
<polyline points="268.4,251.5 167.5,266.2 133.9,258.6 117,260.8 107,303 100.2,271.6 95.4,266.8 91.8,260.7 89,293 86.8,269.6 84.9,268.1 83.4,293 82.1,277.3 81,284.2 80.1,288.1 79.2,293.6 78.5,262.8 77.8,286.7 77.2,292.1 76.7,267.1 76.2,286.6 75.8,278.1 75.4,283.9 75,314.1 74.7,260 74.4,324.1 74.1,283.6 73.8,296.9 73.6,273.1 73.3,293.3 73.1,275.5 72.9,309.3 72.7,285.2 72.5,278.8 72.4,260.6 72.2,261.6 72.1,301.4 71.9,267.9 71.8,286.3 71.6,294.1 71.5,259.8 71.4,257.3 71.3,273.8 71.2,283.7 71.1,288.1 71,276.1 70.9,290.3 70.8,287.8 70.7,254.6 70.6,274.7 70.6,285.6 70.5,288.8 70.4,259.3 70.3,275.2 70.3,286.1 70.2,289.3 70.1,294 70.1,260.2 70,255.3 70,270.1 69.9,299.9 69.9,268.6 69.8,274.4 69.8,265.2 69.7,351.1 69.7,326.6 69.6,287.6 69.6,328.8 69.5,279.4 69.5,275"/>
<polyline points="268.4,260.7 167.5,253.7 133.9,251.1 117,276.9 107,290.6 100.2,285.1 95.4,262.2 91.8,284.2 89,280.2 86.8,258.4 84.9,294.6 83.4,273.9 82.1,289.2 81,291.6 80.1,269.5 79.2,292.8 78.5,269.4 77.8,280.5 77.2,267.5 76.7,288.5 76.2,302 75.8,265.3 75.4,264.1 75,266.1 74.7,269.8 74.4,278.6 74.1,277.1 73.8,285 73.6,264 73.3,360.6 73.1,269 72.9,304.1 72.7,271 72.5,269 72.4,283.5 72.2,309.5 72.1,308.6 71.9,287.8 71.8,281.5 71.6,349.7 71.5,262.8 71.4,273.6 71.3,322.6 71.2,269.8 71.1,270.1 71,268.6 70.9,277.5 70.8,286.7 70.7,289.4 70.6,278.9 70.6,310.3 70.5,272.4 70.4,292.6 70.3,270 70.3,278.8 70.2,265.8 70.1,277.3 70.1,287.3 70,263.5 70,280.8 69.9,299.6 69.9,323.2 69.8,267.9 69.8,274.6 69.7,325.5 69.7,272.5 69.6,271.4 69.6,261.1 69.5,274.7 69.5,289.7"/>
<polyline points="268.4,277.3 167.5,300.1 133.9,260.6 117,301 107,296.5 100.2,254.8 95.4,279.3 91.8,252.4 89,256.5 86.8,310.7 84.9,277 83.4,263.7 82.1,318.4 81,277.4 80.1,291.7 79.2,288.4 78.5,276.1 77.8,278.8 77.2,264.4 76.7,313.5 76.2,263.5 75.8,291.7 75.4,287.2 75,258.4 74.7,273.1 74.4,282.3 74.1,254.8 73.8,288.2 73.6,279.5 73.3,256.8 73.1,258.6 72.9,270.8 72.7,285.9 72.5,263.9 72.4,276.6 72.2,308.3 72.1,267.1 71.9,326.1 71.8,292.4 71.6,315.5 71.5,297.7 71.4,285.3 71.3,283.1 71.2,273.1 71.1,287.8 71,257.9 70.9,260.8 70.8,289.9 70.7,282.5 70.6,261.9 70.6,259.3 70.5,308.2 70.4,294 70.3,296 70.3,347.1 70.2,268.3 70.1,263.9 70.1,268.8 70,262.9 70,317.7 69.9,274.7 69.9,273.3 69.8,302.6 69.8,265.8 69.7,282.9 69.7,265.5 69.6,262.7 69.6,261.8 69.5,283.5 69.5,272.6"/>
<polyline points="268.4,250.1 167.5,265.2 133.9,254.1 117,270.2 107,273 100.2,287.1 95.4,305.9 91.8,279.3 89,287.4 86.8,286.6 84.9,269.5 83.4,251.4 82.1,270.6 81,265.7 80.1,270.7 79.2,268.4 78.5,289.3 77.8,272 77.2,288 76.7,275.3 76.2,262.9 75.8,255.1 75.4,326.2 75,330.6 74.7,299.3 74.4,267.9 74.1,304.7 73.8,262.3 73.6,268.5 73.3,270.9 73.1,272.6 72.9,264.9 72.7,284.1 72.5,277.5 72.4,293.9 72.2,270.4 72.1,287.2 71.9,281.2 71.8,267.2 71.6,311.5 71.5,269.5 71.4,282.8 71.3,258.7 71.2,297.8 71.1,259 71,268.1 70.9,282.1 70.8,299.2 70.7,291.5 70.6,286.3 70.6,312 70.5,259.5 70.4,281.3 70.3,313.3 70.3,268 70.2,258.1 70.1,269.7 70.1,292.1 70,291 70,275.1 69.9,254.4 69.9,267.2 69.8,283.4 69.8,282.2 69.7,282.6 69.7,269 69.6,305 69.6,272.9 69.5,273.7 69.5,260"/>
<polyline points="268.4,268.2 167.5,256.2 133.9,285.2 117,301.4 107,268.2 100.2,281.5 95.4,250.1 91.8,295.7 89,259.9 86.8,253.5 84.9,290.9 83.4,261.3 82.1,282.6 81,277.6 80.1,265 79.2,269.7 78.5,311.6 77.8,292.1 77.2,273.6 76.7,295.7 76.2,296.3 75.8,288.7 75.4,316.6 75,278.4 74.7,275.7 74.4,276.4 74.1,295.9 73.8,322.5 73.6,272.8 73.3,309.4 73.1,280.8 72.9,284.6 72.7,283 72.5,286.2 72.4,286.3 72.2,283.6 72.1,307.1 71.9,280 71.8,276.1 71.6,280.5 71.5,270.3 71.4,266.4 71.3,301.7 71.2,281.1 71.1,269.4 71,270.5 70.9,262.4 70.8,283.1 70.7,266.2 70.6,283.3 70.6,279.9 70.5,265.1 70.4,278.9 70.3,277.4 70.3,306.1 70.2,272.9 70.1,300.7 70.1,292.3 70,277.8 70,277.7 69.9,279 69.9,274.6 69.8,269.1 69.8,285.8 69.7,271.9 69.7,301.3 69.6,272.2 69.6,273.8 69.5,287 69.5,282.1"/>
<polyline points="268.4,260.5 167.5,255.9 133.9,250.1 117,267.8 107,287.8 100.2,318 95.4,304.9 91.8,258.9 89,311.1 86.8,262.4 84.9,269.2 83.4,264.5 82.1,278.5 81,281 80.1,273.4 79.2,261.6 78.5,269.9 77.8,258.9 77.2,283.6 76.7,292.6 76.2,289 75.8,275.4 75.4,260.7 75,325.3 74.7,307.7 74.4,283.3 74.1,303.9 73.8,282.1 73.6,259.5 73.3,269.9 73.1,304.5 72.9,273.4 72.7,270.3 72.5,295.6 72.4,289.8 72.2,283.7 72.1,287.3 71.9,313.8 71.8,262.4 71.6,288 71.5,270.4 71.4,308 71.3,289.6 71.2,276.7 71.1,285.3 71,269.5 70.9,299.2 70.8,260 70.7,284 70.6,287.3 70.6,257.6 70.5,262.1 70.4,287 70.3,296.1 70.3,275.2 70.2,312.4 70.1,348 70.1,259.4 70,274.2 70,328.2 69.9,268 69.9,272.4 69.8,278.7 69.8,259.1 69.7,275.6 69.7,276.2 69.6,269.4 69.6,279.2 69.5,259.3 69.5,271.5"/>
<polyline points="268.4,262 167.5,282.4 133.9,254 117,262.2 107,254.5 100.2,265.5 95.4,276.8 91.8,305.3 89,276.6 86.8,266.9 84.9,298.2 83.4,308.3 82.1,265.3 81,257.8 80.1,290.2 79.2,277.2 78.5,294.4 77.8,271.9 77.2,265.1 76.7,284.2 76.2,281.1 75.8,287.7 75.4,302.9 75,282.7 74.7,267.4 74.4,282.2 74.1,333.1 73.8,294.1 73.6,278 73.3,267.3 73.1,279.1 72.9,305.7 72.7,279.2 72.5,286.4 72.4,272.4 72.2,302.8 72.1,278.7 71.9,295.4 71.8,331.3 71.6,263.8 71.5,314.1 71.4,288.6 71.3,323.9 71.2,276.4 71.1,282 71,268.2 70.9,266.3 70.8,264.3 70.7,281.5 70.6,311.2 70.6,277.9 70.5,288.7 70.4,318.1 70.3,265.8 70.3,275.2 70.2,281.5 70.1,265.9 70.1,291.1 70,268.1 70,281.2 69.9,320 69.9,269.2 69.8,288.4 69.8,284.4 69.7,276.5 69.7,273.7 69.6,300 69.6,262.3 69.5,276.6 69.5,267.3"/>
<polyline points="268.4,269.3 167.5,252.1 133.9,251 117,251.7 107,258.7 100.2,283.1 95.4,316.2 91.8,252.2 89,288.2 86.8,264 84.9,283.3 83.4,265.8 82.1,277.9 81,257.6 80.1,262.5 79.2,259.9 78.5,294.7 77.8,285.4 77.2,272.2 76.7,264.4 76.2,328.3 75.8,285.8 75.4,283 75,286.8 74.7,293.4 74.4,296.3 74.1,258.7 73.8,283 73.6,268.2 73.3,262.6 73.1,287.9 72.9,271.8 72.7,264.1 72.5,272.9 72.4,273.2 72.2,278.5 72.1,272.9 71.9,269.7 71.8,270.5 71.6,282.3 71.5,271.3 71.4,260.9 71.3,333.1 71.2,282.9 71.1,278.7 71,262.9 70.9,281.2 70.8,296 70.7,263.1 70.6,300.5 70.6,274.4 70.5,284.6 70.4,280.7 70.3,284.3 70.3,325.2 70.2,303.3 70.1,337.2 70.1,302.9 70,284.6 70,267.1 69.9,295.8 69.9,265.2 69.8,304.1 69.8,281.5 69.7,265.8 69.7,269.4 69.6,308.1 69.6,257.9 69.5,297.2 69.5,280.3"/>
<polyline points="268.4,316.2 167.5,286.3 133.9,274.3 117,267.1 107,265.4 100.2,253.2 95.4,264.6 91.8,306 89,300.7 86.8,251.1 84.9,252 83.4,272.3 82.1,267.2 81,268.5 80.1,281.7 79.2,275.6 78.5,272.7 77.8,272.9 77.2,289.7 76.7,262.8 76.2,277.5 75.8,273.7 75.4,270.4 75,270.6 74.7,274.9 74.4,273.3 74.1,268.2 73.8,284.4 73.6,277.6 73.3,264.7 73.1,266.4 72.9,276 72.7,281.3 72.5,278.7 72.4,272.7 72.2,261.5 72.1,274.5 71.9,305 71.8,293.4 71.6,268.9 71.5,272.5 71.4,263.1 71.3,275.5 71.2,292.3 71.1,285.2 71,279.1 70.9,272 70.8,278.5 70.7,279.9 70.6,269.5 70.6,287 70.5,309.9 70.4,277.8 70.3,261.7 70.3,255.2 70.2,305.1 70.1,280.4 70.1,284.1 70,296.6 70,258.4 69.9,312.3 69.9,286.3 69.8,310.5 69.8,300.2 69.7,277.3 69.7,266 69.6,279.2 69.6,284.2 69.5,273.1 69.5,272.1"/>
<polyline points="268.4,254.4 167.5,290.8 133.9,258.1 117,306.5 107,276.5 100.2,260.4 95.4,271.2 91.8,270.8 89,257.9 86.8,283.4 84.9,276.7 83.4,284.6 82.1,278.1 81,312 80.1,258.5 79.2,297.6 78.5,287.7 77.8,259.5 77.2,268.9 76.7,281.5 76.2,275.3 75.8,271.2 75.4,281.8 75,286.4 74.7,268.9 74.4,279.4 74.1,300.1 73.8,268.7 73.6,295.3 73.3,292.9 73.1,269.9 72.9,261.8 72.7,275.6 72.5,285.5 72.4,290.2 72.2,267.4 72.1,272.5 71.9,258.7 71.8,267.6 71.6,279.1 71.5,298.3 71.4,283 71.3,279.6 71.2,277.6 71.1,294.9 71,283 70.9,302.7 70.8,267.3 70.7,281.5 70.6,264.9 70.6,267.8 70.5,287.2 70.4,274.9 70.3,262.8 70.3,292.3 70.2,275.8 70.1,270.6 70.1,275.7 70,352.4 70,292 69.9,326.7 69.9,265.7 69.8,291.4 69.8,289.7 69.7,281.6 69.7,298.3 69.6,281.7 69.6,296 69.5,310.1 69.5,272.1"/>
<polyline points="268.4,253.4 167.5,289 133.9,319 117,288.2 107,280.8 100.2,278.9 95.4,264.2 91.8,267.3 89,264.5 86.8,262.1 84.9,285.5 83.4,266.8 82.1,268.5 81,287.1 80.1,275.7 79.2,278.4 78.5,278.9 77.8,277.2 77.2,275.2 76.7,263 76.2,258.2 75.8,278.5 75.4,270.8 75,294.1 74.7,270.5 74.4,283.5 74.1,280.6 73.8,274.3 73.6,279.1 73.3,297.5 73.1,286.5 72.9,306.8 72.7,266 72.5,275.2 72.4,277.9 72.2,279.7 72.1,327.9 71.9,276.4 71.8,267.5 71.6,295.1 71.5,282.2 71.4,266.9 71.3,286 71.2,268.6 71.1,309.7 71,300.4 70.9,254.4 70.8,288.6 70.7,301.6 70.6,268.1 70.6,304.8 70.5,272.7 70.4,268.8 70.3,317.2 70.3,258.5 70.2,270.3 70.1,264.8 70.1,260.6 70,296.1 70,280.4 69.9,274.1 69.9,267.6 69.8,290.4 69.8,278.5 69.7,274.4 69.7,260.2 69.6,294.3 69.6,272.9 69.5,263.5 69.5,279.5"/>
<polyline points="268.4,268.7 167.5,287.8 133.9,297 117,268.5 107,251.6 100.2,282.3 95.4,265.1 91.8,268.5 89,287.8 86.8,257.7 84.9,309.3 83.4,275.7 82.1,282.7 81,264.6 80.1,278 79.2,263.1 78.5,267.2 77.8,251.5 77.2,287.8 76.7,282.9 76.2,281.4 75.8,297.7 75.4,310.2 75,286.9 74.7,277.2 74.4,331.9 74.1,254.4 73.8,287.5 73.6,278.4 73.3,290 73.1,280 72.9,274 72.7,283.1 72.5,266.1 72.4,297.9 72.2,284.6 72.1,278.6 71.9,296.7 71.8,283.2 71.6,264.3 71.5,259.3 71.4,262.9 71.3,273.1 71.2,275.4 71.1,269.3 71,265.5 70.9,299.2 70.8,269.2 70.7,324.7 70.6,298.9 70.6,256.8 70.5,267.5 70.4,278.8 70.3,255.5 70.3,265.6 70.2,274.9 70.1,259.5 70.1,289 70,283.8 70,265.8 69.9,286.2 69.9,258 69.8,283.9 69.8,271.7 69.7,274.7 69.7,278.2 69.6,268.1 69.6,257.8 69.5,284.3 69.5,295.1"/>
<polyline points="268.4,251.1 167.5,302 133.9,312 117,302 107,291.1 100.2,270.4 95.4,268 91.8,290.3 89,252.1 86.8,276.8 84.9,269.7 83.4,275 82.1,253.5 81,284.9 80.1,287.9 79.2,273.6 78.5,265.7 77.8,279.7 77.2,259 76.7,283.5 76.2,264.3 75.8,285.7 75.4,290.6 75,283.9 74.7,268.9 74.4,280.9 74.1,260.2 73.8,268.3 73.6,273 73.3,274.7 73.1,263.6 72.9,276.3 72.7,265 72.5,276.8 72.4,266 72.2,287.6 72.1,288.9 71.9,275.7 71.8,264 71.6,307.8 71.5,268.9 71.4,271.9 71.3,262.2 71.2,273.1 71.1,285.1 71,266.3 70.9,304.6 70.8,267.6 70.7,284.6 70.6,276.1 70.6,267.1 70.5,288.3 70.4,260.7 70.3,287.4 70.3,264.6 70.2,258.8 70.1,277.2 70.1,266 70,273.8 70,271 69.9,269.4 69.9,272.7 69.8,264.6 69.8,279.9 69.7,258.4 69.7,292 69.6,270.7 69.6,282.6 69.5,273.1 69.5,263.6"/>
<polyline points="268.4,251.1 167.5,261.6 133.9,265.7 117,250.6 107,274.1 100.2,257.2 95.4,250.5 91.8,304.3 89,290.8 86.8,301.4 84.9,307.3 83.4,273.7 82.1,264.8 81,290.5 80.1,273.5 79.2,278 78.5,281.3 77.8,273.1 77.2,289.7 76.7,273.4 76.2,279.9 75.8,269.4 75.4,270.4 75,259.2 74.7,279 74.4,356.3 74.1,260.6 73.8,309.6 73.6,269.9 73.3,265.4 73.1,279.4 72.9,288.6 72.7,263.6 72.5,320.3 72.4,290.7 72.2,299.9 72.1,329.4 71.9,281.7 71.8,312.7 71.6,309.2 71.5,267.7 71.4,277.5 71.3,263.4 71.2,358.8 71.1,292.8 71,255.5 70.9,293.8 70.8,268.2 70.7,277.5 70.6,306.1 70.6,265 70.5,279.9 70.4,269.6 70.3,274.3 70.3,299.2 70.2,284.7 70.1,271.5 70.1,276.6 70,267.4 70,274.9 69.9,277.5 69.9,267.8 69.8,281 69.8,284.3 69.7,277.1 69.7,295.3 69.6,272.3 69.6,284.8 69.5,274.6 69.5,283.1"/>
<polyline points="268.4,268.9 167.5,255.4 133.9,261.3 117,274.1 107,258.4 100.2,260.4 95.4,259.2 91.8,286.6 89,273.1 86.8,288.8 84.9,264.7 83.4,266.5 82.1,281.8 81,270.4 80.1,276.6 79.2,270.4 78.5,266.9 77.8,263.9 77.2,276.4 76.7,294.4 76.2,273.6 75.8,287.8 75.4,279 75,266.6 74.7,291.8 74.4,274.7 74.1,271 73.8,265.9 73.6,314.6 73.3,279 73.1,260 72.9,274.6 72.7,284.4 72.5,274.3 72.4,265.1 72.2,283.8 72.1,273.2 71.9,275.9 71.8,275.5 71.6,270.6 71.5,284.4 71.4,289.5 71.3,328.4 71.2,289.9 71.1,317.6 71,307.7 70.9,291.6 70.8,280.1 70.7,259.9 70.6,265.4 70.6,272.5 70.5,300.8 70.4,279.5 70.3,289.8 70.3,297.8 70.2,263.9 70.1,272.7 70.1,310.3 70,294.6 70,252.6 69.9,284.9 69.9,276.2 69.8,267.1 69.8,303.2 69.7,272 69.7,312.3 69.6,277.6 69.6,295.9 69.5,257.2 69.5,274.2"/>
<polyline points="268.4,263.1 167.5,303.7 133.9,297.4 117,264.8 107,302.5 100.2,274.1 95.4,285.6 91.8,252 89,285.2 86.8,259.6 84.9,270.3 83.4,269.7 82.1,288 81,301 80.1,311.3 79.2,256.1 78.5,268.8 77.8,264.9 77.2,259 76.7,274.5 76.2,300.7 75.8,260.1 75.4,268.6 75,281 74.7,276.3 74.4,285.2 74.1,270 73.8,262.8 73.6,285.7 73.3,279.5 73.1,276.4 72.9,291.8 72.7,278.4 72.5,271.6 72.4,282.6 72.2,286.8 72.1,274.4 71.9,280.6 71.8,278.3 71.6,271.5 71.5,307.5 71.4,261 71.3,279.1 71.2,270.8 71.1,261.5 71,298.5 70.9,273.5 70.8,287.9 70.7,290.1 70.6,307.1 70.6,268.2 70.5,278 70.4,291.1 70.3,273.7 70.3,287.4 70.2,259.7 70.1,279 70.1,268.8 70,287.6 70,278.5 69.9,295.1 69.9,263.3 69.8,260.7 69.8,284 69.7,285.8 69.7,266.2 69.6,270.2 69.6,276.7 69.5,281.9 69.5,272.6"/>
<polyline points="268.4,255.2 167.5,299.2 133.9,259.5 117,277.8 107,296.2 100.2,288.8 95.4,291.6 91.8,306.6 89,268 86.8,279.5 84.9,271.5 83.4,279.5 82.1,267.5 81,279.8 80.1,272.9 79.2,284.9 78.5,301.7 77.8,268.1 77.2,279.1 76.7,272.3 76.2,342.3 75.8,336.2 75.4,272.8 75,288.7 74.7,272.5 74.4,273.7 74.1,333.7 73.8,264 73.6,269.8 73.3,278 73.1,288.3 72.9,305.3 72.7,272.3 72.5,261.1 72.4,334.5 72.2,294.9 72.1,265.7 71.9,271.6 71.8,274.7 71.6,283.9 71.5,315.7 71.4,344 71.3,271.1 71.2,344.4 71.1,274.6 71,251.6 70.9,263.6 70.8,250.1 70.7,319.7 70.6,274.5 70.6,271.2 70.5,276.6 70.4,282.3 70.3,274.5 70.3,289.3 70.2,265.6 70.1,283.8 70.1,286.3 70,289.9 70,277.7 69.9,277.9 69.9,277.5 69.8,265 69.8,290.9 69.7,275.6 69.7,282.5 69.6,279.3 69.6,279.7 69.5,329.7 69.5,274.7"/>
<polyline points="268.4,256.3 167.5,250.8 133.9,286.3 117,263.7 107,251.9 100.2,287.7 95.4,265.1 91.8,250.8 89,310.1 86.8,258 84.9,274.1 83.4,272.9 82.1,270.4 81,269 80.1,266.4 79.2,292.4 78.5,274.8 77.8,272.3 77.2,271.9 76.7,271.6 76.2,269.8 75.8,282.1 75.4,276 75,272.5 74.7,283.1 74.4,303.2 74.1,262.6 73.8,273.9 73.6,263.2 73.3,297.5 73.1,292.5 72.9,304.4 72.7,284.6 72.5,269.5 72.4,267.1 72.2,287.9 72.1,342.8 71.9,264.1 71.8,269.8 71.6,263.8 71.5,284.4 71.4,281.6 71.3,267.7 71.2,286 71.1,293.4 71,279.8 70.9,271.5 70.8,281 70.7,261.8 70.6,309.4 70.6,264.1 70.5,321.9 70.4,279.5 70.3,285.9 70.3,321.6 70.2,317.6 70.1,285.4 70.1,318.7 70,256.7 70,256.2 69.9,260.4 69.9,263.5 69.8,280.9 69.8,306.4 69.7,284.9 69.7,308.3 69.6,309.8 69.6,284.8 69.5,272.7 69.5,290.7"/>
<polyline points="268.4,251.4 167.5,276 133.9,300.7 117,266 107,255.5 100.2,296.7 95.4,261 91.8,259.9 89,270.6 86.8,283.4 84.9,262.3 83.4,263 82.1,259.8 81,266.7 80.1,293.8 79.2,275.6 78.5,273.1 77.8,264.1 77.2,273.2 76.7,306.5 76.2,259.5 75.8,271.6 75.4,272.9 75,272.8 74.7,259.4 74.4,276.7 74.1,264.4 73.8,282 73.6,259.7 73.3,287.7 73.1,322.9 72.9,279.6 72.7,346.9 72.5,293.4 72.4,317.1 72.2,261.2 72.1,259.5 71.9,285.9 71.8,314.7 71.6,296.2 71.5,263.8 71.4,260 71.3,267.8 71.2,271.9 71.1,270.1 71,307.5 70.9,270.7 70.8,284.1 70.7,265.5 70.6,302.3 70.6,298.2 70.5,311 70.4,271.8 70.3,275.9 70.3,278.9 70.2,285.5 70.1,305.6 70.1,300.1 70,315.5 70,281.9 69.9,277.2 69.9,282.6 69.8,290.3 69.8,272.7 69.7,286.6 69.7,286.7 69.6,259.4 69.6,283.4 69.5,270.8 69.5,293.2"/>
<polyline points="268.4,258.3 167.5,250.1 133.9,302.8 117,280 107,280.5 100.2,255.2 95.4,300.2 91.8,274.7 89,284.3 86.8,259.1 84.9,261.4 83.4,274 82.1,282.3 81,268.9 80.1,277.6 79.2,269.8 78.5,280.7 77.8,271.8 77.2,260.2 76.7,276.9 76.2,262.9 75.8,272.4 75.4,268.2 75,262 74.7,270.4 74.4,285.4 74.1,302.1 73.8,271.5 73.6,274.6 73.3,279.2 73.1,292.5 72.9,300.9 72.7,276.6 72.5,270.6 72.4,290.9 72.2,289.1 72.1,261.9 71.9,282 71.8,335.3 71.6,279.3 71.5,294.1 71.4,271.7 71.3,276.4 71.2,276.6 71.1,261 71,270.6 70.9,259.8 70.8,291.2 70.7,285.9 70.6,266.6 70.6,325.1 70.5,255.9 70.4,288.6 70.3,270.7 70.3,273.7 70.2,301.9 70.1,292.7 70.1,297.1 70,280.5 70,269.6 69.9,268.8 69.9,274.5 69.8,279.8 69.8,266.7 69.7,296 69.7,289.9 69.6,277.9 69.6,268.6 69.5,275.1 69.5,281"/>
<polyline points="268.4,269.5 167.5,258.4 133.9,250.1 117,252.2 107,269.5 100.2,296.2 95.4,301.5 91.8,269.7 89,250.1 86.8,266.2 84.9,285.4 83.4,273.6 82.1,281.7 81,261.3 80.1,267.2 79.2,275.4 78.5,260.7 77.8,280.8 77.2,255.4 76.7,284.5 76.2,365.2 75.8,288.9 75.4,268.2 75,292.5 74.7,326.3 74.4,265.7 74.1,284.1 73.8,282.9 73.6,268.5 73.3,275.2 73.1,299.3 72.9,279.8 72.7,283.3 72.5,266.6 72.4,270.2 72.2,285.8 72.1,296.8 71.9,291.5 71.8,287.2 71.6,289.3 71.5,280.7 71.4,320.9 71.3,302.3 71.2,284.4 71.1,303.2 71,267.4 70.9,279.5 70.8,264.5 70.7,281.3 70.6,266 70.6,272.9 70.5,293 70.4,326.9 70.3,291.5 70.3,265.5 70.2,271.1 70.1,332.3 70.1,270.1 70,280 70,258.5 69.9,273 69.9,277.5 69.8,275.5 69.8,305.4 69.7,259.2 69.7,273.5 69.6,280.9 69.6,312 69.5,288.4 69.5,260.2"/>
<polyline points="268.4,251.6 167.5,250.1 133.9,254.9 117,281.7 107,256.8 100.2,250.1 95.4,254.6 91.8,256.8 89,271.9 86.8,261.3 84.9,271.9 83.4,278.2 82.1,269.6 81,290.5 80.1,311.8 79.2,274.1 78.5,260.3 77.8,302.4 77.2,284.4 76.7,295.6 76.2,260.9 75.8,274 75.4,298.2 75,267.2 74.7,250.5 74.4,287.9 74.1,277.9 73.8,284.8 73.6,278.1 73.3,302.7 73.1,302.2 72.9,279.4 72.7,268.3 72.5,278 72.4,271.8 72.2,308.2 72.1,279.9 71.9,285.5 71.8,315.2 71.6,275.4 71.5,275.9 71.4,285.3 71.3,292.7 71.2,288.8 71.1,273.7 71,287.2 70.9,263.9 70.8,268.1 70.7,306.8 70.6,272.5 70.6,281.5 70.5,263.1 70.4,299.5 70.3,345.2 70.3,266.4 70.2,259 70.1,283.6 70.1,261.4 70,266.8 70,288.3 69.9,267.2 69.9,280.1 69.8,302.8 69.8,282.2 69.7,262.8 69.7,269.4 69.6,260.3 69.6,306.7 69.5,273.8 69.5,275.7"/>
<polyline points="268.4,262 167.5,296 133.9,252.1 117,279.7 107,261.9 100.2,285 95.4,304.5 91.8,294.7 89,269.2 86.8,268.9 84.9,278.1 83.4,276.7 82.1,269.7 81,266 80.1,262.4 79.2,272.2 78.5,276.1 77.8,273.1 77.2,260 76.7,284.6 76.2,280.7 75.8,305.5 75.4,296.6 75,264.6 74.7,269.7 74.4,283.4 74.1,273.2 73.8,283.6 73.6,269.2 73.3,288 73.1,270.8 72.9,273.9 72.7,316 72.5,292.7 72.4,269 72.2,286.1 72.1,274.8 71.9,277.1 71.8,278.9 71.6,276.4 71.5,275.8 71.4,325.5 71.3,342.5 71.2,345.2 71.1,262.6 71,277.8 70.9,326 70.8,302.7 70.7,322.3 70.6,275.4 70.6,281.1 70.5,277.6 70.4,365.8 70.3,285.5 70.3,267.5 70.2,290.7 70.1,281.6 70.1,260.9 70,288.7 70,266.9 69.9,274.5 69.9,277.6 69.8,281.6 69.8,278.1 69.7,268.4 69.7,305.1 69.6,266.6 69.6,287.2 69.5,257.3 69.5,294.9"/>
<polyline points="268.4,268.5 167.5,286.3 133.9,274.8 117,260.6 107,322.7 100.2,313.8 95.4,267.9 91.8,287 89,268.1 86.8,253.7 84.9,300.4 83.4,263.4 82.1,263.5 81,285.7 80.1,264.8 79.2,267.3 78.5,286.9 77.8,273.4 77.2,257.5 76.7,285.2 76.2,305.7 75.8,264 75.4,281.1 75,287 74.7,295.2 74.4,289.1 74.1,274.4 73.8,257.9 73.6,259.4 73.3,296.2 73.1,282.2 72.9,266 72.7,264 72.5,266.1 72.4,283.1 72.2,291 72.1,284.1 71.9,281.5 71.8,265.8 71.6,266.5 71.5,267.7 71.4,290.7 71.3,287.2 71.2,298.5 71.1,319.7 71,262.4 70.9,265.2 70.8,263.4 70.7,269.5 70.6,277.3 70.6,282.3 70.5,287.3 70.4,264.7 70.3,300.1 70.3,254.9 70.2,344.9 70.1,292 70.1,284.9 70,270.2 70,294.9 69.9,278.3 69.9,270.2 69.8,299 69.8,288.5 69.7,279 69.7,273.3 69.6,273.6 69.6,278.5 69.5,279.8 69.5,335.4"/>
<polyline points="268.4,255.8 167.5,275.4 133.9,261.9 117,250.8 107,267.9 100.2,271.9 95.4,258 91.8,307.1 89,286.9 86.8,253.7 84.9,261.2 83.4,260.6 82.1,287.6 81,304 80.1,266.7 79.2,278.4 78.5,282.5 77.8,296.5 77.2,307 76.7,284.1 76.2,284.8 75.8,280.7 75.4,273.1 75,265.1 74.7,254.7 74.4,280.8 74.1,288.8 73.8,294.9 73.6,267.5 73.3,291.2 73.1,264.2 72.9,266.5 72.7,270.8 72.5,270.4 72.4,287.5 72.2,277.1 72.1,274.9 71.9,283.4 71.8,268.7 71.6,352.8 71.5,276 71.4,264 71.3,276.5 71.2,281.2 71.1,285.2 71,261.7 70.9,256.6 70.8,309.1 70.7,301.5 70.6,292.5 70.6,334.6 70.5,259.8 70.4,339.9 70.3,277.2 70.3,275 70.2,292.1 70.1,294.2 70.1,277.7 70,285.4 70,255 69.9,276.8 69.9,290.4 69.8,271 69.8,317.4 69.7,321.1 69.7,274.3 69.6,256.6 69.6,296.2 69.5,270 69.5,284"/>
<polyline points="268.4,264.8 167.5,275.1 133.9,291.4 117,257.5 107,258.2 100.2,254.5 95.4,260 91.8,275.8 89,266 86.8,290.3 84.9,287.9 83.4,266 82.1,275 81,288.4 80.1,255.1 79.2,270 78.5,288.2 77.8,270.7 77.2,256.7 76.7,283.1 76.2,264.5 75.8,274.4 75.4,263.7 75,268.7 74.7,277.6 74.4,271.7 74.1,294.4 73.8,285.7 73.6,291.6 73.3,266.1 73.1,286.3 72.9,277.7 72.7,279.9 72.5,274.6 72.4,268.3 72.2,312.6 72.1,274.9 71.9,292.9 71.8,284.4 71.6,267.3 71.5,272.7 71.4,263.4 71.3,274.7 71.2,276.1 71.1,296.4 71,273.1 70.9,319.2 70.8,270 70.7,278.1 70.6,261.2 70.6,278.5 70.5,263.7 70.4,262.1 70.3,289 70.3,290 70.2,289.9 70.1,265.3 70.1,294.2 70,274.8 70,282.1 69.9,265.4 69.9,286.7 69.8,283.6 69.8,294.8 69.7,282.9 69.7,281.7 69.6,266.5 69.6,285.4 69.5,295.6 69.5,275.4"/>
<polyline points="268.4,267.7 167.5,254.5 133.9,281.9 117,262.1 107,281.2 100.2,255.4 95.4,250.1 91.8,263.4 89,294.4 86.8,250.1 84.9,279.6 83.4,266.6 82.1,289.2 81,259 80.1,307.6 79.2,286.4 78.5,300.8 77.8,284.1 77.2,256.8 76.7,278.7 76.2,271.3 75.8,275.3 75.4,284.6 75,274.8 74.7,275.3 74.4,270.2 74.1,284.9 73.8,287.7 73.6,267.6 73.3,314.3 73.1,274 72.9,265.8 72.7,320.2 72.5,298.7 72.4,266.4 72.2,333.5 72.1,286.3 71.9,283.7 71.8,252.2 71.6,299.9 71.5,292.6 71.4,266.6 71.3,296.3 71.2,265.9 71.1,315.7 71,293.4 70.9,257.9 70.8,296.3 70.7,287.6 70.6,293.4 70.6,272.9 70.5,335.1 70.4,279.6 70.3,285.3 70.3,312.9 70.2,298.8 70.1,271.1 70.1,294.2 70,265.1 70,278.3 69.9,319.6 69.9,277 69.8,284 69.8,279.2 69.7,270.7 69.7,278.1 69.6,291.4 69.6,286.3 69.5,271.7 69.5,279.2"/>
<polyline points="268.4,252.1 167.5,296.7 133.9,277.1 117,258.6 107,251.6 100.2,250.3 95.4,305.2 91.8,267.5 89,258.9 86.8,295.1 84.9,273.8 83.4,280.1 82.1,256.4 81,287.2 80.1,292.4 79.2,262.2 78.5,273.5 77.8,275.4 77.2,289.1 76.7,276.1 76.2,263.9 75.8,289.5 75.4,307.7 75,307.1 74.7,266.3 74.4,270.2 74.1,268.9 73.8,265.9 73.6,270.4 73.3,264.7 73.1,264.3 72.9,285 72.7,269.6 72.5,299.3 72.4,289.8 72.2,271 72.1,265.4 71.9,298.1 71.8,300.3 71.6,264.9 71.5,272.2 71.4,287.7 71.3,280.8 71.2,271.4 71.1,296.8 71,288.3 70.9,277.4 70.8,321.3 70.7,264.1 70.6,267.2 70.6,272.5 70.5,270.3 70.4,323.8 70.3,269.2 70.3,299.9 70.2,331.3 70.1,275 70.1,287.3 70,265.3 70,263.9 69.9,344 69.9,291.4 69.8,305.7 69.8,271.1 69.7,319.6 69.7,278.6 69.6,285.2 69.6,273.4 69.5,293.8 69.5,271.9"/>
<polyline points="268.4,257.3 167.5,251.9 133.9,297.5 117,263.7 107,264.9 100.2,255.3 95.4,265.2 91.8,279.8 89,253.5 86.8,270.5 84.9,276.1 83.4,268.7 82.1,278 81,284.8 80.1,266.6 79.2,293 78.5,269.1 77.8,264.8 77.2,306.8 76.7,284 76.2,264.5 75.8,275.3 75.4,273.6 75,262.1 74.7,264.4 74.4,278.7 74.1,269.1 73.8,278.4 73.6,263 73.3,272.8 73.1,287.5 72.9,259.9 72.7,275.7 72.5,282.6 72.4,269.9 72.2,265.3 72.1,285.7 71.9,297.5 71.8,280.1 71.6,289.8 71.5,278.2 71.4,290.1 71.3,268.9 71.2,267.4 71.1,266 71,290.7 70.9,278.4 70.8,284.4 70.7,257.3 70.6,275.1 70.6,276.2 70.5,277.9 70.4,272.8 70.3,257.5 70.3,293.7 70.2,271.9 70.1,277.8 70.1,273.1 70,277.6 70,273.2 69.9,272.3 69.9,269.6 69.8,276.2 69.8,281.4 69.7,268.5 69.7,272.3 69.6,273.2 69.6,265.2 69.5,301.7 69.5,283.3"/>
<polyline points="268.4,250.1 167.5,282.4 133.9,302.8 117,270.3 107,252 100.2,275.1 95.4,271 91.8,258.4 89,291.7 86.8,252.2 84.9,284.4 83.4,320.1 82.1,264.1 81,264.3 80.1,262.5 79.2,259.6 78.5,280.6 77.8,288.7 77.2,271.1 76.7,273.7 76.2,301.9 75.8,271.9 75.4,274 75,290.3 74.7,272.5 74.4,252.2 74.1,271.7 73.8,285.8 73.6,271.3 73.3,268.3 73.1,285.3 72.9,312.2 72.7,288.4 72.5,283.7 72.4,294.3 72.2,283.4 72.1,280.7 71.9,267.8 71.8,269.5 71.6,280.9 71.5,271.9 71.4,268.5 71.3,273 71.2,277.3 71.1,267.7 71,277.7 70.9,292.6 70.8,268.5 70.7,283.4 70.6,262 70.6,278.6 70.5,278.3 70.4,267 70.3,306.5 70.3,271 70.2,285.8 70.1,286.4 70.1,284.7 70,306.8 70,271.6 69.9,316.9 69.9,302.9 69.8,286.9 69.8,316.1 69.7,284.8 69.7,285.2 69.6,283.5 69.6,289.1 69.5,286.5 69.5,276.2"/>
<polyline points="268.4,253.5 167.5,271.7 133.9,263.7 117,273.5 107,296.2 100.2,302.1 95.4,291.4 91.8,272.4 89,296 86.8,278 84.9,287.2 83.4,280.2 82.1,268.1 81,260 80.1,280.1 79.2,284.5 78.5,274.6 77.8,309.5 77.2,258.9 76.7,271.4 76.2,345.5 75.8,259 75.4,280.4 75,293.1 74.7,302.5 74.4,318.4 74.1,287.2 73.8,274.7 73.6,302.7 73.3,268.2 73.1,278.3 72.9,274.5 72.7,266.3 72.5,274 72.4,274.6 72.2,296.8 72.1,276.2 71.9,280.5 71.8,277.1 71.6,269.7 71.5,266.7 71.4,271 71.3,283.3 71.2,260.2 71.1,270.7 71,279.1 70.9,280 70.8,275.6 70.7,273.3 70.6,273.9 70.6,274.1 70.5,266 70.4,262.5 70.3,297.3 70.3,271.8 70.2,271.7 70.1,303 70.1,292.7 70,280.5 70,271.1 69.9,289.8 69.9,287.4 69.8,291 69.8,292.5 69.7,288.1 69.7,274.2 69.6,284.6 69.6,280.7 69.5,276.5 69.5,299.2"/>
<polyline points="268.4,277.9 167.5,288.6 133.9,255.1 117,284.3 107,297.1 100.2,265.4 95.4,257.5 91.8,251 89,303.2 86.8,258.3 84.9,260 83.4,273.1 82.1,286 81,279.3 80.1,262.9 79.2,271.9 78.5,259.3 77.8,269.9 77.2,285.9 76.7,277.8 76.2,287.8 75.8,306.4 75.4,296.1 75,308.3 74.7,308.2 74.4,264.9 74.1,290.4 73.8,291.6 73.6,265.7 73.3,364.7 73.1,291.1 72.9,260.6 72.7,282.5 72.5,294.7 72.4,328.4 72.2,277.8 72.1,274.7 71.9,283.3 71.8,281.5 71.6,283.5 71.5,283.3 71.4,301.6 71.3,282 71.2,276.7 71.1,338.5 71,338.2 70.9,275.3 70.8,269.2 70.7,273.9 70.6,296.3 70.6,281.6 70.5,264.8 70.4,273.2 70.3,289 70.3,295.9 70.2,263.9 70.1,303.5 70.1,278 70,285.1 70,265.1 69.9,309.2 69.9,268.9 69.8,263.8 69.8,270.3 69.7,308.4 69.7,286 69.6,270.9 69.6,283.2 69.5,268.6 69.5,295.5"/>
<polyline points="268.4,255 167.5,299.6 133.9,307.7 117,290.6 107,264.4 100.2,265.2 95.4,262.7 91.8,270.7 89,280.3 86.8,261 84.9,265.9 83.4,264.1 82.1,280.1 81,268.7 80.1,306.2 79.2,284 78.5,280.6 77.8,283.3 77.2,305.3 76.7,263.6 76.2,371.7 75.8,327.4 75.4,283.6 75,266.6 74.7,253.3 74.4,274.3 74.1,308.3 73.8,276.7 73.6,289 73.3,273.2 73.1,279.4 72.9,271.4 72.7,278 72.5,300.2 72.4,277.7 72.2,270.6 72.1,301.9 71.9,314.9 71.8,265.4 71.6,279.8 71.5,278.1 71.4,279 71.3,286.1 71.2,273.2 71.1,269.3 71,273.4 70.9,283.4 70.8,270.4 70.7,276.3 70.6,262.3 70.6,278.3 70.5,261.2 70.4,276 70.3,327.4 70.3,275.9 70.2,285.2 70.1,273.3 70.1,262 70,312.1 70,280.9 69.9,268.9 69.9,283.6 69.8,274.5 69.8,279.6 69.7,275.4 69.7,289.7 69.6,276.9 69.6,283.6 69.5,294.2 69.5,257.7"/>
<polyline points="268.4,260.4 167.5,299.1 133.9,304.1 117,272 107,303.3 100.2,271.9 95.4,258.5 91.8,256.6 89,289 86.8,272.2 84.9,270 83.4,286.9 82.1,301.4 81,313.5 80.1,269.1 79.2,298 78.5,272.6 77.8,295.1 77.2,259.4 76.7,261.3 76.2,266.6 75.8,288.2 75.4,271.5 75,273.6 74.7,290.1 74.4,263.9 74.1,261.4 73.8,277 73.6,280.7 73.3,256.9 73.1,265.4 72.9,286.9 72.7,277.1 72.5,273.6 72.4,277.5 72.2,284.4 72.1,272.8 71.9,302.7 71.8,266.2 71.6,287.5 71.5,271.7 71.4,284.1 71.3,280.2 71.2,271.7 71.1,279.9 71,290.4 70.9,275.3 70.8,261 70.7,258.4 70.6,279.7 70.6,258 70.5,269.9 70.4,280.2 70.3,281.9 70.3,277 70.2,269 70.1,292 70.1,265.9 70,270.4 70,272 69.9,301.3 69.9,280.3 69.8,269.9 69.8,274.4 69.7,300 69.7,302.9 69.6,293.7 69.6,288.4 69.5,288.2 69.5,296.1"/>
<polyline points="268.4,258.2 167.5,286.5 133.9,259.7 117,277 107,270.5 100.2,259.4 95.4,298.4 91.8,256.2 89,296.9 86.8,266.2 84.9,277 83.4,275.5 82.1,274.9 81,285.7 80.1,280.6 79.2,257.4 78.5,278.6 77.8,293.7 77.2,282.1 76.7,276 76.2,276.5 75.8,326.7 75.4,280.3 75,274.3 74.7,278.1 74.4,287.8 74.1,279.6 73.8,266.6 73.6,327.1 73.3,271.7 73.1,274.5 72.9,291.4 72.7,306.8 72.5,266.7 72.4,287.5 72.2,267.5 72.1,285.2 71.9,277.2 71.8,294.6 71.6,340.2 71.5,284.9 71.4,288.8 71.3,263.6 71.2,285.5 71.1,287 71,300.8 70.9,324.3 70.8,268.7 70.7,277.7 70.6,302.3 70.6,266.5 70.5,361.6 70.4,301.5 70.3,282.2 70.3,271.2 70.2,297.3 70.1,280.3 70.1,275.9 70,296 70,265 69.9,258.1 69.9,272.3 69.8,264.4 69.8,280.6 69.7,272.4 69.7,284.3 69.6,250.1 69.6,272.4 69.5,267.5 69.5,294.8"/>
<polyline points="268.4,256.5 167.5,273.1 133.9,253.3 117,251.2 107,306.7 100.2,290.4 95.4,261.4 91.8,261.9 89,255.7 86.8,261.3 84.9,284.1 83.4,256.3 82.1,311.2 81,303.9 80.1,290.1 79.2,287.3 78.5,258.2 77.8,282.8 77.2,301 76.7,259.8 76.2,294.4 75.8,291.1 75.4,265.1 75,261.6 74.7,275.3 74.4,271.5 74.1,292.7 73.8,315.4 73.6,268.6 73.3,305.4 73.1,277.6 72.9,269 72.7,286.9 72.5,269.9 72.4,289.1 72.2,277 72.1,271.9 71.9,282.3 71.8,282.5 71.6,326.9 71.5,288 71.4,279.6 71.3,269.9 71.2,261.4 71.1,278 71,273.3 70.9,265.1 70.8,287.1 70.7,269.5 70.6,272.3 70.6,275.7 70.5,269.3 70.4,260.1 70.3,294 70.3,270.4 70.2,280.9 70.1,275.2 70.1,294.7 70,286.1 70,270.7 69.9,306.6 69.9,266.3 69.8,259 69.8,332.5 69.7,272.4 69.7,296.5 69.6,270.7 69.6,284.4 69.5,294.1 69.5,291.3"/>
<polyline points="268.4,262.7 167.5,279.6 133.9,264.2 117,279.1 107,297.8 100.2,293.8 95.4,277.5 91.8,289 89,259.6 86.8,267.5 84.9,292.1 83.4,261.8 82.1,282.5 81,269.3 80.1,270.6 79.2,289.1 78.5,344.4 77.8,272.8 77.2,280.7 76.7,278.4 76.2,267.4 75.8,337.5 75.4,269.4 75,264.8 74.7,280.9 74.4,292.4 74.1,298.1 73.8,281.1 73.6,271.9 73.3,275.8 73.1,287.2 72.9,263.6 72.7,273.3 72.5,265.8 72.4,317.2 72.2,279.8 72.1,287.7 71.9,264.2 71.8,294.4 71.6,270.2 71.5,287.1 71.4,284.2 71.3,260.6 71.2,284.7 71.1,287.7 71,282 70.9,266.5 70.8,268.4 70.7,281.3 70.6,313.7 70.6,274.5 70.5,265.9 70.4,259.8 70.3,287.2 70.3,280.4 70.2,274.7 70.1,315 70.1,316.1 70,274.4 70,268.5 69.9,283 69.9,265.8 69.8,296.4 69.8,263.9 69.7,290.2 69.7,288.4 69.6,272 69.6,276.5 69.5,297.1 69.5,267.3"/>
<polyline points="268.4,267.6 167.5,252 133.9,290.1 117,291.5 107,286.6 100.2,282.6 95.4,255.3 91.8,259.2 89,304.1 86.8,265.9 84.9,301 83.4,273.1 82.1,274.5 81,278 80.1,261.9 79.2,263.1 78.5,285.1 77.8,290.5 77.2,264.7 76.7,274.4 76.2,277 75.8,284.1 75.4,264.6 75,281.5 74.7,279.7 74.4,269.8 74.1,296.1 73.8,267.6 73.6,288.3 73.3,275.6 73.1,274.2 72.9,290.4 72.7,279.7 72.5,277.1 72.4,290.7 72.2,271 72.1,278.9 71.9,289.4 71.8,262.1 71.6,272.2 71.5,264.5 71.4,274.9 71.3,289.5 71.2,270.5 71.1,267.4 71,264 70.9,270.8 70.8,279.9 70.7,284.6 70.6,294.8 70.6,258.5 70.5,269 70.4,288.6 70.3,313.9 70.3,281.7 70.2,273.9 70.1,259.1 70.1,263.7 70,280.5 70,267.8 69.9,270.6 69.9,342.8 69.8,260.4 69.8,296.3 69.7,276.2 69.7,291.6 69.6,268 69.6,275.1 69.5,265.3 69.5,336.7"/>
<polyline points="268.4,323.1 167.5,296.8 133.9,250.8 117,253.3 107,274.7 100.2,277.9 95.4,293.7 91.8,271.1 89,291.8 86.8,254.5 84.9,257.3 83.4,302.4 82.1,291.7 81,269.5 80.1,265.1 79.2,299.3 78.5,271.9 77.8,268.7 77.2,273.6 76.7,258.3 76.2,297.8 75.8,303.9 75.4,265.9 75,274.2 74.7,271.3 74.4,267 74.1,284 73.8,276.2 73.6,282 73.3,270.2 73.1,309.4 72.9,263.3 72.7,272.3 72.5,264.9 72.4,287.6 72.2,299.7 72.1,288.4 71.9,275.6 71.8,277.1 71.6,271.6 71.5,270.9 71.4,286.8 71.3,263.6 71.2,270.6 71.1,265.6 71,275.6 70.9,261 70.8,291.1 70.7,278.7 70.6,284.4 70.6,274.1 70.5,296.1 70.4,276.7 70.3,288 70.3,336.2 70.2,264.4 70.1,290.7 70.1,277 70,275.1 70,281.4 69.9,258.8 69.9,261.5 69.8,270.6 69.8,257.9 69.7,272.8 69.7,275.7 69.6,319.8 69.6,262.8 69.5,281.3 69.5,296.7"/>
<polyline points="268.4,277.8 167.5,268.1 133.9,264.9 117,286 107,266.8 100.2,287.3 95.4,282 91.8,293.1 89,251 86.8,273.8 84.9,265.6 83.4,276.3 82.1,262.9 81,275.9 80.1,271.9 79.2,275.4 78.5,269.2 77.8,271.4 77.2,269.6 76.7,266.7 76.2,308.3 75.8,265.9 75.4,273.3 75,274.9 74.7,282.3 74.4,256.6 74.1,288.6 73.8,305.2 73.6,304.7 73.3,282.2 73.1,292.7 72.9,285.4 72.7,281.4 72.5,276.3 72.4,284.3 72.2,262.4 72.1,303 71.9,287 71.8,322.3 71.6,286.8 71.5,270.8 71.4,268.8 71.3,276.6 71.2,275.7 71.1,285.8 71,282 70.9,270.5 70.8,285.7 70.7,269.5 70.6,261.3 70.6,302.8 70.5,278.5 70.4,306.8 70.3,321.6 70.3,307.8 70.2,382.1 70.1,289.1 70.1,288.2 70,274.5 70,274.2 69.9,288.5 69.9,264 69.8,274.1 69.8,295.7 69.7,269.5 69.7,266.4 69.6,282.2 69.6,290 69.5,297.6 69.5,290"/>
</g>
<polyline stroke="#000" stroke-width="2.2" points="268.4,262.8 167.5,271.5 133.9,286.8 117,283.9 107,283.1 100.2,298.4 95.4,265.9 91.8,273.6 89,276.2 86.8,277.8 84.9,260.4 83.4,279.7 82.1,263.7 81,265.9 80.1,264.5 79.2,308 78.5,291.3 77.8,270.9 77.2,267.7 76.7,317.4 76.2,273.1 75.8,264 75.4,277.1 75,263.5 74.7,304.5 74.4,272.4 74.1,285.7 73.8,275.2 73.6,266.4 73.3,288.6 73.1,261.2 72.9,280 72.7,278.4 72.5,269.2 72.4,280.6 72.2,271.1 72.1,268.6 71.9,284.8 71.8,261.2 71.6,287.6 71.5,289.1 71.4,297.4 71.3,272.8 71.2,270.7 71.1,273.3 71,298.8 70.9,264.8 70.8,276.4 70.7,292.2 70.6,283.3 70.6,261.2 70.5,296.2 70.4,273.5 70.3,308.7 70.3,271.9 70.2,279.4 70.1,269.6 70.1,280.5 70,266 70,263.7 69.9,261.2 69.9,276.1 69.8,283.5 69.8,269.4 69.7,274.2 69.7,285.4 69.6,264.5 69.6,264.9 69.5,317.4 69.5,289.2"/>
</g>
<g clip-path="url(#cc)" fill="none" stroke-linejoin="round">
<line x1="354.5992" y1="392.0902" x2="572.932" y2="241.2098" stroke="#808080" stroke-width="1.6"/>
<g stroke="#e06a1a" stroke-width="1.1">
<polyline points="400.1,353.6 406.9,353.3 411.9,349.8 412.8,349.2 414.1,348.1 414.1,348 414.3,345.6 416.9,344.3 422,341.1 422,341.8 422.9,341.9 423.7,341.9 424.4,341.8 424.4,342.1 424.4,342.4 424.4,342.8 425.2,342.8 425.3,342.9 425.3,343.2 427.2,341.9 427.2,342 427.7,341.9 427.7,342.3 428.3,342.2 428.7,341.9 428.7,342.3 429.2,342.2 430.5,341.3 431.8,340.2 432.2,340.2 432.2,340.4 434.6,338.8 434.6,338.9 438.8,335.8 439.7,334.7 439.7,334.7 440.7,333.7 441,333.5 441.4,332.6 441.4,332.8 442.3,331.3 442.3,331.5 442.9,331.2 443.3,331.1 443.8,330.8 443.8,330.5 444.7,329.8 446.4,328.7 447.5,328.2 447.5,328 448.6,327.4 449.9,326.5 449.9,326.5 450.6,325.5 450.6,325.8 451.2,325.4 452.5,324.5 453,324.3 453.4,324.2 454,323.9 454.9,323.3 455.6,323 455.8,323 455.8,323.1 456.5,322.8 458.2,321 458.2,321.3 458.2,321.4 459.1,320.8 460.8,319.3 460.8,319.1 461,318.9 461.3,317.9 461.7,317.7 462.3,317.4 462.6,317.3 463.2,316.9 463.9,316.3 464.1,316.4 465,315.8 465,315.7 465.8,315.4 465.8,315.4 465.8,315.6 465.8,315.8 466,315.8 466.7,314.8 467.8,314.2 468.4,314 468.4,314 470.2,312.4 470.9,311.7 470.9,311.7 472,310.8 472.6,310.4 473.3,310 473.3,310.1 473.3,310.3 473.9,310.2 474.3,309.9 475.9,308.1 476.7,307 476.8,307 477.8,306.6 478.5,306.3 478.5,306.5 479.2,305.8 479.8,305.5 479.8,305.7 481.3,303.9 481.6,303.8 481.8,303.4 482.2,303.4 483.5,302.7 484.2,302.2 484.2,301.6 485.5,300.9 486.1,300.8 487,300.3 487.9,299.9 487.9,299.1 488.7,298.9 489.4,298.7 490.5,298 491.1,297.7 491.8,297.6 491.8,297.3 493.6,296.4 498.4,291.9 498.8,291.2 498.8,291.4 499.6,289.1 500.7,288.9 500.7,288.4 504.5,284.2 506,283.7 510.8,279.8 516.2,276 518.8,275.3 526.3,272 532.8,264.2"/>
<polyline points="400.1,357.2 406.9,357.6 411.9,356.6 412.8,355.3 414.1,354.9 414.1,351.9 414.3,352.2 416.9,350.1 422,346.6 422,345.1 422.9,343.4 423.7,343.5 424.4,343.1 424.4,341.7 424.4,342.2 424.4,342.3 425.2,342.1 425.3,341.9 425.3,342.2 427.2,341 427.2,340.9 427.7,340.9 427.7,340.7 428.3,340.7 428.7,340.7 428.7,340.9 429.2,340.5 430.5,339.8 431.8,338.4 432.2,338.4 432.2,337.6 434.6,336.2 434.6,336.5 438.8,333.4 439.7,332.6 439.7,332.2 440.7,331.8 441,331.5 441.4,331.5 441.4,331.8 442.3,331.2 442.3,331.3 442.9,329.9 443.3,329.5 443.8,329.3 443.8,329.5 444.7,328.8 446.4,328 447.5,327.3 447.5,327.6 448.6,327 449.9,326.1 449.9,326 450.6,325.7 450.6,326 451.2,325.6 452.5,324.9 453,324.5 453.4,323.9 454,323.7 454.9,323.3 455.6,322.7 455.8,322.6 455.8,322.8 456.5,322.3 458.2,321.2 458.2,321.1 458.2,321.2 459.1,320.4 460.8,319.4 460.8,319.6 461,319.5 461.3,319.2 461.7,318.9 462.3,318.7 462.6,318.5 463.2,318.2 463.9,317.8 464.1,317.4 465,316.7 465,316.9 465.8,316.5 465.8,316.7 465.8,316.9 465.8,317.1 466,315.7 466.7,315 467.8,314 468.4,313.7 468.4,313.4 470.2,312 470.9,311.1 470.9,310.5 472,309.5 472.6,309.2 473.3,308.8 473.3,308.4 473.3,307.6 473.9,307.3 474.3,307.2 475.9,306.2 476.7,305.7 476.8,305.3 477.8,304.7 478.5,304.3 478.5,303.7 479.2,303.4 479.8,302.5 479.8,302.9 481.3,301.4 481.6,301.3 481.8,301.4 482.2,301 483.5,299.4 484.2,298.8 484.2,298.9 485.5,298.1 486.1,297.4 487,297 487.9,296.5 487.9,296.6 488.7,296.5 489.4,295.4 490.5,295 491.1,294.3 491.8,294.3 491.8,294.7 493.6,293.8 498.4,290.4 498.8,289.7 498.8,288.3 499.6,286.6 500.7,286.4 500.7,286.8 504.5,283.7 506,283.4 510.8,280.1 516.2,277.7 518.8,274.7 526.3,263.9 532.8,263.1"/>
<polyline points="400.1,370.6 406.9,368.7 411.9,365.4 412.8,353.8 414.1,353.6 414.1,352.5 414.3,353.5 416.9,352.1 422,347.8 422,348.1 422.9,348 423.7,347.4 424.4,347.5 424.4,348.1 424.4,348.6 424.4,348.2 425.2,347.9 425.3,347.6 425.3,347.6 427.2,345.6 427.2,345.9 427.7,345.7 427.7,345.6 428.3,345 428.7,344.8 428.7,344.5 429.2,343.8 430.5,343.1 431.8,340.7 432.2,340.6 432.2,340.9 434.6,339.3 434.6,339.5 438.8,336.6 439.7,336.2 439.7,336.5 440.7,336.1 441,335.8 441.4,335.5 441.4,335.8 442.3,335 442.3,335.2 442.9,334.9 443.3,334.1 443.8,333.6 443.8,333.5 444.7,332.9 446.4,331.8 447.5,331.2 447.5,331.1 448.6,330.1 449.9,329.2 449.9,329.4 450.6,329 450.6,329.2 451.2,329.1 452.5,328.4 453,328 453.4,328 454,327.6 454.9,327 455.6,325.9 455.8,325.3 455.8,325.4 456.5,325 458.2,324.1 458.2,324.3 458.2,324.2 459.1,322.4 460.8,321.2 460.8,321.5 461,321.5 461.3,321.5 461.7,321.5 462.3,321.4 462.6,320.5 463.2,320 463.9,319.2 464.1,318.1 465,317.1 465,317.3 465.8,317 465.8,317.2 465.8,317.4 465.8,316.9 466,316.6 466.7,316.1 467.8,315.5 468.4,315.2 468.4,315.2 470.2,314 470.9,313.6 470.9,313.1 472,312.6 472.6,312.2 473.3,311.9 473.3,311.6 473.3,311.7 473.9,311.5 474.3,311.6 475.9,310.6 476.7,310.4 476.8,310.6 477.8,307.8 478.5,307.3 478.5,307.5 479.2,307.4 479.8,307.3 479.8,307.5 481.3,306.7 481.6,305.9 481.8,305.8 482.2,305.7 483.5,304.7 484.2,304.4 484.2,304.8 485.5,304.2 486.1,303.9 487,303.5 487.9,303 487.9,303.1 488.7,302.1 489.4,301.7 490.5,300.7 491.1,300.5 491.8,299.8 491.8,300.2 493.6,299.5 498.4,296.1 498.8,296.1 498.8,296.2 499.6,295.3 500.7,294.7 500.7,293.4 504.5,291.4 506,290.7 510.8,287.1 516.2,284.7 518.8,284 526.3,279.2 532.8,278.9"/>
<polyline points="400.1,375.3 406.9,370 411.9,362 412.8,355.7 414.1,355.1 414.1,355.8 414.3,355.1 416.9,352.3 422,348.5 422,349.3 422.9,348.6 423.7,348.3 424.4,347.1 424.4,347.5 424.4,347.9 424.4,344.6 425.2,344.3 425.3,344.4 425.3,344.2 427.2,342.8 427.2,343.2 427.7,343.1 427.7,343.1 428.3,343.1 428.7,342.3 428.7,342.6 429.2,342 430.5,341.4 431.8,340.7 432.2,340.8 432.2,340.5 434.6,338.4 434.6,338.1 438.8,335 439.7,334.4 439.7,334 440.7,333.6 441,333.6 441.4,333.3 441.4,333.5 442.3,332.7 442.3,332.7 442.9,332.5 443.3,331.6 443.8,330.6 443.8,330.7 444.7,329.7 446.4,328.3 447.5,327.7 447.5,327.8 448.6,327 449.9,326 449.9,326 450.6,325.8 450.6,326 451.2,325.4 452.5,324.6 453,324.1 453.4,323.1 454,322.5 454.9,322 455.6,321.8 455.8,321.6 455.8,321.8 456.5,320.9 458.2,319.9 458.2,320.1 458.2,320.2 459.1,319.8 460.8,318.8 460.8,319.1 461,318.7 461.3,318.1 461.7,317.6 462.3,317.5 462.6,317.4 463.2,317.3 463.9,317.1 464.1,317 465,316.7 465,316.8 465.8,316.6 465.8,316.5 465.8,316.8 465.8,317 466,316.5 466.7,316.3 467.8,316 468.4,315.7 468.4,315.9 470.2,315 470.9,314.6 470.9,314.5 472,313.6 472.6,313.5 473.3,313.4 473.3,313.1 473.3,313.3 473.9,313.1 474.3,313 475.9,311.2 476.7,311 476.8,310.9 477.8,310.5 478.5,310.3 478.5,310.4 479.2,309.9 479.8,309.5 479.8,309.5 481.3,309 481.6,308.7 481.8,308.5 482.2,308.5 483.5,308.1 484.2,308 484.2,308.4 485.5,307 486.1,306.6 487,305.1 487.9,304.5 487.9,304.9 488.7,304.1 489.4,303.9 490.5,302.6 491.1,302.7 491.8,302.1 491.8,302.3 493.6,301.6 498.4,299.3 498.8,299.4 498.8,298.3 499.6,298.6 500.7,297.9 500.7,297.5 504.5,295.3 506,295.1 510.8,293.4 516.2,291.2 518.8,289.4 526.3,287.5 532.8,289.1"/>
<polyline points="400.1,365 406.9,361 411.9,357.5 412.8,357.5 414.1,356.6 414.1,353.4 414.3,354.4 416.9,351.3 422,347.3 422,347 422.9,346.7 423.7,346 424.4,345.1 424.4,345.7 424.4,345.9 424.4,346.4 425.2,345.5 425.3,345.4 425.3,345 427.2,343.9 427.2,344 427.7,343.4 427.7,342.9 428.3,342 428.7,341.6 428.7,341.9 429.2,341.7 430.5,340.8 431.8,339.5 432.2,339.3 432.2,339.3 434.6,337.8 434.6,338 438.8,334.9 439.7,334.5 439.7,334.6 440.7,334 441,333.8 441.4,333.5 441.4,333.1 442.3,332.4 442.3,332.7 442.9,332.3 443.3,332.3 443.8,332 443.8,332.1 444.7,331.4 446.4,330.4 447.5,329.7 447.5,329.8 448.6,328.7 449.9,327.4 449.9,326.5 450.6,325.9 450.6,325.9 451.2,325.1 452.5,324.1 453,323.3 453.4,323.1 454,322.3 454.9,320.9 455.6,320.6 455.8,320.7 455.8,320.7 456.5,320.2 458.2,319.1 458.2,319.3 458.2,318.5 459.1,317.9 460.8,316.5 460.8,316.7 461,316.5 461.3,316.4 461.7,316.1 462.3,316 462.6,315.7 463.2,315.1 463.9,314.8 464.1,314.8 465,314.4 465,314.7 465.8,314.3 465.8,314.3 465.8,314.1 465.8,314.1 466,313.7 466.7,313.1 467.8,312.4 468.4,311.1 468.4,310.8 470.2,309.7 470.9,309.4 470.9,309.6 472,309 472.6,308.1 473.3,307.5 473.3,306.8 473.3,306.7 473.9,306.5 474.3,306.2 475.9,305.2 476.7,304.9 476.8,304.2 477.8,303.6 478.5,303.4 478.5,303.7 479.2,303.3 479.8,303.2 479.8,303.5 481.3,302.5 481.6,302.4 481.8,302.3 482.2,301.7 483.5,300.7 484.2,300.3 484.2,300.1 485.5,299.3 486.1,299 487,297 487.9,296.1 487.9,296.2 488.7,296.1 489.4,296 490.5,295.3 491.1,295.3 491.8,295 491.8,295.3 493.6,291 498.4,287.8 498.8,287.1 498.8,287.5 499.6,286.5 500.7,285.9 500.7,286.3 504.5,281.4 506,281.3 510.8,279 516.2,276.6 518.8,275.6 526.3,268 532.8,258.6"/>
<polyline points="400.1,361.4 406.9,354.4 411.9,349.6 412.8,348.2 414.1,347.2 414.1,344.1 414.3,345 416.9,343.8 422,341.4 422,340.4 422.9,338.8 423.7,337.1 424.4,337.4 424.4,337.5 424.4,338 424.4,337.9 425.2,337.8 425.3,338 425.3,338.3 427.2,337.7 427.2,338 427.7,337.9 427.7,337.9 428.3,337.8 428.7,337.8 428.7,338.2 429.2,338.1 430.5,337.3 431.8,336.6 432.2,335.3 432.2,335.5 434.6,333 434.6,333.1 438.8,330.5 439.7,330 439.7,330.1 440.7,329.9 441,328.6 441.4,328.5 441.4,328.1 442.3,327.6 442.3,327.7 442.9,327.4 443.3,327.3 443.8,327.2 443.8,327.1 444.7,326.7 446.4,325.9 447.5,325.5 447.5,325.8 448.6,325.3 449.9,324.8 449.9,324.8 450.6,324.4 450.6,324.5 451.2,324.4 452.5,323.6 453,323.4 453.4,323.1 454,323 454.9,321.5 455.6,321.3 455.8,321.3 455.8,321.5 456.5,319.7 458.2,319 458.2,319.1 458.2,318.9 459.1,318.4 460.8,317.4 460.8,317.4 461,317.4 461.3,316.7 461.7,316.8 462.3,316.7 462.6,316.7 463.2,316.6 463.9,316.3 464.1,316.3 465,315.5 465,315.7 465.8,315 465.8,315.2 465.8,315.1 465.8,315.3 466,315.4 466.7,315 467.8,314.3 468.4,314.1 468.4,314.3 470.2,313.6 470.9,313.4 470.9,313.5 472,313.1 472.6,313.1 473.3,312.8 473.3,313 473.3,313.2 473.9,312.9 474.3,312.1 475.9,311.5 476.7,311.2 476.8,310.9 477.8,310.5 478.5,310.1 478.5,310.1 479.2,309.5 479.8,308.8 479.8,308.6 481.3,307.5 481.6,307.6 481.8,307.8 482.2,307 483.5,306 484.2,305.9 484.2,306.3 485.5,305.4 486.1,305.5 487,305.4 487.9,305.2 487.9,304.8 488.7,304.5 489.4,304.1 490.5,303.8 491.1,303.8 491.8,303.8 491.8,303 493.6,301.2 498.4,298.5 498.8,298.6 498.8,298.9 499.6,299 500.7,295.8 500.7,296.7 504.5,293.8 506,292.7 510.8,290.3 516.2,286.8 518.8,282.2 526.3,280.3 532.8,272.4"/>
<polyline points="400.1,362.8 406.9,361.6 411.9,351.7 412.8,352.6 414.1,352.6 414.1,351.6 414.3,351.2 416.9,349.4 422,346.2 422,346 422.9,346 423.7,345.4 424.4,344.5 424.4,344.7 424.4,342.9 424.4,343 425.2,342.8 425.3,342.1 425.3,342.6 427.2,340.2 427.2,339.9 427.7,339.9 427.7,340.2 428.3,339.2 428.7,339.2 428.7,339.4 429.2,339.3 430.5,337.9 431.8,336.4 432.2,336.5 432.2,336.6 434.6,335 434.6,335.3 438.8,332.6 439.7,332.2 439.7,332.4 440.7,331.5 441,331.2 441.4,329.8 441.4,330 442.3,329.7 442.3,329.9 442.9,329.5 443.3,329.5 443.8,328.7 443.8,328.9 444.7,328.3 446.4,327.3 447.5,326.8 447.5,327 448.6,326.3 449.9,325.5 449.9,325.7 450.6,325 450.6,325.1 451.2,323.8 452.5,323.2 453,322.9 453.4,322.8 454,322.6 454.9,321.9 455.6,320 455.8,319.9 455.8,319.4 456.5,318.9 458.2,317.7 458.2,317.6 458.2,317.5 459.1,317 460.8,315.7 460.8,315.9 461,316 461.3,315.9 461.7,315.7 462.3,315.5 462.6,315.2 463.2,314.6 463.9,314.2 464.1,314.1 465,313.6 465,313.9 465.8,313.4 465.8,313.4 465.8,313.5 465.8,313.8 466,313.2 466.7,312.8 467.8,311.4 468.4,311.2 468.4,311.2 470.2,309.7 470.9,309.2 470.9,308.3 472,307.4 472.6,306.6 473.3,306.2 473.3,306 473.3,305.9 473.9,305.8 474.3,305.7 475.9,304.3 476.7,303.5 476.8,303.3 477.8,302.7 478.5,302.3 478.5,302.6 479.2,302.2 479.8,301 479.8,300.9 481.3,299.5 481.6,299.4 481.8,299.3 482.2,298.6 483.5,297.8 484.2,297.1 484.2,297.2 485.5,296.4 486.1,296.3 487,295.9 487.9,295.1 487.9,295.5 488.7,295.2 489.4,293.7 490.5,293.2 491.1,293 491.8,292.3 491.8,292.6 493.6,290.9 498.4,287.3 498.8,286.7 498.8,286.9 499.6,286.4 500.7,286.3 500.7,286.5 504.5,283.1 506,281.8 510.8,278.7 516.2,274.6 518.8,274 526.3,265.1 532.8,253.6"/>
<polyline points="400.1,357.7 406.9,356.7 411.9,354.9 412.8,353.6 414.1,352.4 414.1,351.7 414.3,351.3 416.9,348.8 422,345.6 422,344 422.9,343.5 423.7,343.6 424.4,342.4 424.4,342.6 424.4,342.2 424.4,342.5 425.2,341.3 425.3,341.4 425.3,341.5 427.2,340 427.2,340.4 427.7,340.3 427.7,340.2 428.3,340.1 428.7,340.2 428.7,340.5 429.2,339.8 430.5,338.2 431.8,337 432.2,336.9 432.2,337.2 434.6,335.6 434.6,335.6 438.8,332.5 439.7,331.8 439.7,332.1 440.7,331.7 441,331.7 441.4,331.6 441.4,330.6 442.3,329.8 442.3,329.4 442.9,328.9 443.3,328.9 443.8,328.7 443.8,329 444.7,328.5 446.4,327.4 447.5,326.5 447.5,326.7 448.6,325.9 449.9,324.9 449.9,324.9 450.6,324.6 450.6,324.5 451.2,324.3 452.5,323.6 453,323 453.4,322.5 454,322 454.9,321.5 455.6,320.9 455.8,321 455.8,321.2 456.5,320.8 458.2,319.2 458.2,319.3 458.2,319.4 459.1,318.9 460.8,317.6 460.8,317.4 461,317.5 461.3,317.2 461.7,317.2 462.3,317 462.6,316.8 463.2,316.5 463.9,316.1 464.1,316 465,315.5 465,315.7 465.8,315.2 465.8,314.8 465.8,314.4 465.8,314.6 466,314.6 466.7,314.1 467.8,313.2 468.4,312.7 468.4,312.9 470.2,311.1 470.9,310.3 470.9,310.5 472,308.2 472.6,307.9 473.3,307.5 473.3,306.5 473.3,306.6 473.9,306.2 474.3,305.7 475.9,304.7 476.7,304.4 476.8,304.1 477.8,303.5 478.5,303.1 478.5,303.3 479.2,302.9 479.8,302.7 479.8,303 481.3,302.1 481.6,301.9 481.8,302 482.2,301.7 483.5,300.8 484.2,299.9 484.2,300.1 485.5,299.5 486.1,299.4 487,299 487.9,298.5 487.9,298.5 488.7,298.5 489.4,298.1 490.5,297.5 491.1,297.1 491.8,296.3 491.8,296.8 493.6,295.2 498.4,292 498.8,291.9 498.8,290.9 499.6,289.7 500.7,289.4 500.7,288.6 504.5,286.6 506,286.2 510.8,281.5 516.2,278.5 518.8,275.3 526.3,267.5 532.8,266.6"/>
<polyline points="400.1,372.2 406.9,358.3 411.9,352 412.8,352.2 414.1,352.3 414.1,352.9 414.3,353.7 416.9,351.5 422,348.1 422,348 422.9,347.9 423.7,347.9 424.4,347.8 424.4,348.4 424.4,348.5 424.4,349.1 425.2,348.9 425.3,348.6 425.3,348.2 427.2,344 427.2,344.1 427.7,343.5 427.7,343.8 428.3,343.5 428.7,342.9 428.7,341.7 429.2,340.4 430.5,339.1 431.8,338.5 432.2,338.6 432.2,338.8 434.6,337.2 434.6,336.9 438.8,333.7 439.7,333.3 439.7,333.7 440.7,333.2 441,333.1 441.4,332.8 441.4,333.1 442.3,332.7 442.3,332.8 442.9,332.1 443.3,332 443.8,331.5 443.8,331.6 444.7,331.1 446.4,330 447.5,329 447.5,329.2 448.6,328.3 449.9,327.5 449.9,327.2 450.6,326.8 450.6,326.6 451.2,326.3 452.5,325.5 453,325.3 453.4,325.3 454,325.1 454.9,324.6 455.6,324.1 455.8,324.2 455.8,324.2 456.5,323.7 458.2,322.3 458.2,322.6 458.2,322.2 459.1,321.4 460.8,320.3 460.8,320.6 461,320.4 461.3,320.2 461.7,320.1 462.3,319.8 462.6,319.2 463.2,319 463.9,318.5 464.1,318.2 465,317.6 465,317.8 465.8,316.9 465.8,316.8 465.8,317 465.8,316.9 466,317 466.7,316.6 467.8,315.9 468.4,315.7 468.4,316 470.2,314.5 470.9,314 470.9,314.1 472,313.2 472.6,312.7 473.3,312.1 473.3,312.3 473.3,312.5 473.9,312.4 474.3,311.9 475.9,310 476.7,309.4 476.8,308.3 477.8,307.9 478.5,307.1 478.5,307.1 479.2,306.9 479.8,306.1 479.8,306.3 481.3,305.3 481.6,305.2 481.8,303.5 482.2,302.4 483.5,301.2 484.2,300.8 484.2,300.9 485.5,300.2 486.1,300 487,299.2 487.9,298.6 487.9,298.8 488.7,298.6 489.4,298.5 490.5,298 491.1,298 491.8,297.1 491.8,297.6 493.6,296.5 498.4,293.2 498.8,293.5 498.8,293.2 499.6,291.7 500.7,291.1 500.7,292 504.5,289.1 506,289.1 510.8,284.3 516.2,278 518.8,277.5 526.3,274.1 532.8,267.6"/>
<polyline points="400.1,361.9 406.9,355.6 411.9,353.1 412.8,353.6 414.1,353 414.1,352.9 414.3,352.3 416.9,350.6 422,346.9 422,347.2 422.9,345.8 423.7,344.8 424.4,344.9 424.4,345.5 424.4,345.1 424.4,343.4 425.2,342.8 425.3,342.7 425.3,343.2 427.2,340.2 427.2,340.5 427.7,340.2 427.7,340.3 428.3,339.9 428.7,339.1 428.7,339.2 429.2,339 430.5,338.1 431.8,336.8 432.2,336.5 432.2,335.7 434.6,334 434.6,334.2 438.8,331.4 439.7,330.9 439.7,331.1 440.7,330.1 441,329.6 441.4,329.5 441.4,329.6 442.3,329.1 442.3,329.3 442.9,329.2 443.3,329.2 443.8,327.9 443.8,328.1 444.7,327.6 446.4,326.5 447.5,325.7 447.5,325.7 448.6,325.1 449.9,323.6 449.9,323.1 450.6,322.4 450.6,322.4 451.2,322.3 452.5,321.3 453,320.4 453.4,320 454,319.7 454.9,319 455.6,318.6 455.8,318.6 455.8,318.8 456.5,318.4 458.2,317.2 458.2,317 458.2,317.1 459.1,316.5 460.8,315.4 460.8,315.6 461,315.6 461.3,315.3 461.7,315.3 462.3,315.1 462.6,315.1 463.2,314.7 463.9,314.4 464.1,314.5 465,313.7 465,313.7 465.8,313.3 465.8,313.5 465.8,313.7 465.8,314 466,314.1 466.7,313.5 467.8,312.4 468.4,312.2 468.4,311.8 470.2,310.6 470.9,310.2 470.9,310.4 472,309.7 472.6,309.4 473.3,309.1 473.3,309.3 473.3,309.6 473.9,309.3 474.3,308.8 475.9,306.9 476.7,306 476.8,306.1 477.8,305.5 478.5,304.3 478.5,304.4 479.2,304.1 479.8,304 479.8,304.2 481.3,302.1 481.6,301.1 481.8,301 482.2,300.9 483.5,300 484.2,299.3 484.2,299.4 485.5,298.8 486.1,298.2 487,297.2 487.9,296.2 487.9,296.6 488.7,296.3 489.4,296.2 490.5,295.5 491.1,295.6 491.8,295.1 491.8,294.2 493.6,292.2 498.4,289 498.8,288.9 498.8,288 499.6,287.4 500.7,285.6 500.7,286.1 504.5,284.1 506,283.7 510.8,280.1 516.2,276.4 518.8,275 526.3,271.4 532.8,265"/>
<polyline points="400.1,358.5 406.9,357.1 411.9,353.8 412.8,354.8 414.1,355.2 414.1,352.9 414.3,353.1 416.9,351.6 422,349 422,348.8 422.9,348.9 423.7,348.4 424.4,348.5 424.4,349 424.4,348.8 424.4,349.3 425.2,348.7 425.3,347 425.3,346.7 427.2,345.8 427.2,343.7 427.7,343.2 427.7,343.2 428.3,342.7 428.7,342.8 428.7,342.9 429.2,341 430.5,340.5 431.8,339.8 432.2,339.9 432.2,340.2 434.6,338.9 434.6,338.5 438.8,336 439.7,334.9 439.7,335.1 440.7,333.3 441,333 441.4,332.4 441.4,332.6 442.3,332.2 442.3,332.4 442.9,332.3 443.3,332.3 443.8,332.1 443.8,332.4 444.7,331.9 446.4,330.4 447.5,329.5 447.5,329.4 448.6,328.7 449.9,327.6 449.9,327.9 450.6,327.4 450.6,326.8 451.2,326.3 452.5,325.7 453,325.1 453.4,324.6 454,324.4 454.9,323.7 455.6,323.4 455.8,323.6 455.8,323.6 456.5,323 458.2,321.7 458.2,321.4 458.2,321.6 459.1,321.3 460.8,320.5 460.8,320.6 461,320.6 461.3,320.5 461.7,320.5 462.3,320.1 462.6,319.7 463.2,319.5 463.9,318.5 464.1,317.8 465,317.5 465,317.6 465.8,316.6 465.8,316.8 465.8,317 465.8,317.3 466,317.3 466.7,315.9 467.8,315.3 468.4,315.1 468.4,314.9 470.2,313.9 470.9,313.4 470.9,312.8 472,311.8 472.6,311.7 473.3,311.2 473.3,311.4 473.3,311.5 473.9,311.4 474.3,311 475.9,310 476.7,309.7 476.8,309.6 477.8,308.2 478.5,308.1 478.5,308.2 479.2,307.2 479.8,306.9 479.8,307.2 481.3,306.5 481.6,305.6 481.8,305 482.2,305 483.5,304.5 484.2,303.7 484.2,303.5 485.5,302.5 486.1,302 487,301.8 487.9,301.6 487.9,301.9 488.7,301.7 489.4,301.1 490.5,300.6 491.1,300.6 491.8,300.5 491.8,300.6 493.6,299.4 498.4,296 498.8,295.1 498.8,295.7 499.6,295.7 500.7,293.4 500.7,293.8 504.5,290.6 506,289.9 510.8,288.1 516.2,282.4 518.8,282.5 526.3,275.9 532.8,272.4"/>
<polyline points="400.1,356.7 406.9,351.6 411.9,350.3 412.8,349.3 414.1,349.8 414.1,346.2 414.3,346.1 416.9,343.5 422,341 422,341.1 422.9,341.1 423.7,341.1 424.4,340.3 424.4,339.5 424.4,339.1 424.4,339.7 425.2,339.7 425.3,339.9 425.3,339.5 427.2,338.8 427.2,339.2 427.7,338.5 427.7,339 428.3,338.7 428.7,338.4 428.7,338.7 429.2,338.4 430.5,337.4 431.8,336.9 432.2,336.5 432.2,336.4 434.6,335.1 434.6,335 438.8,332.4 439.7,331.4 439.7,331.4 440.7,330.8 441,330.8 441.4,330.7 441.4,330.9 442.3,329.6 442.3,329.7 442.9,329 443.3,328.9 443.8,328.8 443.8,328.9 444.7,327.9 446.4,326.3 447.5,324.9 447.5,325 448.6,324.4 449.9,323.7 449.9,323.9 450.6,323.4 450.6,323.2 451.2,322 452.5,321 453,320.6 453.4,320.5 454,319.9 454.9,319.5 455.6,318.5 455.8,318.6 455.8,318.6 456.5,318.4 458.2,317.5 458.2,317.6 458.2,317.6 459.1,317.3 460.8,316.3 460.8,316.4 461,316.1 461.3,316.1 461.7,316.1 462.3,316 462.6,315.8 463.2,315.4 463.9,315.2 464.1,315.1 465,314.3 465,314.1 465.8,313.8 465.8,313.9 465.8,313.7 465.8,313.6 466,313.2 466.7,312.9 467.8,312.2 468.4,311.7 468.4,311.9 470.2,311 470.9,310.8 470.9,310.8 472,310.3 472.6,310.1 473.3,309.7 473.3,309.8 473.3,309.3 473.9,308.5 474.3,308.4 475.9,307.7 476.7,307.5 476.8,307.7 477.8,307.4 478.5,306.9 478.5,307.2 479.2,307 479.8,307 479.8,307.1 481.3,306.3 481.6,306.2 481.8,306.3 482.2,306 483.5,305.6 484.2,304.9 484.2,304.5 485.5,303.5 486.1,303.5 487,302.9 487.9,301.3 487.9,301.7 488.7,301.6 489.4,301.5 490.5,300.8 491.1,300.2 491.8,300.2 491.8,300.1 493.6,299.6 498.4,296.3 498.8,296.7 498.8,294.7 499.6,294.5 500.7,294.2 500.7,294.7 504.5,290.7 506,290.8 510.8,287 516.2,284 518.8,278 526.3,274.9 532.8,269.7"/>
<polyline points="400.1,367.4 406.9,360.1 411.9,357 412.8,355.5 414.1,354.7 414.1,354.6 414.3,353.3 416.9,350.9 422,346.3 422,346.2 422.9,346.3 423.7,345.8 424.4,345.9 424.4,344.4 424.4,343.8 424.4,343.4 425.2,343.4 425.3,343.2 425.3,342.8 427.2,341.9 427.2,342.1 427.7,341.3 427.7,341.4 428.3,340.4 428.7,340 428.7,339.7 429.2,339.3 430.5,337.7 431.8,337.2 432.2,335.9 432.2,336.2 434.6,334 434.6,334 438.8,331 439.7,330.1 439.7,330.4 440.7,329.9 441,329.7 441.4,329.8 441.4,329.3 442.3,328.7 442.3,328.4 442.9,327.7 443.3,327.7 443.8,327.4 443.8,327.4 444.7,327 446.4,325.5 447.5,325 447.5,325.2 448.6,324.2 449.9,323.3 449.9,323.4 450.6,323 450.6,323.2 451.2,323 452.5,322.2 453,321.8 453.4,321.3 454,321.1 454.9,320.6 455.6,320.2 455.8,320.3 455.8,320.4 456.5,320 458.2,319 458.2,318.7 458.2,318.7 459.1,317.9 460.8,316.7 460.8,316.7 461,316.8 461.3,316.7 461.7,316.4 462.3,316.2 462.6,316 463.2,315.8 463.9,315.4 464.1,314.8 465,314.1 465,314.4 465.8,314 465.8,314.1 465.8,314.1 465.8,314 466,313.6 466.7,313.1 467.8,312.4 468.4,312.2 468.4,312.5 470.2,310.7 470.9,310.1 470.9,310 472,309.2 472.6,309.1 473.3,308.7 473.3,308.7 473.3,308.8 473.9,307.9 474.3,307.9 475.9,307 476.7,306.4 476.8,306.4 477.8,304.7 478.5,304.5 478.5,304.5 479.2,304.1 479.8,304 479.8,303.9 481.3,303.1 481.6,303.1 481.8,302.3 482.2,302.1 483.5,301.5 484.2,301.2 484.2,301 485.5,298.3 486.1,297.4 487,297.1 487.9,296.8 487.9,297.2 488.7,296.8 489.4,296.6 490.5,296.4 491.1,296.3 491.8,296 491.8,295.8 493.6,294.8 498.4,290.6 498.8,289.8 498.8,290.3 499.6,288.9 500.7,287.5 500.7,287.7 504.5,285.6 506,285.4 510.8,281.7 516.2,279.5 518.8,278.1 526.3,273.8 532.8,269.7"/>
<polyline points="400.1,364.2 406.9,360.4 411.9,359.5 412.8,350.6 414.1,349.9 414.1,348.6 414.3,348.9 416.9,348.2 422,345.8 422,346.6 422.9,346.6 423.7,346.3 424.4,344.8 424.4,344.2 424.4,342 424.4,342 425.2,341.1 425.3,341.3 425.3,341.5 427.2,340.5 427.2,341 427.7,340.6 427.7,341 428.3,341.1 428.7,339.6 428.7,339.5 429.2,339.4 430.5,338.6 431.8,337.1 432.2,336.6 432.2,336.8 434.6,335.3 434.6,335.5 438.8,332.7 439.7,331.1 439.7,331.4 440.7,331 441,330.9 441.4,330.7 441.4,331 442.3,330.7 442.3,330.6 442.9,330 443.3,330.1 443.8,329.9 443.8,330.1 444.7,329.7 446.4,328.5 447.5,328 447.5,327.7 448.6,326.9 449.9,326.2 449.9,326.5 450.6,325.6 450.6,325.3 451.2,325.1 452.5,323.7 453,323.5 453.4,323.5 454,323 454.9,322.3 455.6,321.8 455.8,321.7 455.8,321.8 456.5,321.5 458.2,320.5 458.2,320.5 458.2,320.7 459.1,320.3 460.8,319.4 460.8,319.6 461,318.9 461.3,318.7 461.7,318.5 462.3,318.4 462.6,318.4 463.2,318 463.9,317.6 464.1,317.5 465,316.9 465,317 465.8,316.6 465.8,316 465.8,316.3 465.8,315.9 466,316 466.7,315 467.8,314.4 468.4,314.2 468.4,314.5 470.2,313.5 470.9,313.2 470.9,313.3 472,312.6 472.6,312.3 473.3,311.9 473.3,311.8 473.3,312.1 473.9,311.8 474.3,311.8 475.9,310.7 476.7,310.5 476.8,309.9 477.8,308.6 478.5,308.3 478.5,308.3 479.2,307.7 479.8,307.2 479.8,307.4 481.3,306.1 481.6,305.2 481.8,305.3 482.2,304.9 483.5,304.2 484.2,303.6 484.2,303.9 485.5,302.3 486.1,301.7 487,301.4 487.9,300.3 487.9,300.5 488.7,299.7 489.4,299.5 490.5,298.1 491.1,298 491.8,298 491.8,298 493.6,296.3 498.4,291.8 498.8,292 498.8,292.6 499.6,292.7 500.7,291.3 500.7,292.1 504.5,288.8 506,289 510.8,284.8 516.2,279.2 518.8,278.3 526.3,269.3 532.8,268.9"/>
<polyline points="400.1,361.8 406.9,359.2 411.9,357.9 412.8,356.1 414.1,353.9 414.1,353.3 414.3,352.7 416.9,351.8 422,348 422,348.6 422.9,348.8 423.7,348.3 424.4,348.1 424.4,346.9 424.4,347.3 424.4,347 425.2,346.8 425.3,346.9 425.3,345.9 427.2,344.6 427.2,343.9 427.7,343.9 427.7,343.8 428.3,343.4 428.7,343.1 428.7,343.5 429.2,342.9 430.5,341.6 431.8,340.8 432.2,340.6 432.2,340.9 434.6,339.2 434.6,339.5 438.8,336.9 439.7,336.4 439.7,336.4 440.7,335.8 441,335.6 441.4,335.6 441.4,335.9 442.3,335.1 442.3,335.1 442.9,334.6 443.3,334.4 443.8,334.2 443.8,333.3 444.7,332.8 446.4,331.8 447.5,331.1 447.5,331.3 448.6,330 449.9,328.3 449.9,328.1 450.6,327.7 450.6,327.9 451.2,327.6 452.5,326.3 453,326 453.4,325.3 454,324.7 454.9,324 455.6,323.5 455.8,323.4 455.8,323.4 456.5,322.4 458.2,320.8 458.2,321 458.2,320.9 459.1,320.4 460.8,318.9 460.8,319.1 461,319.1 461.3,318.9 461.7,318.5 462.3,317.7 462.6,317.2 463.2,316.8 463.9,316.3 464.1,315.8 465,315.1 465,314.8 465.8,314 465.8,313.9 465.8,313.9 465.8,313.6 466,313.3 466.7,312.6 467.8,311.8 468.4,311.4 468.4,311.6 470.2,310 470.9,309.6 470.9,309 472,307.8 472.6,307.5 473.3,305.9 473.3,305.9 473.3,306.1 473.9,305.9 474.3,305.6 475.9,304.3 476.7,303.9 476.8,303.8 477.8,303.2 478.5,302.5 478.5,302.4 479.2,301.5 479.8,301 479.8,301.2 481.3,299.9 481.6,300 481.8,300.2 482.2,300 483.5,298.8 484.2,298.3 484.2,298.7 485.5,297.9 486.1,296.5 487,295.5 487.9,294.9 487.9,294.6 488.7,294.3 489.4,293.8 490.5,292.8 491.1,292.2 491.8,291.5 491.8,292 493.6,291 498.4,287.4 498.8,287.3 498.8,286.6 499.6,286.5 500.7,285.4 500.7,284 504.5,281.4 506,276.7 510.8,273.8 516.2,270.8 518.8,269.4 526.3,257 532.8,256.6"/>
<polyline points="400.1,358.7 406.9,355.9 411.9,352.3 412.8,353 414.1,353 414.1,354.2 414.3,354.8 416.9,353.2 422,349.7 422,349.7 422.9,349.3 423.7,348.5 424.4,347.6 424.4,347.6 424.4,347.2 424.4,345.8 425.2,345.5 425.3,345.4 425.3,345.2 427.2,344.3 427.2,344.5 427.7,344 427.7,343.9 428.3,343.5 428.7,343.2 428.7,342.8 429.2,342.5 430.5,342 431.8,341.4 432.2,340.9 432.2,341 434.6,338.9 434.6,339 438.8,335.1 439.7,334.2 439.7,334.3 440.7,333 441,332.6 441.4,332.3 441.4,332.5 442.3,331.6 442.3,331.3 442.9,331 443.3,331 443.8,330.6 443.8,330 444.7,328.8 446.4,327.7 447.5,326.4 447.5,326.7 448.6,325.8 449.9,324.8 449.9,325.1 450.6,324.5 450.6,323.8 451.2,323.5 452.5,322.2 453,321.6 453.4,321.5 454,321.3 454.9,320.8 455.6,320 455.8,320.1 455.8,320.3 456.5,319.8 458.2,318.5 458.2,318.7 458.2,318.9 459.1,318.1 460.8,315.7 460.8,315.9 461,316 461.3,315.6 461.7,315.3 462.3,315 462.6,315 463.2,314.8 463.9,314.5 464.1,314.5 465,314 465,313.9 465.8,313.3 465.8,313.5 465.8,313.1 465.8,312.8 466,311.4 466.7,311.1 467.8,310.5 468.4,310 468.4,310 470.2,308.6 470.9,308.3 470.9,308.5 472,307.4 472.6,307.2 473.3,306.2 473.3,306.4 473.3,306.1 473.9,306 474.3,305.2 475.9,304 476.7,303.4 476.8,303.5 477.8,303 478.5,302.6 478.5,302.9 479.2,302.6 479.8,302.4 479.8,302.6 481.3,301.9 481.6,301.5 481.8,301 482.2,300.5 483.5,299.4 484.2,299.2 484.2,299.4 485.5,298.7 486.1,298.7 487,297.6 487.9,296.8 487.9,297.1 488.7,296.6 489.4,296.1 490.5,295.5 491.1,295.2 491.8,295 491.8,295.1 493.6,293.4 498.4,290.1 498.8,289.8 498.8,290.2 499.6,289.8 500.7,287.5 500.7,285.8 504.5,283.9 506,283.8 510.8,281.3 516.2,278.2 518.8,276.5 526.3,273 532.8,261.9"/>
<polyline points="400.1,377 406.9,358.1 411.9,355.4 412.8,355.6 414.1,354.8 414.1,352.8 414.3,352.7 416.9,350.8 422,347.5 422,347.2 422.9,346.9 423.7,347 424.4,346.5 424.4,346.8 424.4,344.1 424.4,344.4 425.2,344.1 425.3,343.1 425.3,343.6 427.2,342.4 427.2,342.6 427.7,341.5 427.7,341.9 428.3,341.8 428.7,341.7 428.7,340.5 429.2,340.4 430.5,339.7 431.8,338.6 432.2,338.2 432.2,338.1 434.6,336.5 434.6,336.6 438.8,332.9 439.7,332.4 439.7,332.6 440.7,331.7 441,331.4 441.4,330.7 441.4,330.7 442.3,330.3 442.3,330.1 442.9,329.2 443.3,329.2 443.8,328.3 443.8,328.3 444.7,327.4 446.4,326.4 447.5,325.8 447.5,325 448.6,324.2 449.9,323.4 449.9,323.5 450.6,323.1 450.6,323.2 451.2,322.9 452.5,321.4 453,321.2 453.4,321.1 454,320.9 454.9,320.6 455.6,320.4 455.8,320.5 455.8,320.6 456.5,320.3 458.2,319.6 458.2,319.7 458.2,319.7 459.1,319.2 460.8,318.3 460.8,318.4 461,318.2 461.3,318.2 461.7,318.2 462.3,317.9 462.6,317.7 463.2,317.3 463.9,317.1 464.1,316.4 465,316 465,316 465.8,315.7 465.8,315.7 465.8,315.9 465.8,316.1 466,315.9 466.7,315.7 467.8,315 468.4,314.4 468.4,314.5 470.2,313.4 470.9,312.1 470.9,312.2 472,311.4 472.6,310.6 473.3,310.4 473.3,310.1 473.3,310.3 473.9,309.4 474.3,309.2 475.9,308.5 476.7,308.2 476.8,308.2 477.8,307.4 478.5,306.4 478.5,306.2 479.2,305.6 479.8,304.8 479.8,305.1 481.3,304.4 481.6,303.8 481.8,303.6 482.2,303.1 483.5,302.5 484.2,302.4 484.2,302.1 485.5,301.6 486.1,299.8 487,299.6 487.9,299.5 487.9,299.9 488.7,299.4 489.4,299.3 490.5,298.5 491.1,297.9 491.8,297.8 491.8,297.6 493.6,297.1 498.4,293.2 498.8,293.6 498.8,293.1 499.6,291.2 500.7,290.8 500.7,291.3 504.5,290.1 506,290.1 510.8,287.4 516.2,285 518.8,284.7 526.3,279.7 532.8,279.2"/>
<polyline points="400.1,364.1 406.9,360.2 411.9,356.9 412.8,357.3 414.1,352.1 414.1,351.8 414.3,351.5 416.9,347.5 422,345 422,345.6 422.9,344.2 423.7,343.8 424.4,343.7 424.4,344.2 424.4,344.8 424.4,345.3 425.2,344.3 425.3,344.7 425.3,344.6 427.2,343.6 427.2,343.8 427.7,343.3 427.7,343.7 428.3,342.8 428.7,342.7 428.7,343.1 429.2,342.7 430.5,342.1 431.8,341.4 432.2,341 432.2,341.4 434.6,339.8 434.6,339.9 438.8,337.3 439.7,337.1 439.7,337.3 440.7,336.6 441,336.1 441.4,335.8 441.4,336 442.3,335.6 442.3,335.8 442.9,335.5 443.3,334.9 443.8,334.7 443.8,334.7 444.7,334.4 446.4,333.1 447.5,331.9 447.5,331.8 448.6,330.8 449.9,329.9 449.9,330 450.6,329.8 450.6,329.2 451.2,328.9 452.5,328.3 453,327.8 453.4,327.7 454,326.7 454.9,326.3 455.6,326.1 455.8,326.3 455.8,326.3 456.5,325.9 458.2,324.7 458.2,324.9 458.2,325.1 459.1,324.2 460.8,321.9 460.8,321.9 461,321.6 461.3,321.1 461.7,320.9 462.3,320.4 462.6,320.2 463.2,320.1 463.9,319.8 464.1,319.8 465,319.2 465,319 465.8,318.8 465.8,318.8 465.8,319.1 465.8,318 466,318.1 466.7,317.4 467.8,316 468.4,315.8 468.4,316 470.2,314.8 470.9,314.4 470.9,314.5 472,314.1 472.6,314 473.3,313 473.3,313.1 473.3,313.4 473.9,312.1 474.3,312.1 475.9,311.1 476.7,310.8 476.8,310.8 477.8,309.8 478.5,309.1 478.5,308.9 479.2,308.5 479.8,308.4 479.8,308.7 481.3,308 481.6,307.9 481.8,308.2 482.2,308.2 483.5,307.8 484.2,307.5 484.2,307.8 485.5,307.3 486.1,307.3 487,306.1 487.9,305.9 487.9,306 488.7,303.8 489.4,303.8 490.5,303.1 491.1,302.9 491.8,301.1 491.8,301.4 493.6,300.1 498.4,297.4 498.8,297.7 498.8,298.3 499.6,298.6 500.7,297.9 500.7,296 504.5,290.6 506,289.9 510.8,284.8 516.2,279 518.8,276.2 526.3,266.3 532.8,265.8"/>
<polyline points="400.1,354.1 406.9,346.7 411.9,346.1 412.8,345.3 414.1,342.9 414.1,342.8 414.3,343.1 416.9,341.3 422,337.5 422,338.3 422.9,336.5 423.7,336.5 424.4,336.1 424.4,335.7 424.4,336.1 424.4,336.4 425.2,336.4 425.3,336.2 425.3,336 427.2,335.3 427.2,335.5 427.7,335 427.7,335 428.3,334.6 428.7,334.7 428.7,335.1 429.2,335 430.5,334.5 431.8,334.1 432.2,333.9 432.2,334.2 434.6,332.8 434.6,332.5 438.8,330.1 439.7,329.2 439.7,329.4 440.7,328.9 441,328.5 441.4,328.3 441.4,328.5 442.3,328.1 442.3,328 442.9,327.8 443.3,327.8 443.8,327.4 443.8,327.1 444.7,326.7 446.4,325.8 447.5,325.1 447.5,325.3 448.6,324.8 449.9,323.7 449.9,323.9 450.6,323.6 450.6,323.9 451.2,323.7 452.5,322.8 453,321.9 453.4,321.7 454,321.6 454.9,320.7 455.6,320.5 455.8,320.4 455.8,320.4 456.5,320.3 458.2,318.9 458.2,318.8 458.2,318.7 459.1,317.4 460.8,316.7 460.8,316.8 461,317 461.3,316.3 461.7,316.2 462.3,315.8 462.6,315.8 463.2,315.7 463.9,315.3 464.1,314.7 465,313.4 465,313.6 465.8,313 465.8,313.2 465.8,313.1 465.8,313.3 466,313.4 466.7,313.2 467.8,312.8 468.4,312.7 468.4,313 470.2,311.9 470.9,311.8 470.9,312 472,311.7 472.6,311.5 473.3,310.9 473.3,310.7 473.3,311 473.9,310.9 474.3,310.8 475.9,309.8 476.7,309.4 476.8,309.4 477.8,309 478.5,308.7 478.5,308.7 479.2,308 479.8,307.6 479.8,307.3 481.3,306.6 481.6,306.2 481.8,306.3 482.2,306.5 483.5,305.8 484.2,305.4 484.2,304.4 485.5,304 486.1,304 487,303.5 487.9,301.8 487.9,301.1 488.7,301 489.4,299.8 490.5,297.7 491.1,297.6 491.8,297.1 491.8,297.2 493.6,295.3 498.4,292.3 498.8,292.7 498.8,290.7 499.6,290.8 500.7,289.7 500.7,290.4 504.5,288.8 506,288.7 510.8,285.9 516.2,283.4 518.8,283.3 526.3,280.5 532.8,271.1"/>
<polyline points="400.1,360.7 406.9,354.3 411.9,351.2 412.8,348.2 414.1,346.1 414.1,346.1 414.3,346.7 416.9,345.3 422,341.9 422,339.3 422.9,339.3 423.7,339.1 424.4,339.3 424.4,338.5 424.4,338.8 424.4,338.8 425.2,338.7 425.3,338.3 425.3,338.7 427.2,337.9 427.2,338 427.7,337.9 427.7,338.3 428.3,337.7 428.7,337.5 428.7,336.9 429.2,336.9 430.5,335.9 431.8,335.4 432.2,335.1 432.2,334.3 434.6,332.5 434.6,332.7 438.8,330.1 439.7,329.9 439.7,330.1 440.7,328.9 441,328.8 441.4,328.5 441.4,328.7 442.3,328.1 442.3,328.1 442.9,328 443.3,328.1 443.8,328 443.8,327.9 444.7,327.4 446.4,326.5 447.5,326.1 447.5,326.1 448.6,325.6 449.9,325 449.9,325.3 450.6,324.2 450.6,324.2 451.2,324 452.5,323.4 453,323 453.4,323 454,322.5 454.9,321.8 455.6,321.3 455.8,321.2 455.8,321 456.5,320.6 458.2,319.6 458.2,319.8 458.2,319.8 459.1,319.1 460.8,317.8 460.8,318.1 461,318.2 461.3,318 461.7,317.6 462.3,315.5 462.6,315.3 463.2,315.1 463.9,314.8 464.1,314.8 465,313.5 465,313.7 465.8,313.1 465.8,313.3 465.8,312.9 465.8,312.9 466,312.9 466.7,312.5 467.8,311.8 468.4,311.4 468.4,311.6 470.2,310.2 470.9,309.5 470.9,309.8 472,308.7 472.6,308.3 473.3,308 473.3,308.1 473.3,308.3 473.9,307.8 474.3,307.8 475.9,306.9 476.7,305.6 476.8,305.6 477.8,305.2 478.5,304.7 478.5,304.5 479.2,303.6 479.8,303.2 479.8,303 481.3,302.1 481.6,301.9 481.8,301.7 482.2,301.6 483.5,300.7 484.2,300.3 484.2,300 485.5,298.1 486.1,297.3 487,296.8 487.9,296.2 487.9,296.6 488.7,296.4 489.4,295.3 490.5,294.7 491.1,293.7 491.8,293.5 491.8,293.5 493.6,292 498.4,287.8 498.8,288 498.8,288.3 499.6,288.3 500.7,287.9 500.7,287.3 504.5,283.9 506,283.6 510.8,279.4 516.2,276.6 518.8,275.5 526.3,271.5 532.8,271.5"/>
<polyline points="400.1,361.2 406.9,359.6 411.9,358.3 412.8,351.7 414.1,347.9 414.1,347.4 414.3,347.9 416.9,345.9 422,341.2 422,341.4 422.9,341.2 423.7,341.4 424.4,341.4 424.4,341.7 424.4,342.3 424.4,342.6 425.2,342.4 425.3,342.6 425.3,342.2 427.2,340.8 427.2,341.1 427.7,338.6 427.7,338.8 428.3,338.8 428.7,338.9 428.7,339.2 429.2,339.2 430.5,338.6 431.8,337.9 432.2,337.9 432.2,338.1 434.6,336.7 434.6,336.8 438.8,334.1 439.7,333.5 439.7,332 440.7,331.5 441,331.1 441.4,331 441.4,331.1 442.3,330.7 442.3,330.3 442.9,330.2 443.3,329.8 443.8,329.6 443.8,329.8 444.7,329.4 446.4,328.4 447.5,327.4 447.5,327.5 448.6,326.7 449.9,324.9 449.9,324.8 450.6,324.6 450.6,324.3 451.2,324 452.5,323.3 453,323.1 453.4,322.9 454,322.7 454.9,321.8 455.6,321 455.8,321.1 455.8,321.2 456.5,320.9 458.2,318.9 458.2,318.9 458.2,318.9 459.1,318.5 460.8,316.3 460.8,316.4 461,316.4 461.3,316.2 461.7,316.2 462.3,315.4 462.6,315.4 463.2,315.2 463.9,314.7 464.1,314.3 465,313.8 465,314 465.8,313.5 465.8,313.1 465.8,313 465.8,312.9 466,312.9 466.7,312.5 467.8,312 468.4,311.8 468.4,312 470.2,310.9 470.9,310.2 470.9,310.4 472,309.8 472.6,309.7 473.3,309.4 473.3,309.5 473.3,309.2 473.9,308.2 474.3,307.4 475.9,306.2 476.7,306 476.8,304.8 477.8,304.5 478.5,303.7 478.5,304 479.2,303.6 479.8,303.4 479.8,303.5 481.3,302.5 481.6,301.4 481.8,301.3 482.2,301.1 483.5,299.9 484.2,299.7 484.2,300.1 485.5,299.5 486.1,299.4 487,299 487.9,298.7 487.9,298.7 488.7,298.4 489.4,297.2 490.5,296.2 491.1,296.3 491.8,296 491.8,296 493.6,294.8 498.4,291.8 498.8,291.5 498.8,291.8 499.6,291 500.7,290 500.7,290.9 504.5,286.8 506,285.5 510.8,282.7 516.2,280.3 518.8,280.1 526.3,275.6 532.8,274.1"/>
<polyline points="400.1,365.5 406.9,354.6 411.9,346.1 412.8,344.2 414.1,344.5 414.1,344.9 414.3,345.3 416.9,343.6 422,341 422,341.2 422.9,340.9 423.7,341 424.4,340.8 424.4,340.5 424.4,341 424.4,341.5 425.2,341.4 425.3,341.6 425.3,341.3 427.2,339.1 427.2,339.3 427.7,339.3 427.7,339.1 428.3,338.9 428.7,338.8 428.7,339.2 429.2,338.6 430.5,337.9 431.8,336.8 432.2,336.9 432.2,336.2 434.6,334.4 434.6,334.6 438.8,331.7 439.7,331.4 439.7,331.5 440.7,331 441,330.6 441.4,330.7 441.4,330.3 442.3,329.8 442.3,329.4 442.9,329.2 443.3,328.8 443.8,328.7 443.8,328.4 444.7,328.1 446.4,327.2 447.5,326.7 447.5,326.3 448.6,325.7 449.9,325 449.9,324.8 450.6,324.5 450.6,324.4 451.2,323.4 452.5,322.7 453,322.6 453.4,322.5 454,321.7 454.9,321.3 455.6,320.9 455.8,320.7 455.8,320.7 456.5,320 458.2,319 458.2,319.1 458.2,319.1 459.1,318.6 460.8,317.4 460.8,317.5 461,317.6 461.3,317.6 461.7,315.7 462.3,315.6 462.6,315.4 463.2,315.3 463.9,315 464.1,315 465,314.6 465,314.7 465.8,314.3 465.8,314.3 465.8,314.5 465.8,314.7 466,314.8 466.7,314.4 467.8,314 468.4,313.6 468.4,313.1 470.2,311.7 470.9,311.2 470.9,311.4 472,310.8 472.6,310.8 473.3,310.4 473.3,310.6 473.3,310.2 473.9,310.1 474.3,310.1 475.9,309.4 476.7,308.5 476.8,308.5 477.8,308 478.5,307.8 478.5,307.5 479.2,307.2 479.8,306.1 479.8,305.9 481.3,305.2 481.6,305.2 481.8,305.2 482.2,305.2 483.5,304.2 484.2,303.6 484.2,303.8 485.5,302.5 486.1,302.5 487,302.4 487.9,302.2 487.9,301.5 488.7,300.5 489.4,300.4 490.5,300 491.1,299.8 491.8,299.5 491.8,299.3 493.6,298.7 498.4,296 498.8,296 498.8,295.3 499.6,293.4 500.7,293 500.7,293.5 504.5,291.9 506,291 510.8,289.2 516.2,286.9 518.8,287.3 526.3,285 532.8,286.2"/>
<polyline points="400.1,371.7 406.9,367.1 411.9,362.4 412.8,358.7 414.1,357.7 414.1,355.3 414.3,355.2 416.9,354.4 422,349.9 422,349.3 422.9,348 423.7,348 424.4,348.2 424.4,347.1 424.4,347 424.4,347.2 425.2,346.1 425.3,346.3 425.3,345.4 427.2,344.6 427.2,344.9 427.7,344.3 427.7,343.8 428.3,343.3 428.7,343.3 428.7,343.6 429.2,343.2 430.5,342.4 431.8,341.3 432.2,340.9 432.2,341 434.6,339.5 434.6,339.8 438.8,336.6 439.7,335.3 439.7,335.4 440.7,335.1 441,334.9 441.4,334.8 441.4,335.1 442.3,334.4 442.3,334.7 442.9,334.3 443.3,334.3 443.8,333.5 443.8,333.4 444.7,333 446.4,332 447.5,331.2 447.5,331.4 448.6,330.3 449.9,328 449.9,327.8 450.6,327.3 450.6,327.5 451.2,327.1 452.5,325.9 453,325.4 453.4,325 454,324.9 454.9,324.4 455.6,323.9 455.8,323.8 455.8,324 456.5,323.7 458.2,322.9 458.2,322.6 458.2,322.8 459.1,322.3 460.8,321.6 460.8,321.5 461,321.7 461.3,321.6 461.7,321.3 462.3,320.4 462.6,320.3 463.2,320.2 463.9,319.5 464.1,319.4 465,319.1 465,318.7 465.8,318.5 465.8,318.6 465.8,318.8 465.8,319 466,319.1 466.7,318.1 467.8,317.4 468.4,317.4 468.4,317.6 470.2,316.5 470.9,316 470.9,316.1 472,315.5 472.6,315.4 473.3,314.2 473.3,314 473.3,314.1 473.9,314 474.3,313.9 475.9,312.6 476.7,312.3 476.8,312.5 477.8,312.1 478.5,311.9 478.5,312 479.2,311.8 479.8,311.6 479.8,311.3 481.3,310.6 481.6,310.7 481.8,309.4 482.2,309.4 483.5,308.5 484.2,308.4 484.2,308.7 485.5,308 486.1,307.7 487,305.8 487.9,305.4 487.9,305.8 488.7,305.4 489.4,304.7 490.5,304.5 491.1,304.6 491.8,304.2 491.8,304.5 493.6,304 498.4,301.5 498.8,301.3 498.8,300.1 499.6,300 500.7,298.5 500.7,299.3 504.5,296.8 506,296.6 510.8,294.3 516.2,291 518.8,291.2 526.3,283.5 532.8,279.6"/>
<polyline points="400.1,367.7 406.9,366.7 411.9,357.7 412.8,353.6 414.1,353.5 414.1,354.4 414.3,353.4 416.9,351.3 422,346.2 422,346 422.9,345.9 423.7,346.1 424.4,344.5 424.4,342.6 424.4,342.5 424.4,342.8 425.2,342.4 425.3,342.3 425.3,342.7 427.2,341.7 427.2,342.1 427.7,340.2 427.7,340.4 428.3,339.6 428.7,339.5 428.7,339 429.2,338.8 430.5,337.8 431.8,337.3 432.2,337.2 432.2,337.4 434.6,335.1 434.6,335.1 438.8,332.7 439.7,332.1 439.7,332.4 440.7,332.1 441,332.2 441.4,332.2 441.4,332.2 442.3,331.9 442.3,331.9 442.9,331.9 443.3,331.4 443.8,330.8 443.8,330.7 444.7,330.3 446.4,329.4 447.5,328.6 447.5,328.4 448.6,327.9 449.9,326.2 449.9,325.7 450.6,325.2 450.6,325.4 451.2,325 452.5,324.4 453,323.8 453.4,323.5 454,323.1 454.9,322.6 455.6,322.1 455.8,321.9 455.8,320.9 456.5,320.3 458.2,318.7 458.2,319 458.2,319.2 459.1,318.8 460.8,317.7 460.8,317.9 461,317.6 461.3,317.5 461.7,317.3 462.3,317.1 462.6,317.1 463.2,316.9 463.9,316.5 464.1,316.1 465,315.4 465,315.4 465.8,315.1 465.8,314.9 465.8,315 465.8,314.8 466,314.6 466.7,313.9 467.8,313.2 468.4,312.2 468.4,312.1 470.2,310.6 470.9,309.7 470.9,309.9 472,308.9 472.6,308.7 473.3,308.2 473.3,308.5 473.3,308.8 473.9,308.2 474.3,307.7 475.9,306.5 476.7,306.2 476.8,304.2 477.8,303.6 478.5,303 478.5,303 479.2,302 479.8,301.8 479.8,301.1 481.3,300.1 481.6,300.2 481.8,300.4 482.2,300.2 483.5,299.5 484.2,299.2 484.2,298.5 485.5,297.4 486.1,297.4 487,296.9 487.9,296 487.9,296.1 488.7,294.8 489.4,294.4 490.5,294 491.1,293.6 491.8,293.1 491.8,292.6 493.6,291.6 498.4,287.2 498.8,285.3 498.8,284.9 499.6,283.7 500.7,283.5 500.7,283 504.5,280.6 506,280.2 510.8,277.3 516.2,274.4 518.8,271.7 526.3,262.1 532.8,261.9"/>
<polyline points="400.1,357.8 406.9,351.7 411.9,347.2 412.8,345.9 414.1,345.1 414.1,345.2 414.3,345.8 416.9,344.5 422,341.7 422,342 422.9,341.8 423.7,341.8 424.4,341.7 424.4,342 424.4,341.9 424.4,342.4 425.2,342.4 425.3,342.5 425.3,342.8 427.2,341.3 427.2,340.6 427.7,340.4 427.7,340.7 428.3,340.3 428.7,340.4 428.7,340 429.2,339.8 430.5,338.8 431.8,338.2 432.2,338.1 432.2,338.1 434.6,336.3 434.6,336.5 438.8,333 439.7,331.9 439.7,332.2 440.7,331.1 441,331.1 441.4,331 441.4,330.9 442.3,330.4 442.3,330.2 442.9,329.9 443.3,329.7 443.8,328.6 443.8,328.6 444.7,327.9 446.4,326.6 447.5,326.1 447.5,326.3 448.6,325.3 449.9,324.2 449.9,324.2 450.6,323.4 450.6,323.4 451.2,323.1 452.5,322.2 453,322.1 453.4,321.7 454,321.1 454.9,320.6 455.6,319.9 455.8,319.8 455.8,319.5 456.5,319 458.2,318 458.2,318 458.2,318.1 459.1,317.2 460.8,316.2 460.8,315.6 461,315.7 461.3,315.6 461.7,315.4 462.3,314.9 462.6,314.6 463.2,314.2 463.9,313 464.1,312.9 465,312 465,312.3 465.8,311.6 465.8,311.8 465.8,311.9 465.8,312 466,312 466.7,311.6 467.8,310.8 468.4,309.6 468.4,309.7 470.2,308.5 470.9,307.9 470.9,308.1 472,307.3 472.6,307.1 473.3,306.3 473.3,306.4 473.3,306.4 473.9,306.2 474.3,306.2 475.9,305 476.7,304.7 476.8,304.8 477.8,304.3 478.5,303.6 478.5,303.5 479.2,302.7 479.8,302.6 479.8,302 481.3,300.6 481.6,300.5 481.8,300.7 482.2,299.4 483.5,298.5 484.2,298.2 484.2,298.5 485.5,297.1 486.1,296.3 487,295.7 487.9,295.1 487.9,295.5 488.7,295.1 489.4,294.6 490.5,293.4 491.1,292.2 491.8,292 491.8,292.3 493.6,291.2 498.4,287.7 498.8,287.2 498.8,287.8 499.6,287.9 500.7,287.6 500.7,287.2 504.5,283.4 506,282.7 510.8,280.2 516.2,275.7 518.8,274.1 526.3,267.9 532.8,267.4"/>
<polyline points="400.1,358.2 406.9,356.8 411.9,353.5 412.8,347.7 414.1,347.5 414.1,346.8 414.3,347.6 416.9,346.6 422,341.5 422,341.5 422.9,341.4 423.7,341.2 424.4,341.2 424.4,341.7 424.4,342.2 424.4,342.4 425.2,340.4 425.3,340.1 425.3,340.6 427.2,339 427.2,339.5 427.7,339.2 427.7,338.9 428.3,338.8 428.7,338.1 428.7,338.5 429.2,338.2 430.5,337.2 431.8,336.6 432.2,336.3 432.2,336.4 434.6,334.3 434.6,334.4 438.8,331.5 439.7,330.7 439.7,330.9 440.7,330.2 441,330.1 441.4,330 441.4,330.3 442.3,329.9 442.3,330.1 442.9,329.6 443.3,329.5 443.8,328.9 443.8,329.2 444.7,328.8 446.4,327.9 447.5,327.1 447.5,327.1 448.6,325.5 449.9,324.7 449.9,324.9 450.6,324.4 450.6,324.7 451.2,324.3 452.5,323.5 453,322.9 453.4,322.5 454,322.1 454.9,321.3 455.6,320.2 455.8,320.1 455.8,320.2 456.5,319.7 458.2,318.6 458.2,318.4 458.2,318.6 459.1,318 460.8,316.8 460.8,316.7 461,316.6 461.3,316.3 461.7,316.2 462.3,316 462.6,316 463.2,315.3 463.9,314.6 464.1,314.7 465,314.2 465,314.2 465.8,313.9 465.8,314.1 465.8,314.2 465.8,313.6 466,313.7 466.7,312.6 467.8,312 468.4,311 468.4,311.3 470.2,309.5 470.9,308.9 470.9,308.8 472,307.8 472.6,307.4 473.3,306.7 473.3,307 473.3,307.2 473.9,307.1 474.3,306.1 475.9,304.9 476.7,303.9 476.8,304 477.8,303.5 478.5,303.2 478.5,303.5 479.2,303.1 479.8,302.9 479.8,303 481.3,301.4 481.6,300.8 481.8,300.3 482.2,299.6 483.5,298.5 484.2,298.3 484.2,298.3 485.5,297.3 486.1,296.7 487,296.3 487.9,295.9 487.9,296.2 488.7,295.9 489.4,295.6 490.5,294.8 491.1,293.2 491.8,293 491.8,293 493.6,291.9 498.4,288.5 498.8,287.7 498.8,287.7 499.6,287.5 500.7,285.5 500.7,286.2 504.5,283.1 506,281.8 510.8,276.9 516.2,270.9 518.8,269.3 526.3,259.5 532.8,259.3"/>
<polyline points="400.1,369.8 406.9,360.1 411.9,358.4 412.8,357.5 414.1,355.3 414.1,355.5 414.3,355.7 416.9,351 422,346.9 422,347.6 422.9,346.9 423.7,346.1 424.4,346 424.4,346.1 424.4,346.7 424.4,346.6 425.2,345.8 425.3,344.2 425.3,344.6 427.2,343.1 427.2,343.2 427.7,342.5 427.7,342.8 428.3,342.8 428.7,342.7 428.7,343.1 429.2,342.9 430.5,342 431.8,341.1 432.2,340.6 432.2,340.9 434.6,337.5 434.6,337.6 438.8,334.7 439.7,333.3 439.7,333 440.7,331.9 441,331.5 441.4,331.5 441.4,331.6 442.3,331.1 442.3,330.8 442.9,330 443.3,329.8 443.8,328.8 443.8,329 444.7,328.5 446.4,327.4 447.5,326.9 447.5,326.2 448.6,325.7 449.9,324.6 449.9,324.8 450.6,323.9 450.6,323.6 451.2,323.4 452.5,322.4 453,321.9 453.4,321.3 454,320.9 454.9,320.6 455.6,320.3 455.8,320.4 455.8,320.5 456.5,320.2 458.2,319.2 458.2,318.8 458.2,318.5 459.1,318.2 460.8,317.3 460.8,317.6 461,317.2 461.3,317 461.7,316.8 462.3,316.6 462.6,316.5 463.2,316.4 463.9,316.1 464.1,315.7 465,315.3 465,315.1 465.8,314.8 465.8,314.9 465.8,314.9 465.8,315 466,314.9 466.7,314.5 467.8,313.7 468.4,312.9 468.4,312.5 470.2,311.3 470.9,310.7 470.9,309.6 472,308.8 472.6,308.7 473.3,308.4 473.3,308.5 473.3,308.6 473.9,308.4 474.3,308.3 475.9,307.5 476.7,306.9 476.8,306.8 477.8,305.6 478.5,305.2 478.5,305.4 479.2,305.2 479.8,305 479.8,304.9 481.3,304.2 481.6,303.9 481.8,304.1 482.2,303.6 483.5,302.3 484.2,302.2 484.2,302.4 485.5,301.8 486.1,301.6 487,301.4 487.9,300.1 487.9,300.5 488.7,299.4 489.4,299.4 490.5,298.6 491.1,298.8 491.8,298.8 491.8,297.7 493.6,295.8 498.4,291.9 498.8,291.4 498.8,292 499.6,290.3 500.7,289 500.7,289.9 504.5,288.2 506,286.5 510.8,284.1 516.2,274.3 518.8,271.8 526.3,269.6 532.8,270"/>
<polyline points="400.1,353 406.9,352.1 411.9,351.6 412.8,351.4 414.1,348.7 414.1,349.3 414.3,350 416.9,347.9 422,343.2 422,343.8 422.9,343.7 423.7,343.2 424.4,343.3 424.4,342.9 424.4,343.2 424.4,343.6 425.2,343 425.3,342.7 425.3,342 427.2,340.3 427.2,340.7 427.7,340.2 427.7,340.5 428.3,338.3 428.7,338.4 428.7,338.6 429.2,338.6 430.5,337.7 431.8,337 432.2,336.8 432.2,336.9 434.6,335.4 434.6,335.6 438.8,333 439.7,332.2 439.7,332.2 440.7,331.2 441,331.3 441.4,331.3 441.4,331.5 442.3,331.1 442.3,330.3 442.9,329.9 443.3,329.6 443.8,329.5 443.8,329.1 444.7,328 446.4,327 447.5,326.5 447.5,326.7 448.6,325.6 449.9,324.9 449.9,325 450.6,324.6 450.6,324.7 451.2,324.4 452.5,323.1 453,322.8 453.4,322.6 454,321.9 454.9,321.6 455.6,320 455.8,319.9 455.8,320 456.5,319.7 458.2,318.9 458.2,319.2 458.2,319.4 459.1,319.1 460.8,318 460.8,317.8 461,317.8 461.3,317.7 461.7,317.6 462.3,317 462.6,315.9 463.2,315.8 463.9,315.3 464.1,315.4 465,314.9 465,315.1 465.8,314.8 465.8,315.1 465.8,315.2 465.8,315.4 466,315.5 466.7,315.2 467.8,314.8 468.4,314.5 468.4,314.6 470.2,313.6 470.9,313.1 470.9,313.3 472,313 472.6,312.6 473.3,312.4 473.3,312.6 473.3,312.3 473.9,312.2 474.3,311.8 475.9,311 476.7,310.8 476.8,310.5 477.8,310.2 478.5,309.1 478.5,309.1 479.2,309 479.8,308.7 479.8,309 481.3,307.2 481.6,306.9 481.8,306.8 482.2,306.8 483.5,306.3 484.2,305.3 484.2,304.5 485.5,303.5 486.1,303.5 487,302.3 487.9,301.2 487.9,301.4 488.7,301.4 489.4,301.5 490.5,300.3 491.1,300 491.8,299.3 491.8,299.6 493.6,298.9 498.4,296.7 498.8,296.8 498.8,296.8 499.6,296.9 500.7,295.3 500.7,295.7 504.5,293.5 506,293.4 510.8,290.4 516.2,288.9 518.8,287.9 526.3,273.9 532.8,269.7"/>
<polyline points="400.1,366.4 406.9,361.8 411.9,352.8 412.8,351.3 414.1,351.2 414.1,351.7 414.3,351.2 416.9,349.2 422,343.9 422,343.9 422.9,343.7 423.7,342.9 424.4,342.9 424.4,343.2 424.4,343.1 424.4,343.2 425.2,341.9 425.3,342.3 425.3,342.3 427.2,341 427.2,340.7 427.7,340.6 427.7,341 428.3,339.8 428.7,339.8 428.7,339.8 429.2,339.7 430.5,339.2 431.8,338.1 432.2,338 432.2,338.3 434.6,336.7 434.6,336.8 438.8,334.2 439.7,333.4 439.7,332.4 440.7,332.1 441,332.1 441.4,331.8 441.4,332.1 442.3,331 442.3,331.3 442.9,331.2 443.3,330 443.8,329.2 443.8,328.3 444.7,327.6 446.4,326.8 447.5,326.2 447.5,325.9 448.6,324.8 449.9,323.9 449.9,324.1 450.6,323.5 450.6,323.6 451.2,323.5 452.5,322.8 453,322.6 453.4,322.5 454,322.4 454.9,321.8 455.6,321 455.8,320.9 455.8,321.1 456.5,320.7 458.2,319.7 458.2,319.9 458.2,319.7 459.1,319 460.8,318 460.8,318.2 461,318.2 461.3,317.6 461.7,317.4 462.3,317.2 462.6,317.1 463.2,316.9 463.9,316.6 464.1,315.9 465,314.6 465,314.7 465.8,314.3 465.8,314.4 465.8,314.1 465.8,314.3 466,314.1 466.7,313.8 467.8,311.9 468.4,311.4 468.4,311.6 470.2,310.4 470.9,309.8 470.9,309.9 472,309 472.6,308.9 473.3,308.1 473.3,308.4 473.3,308.6 473.9,306.9 474.3,306.7 475.9,305.6 476.7,305 476.8,303.9 477.8,303.4 478.5,302.7 478.5,302.2 479.2,302 479.8,301.8 479.8,301.9 481.3,301.1 481.6,301.1 481.8,300.7 482.2,300.4 483.5,299.8 484.2,299.4 484.2,299.3 485.5,298.7 486.1,298.3 487,297.9 487.9,297.7 487.9,297.7 488.7,297.6 489.4,297 490.5,296.2 491.1,296 491.8,295.5 491.8,296 493.6,295.2 498.4,292.4 498.8,292.6 498.8,293.3 499.6,293.5 500.7,293.2 500.7,293.3 504.5,291.5 506,291.2 510.8,288.1 516.2,285.6 518.8,282.6 526.3,277.1 532.8,276.8"/>
<polyline points="400.1,372.6 406.9,357.1 411.9,352.4 412.8,352.8 414.1,352 414.1,351.8 414.3,352.2 416.9,351.1 422,345.4 422,345.9 422.9,345 423.7,345.2 424.4,344.7 424.4,344.5 424.4,344.1 424.4,343.8 425.2,343.2 425.3,342.5 425.3,342.5 427.2,339.8 427.2,339.9 427.7,339.8 427.7,340.3 428.3,340.2 428.7,340 428.7,340.1 429.2,338.8 430.5,338.1 431.8,337.6 432.2,337.2 432.2,337.4 434.6,336.2 434.6,336.5 438.8,333.9 439.7,332.9 439.7,333.2 440.7,332.9 441,332.2 441.4,332.3 441.4,332 442.3,331.6 442.3,331.8 442.9,331.5 443.3,331.4 443.8,330.6 443.8,330.9 444.7,329.9 446.4,329 447.5,328.2 447.5,328.2 448.6,327.4 449.9,326.2 449.9,326.2 450.6,325.6 450.6,325.7 451.2,324.8 452.5,324.1 453,323 453.4,322.6 454,322.3 454.9,321 455.6,320.6 455.8,320.7 455.8,320.8 456.5,320.2 458.2,318.9 458.2,319 458.2,319 459.1,318.2 460.8,317 460.8,316.8 461,316.7 461.3,316.3 461.7,316.3 462.3,316 462.6,315.7 463.2,315.5 463.9,315 464.1,315.1 465,314.1 465,314 465.8,313.6 465.8,313.5 465.8,313.5 465.8,313.8 466,313.8 466.7,313 467.8,312.2 468.4,311.6 468.4,311.8 470.2,310.1 470.9,309.8 470.9,310.1 472,309.4 472.6,309.1 473.3,308.1 473.3,307.9 473.3,308 473.9,307.8 474.3,307.1 475.9,305.9 476.7,305.5 476.8,305.3 477.8,304.8 478.5,304.5 478.5,304.7 479.2,304.1 479.8,303.8 479.8,304.1 481.3,303.2 481.6,303 481.8,303.2 482.2,303.1 483.5,302 484.2,301.6 484.2,301.7 485.5,300 486.1,299.7 487,298.3 487.9,297.7 487.9,297.8 488.7,297 489.4,296.9 490.5,296 491.1,295.8 491.8,295.2 491.8,294.1 493.6,292.6 498.4,288.9 498.8,288.5 498.8,288.6 499.6,287.1 500.7,286.8 500.7,287.5 504.5,282.2 506,281.7 510.8,277.9 516.2,274.8 518.8,272.4 526.3,268.7 532.8,264.4"/>
<polyline points="400.1,369.8 406.9,361.3 411.9,354.7 412.8,355 414.1,351.7 414.1,350.5 414.3,350.1 416.9,349 422,345 422,345.3 422.9,344.6 423.7,341 424.4,340.5 424.4,341.1 424.4,339.9 424.4,340.5 425.2,340.3 425.3,339.4 425.3,339.7 427.2,338.9 427.2,339.2 427.7,339.2 427.7,339.2 428.3,339.3 428.7,339.5 428.7,339.3 429.2,338.5 430.5,337.9 431.8,337.1 432.2,337.2 432.2,336.9 434.6,335.6 434.6,335.2 438.8,333 439.7,332.6 439.7,332.3 440.7,331.4 441,331.5 441.4,331.5 441.4,331.8 442.3,331.4 442.3,331.6 442.9,331.5 443.3,331.6 443.8,331.3 443.8,331.1 444.7,330.3 446.4,329.5 447.5,329 447.5,329 448.6,328.4 449.9,327.7 449.9,327.5 450.6,326.8 450.6,326.7 451.2,326.5 452.5,325.9 453,325.6 453.4,325.6 454,325.3 454.9,324.4 455.6,324 455.8,323.8 455.8,323.9 456.5,322.6 458.2,321 458.2,320.8 458.2,320.9 459.1,320.1 460.8,318.8 460.8,319 461,318.4 461.3,317.5 461.7,317 462.3,316.2 462.6,315.8 463.2,315.2 463.9,314.6 464.1,314.4 465,313.7 465,313.8 465.8,313.1 465.8,313.3 465.8,313.1 465.8,313.1 466,313.1 466.7,312.5 467.8,311.6 468.4,311.4 468.4,311.3 470.2,310 470.9,309.5 470.9,309.6 472,308.9 472.6,308.1 473.3,307.7 473.3,307.9 473.3,308 473.9,307.8 474.3,307.7 475.9,306.4 476.7,306 476.8,305.8 477.8,305.3 478.5,304.7 478.5,304.9 479.2,304.4 479.8,303.1 479.8,303.4 481.3,301.2 481.6,300.8 481.8,300.9 482.2,300.9 483.5,299.8 484.2,299.4 484.2,299.5 485.5,298.3 486.1,297.9 487,294.8 487.9,294.4 487.9,294.8 488.7,294.4 489.4,293.4 490.5,291.8 491.1,290.8 491.8,290.2 491.8,289 493.6,287.6 498.4,283.9 498.8,283.9 498.8,284.4 499.6,284 500.7,283.3 500.7,283.1 504.5,279.7 506,277.8 510.8,273.9 516.2,270.6 518.8,268.1 526.3,264.2 532.8,245.1"/>
<polyline points="400.1,361.6 406.9,350.2 411.9,346.7 412.8,346.6 414.1,346.5 414.1,344 414.3,344.2 416.9,342.3 422,339.8 422,339.4 422.9,339.1 423.7,339.2 424.4,339.5 424.4,338.8 424.4,339.3 424.4,339.4 425.2,339.3 425.3,339.5 425.3,339.3 427.2,338.6 427.2,338.7 427.7,338.6 427.7,338.8 428.3,336.7 428.7,336.2 428.7,336 429.2,335.3 430.5,334.2 431.8,333.8 432.2,333.4 432.2,333.4 434.6,332.1 434.6,332.2 438.8,330.1 439.7,329.4 439.7,329.7 440.7,328.8 441,328.4 441.4,328.4 441.4,328.5 442.3,328 442.3,328.2 442.9,328.1 443.3,327.4 443.8,327.3 443.8,327.5 444.7,327.3 446.4,326.4 447.5,325.4 447.5,325.5 448.6,325.2 449.9,324.5 449.9,324.7 450.6,323.8 450.6,323.8 451.2,323.6 452.5,323 453,322.9 453.4,322.5 454,322.4 454.9,321.4 455.6,320.9 455.8,320.4 455.8,320.4 456.5,319.4 458.2,318.8 458.2,318.6 458.2,318.5 459.1,318 460.8,317.1 460.8,317.2 461,317.4 461.3,317.4 461.7,317.5 462.3,317.4 462.6,317.4 463.2,316.6 463.9,315.9 464.1,315.4 465,315.2 465,315.4 465.8,315.2 465.8,315.2 465.8,315.3 465.8,314.5 466,314.4 466.7,314.2 467.8,313.4 468.4,313.1 468.4,313.1 470.2,312.5 470.9,311.9 470.9,311.8 472,311.3 472.6,311.1 473.3,310.9 473.3,311.1 473.3,311.3 473.9,311.2 474.3,311.1 475.9,310.5 476.7,310.5 476.8,310.7 477.8,309.7 478.5,309.6 478.5,308.8 479.2,308.8 479.8,308.5 479.8,308.9 481.3,307.8 481.6,307.8 481.8,307.7 482.2,307.8 483.5,307.4 484.2,306.9 484.2,305.9 485.5,304.8 486.1,304.1 487,304 487.9,303.8 487.9,303.6 488.7,303.3 489.4,303.2 490.5,302.8 491.1,302.8 491.8,303 491.8,303 493.6,302.5 498.4,300.7 498.8,301.1 498.8,301.8 499.6,302 500.7,302.2 500.7,301 504.5,299.1 506,299.1 510.8,298.1 516.2,296.9 518.8,294.5 526.3,290.1 532.8,276.3"/>
<polyline points="400.1,355.7 406.9,354.2 411.9,353.3 412.8,350.9 414.1,350.5 414.1,350.7 414.3,351.3 416.9,348.4 422,344.2 422,345.1 422.9,345.1 423.7,344.8 424.4,344.6 424.4,344 424.4,344.6 424.4,344.9 425.2,344.8 425.3,343 425.3,343.3 427.2,342.5 427.2,342.8 427.7,342.8 427.7,342.2 428.3,341.8 428.7,341.8 428.7,342.1 429.2,341.2 430.5,340.4 431.8,339.7 432.2,339.8 432.2,339.8 434.6,338.1 434.6,338.4 438.8,335.8 439.7,335.6 439.7,335.9 440.7,335.5 441,335.5 441.4,335.3 441.4,334.6 442.3,334.2 442.3,334.2 442.9,334.2 443.3,333.9 443.8,333.3 443.8,332.9 444.7,332.3 446.4,331.3 447.5,330.5 447.5,330.7 448.6,329.5 449.9,328.2 449.9,328.2 450.6,327.9 450.6,328 451.2,327.1 452.5,326.4 453,325.9 453.4,325.8 454,325.6 454.9,324.5 455.6,323.6 455.8,323.6 455.8,323.6 456.5,323.2 458.2,321.5 458.2,321.6 458.2,321.5 459.1,321 460.8,319.3 460.8,319 461,319.1 461.3,318.9 461.7,318.1 462.3,317.8 462.6,317.6 463.2,317.4 463.9,316.3 464.1,316 465,315.1 465,315.3 465.8,314.2 465.8,314.5 465.8,314.3 465.8,314.3 466,314.1 466.7,313.2 467.8,312.4 468.4,312.1 468.4,312 470.2,310.4 470.9,309.4 470.9,309.6 472,308.9 472.6,307.5 473.3,307.1 473.3,307.1 473.3,307.3 473.9,307.1 474.3,307 475.9,305.8 476.7,305.4 476.8,303.9 477.8,303.3 478.5,301.4 478.5,301.6 479.2,300.4 479.8,300.1 479.8,300.3 481.3,298.8 481.6,298.6 481.8,298.3 482.2,298.4 483.5,296.9 484.2,296.5 484.2,296.8 485.5,295.5 486.1,295.3 487,294.9 487.9,293.7 487.9,293.8 488.7,293 489.4,292 490.5,291 491.1,290.8 491.8,290.7 491.8,289.3 493.6,288.3 498.4,284.6 498.8,284.9 498.8,285.2 499.6,285 500.7,280.9 500.7,281.1 504.5,278.8 506,278.3 510.8,275 516.2,268.9 518.8,263.1 526.3,255.6 532.8,252.3"/>
<polyline points="400.1,362.5 406.9,360.8 411.9,357.8 412.8,357.9 414.1,357.5 414.1,357.7 414.3,354.1 416.9,352.6 422,349.8 422,350.1 422.9,349.8 423.7,350 424.4,347.1 424.4,346.9 424.4,345.3 424.4,345.6 425.2,345.5 425.3,345.7 425.3,346 427.2,344.6 427.2,344.6 427.7,344.6 427.7,344.3 428.3,343.8 428.7,343.3 428.7,343.2 429.2,342.9 430.5,341.1 431.8,340 432.2,339.9 432.2,340.3 434.6,338.8 434.6,336.4 438.8,333.7 439.7,332.9 439.7,333.1 440.7,332.5 441,332.5 441.4,332.1 441.4,331.5 442.3,330.9 442.3,330.9 442.9,330.4 443.3,330.2 443.8,330.1 443.8,330.2 444.7,329.6 446.4,328.5 447.5,327.9 447.5,328 448.6,327.4 449.9,326.6 449.9,326.8 450.6,326.2 450.6,326.1 451.2,325.9 452.5,325.2 453,325 453.4,325 454,324.2 454.9,323.7 455.6,323 455.8,322.6 455.8,322.5 456.5,322.2 458.2,321.2 458.2,321.4 458.2,321.5 459.1,320.9 460.8,319.6 460.8,317.8 461,317.4 461.3,317.4 461.7,317.1 462.3,316.8 462.6,316.7 463.2,316.4 463.9,316.1 464.1,316.2 465,315.6 465,315.8 465.8,315.1 465.8,315.2 465.8,315.3 465.8,315.5 466,315.5 466.7,315.3 467.8,314.8 468.4,314.6 468.4,314.6 470.2,313.7 470.9,313.3 470.9,313.6 472,313.1 472.6,312.8 473.3,311.6 473.3,311.5 473.3,311 473.9,310.9 474.3,310.9 475.9,309.7 476.7,309.4 476.8,308.9 477.8,307.8 478.5,306.9 478.5,306 479.2,305.5 479.8,305.2 479.8,305.2 481.3,304.2 481.6,304 481.8,303.9 482.2,303.4 483.5,302.5 484.2,302.1 484.2,301 485.5,299.7 486.1,299.5 487,298.7 487.9,298.5 487.9,298.3 488.7,297.6 489.4,297 490.5,296.8 491.1,296.6 491.8,295.9 491.8,295.1 493.6,294.2 498.4,291.3 498.8,291.3 498.8,291.1 499.6,291.1 500.7,289.8 500.7,290.5 504.5,288.1 506,286.4 510.8,282.3 516.2,279.5 518.8,278.6 526.3,271.5 532.8,272.2"/>
<polyline points="400.1,360.2 406.9,359.6 411.9,357.8 412.8,357.8 414.1,357.6 414.1,356.5 414.3,357.2 416.9,356.2 422,352.1 422,351.1 422.9,347.8 423.7,347.3 424.4,345.8 424.4,346.4 424.4,347 424.4,346.6 425.2,346.2 425.3,346.3 425.3,343.9 427.2,342.8 427.2,343.1 427.7,342.9 427.7,343.1 428.3,342.8 428.7,342 428.7,341.9 429.2,341.9 430.5,340.5 431.8,339.8 432.2,339.7 432.2,338.9 434.6,337.2 434.6,337.5 438.8,334.8 439.7,334.4 439.7,333.5 440.7,332.8 441,332.9 441.4,332.8 441.4,333.1 442.3,332.6 442.3,332.2 442.9,331.4 443.3,330.5 443.8,330.3 443.8,330.2 444.7,329.5 446.4,328.6 447.5,328.1 447.5,328.2 448.6,327.7 449.9,327 449.9,327 450.6,326.3 450.6,326.6 451.2,326.2 452.5,325.3 453,325.1 453.4,324.8 454,324.3 454.9,323.8 455.6,323.1 455.8,322.6 455.8,322.8 456.5,322.3 458.2,321.1 458.2,320.7 458.2,320.8 459.1,320.3 460.8,318.2 460.8,318.2 461,318.3 461.3,318.2 461.7,318.1 462.3,317.3 462.6,317.3 463.2,316.7 463.9,316.1 464.1,316.2 465,315.4 465,315.3 465.8,314.9 465.8,315.1 465.8,315.1 465.8,315 466,314.7 466.7,313.9 467.8,312.7 468.4,312.6 468.4,312.3 470.2,311.1 470.9,310.4 470.9,310.7 472,309.8 472.6,309.5 473.3,309.1 473.3,309 473.3,308 473.9,306.9 474.3,306.8 475.9,305.8 476.7,304.8 476.8,304.9 477.8,304.4 478.5,303.3 478.5,303.7 479.2,302.2 479.8,301.7 479.8,301.9 481.3,301.1 481.6,298.6 481.8,297.6 482.2,297.6 483.5,297 484.2,296.7 484.2,296.8 485.5,296.2 486.1,295.9 487,295.4 487.9,294.5 487.9,293.6 488.7,293.4 489.4,292.8 490.5,292 491.1,291.6 491.8,291.3 491.8,291 493.6,289.4 498.4,286 498.8,285.4 498.8,285.4 499.6,284.8 500.7,284.3 500.7,285.2 504.5,282.3 506,281.2 510.8,278.7 516.2,274.2 518.8,266.8 526.3,262.2 532.8,251.7"/>
<polyline points="400.1,359.3 406.9,356.3 411.9,355 412.8,353.9 414.1,353.6 414.1,353 414.3,353.6 416.9,352.4 422,349.5 422,349.8 422.9,349.7 423.7,349.7 424.4,349.7 424.4,349.5 424.4,349.9 424.4,350.1 425.2,349.5 425.3,349.5 425.3,349.2 427.2,347.9 427.2,347.8 427.7,347.1 427.7,345.8 428.3,344.6 428.7,343.8 428.7,343.1 429.2,342.9 430.5,342.2 431.8,341.5 432.2,340.9 432.2,340.4 434.6,338.8 434.6,338.9 438.8,335.9 439.7,335.5 439.7,335.4 440.7,335 441,334.8 441.4,334.8 441.4,334.9 442.3,333.7 442.3,334 442.9,333.8 443.3,333.8 443.8,333.2 443.8,333.3 444.7,332.8 446.4,330.6 447.5,330.1 447.5,329.8 448.6,329.1 449.9,328.3 449.9,327.9 450.6,327 450.6,327.2 451.2,327.1 452.5,325.2 453,324.2 453.4,323.8 454,323.6 454.9,323.2 455.6,323 455.8,323.1 455.8,323.2 456.5,322.8 458.2,322.1 458.2,322.3 458.2,322.5 459.1,322.1 460.8,321.2 460.8,320.8 461,320.5 461.3,320.5 461.7,320.5 462.3,320.5 462.6,320.5 463.2,320.3 463.9,320.1 464.1,319.9 465,318.4 465,318.5 465.8,318.2 465.8,318.3 465.8,318.4 465.8,318.6 466,318.5 466.7,318.3 467.8,317.5 468.4,317.1 468.4,317.3 470.2,316.4 470.9,316 470.9,316.3 472,315.8 472.6,315.8 473.3,315.7 473.3,315.5 473.3,315.8 473.9,315.7 474.3,315.4 475.9,314.5 476.7,314.4 476.8,314.3 477.8,313.6 478.5,313.5 478.5,313.5 479.2,313 479.8,311.9 479.8,312 481.3,310.9 481.6,311 481.8,310.8 482.2,310.9 483.5,310.4 484.2,310.2 484.2,310.6 485.5,309.9 486.1,310 487,309.3 487.9,309 487.9,309.3 488.7,308.6 489.4,308 490.5,307.1 491.1,307.2 491.8,306.5 491.8,307.1 493.6,306.2 498.4,303.7 498.8,304.1 498.8,304.7 499.6,302.5 500.7,302.4 500.7,302.2 504.5,299 506,298.6 510.8,295.7 516.2,292.6 518.8,292.7 526.3,291.1 532.8,282.8"/>
<polyline points="400.1,373.2 406.9,357 411.9,354.1 412.8,352.5 414.1,350.8 414.1,351 414.3,351.6 416.9,349.1 422,344.9 422,345.6 422.9,345.3 423.7,344.8 424.4,344.7 424.4,344.8 424.4,343.2 424.4,342.6 425.2,342.2 425.3,342.5 425.3,342.5 427.2,341.6 427.2,341.8 427.7,340.8 427.7,341.2 428.3,341.2 428.7,340.6 428.7,340.2 429.2,339.4 430.5,338.8 431.8,338.1 432.2,337.8 432.2,338.1 434.6,336.8 434.6,337.1 438.8,334.3 439.7,334 439.7,334.2 440.7,333.7 441,333.8 441.4,333.8 441.4,333.1 442.3,332.8 442.3,332.8 442.9,332.5 443.3,332.4 443.8,332.3 443.8,332.2 444.7,331.8 446.4,330.9 447.5,329.8 447.5,329.8 448.6,329.3 449.9,328.4 449.9,328.6 450.6,328.1 450.6,328.1 451.2,328 452.5,327.2 453,327.1 453.4,327 454,326.6 454.9,326 455.6,325.1 455.8,324.7 455.8,323.9 456.5,323.5 458.2,322.5 458.2,322.7 458.2,322.8 459.1,322.3 460.8,320.1 460.8,320.4 461,319.1 461.3,319 461.7,318.9 462.3,318.7 462.6,318.3 463.2,317.7 463.9,317.4 464.1,317.5 465,317 465,317.2 465.8,316.4 465.8,316.6 465.8,316.2 465.8,316 466,316 466.7,315.5 467.8,314.9 468.4,314.1 468.4,314.1 470.2,312.2 470.9,311.8 470.9,311.8 472,311 472.6,310.7 473.3,310.2 473.3,310.3 473.3,310 473.9,309.3 474.3,308.2 475.9,307 476.7,306.5 476.8,306.7 477.8,305.5 478.5,305.1 478.5,303.7 479.2,302.6 479.8,302.1 479.8,302.4 481.3,301.4 481.6,301.4 481.8,301 482.2,301 483.5,300 484.2,299.8 484.2,299.8 485.5,298.7 486.1,298.5 487,297.5 487.9,297.1 487.9,297.1 488.7,296.9 489.4,296.8 490.5,296.2 491.1,296.2 491.8,295.9 491.8,296.4 493.6,295.3 498.4,290.8 498.8,291.1 498.8,291.1 499.6,290.3 500.7,289.7 500.7,290.3 504.5,287.6 506,286.1 510.8,282.6 516.2,278.8 518.8,277.1 526.3,273.3 532.8,271.7"/>
<polyline points="400.1,353.8 406.9,351.3 411.9,350.2 412.8,350.3 414.1,350.8 414.1,352 414.3,352.6 416.9,351.6 422,346.5 422,347.2 422.9,346.9 423.7,345 424.4,344.7 424.4,344.8 424.4,345.2 424.4,345.7 425.2,345.1 425.3,345.1 425.3,345.5 427.2,343.6 427.2,343.8 427.7,343.5 427.7,343.3 428.3,342.6 428.7,342.6 428.7,341 429.2,340.8 430.5,340.3 431.8,339.6 432.2,339.7 432.2,339.8 434.6,338.5 434.6,338.6 438.8,335.7 439.7,335.3 439.7,334.9 440.7,334.3 441,334 441.4,333.7 441.4,333.9 442.3,333.4 442.3,333.5 442.9,333.3 443.3,333 443.8,332.7 443.8,332.9 444.7,332.4 446.4,331.2 447.5,330.6 447.5,330.9 448.6,329.9 449.9,329.2 449.9,328.4 450.6,327.8 450.6,328.1 451.2,327.9 452.5,326.8 453,326.4 453.4,325.2 454,324.7 454.9,324.3 455.6,323.5 455.8,323.5 455.8,323.7 456.5,323.4 458.2,322.5 458.2,322.5 458.2,322.7 459.1,321.8 460.8,320.8 460.8,320.8 461,320.8 461.3,320.3 461.7,319.7 462.3,319.3 462.6,319.2 463.2,319 463.9,318.5 464.1,318.5 465,317.7 465,317.7 465.8,317.5 465.8,317.6 465.8,317.9 465.8,318.1 466,318 466.7,317.8 467.8,316.2 468.4,316 468.4,316.1 470.2,315.1 470.9,314.7 470.9,314.7 472,313.9 472.6,313.6 473.3,313.4 473.3,313.4 473.3,313.4 473.9,313.3 474.3,312.1 475.9,311.3 476.7,311 476.8,311 477.8,310.3 478.5,310.1 478.5,310.1 479.2,309.8 479.8,309.6 479.8,310 481.3,309.2 481.6,309.3 481.8,309.4 482.2,309.3 483.5,308.4 484.2,308.2 484.2,308.2 485.5,306.9 486.1,306.3 487,306 487.9,305.4 487.9,305.5 488.7,305.2 489.4,304.4 490.5,303.7 491.1,303.8 491.8,303 491.8,303.6 493.6,302.5 498.4,300 498.8,299.9 498.8,300.1 499.6,299.7 500.7,297.8 500.7,298.5 504.5,296 506,295.3 510.8,293.5 516.2,291.1 518.8,285.4 526.3,282.5 532.8,260"/>
<polyline points="400.1,363.2 406.9,358.2 411.9,356.3 412.8,356.5 414.1,353.1 414.1,349.9 414.3,350.7 416.9,349.7 422,347 422,347 422.9,345.7 423.7,345.2 424.4,345.3 424.4,343.8 424.4,344.1 424.4,344.5 425.2,344.4 425.3,343.8 425.3,344.1 427.2,342.5 427.2,342.9 427.7,343 427.7,342.9 428.3,342.7 428.7,342.2 428.7,342.2 429.2,342.2 430.5,341.4 431.8,340.6 432.2,340.7 432.2,340.8 434.6,337.8 434.6,338 438.8,335.5 439.7,334.9 439.7,334.9 440.7,334.5 441,334.3 441.4,334.1 441.4,334.5 442.3,333.8 442.3,334 442.9,333.7 443.3,333.7 443.8,333.5 443.8,333.7 444.7,332.9 446.4,332 447.5,331.5 447.5,331.7 448.6,330.9 449.9,329.8 449.9,330.1 450.6,329.1 450.6,328.8 451.2,328.5 452.5,327.8 453,327.7 453.4,327.1 454,327 454.9,325.9 455.6,324 455.8,323.9 455.8,324 456.5,323.5 458.2,322.2 458.2,322.3 458.2,322.6 459.1,321.8 460.8,320.4 460.8,319.7 461,319.7 461.3,319.6 461.7,319.5 462.3,319 462.6,317.9 463.2,317.6 463.9,317.2 464.1,316.8 465,315.9 465,315.9 465.8,315.5 465.8,315.7 465.8,315 465.8,315.2 466,315.1 466.7,313.8 467.8,312.7 468.4,312.4 468.4,312.3 470.2,310.8 470.9,310.4 470.9,310 472,309.3 472.6,308.2 473.3,307.6 473.3,307.6 473.3,307.2 473.9,307 474.3,306.6 475.9,304.5 476.7,303.9 476.8,304 477.8,302.3 478.5,301.8 478.5,301.4 479.2,300.8 479.8,300.2 479.8,299.6 481.3,298.3 481.6,298.2 481.8,298.4 482.2,298.2 483.5,297.5 484.2,297.1 484.2,297.2 485.5,296.2 486.1,295.6 487,295 487.9,294.3 487.9,294.6 488.7,293.8 489.4,293.6 490.5,293 491.1,291.6 491.8,291.3 491.8,291.5 493.6,290 498.4,286.1 498.8,285.6 498.8,285.8 499.6,284.8 500.7,284.2 500.7,284.6 504.5,279.7 506,278.4 510.8,275.5 516.2,268.9 518.8,267.6 526.3,260.5 532.8,250.4"/>
<polyline points="400.1,367.4 406.9,360.1 411.9,358.8 412.8,356.6 414.1,356.3 414.1,353 414.3,353.3 416.9,351.8 422,348.9 422,346.7 422.9,346 423.7,345.8 424.4,345.2 424.4,345.8 424.4,344.6 424.4,344.3 425.2,343.6 425.3,343.6 425.3,343.8 427.2,342.3 427.2,342.6 427.7,341.9 427.7,342.2 428.3,341.5 428.7,341.5 428.7,341.3 429.2,340.6 430.5,339.6 431.8,338.5 432.2,338.3 432.2,338.6 434.6,336.8 434.6,336.9 438.8,333.9 439.7,333.5 439.7,333.6 440.7,332.9 441,333 441.4,333 441.4,333.1 442.3,332.7 442.3,332.9 442.9,332.8 443.3,332.5 443.8,332.2 443.8,332.3 444.7,331.7 446.4,330.6 447.5,329.9 447.5,329.8 448.6,329.1 449.9,327.9 449.9,327.7 450.6,327.2 450.6,327.5 451.2,326.8 452.5,326 453,324.7 453.4,324.5 454,324.1 454.9,323.5 455.6,323.1 455.8,323.1 455.8,323.1 456.5,321.4 458.2,320.2 458.2,320.1 458.2,320.3 459.1,319.5 460.8,318 460.8,318.2 461,318.1 461.3,317.6 461.7,317.5 462.3,317.3 462.6,317.3 463.2,316.6 463.9,316.2 464.1,316 465,315.4 465,315.6 465.8,315.1 465.8,315.2 465.8,315.2 465.8,314.6 466,314.7 466.7,314.2 467.8,312.9 468.4,312.3 468.4,311.7 470.2,308.7 470.9,308.1 470.9,308.3 472,307.6 472.6,306.9 473.3,306.2 473.3,306.4 473.3,306.6 473.9,306.1 474.3,306 475.9,304.7 476.7,304 476.8,304.1 477.8,303.5 478.5,303.1 478.5,302.7 479.2,302.3 479.8,302.2 479.8,302.3 481.3,301.1 481.6,300.4 481.8,300.4 482.2,300.4 483.5,299.8 484.2,299.1 484.2,299.5 485.5,298.6 486.1,298.2 487,297.2 487.9,296.9 487.9,296.8 488.7,296.3 489.4,296.1 490.5,295.5 491.1,294.9 491.8,294.8 491.8,294.3 493.6,292.2 498.4,286.1 498.8,285.4 498.8,285.5 499.6,284.1 500.7,283.7 500.7,284.6 504.5,281.7 506,281.1 510.8,278.1 516.2,274.9 518.8,268.3 526.3,263.4 532.8,256.1"/>
<polyline points="400.1,348.6 406.9,348.8 411.9,347.9 412.8,349 414.1,349.4 414.1,350.2 414.3,347.1 416.9,344.9 422,340.6 422,340.5 422.9,340.1 423.7,340 424.4,340.2 424.4,340.5 424.4,340.5 424.4,340.7 425.2,339.2 425.3,339.6 425.3,339.9 427.2,339.1 427.2,339.3 427.7,338.5 427.7,338.9 428.3,339 428.7,338.9 428.7,339.1 429.2,339.2 430.5,338.5 431.8,337.2 432.2,337.2 432.2,336.9 434.6,335.5 434.6,335.1 438.8,332.9 439.7,332.5 439.7,332.7 440.7,331.8 441,331.7 441.4,331.8 441.4,332 442.3,331.6 442.3,331.9 442.9,331.2 443.3,331 443.8,330.6 443.8,330.9 444.7,330.4 446.4,329.5 447.5,329.1 447.5,329.3 448.6,328.9 449.9,327.8 449.9,327.4 450.6,327.2 450.6,327.2 451.2,327 452.5,326.3 453,326.2 453.4,326.1 454,325.6 454.9,324.2 455.6,323.5 455.8,323.4 455.8,323.3 456.5,323.1 458.2,321.7 458.2,321.9 458.2,321.8 459.1,321.2 460.8,319.9 460.8,320.2 461,320 461.3,320 461.7,320 462.3,319.8 462.6,319.8 463.2,319.7 463.9,319.3 464.1,319.3 465,317.9 465,317.6 465.8,317.1 465.8,317.2 465.8,317.4 465.8,317.7 466,317.4 466.7,316.7 467.8,316.1 468.4,315.9 468.4,315.5 470.2,314.4 470.9,314.1 470.9,314.2 472,313.1 472.6,313 473.3,311.9 473.3,311.8 473.3,312 473.9,311.7 474.3,311.6 475.9,310.7 476.7,310.2 476.8,309.8 477.8,309.5 478.5,308.9 478.5,309.2 479.2,308.8 479.8,307.8 479.8,307.7 481.3,306.2 481.6,305.8 481.8,306 482.2,305.6 483.5,304 484.2,302.9 484.2,303 485.5,301.3 486.1,301.3 487,300.4 487.9,300 487.9,299.2 488.7,299.1 489.4,298.6 490.5,297.8 491.1,297.6 491.8,297.1 491.8,297.7 493.6,295.7 498.4,292.8 498.8,291.7 498.8,290.6 499.6,290.8 500.7,289.1 500.7,289.5 504.5,287.5 506,287.1 510.8,284.4 516.2,277.5 518.8,277.5 526.3,263.3 532.8,259.6"/>
<polyline points="400.1,365.4 406.9,354.9 411.9,352.3 412.8,349.6 414.1,346.6 414.1,345 414.3,345.4 416.9,343.6 422,340.7 422,340.6 422.9,339.6 423.7,339.7 424.4,338.8 424.4,339.1 424.4,339.6 424.4,340.1 425.2,339.4 425.3,339.5 425.3,339.1 427.2,337.4 427.2,337.7 427.7,337.4 427.7,337.5 428.3,337.4 428.7,337.2 428.7,337.6 429.2,336.7 430.5,336.1 431.8,335.4 432.2,335.4 432.2,335.7 434.6,334.3 434.6,334.6 438.8,331.8 439.7,330.6 439.7,330.8 440.7,330.3 441,330.1 441.4,330 441.4,330 442.3,329.7 442.3,329.8 442.9,329.6 443.3,329.5 443.8,329.3 443.8,329.5 444.7,328.8 446.4,327.5 447.5,326.5 447.5,326.6 448.6,326 449.9,325.4 449.9,325.1 450.6,324.4 450.6,324.7 451.2,324.5 452.5,323.7 453,323.2 453.4,323.1 454,322.6 454.9,322 455.6,321.3 455.8,320.8 455.8,321 456.5,320.5 458.2,319.5 458.2,319.7 458.2,319.8 459.1,319 460.8,317.5 460.8,317.7 461,317.6 461.3,317.6 461.7,316.5 462.3,316 462.6,315.4 463.2,315.2 463.9,313.9 464.1,314 465,313.2 465,313.2 465.8,312.8 465.8,313 465.8,313.1 465.8,313.2 466,313.3 466.7,310.6 467.8,309.9 468.4,309.7 468.4,310 470.2,308.9 470.9,308.4 470.9,308.4 472,307.5 472.6,307.4 473.3,305.6 473.3,305.7 473.3,306 473.9,305.5 474.3,305.5 475.9,303.8 476.7,303.6 476.8,303.7 477.8,302.8 478.5,302.3 478.5,302.3 479.2,301.5 479.8,301.4 479.8,301.5 481.3,299.3 481.6,298.7 481.8,298.7 482.2,298.6 483.5,298 484.2,297.9 484.2,297.1 485.5,295.9 486.1,295.8 487,295.2 487.9,294.9 487.9,294.8 488.7,294.7 489.4,294.6 490.5,294 491.1,293.6 491.8,293.5 491.8,293.4 493.6,292.1 498.4,288.6 498.8,288.7 498.8,287.1 499.6,287.2 500.7,287.2 500.7,287.7 504.5,284.6 506,284.6 510.8,278.9 516.2,276.4 518.8,273.9 526.3,269.7 532.8,264.9"/>
<polyline points="400.1,375.5 406.9,363.4 411.9,360.1 412.8,352.8 414.1,349.8 414.1,348.8 414.3,348.8 416.9,346.6 422,343.8 422,344.2 422.9,342.1 423.7,342 424.4,341.5 424.4,341.7 424.4,342.2 424.4,342.7 425.2,342.4 425.3,342.8 425.3,343.2 427.2,341.2 427.2,340.8 427.7,340.5 427.7,339.5 428.3,339.5 428.7,339.6 428.7,339.8 429.2,339.7 430.5,338.2 431.8,337.5 432.2,337.3 432.2,337.7 434.6,336 434.6,336.3 438.8,333.5 439.7,333.1 439.7,332.5 440.7,332.2 441,332.2 441.4,331.7 441.4,331.9 442.3,331.1 442.3,330.9 442.9,330.7 443.3,330.6 443.8,330.4 443.8,330.4 444.7,329.9 446.4,328.5 447.5,327.8 447.5,327.2 448.6,326.5 449.9,325.7 449.9,325.6 450.6,325.3 450.6,325.4 451.2,325.1 452.5,324.2 453,324 453.4,323.9 454,323.6 454.9,323.3 455.6,323.1 455.8,322.6 455.8,322.8 456.5,322.2 458.2,321.1 458.2,321 458.2,321.1 459.1,320.7 460.8,319.7 460.8,319.4 461,319.3 461.3,319.2 461.7,319 462.3,318.8 462.6,318.8 463.2,318.2 463.9,318 464.1,317.9 465,317.3 465,317.5 465.8,316.2 465.8,316 465.8,316.2 465.8,316.3 466,316.4 466.7,316.1 467.8,315.4 468.4,315.3 468.4,315.2 470.2,314.2 470.9,314.1 470.9,314.3 472,313.3 472.6,312.9 473.3,312.1 473.3,311.7 473.3,311.9 473.9,311.5 474.3,311 475.9,310.2 476.7,309.8 476.8,309.1 477.8,308.5 478.5,308.4 478.5,308.1 479.2,307.9 479.8,307.6 479.8,307.7 481.3,307 481.6,307 481.8,306.9 482.2,306.8 483.5,306.3 484.2,306.3 484.2,306.6 485.5,305.4 486.1,305.3 487,305.1 487.9,303.8 487.9,304.1 488.7,302.3 489.4,302.3 490.5,301.7 491.1,301.2 491.8,300.9 491.8,300.7 493.6,299.4 498.4,295.2 498.8,294.8 498.8,295 499.6,294.3 500.7,292 500.7,291 504.5,288.8 506,288.8 510.8,286.6 516.2,283.7 518.8,284 526.3,278.2 532.8,278.6"/>
<polyline points="400.1,370.8 406.9,362.4 411.9,360.2 412.8,359.8 414.1,360.5 414.1,357.9 414.3,357.9 416.9,355.3 422,352 422,352.5 422.9,351.7 423.7,350.6 424.4,350.2 424.4,348.6 424.4,347.8 424.4,345.1 425.2,345 425.3,344.9 425.3,344.3 427.2,342.9 427.2,343.2 427.7,343.3 427.7,341.2 428.3,341.1 428.7,340.3 428.7,340.1 429.2,340 430.5,339.2 431.8,338.4 432.2,338.5 432.2,338.4 434.6,336.9 434.6,337 438.8,334.3 439.7,333.7 439.7,333.6 440.7,332.9 441,332.7 441.4,332.4 441.4,332.4 442.3,332 442.3,331.9 442.9,331.7 443.3,331.8 443.8,331.4 443.8,331.6 444.7,331 446.4,330.1 447.5,328.1 447.5,328 448.6,327.5 449.9,326.9 449.9,326.4 450.6,325.9 450.6,326.1 451.2,324.4 452.5,323.5 453,323.4 453.4,323.3 454,322.8 454.9,321.9 455.6,321.1 455.8,320.9 455.8,321 456.5,320.4 458.2,319.3 458.2,319.3 458.2,319.2 459.1,318.9 460.8,317.9 460.8,318.2 461,318.1 461.3,317.6 461.7,317.5 462.3,317 462.6,316.7 463.2,316.4 463.9,316.2 464.1,316.3 465,315.8 465,315.7 465.8,315.3 465.8,315.6 465.8,315.7 465.8,315.9 466,315.3 466.7,315 467.8,314.5 468.4,313.8 468.4,313.7 470.2,312.5 470.9,311.7 470.9,311.3 472,310.8 472.6,310.5 473.3,310.1 473.3,310.2 473.3,309.4 473.9,309 474.3,309 475.9,307.4 476.7,306.9 476.8,307 477.8,306.8 478.5,306.1 478.5,306.2 479.2,305.8 479.8,305 479.8,305.3 481.3,304.1 481.6,303.8 481.8,303.8 482.2,303.8 483.5,303.3 484.2,302.4 484.2,302.6 485.5,302.1 486.1,302.1 487,300.2 487.9,299.9 487.9,299.9 488.7,299.4 489.4,299.2 490.5,298.8 491.1,298.8 491.8,298.9 491.8,297.9 493.6,297.3 498.4,294.8 498.8,294.1 498.8,294.6 499.6,294.3 500.7,294.2 500.7,295.1 504.5,293.1 506,292.8 510.8,288.2 516.2,285.4 518.8,282 526.3,279.8 532.8,260.8"/>
<polyline points="400.1,368.4 406.9,366.2 411.9,354.9 412.8,355.3 414.1,352.6 414.1,353.1 414.3,353.4 416.9,352.4 422,348.6 422,349.3 422.9,348.6 423.7,347.1 424.4,347.2 424.4,347.5 424.4,348.1 424.4,348 425.2,348 425.3,347.2 425.3,347.1 427.2,345.5 427.2,345.6 427.7,345.6 427.7,345.8 428.3,345.3 428.7,344.3 428.7,344.6 429.2,343.3 430.5,342.7 431.8,341.4 432.2,340.8 432.2,340.8 434.6,338.9 434.6,339.1 438.8,335.9 439.7,335.3 439.7,335.1 440.7,334.1 441,333.9 441.4,333.9 441.4,334.1 442.3,333.5 442.3,333.7 442.9,333.5 443.3,333.2 443.8,333 443.8,333.3 444.7,332.3 446.4,331.2 447.5,330.7 447.5,330.7 448.6,330 449.9,329 449.9,328.6 450.6,328.3 450.6,328.4 451.2,327.6 452.5,326.9 453,325.6 453.4,325.6 454,325.1 454.9,324.4 455.6,324 455.8,323.8 455.8,323.3 456.5,322.5 458.2,321.2 458.2,321.4 458.2,320.8 459.1,320 460.8,318.8 460.8,318.5 461,318.5 461.3,318.4 461.7,318 462.3,317.2 462.6,317 463.2,316.4 463.9,316 464.1,316 465,314.6 465,314.1 465.8,313.5 465.8,313.3 465.8,313.5 465.8,313.6 466,313.3 466.7,312.9 467.8,312.1 468.4,311.2 468.4,311.4 470.2,310.1 470.9,309.5 470.9,309.1 472,307.8 472.6,307.3 473.3,306.5 473.3,305.9 473.3,306.1 473.9,305.6 474.3,305.5 475.9,304.2 476.7,303.8 476.8,303.6 477.8,302.4 478.5,301.7 478.5,301.8 479.2,301.2 479.8,300.7 479.8,301.1 481.3,299.8 481.6,299.7 481.8,299.8 482.2,299.3 483.5,298.5 484.2,298 484.2,298.3 485.5,297.6 486.1,297.3 487,294.7 487.9,294.4 487.9,294.7 488.7,294.3 489.4,293.6 490.5,292.7 491.1,292.6 491.8,291.6 491.8,290.5 493.6,289.6 498.4,285.7 498.8,284.9 498.8,285.1 499.6,283.8 500.7,283.4 500.7,283.8 504.5,281.4 506,281.2 510.8,277.2 516.2,273.7 518.8,271.9 526.3,267.5 532.8,256.3"/>
<polyline points="400.1,366.2 406.9,365.3 411.9,357 412.8,355.3 414.1,354.2 414.1,353.7 414.3,354.2 416.9,353.1 422,350.2 422,349.9 422.9,349.7 423.7,347.8 424.4,347.7 424.4,347.2 424.4,347.3 424.4,347.5 425.2,347.3 425.3,345.9 425.3,346.3 427.2,344.7 427.2,345.1 427.7,344.7 427.7,345.1 428.3,344.5 428.7,344.6 428.7,344 429.2,343.9 430.5,343 431.8,342 432.2,340.5 432.2,340.6 434.6,338.9 434.6,338.5 438.8,335.4 439.7,334.5 439.7,334.7 440.7,333.8 441,333.7 441.4,333.7 441.4,333.9 442.3,332.9 442.3,332.3 442.9,332.2 443.3,332 443.8,331.7 443.8,332 444.7,331.3 446.4,330 447.5,329 447.5,328.8 448.6,327.5 449.9,326.8 449.9,327 450.6,326.6 450.6,325.5 451.2,325.2 452.5,323.7 453,323.6 453.4,323.5 454,323.2 454.9,322.3 455.6,322 455.8,322 455.8,322.1 456.5,321.7 458.2,320.7 458.2,320.9 458.2,320.9 459.1,320.4 460.8,319.4 460.8,319.6 461,319.7 461.3,319.5 461.7,319.4 462.3,319.1 462.6,318.5 463.2,318.2 463.9,317.6 464.1,317.6 465,316.6 465,316.7 465.8,316.1 465.8,316.3 465.8,316.1 465.8,315.9 466,315.8 466.7,315.5 467.8,314.5 468.4,313.5 468.4,313.6 470.2,312.5 470.9,311.5 470.9,311.6 472,311.1 472.6,310.5 473.3,309.9 473.3,310.2 473.3,309.9 473.9,309.8 474.3,309.5 475.9,308.4 476.7,307.8 476.8,307 477.8,306.2 478.5,305.9 478.5,306.2 479.2,305.7 479.8,305.6 479.8,305.7 481.3,303.3 481.6,303.1 481.8,302.9 482.2,302.9 483.5,302.2 484.2,301.8 484.2,302 485.5,301.4 486.1,301.3 487,300.9 487.9,300 487.9,299.7 488.7,299.6 489.4,299.3 490.5,298.4 491.1,298 491.8,297.3 491.8,296.8 493.6,295.2 498.4,291.3 498.8,291.7 498.8,292.3 499.6,290.9 500.7,290.7 500.7,291.4 504.5,289 506,288.9 510.8,281.1 516.2,274.2 518.8,274.2 526.3,270.5 532.8,267.4"/>
<polyline points="400.1,363.2 406.9,349.2 411.9,348.1 412.8,348.9 414.1,348.2 414.1,349.2 414.3,349.1 416.9,348.1 422,344.1 422,344.4 422.9,343.3 423.7,343.4 424.4,342.5 424.4,342.8 424.4,342.7 424.4,343.2 425.2,342.5 425.3,342.8 425.3,343.2 427.2,341.6 427.2,340.4 427.7,340.4 427.7,340.7 428.3,340.2 428.7,339.9 428.7,340.2 429.2,340.2 430.5,339.5 431.8,338.2 432.2,338 432.2,338.1 434.6,336.9 434.6,337 438.8,333.9 439.7,333.6 439.7,334 440.7,333.2 441,333 441.4,332.9 441.4,333.1 442.3,332.4 442.3,332.4 442.9,332.3 443.3,332.3 443.8,331.7 443.8,331.1 444.7,330.4 446.4,328.8 447.5,328.3 447.5,327.6 448.6,326.9 449.9,326.3 449.9,326.5 450.6,326 450.6,326.3 451.2,326 452.5,325.2 453,324.2 453.4,324 454,323.3 454.9,322.9 455.6,322.6 455.8,322.6 455.8,322.5 456.5,322.1 458.2,321 458.2,321 458.2,321.1 459.1,320.6 460.8,319.7 460.8,319.3 461,319.3 461.3,319.1 461.7,319 462.3,318.7 462.6,318.5 463.2,318.3 463.9,317.9 464.1,316.9 465,316.5 465,316.6 465.8,316.3 465.8,316.6 465.8,316.7 465.8,316.7 466,316.5 466.7,316.2 467.8,315.8 468.4,315 468.4,315 470.2,314 470.9,313.8 470.9,314 472,313.1 472.6,312.9 473.3,312.7 473.3,312.9 473.3,312.8 473.9,312.7 474.3,312.7 475.9,311.7 476.7,310.5 476.8,310.6 477.8,310.3 478.5,310 478.5,310.1 479.2,309.9 479.8,309.8 479.8,309.7 481.3,308.5 481.6,308 481.8,307.6 482.2,307.6 483.5,306.4 484.2,306.2 484.2,306.1 485.5,304.8 486.1,303.6 487,303 487.9,302.6 487.9,303 488.7,302.3 489.4,301.9 490.5,301.1 491.1,300.8 491.8,300.4 491.8,299.2 493.6,298.2 498.4,295.5 498.8,293.3 498.8,293.3 499.6,293 500.7,292.3 500.7,292.7 504.5,288.5 506,288.5 510.8,285.6 516.2,281.6 518.8,280.1 526.3,275.8 532.8,276.4"/>
<polyline points="400.1,369.3 406.9,359.8 411.9,356.8 412.8,356.1 414.1,354.3 414.1,353.3 414.3,350 416.9,348.2 422,345.4 422,345.8 422.9,343.3 423.7,343.4 424.4,342.5 424.4,342.7 424.4,343.3 424.4,343.4 425.2,342.6 425.3,342.9 425.3,342.6 427.2,341.6 427.2,342 427.7,341.6 427.7,341.8 428.3,341.7 428.7,341.7 428.7,342.1 429.2,342 430.5,341.5 431.8,339.3 432.2,339.2 432.2,339.2 434.6,337.8 434.6,336.5 438.8,333.6 439.7,333 439.7,332.6 440.7,332 441,331.9 441.4,331.9 441.4,332 442.3,331.5 442.3,331.6 442.9,331.1 443.3,330.1 443.8,329.8 443.8,330 444.7,329.6 446.4,328.7 447.5,328 447.5,328.1 448.6,327.7 449.9,326.8 449.9,326.2 450.6,325.7 450.6,325.5 451.2,325.5 452.5,324.5 453,324.1 453.4,323.6 454,323.2 454.9,322 455.6,321.5 455.8,320.5 455.8,320.7 456.5,320.4 458.2,319.3 458.2,319.6 458.2,319.7 459.1,318.9 460.8,317.6 460.8,317.9 461,317.9 461.3,316.8 461.7,316.7 462.3,316.6 462.6,316.4 463.2,316 463.9,315.5 464.1,315.2 465,314.6 465,314.9 465.8,314.5 465.8,314.7 465.8,314.9 465.8,314.8 466,314.5 466.7,314 467.8,313.3 468.4,312.9 468.4,313.2 470.2,312.1 470.9,311.7 470.9,311.7 472,310.8 472.6,310.7 473.3,308.7 473.3,308.7 473.3,308.4 473.9,308.3 474.3,308.1 475.9,307.1 476.7,306.9 476.8,307 477.8,306.2 478.5,305.1 478.5,305.1 479.2,304.7 479.8,304.7 479.8,304.9 481.3,303.9 481.6,303.7 481.8,303.9 482.2,303.7 483.5,302.6 484.2,301.9 484.2,302.1 485.5,301 486.1,300.1 487,299.3 487.9,298.8 487.9,298.8 488.7,297 489.4,296.2 490.5,295.9 491.1,295.8 491.8,295.5 491.8,294.4 493.6,293.2 498.4,289.8 498.8,289.7 498.8,290.5 499.6,290.5 500.7,288.7 500.7,287.9 504.5,285.1 506,284.1 510.8,277.6 516.2,274.8 518.8,273.2 526.3,269.7 532.8,256.3"/>
<polyline points="400.1,362 406.9,359.7 411.9,358.6 412.8,352.6 414.1,347.6 414.1,346.5 414.3,346.8 416.9,345.1 422,342.3 422,342.1 422.9,341.7 423.7,341.6 424.4,341.6 424.4,342.1 424.4,342.5 424.4,341.5 425.2,340.8 425.3,340.7 425.3,340.5 427.2,339.7 427.2,340.2 427.7,339.8 427.7,340.2 428.3,340.1 428.7,338.8 428.7,339.2 429.2,339.1 430.5,338.4 431.8,336.9 432.2,336.8 432.2,336.5 434.6,334.2 434.6,334.4 438.8,331.8 439.7,330.9 439.7,330.2 440.7,329.8 441,329.8 441.4,329.7 441.4,329.7 442.3,329.4 442.3,329.7 442.9,329.4 443.3,329.1 443.8,329 443.8,329.1 444.7,328.4 446.4,327.5 447.5,326.7 447.5,326.9 448.6,326.1 449.9,325.3 449.9,325.4 450.6,325.1 450.6,325 451.2,324.1 452.5,323.3 453,323.1 453.4,322 454,321.7 454.9,321.2 455.6,320.9 455.8,320.8 455.8,320.9 456.5,320.5 458.2,319.3 458.2,319.3 458.2,319.3 459.1,318.8 460.8,317.8 460.8,317.6 461,317.4 461.3,317.4 461.7,316.4 462.3,316.2 462.6,316.1 463.2,315.9 463.9,315.5 464.1,315.5 465,315.1 465,314.9 465.8,314.5 465.8,314.7 465.8,314.7 465.8,314.1 466,314 466.7,313.5 467.8,312.9 468.4,312.6 468.4,312.8 470.2,311 470.9,310.5 470.9,310.4 472,309.9 472.6,309.6 473.3,309.4 473.3,309.6 473.3,309.2 473.9,308.9 474.3,307.9 475.9,307 476.7,306.7 476.8,306 477.8,305 478.5,304.7 478.5,304.8 479.2,304.5 479.8,304 479.8,304.4 481.3,303.4 481.6,303.3 481.8,303.1 482.2,303.2 483.5,302.5 484.2,301.3 484.2,301.7 485.5,300.7 486.1,300.6 487,299 487.9,298 487.9,298.2 488.7,298 489.4,297.9 490.5,297.5 491.1,297.1 491.8,296.6 491.8,296.6 493.6,293.8 498.4,290.3 498.8,289.8 498.8,288.8 499.6,288.4 500.7,288.2 500.7,288 504.5,285.5 506,284.8 510.8,278.7 516.2,274.9 518.8,274.3 526.3,271.4 532.8,256.3"/>
<polyline points="400.1,352.6 406.9,351.8 411.9,350.3 412.8,349 414.1,347.7 414.1,345.8 414.3,346.8 416.9,344.3 422,341.3 422,341.9 422.9,341.7 423.7,340.9 424.4,340.1 424.4,340.7 424.4,341.2 424.4,341.6 425.2,341.5 425.3,340.4 425.3,340.7 427.2,339.9 427.2,339.8 427.7,339.9 427.7,340.2 428.3,340.3 428.7,340.3 428.7,340.1 429.2,339.8 430.5,337.8 431.8,337 432.2,337 432.2,337.4 434.6,335.9 434.6,336 438.8,333.7 439.7,332.8 439.7,333.1 440.7,332.4 441,332.2 441.4,332.2 441.4,332.4 442.3,332 442.3,331.8 442.9,331.7 443.3,331.7 443.8,331.6 443.8,331.6 444.7,331.4 446.4,330.5 447.5,329.9 447.5,330.1 448.6,328.8 449.9,327.8 449.9,327.9 450.6,327.6 450.6,326.4 451.2,326 452.5,325.2 453,324.9 453.4,324.8 454,324.2 454.9,323.1 455.6,322.6 455.8,322 455.8,322.3 456.5,321.7 458.2,320.6 458.2,320.7 458.2,320.5 459.1,319.8 460.8,318.7 460.8,318.8 461,318.1 461.3,317.4 461.7,317.3 462.3,316.3 462.6,316.2 463.2,315.4 463.9,314.9 464.1,314.9 465,314.3 465,314.1 465.8,313.5 465.8,313.7 465.8,314 465.8,313.9 466,313.9 466.7,313.6 467.8,313.1 468.4,312.8 468.4,313 470.2,311.8 470.9,311 470.9,310.2 472,309.2 472.6,307.9 473.3,306.7 473.3,306.7 473.3,306.5 473.9,306.2 474.3,305.6 475.9,304.4 476.7,303.8 476.8,303.8 477.8,303.3 478.5,303 478.5,303 479.2,302.7 479.8,302.5 479.8,302.8 481.3,302 481.6,301.1 481.8,301.2 482.2,301.2 483.5,300.6 484.2,300.4 484.2,300.7 485.5,300.1 486.1,299.1 487,298.5 487.9,297.9 487.9,298.2 488.7,298.1 489.4,297.9 490.5,297 491.1,296.9 491.8,296.7 491.8,295.8 493.6,294.3 498.4,291 498.8,291.1 498.8,291.8 499.6,291.7 500.7,291.5 500.7,292.3 504.5,288.9 506,289 510.8,286.6 516.2,283.7 518.8,283.5 526.3,277.8 532.8,277.1"/>
</g>
<line x1="400.06" y1="360.958" x2="532.78" y2="268.844" stroke="#97c8ea" stroke-width="2"/>
</g>
<rect x="59.55" y="21.3" width="513.45" height="151.6" fill="none" stroke="#000" stroke-width="1.35"/>
<rect x="59.6" y="240.9" width="218.70000000000002" height="151.70000000000002" fill="none" stroke="#000" stroke-width="1.35"/>
<rect x="354.6" y="240.9" width="218.29999999999995" height="151.70000000000002" fill="none" stroke="#000" stroke-width="1.35"/>
<path d="M83.1,172.9v4.6 M176.5,172.9v4.6 M269.8,172.9v4.6 M363.2,172.9v4.6 M456.5,172.9v4.6 M549.9,172.9v4.6 M59.55,127.4h-4.6 M59.55,80.9h-4.6 M59.55,34.3h-4.6 M66.6,392.6v4.6 M138.1,392.6v4.6 M209.7,392.6v4.6 M59.6,256.7h-4.6 M59.6,309.5h-4.6 M59.6,362.3h-4.6 M421.9,392.6v4.6 M354.6,345.8h-4.6 M505.9,392.6v4.6 M354.6,287.5h-4.6" stroke="#000" stroke-width="1.35" fill="none"/>
<g font-family="Liberation Sans, sans-serif" fill="#000" stroke="#000" stroke-width="0.12">
<text x="83.1" y="191.5" font-size="14.0" text-anchor="middle" fill="#000" stroke="#000" textLength="31.5" lengthAdjust="spacingAndGlyphs" >1850</text>
<text x="176.5" y="191.5" font-size="14.0" text-anchor="middle" fill="#000" stroke="#000" textLength="31.5" lengthAdjust="spacingAndGlyphs" >1900</text>
<text x="269.8" y="191.5" font-size="14.0" text-anchor="middle" fill="#000" stroke="#000" textLength="31.5" lengthAdjust="spacingAndGlyphs" >1950</text>
<text x="363.2" y="191.5" font-size="14.0" text-anchor="middle" fill="#000" stroke="#000" textLength="31.5" lengthAdjust="spacingAndGlyphs" >2000</text>
<text x="456.5" y="191.5" font-size="14.0" text-anchor="middle" fill="#000" stroke="#000" textLength="31.5" lengthAdjust="spacingAndGlyphs" >2050</text>
<text x="549.9" y="191.5" font-size="14.0" text-anchor="middle" fill="#000" stroke="#000" textLength="31.5" lengthAdjust="spacingAndGlyphs" >2100</text>
<text x="49.6" y="132.3" font-size="14.0" text-anchor="end" fill="#000" stroke="#000" textLength="7.2" lengthAdjust="spacingAndGlyphs" >5</text>
<text x="49.6" y="85.8" font-size="14.0" text-anchor="end" fill="#000" stroke="#000" textLength="14.6" lengthAdjust="spacingAndGlyphs" >10</text>
<text x="49.6" y="39.2" font-size="14.0" text-anchor="end" fill="#000" stroke="#000" textLength="14.6" lengthAdjust="spacingAndGlyphs" >15</text>
<text x="316.4" y="210.1" font-size="14.6" text-anchor="middle" fill="#000" stroke="#000" textLength="30.6" lengthAdjust="spacingAndGlyphs" >Year</text>
<text x="316.5" y="12.9" font-size="16.2" text-anchor="middle" fill="#000" stroke="#000" textLength="178.5" lengthAdjust="spacingAndGlyphs" >(a) March Temperature</text>
<text transform="translate(24.8,97) rotate(-90)" font-size="14.6" text-anchor="middle" textLength="108" lengthAdjust="spacingAndGlyphs">T Anomaly (<tspan font-size="10.2" dy="-4.6">0</tspan><tspan dy="4.6">C)</tspan></text>
<text x="410.3" y="142.4" font-size="14.6" text-anchor="start" fill="#000" stroke="#000" textLength="73.5" lengthAdjust="spacingAndGlyphs" >Kyoto OBS</text>
<text x="409.6" y="160.6" font-size="14.6" text-anchor="start" fill="#ff0000" stroke="#ff0000" textLength="26.2" lengthAdjust="spacingAndGlyphs" >ALL</text>
<text x="451.3" y="160.8" font-size="14.6" text-anchor="start" fill="#00ff00" stroke="#00ff00" textLength="27.8" lengthAdjust="spacingAndGlyphs" >NAT</text>
<text x="168.9" y="232.6" font-size="16.2" text-anchor="middle" fill="#000" stroke="#000" textLength="154.6" lengthAdjust="spacingAndGlyphs" >(b) Power Spectrum</text>
<text x="66.6" y="411.0" font-size="14.0" text-anchor="middle" fill="#000" stroke="#000" textLength="8" lengthAdjust="spacingAndGlyphs" >0</text>
<text x="138.1" y="411.0" font-size="14.0" text-anchor="middle" fill="#000" stroke="#000" textLength="16" lengthAdjust="spacingAndGlyphs" >50</text>
<text x="209.7" y="411.0" font-size="14.0" text-anchor="middle" fill="#000" stroke="#000" textLength="23.5" lengthAdjust="spacingAndGlyphs" >100</text>
<text x="21.2" y="261.9" font-size="14.0" text-anchor="start"><tspan textLength="15.4" lengthAdjust="spacingAndGlyphs">10</tspan><tspan font-size="10.2" dy="-4.4" dx="1.9" textLength="11.4" lengthAdjust="spacingAndGlyphs">−1</tspan></text>
<text x="21.2" y="314.7" font-size="14.0" text-anchor="start"><tspan textLength="15.4" lengthAdjust="spacingAndGlyphs">10</tspan><tspan font-size="10.2" dy="-4.4" dx="1.9" textLength="11.4" lengthAdjust="spacingAndGlyphs">−3</tspan></text>
<text x="21.2" y="367.5" font-size="14.0" text-anchor="start"><tspan textLength="15.4" lengthAdjust="spacingAndGlyphs">10</tspan><tspan font-size="10.2" dy="-4.4" dx="1.9" textLength="11.4" lengthAdjust="spacingAndGlyphs">−5</tspan></text>
<text x="168.7" y="430.4" font-size="14.6" text-anchor="middle" fill="#000" stroke="#000" textLength="99.6" lengthAdjust="spacingAndGlyphs" >Period (years)</text>
<text transform="translate(12.6,317) rotate(-90)" font-size="14.6" text-anchor="middle" textLength="61.5" lengthAdjust="spacingAndGlyphs">Variance</text>
<text x="464.2" y="232.6" font-size="16.2" text-anchor="middle" fill="#000" stroke="#000" textLength="91.7" lengthAdjust="spacingAndGlyphs" >(c) Q-Q Plot</text>
<text x="421.9" y="411.0" font-size="14.0" text-anchor="middle" fill="#000" stroke="#000" textLength="7.2" lengthAdjust="spacingAndGlyphs" >5</text>
<text x="345.3" y="350.7" font-size="14.0" text-anchor="end" fill="#000" stroke="#000" textLength="7.2" lengthAdjust="spacingAndGlyphs" >5</text>
<text x="505.9" y="411.0" font-size="14.0" text-anchor="middle" fill="#000" stroke="#000" textLength="15.2" lengthAdjust="spacingAndGlyphs" >10</text>
<text x="345.3" y="292.4" font-size="14.0" text-anchor="end" fill="#000" stroke="#000" textLength="15.2" lengthAdjust="spacingAndGlyphs" >10</text>
<text x="464.2" y="432.5" font-size="14.6" text-anchor="middle" textLength="129.5" lengthAdjust="spacingAndGlyphs">OBS Anomaly (C<tspan font-size="10.2" dy="-5.5">0</tspan><tspan dy="5.5">)</tspan></text>
<text transform="translate(319.8,316.5) rotate(-90)" font-size="14.6" text-anchor="middle" textLength="125" lengthAdjust="spacingAndGlyphs">ALL Anomaly (C<tspan font-size="10.2" dy="-4.8">0</tspan><tspan dy="4.8">)</tspan></text>
</g>
</g>
</svg>
</body></html>
